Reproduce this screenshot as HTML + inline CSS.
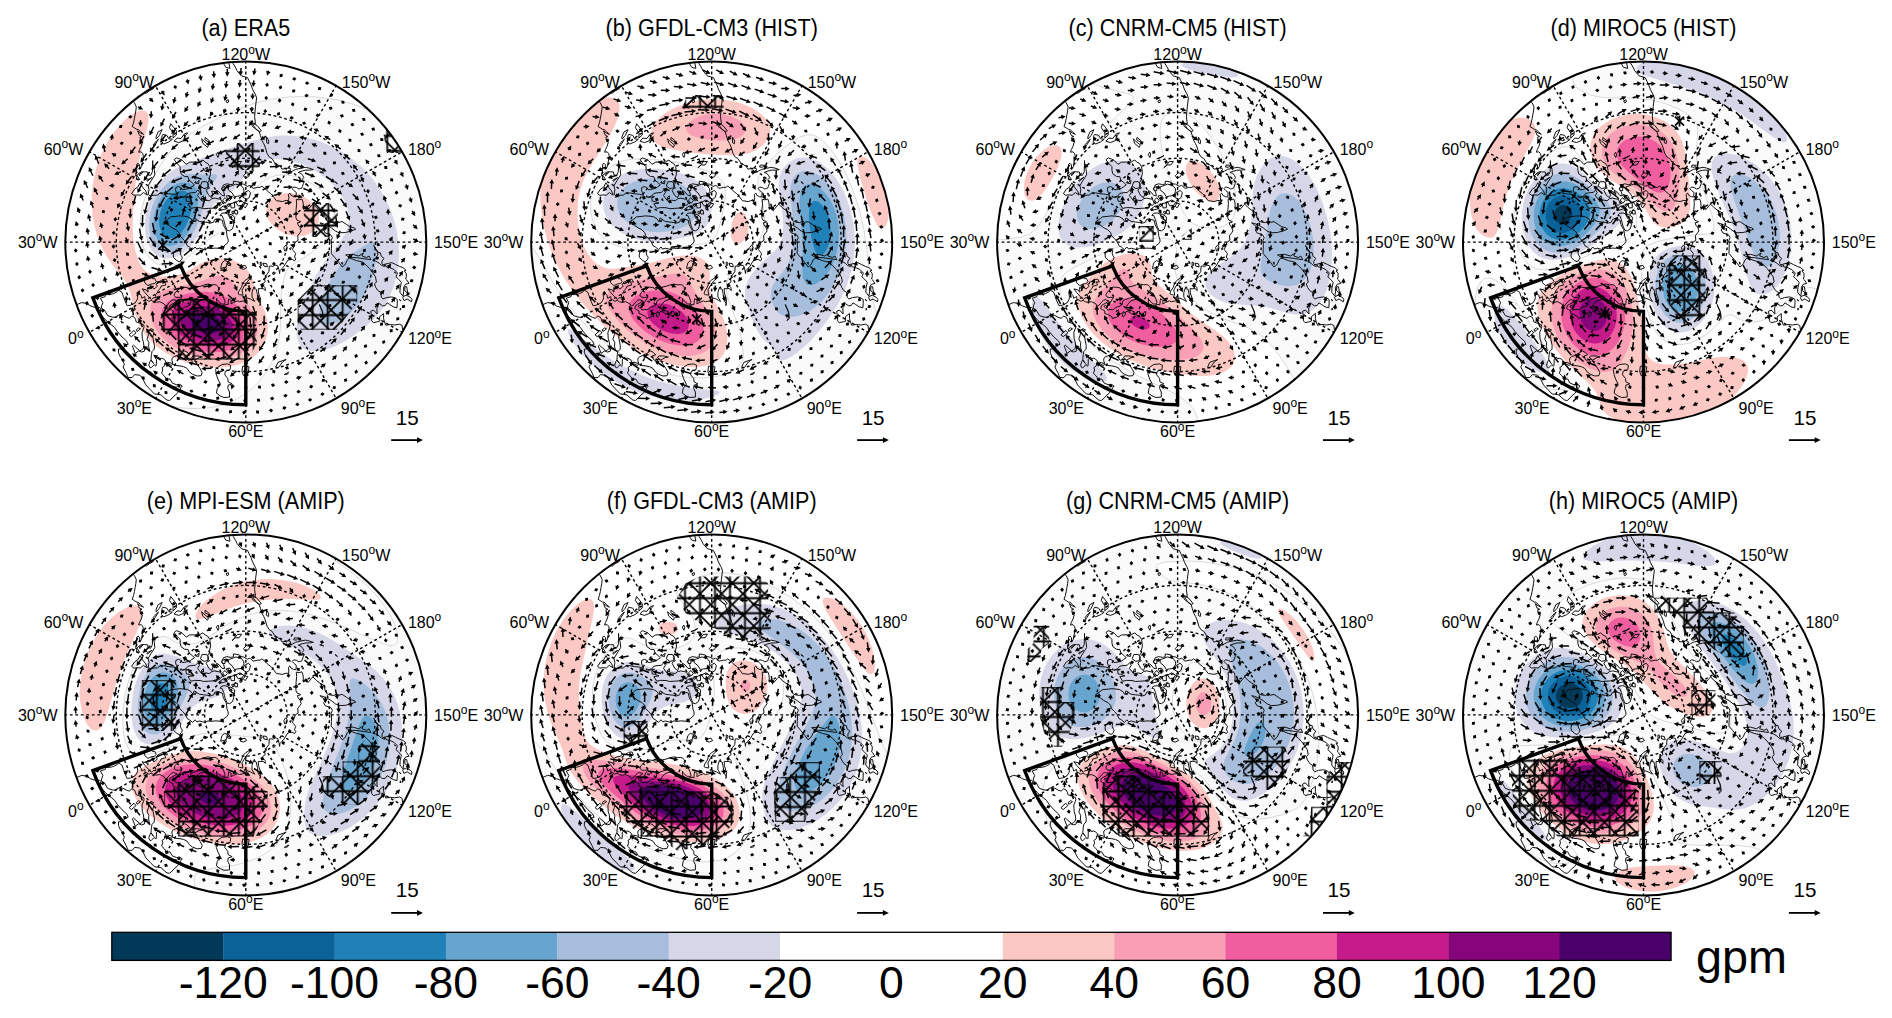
<!DOCTYPE html><html><head><meta charset="utf-8"><title>fig</title><style>html,body{margin:0;padding:0;background:#fff}svg{display:block}text{font-family:"Liberation Sans",sans-serif;fill:#000}.ll text{font-size:16px}.dg{font-size:12px}.tt{font-size:21.6px}.ll text.rv{font-size:20.6px}.cb{font-size:44.5px}.gp{font-size:46.8px}.cst{fill:none;stroke:#111;stroke-width:1;stroke-linejoin:round}.grd{fill:none;stroke:#000;stroke-width:1.4;stroke-dasharray:2.8 2.7}.bx{fill:none;stroke:#000;stroke-width:3.4;stroke-linejoin:miter}.sh{fill:none;stroke:#000;stroke-width:1.5}.hd{fill:#000;stroke:none}.z0{fill:none;stroke:#cfcfcf;stroke-width:.8}.oc{fill:none;stroke:#000;stroke-width:2}</style></head><body><svg width="1892" height="1018" viewBox="0 0 1892 1018"><defs><clipPath id="cc"><circle r="180.5"/></clipPath><pattern id="hg" width="15.0" height="15.0" patternUnits="userSpaceOnUse"><path d="M-1 7.5 H16 M7.5 -1V16" stroke="#000" stroke-width="1.8" fill="none"/></pattern><pattern id="hd" width="21.5" height="21.5" patternUnits="userSpaceOnUse"><path d="M-21.5 -43L43 21.5M-21.5 -21.5L43 43M-21.5 0L43 64.5M-21.5 21.5L43 -43M-21.5 43L43 -21.5M-21.5 64.5L43 0" stroke="#000" stroke-width="1.8" fill="none"/></pattern><g id="base"><path class="cst" d="M-77 -187.8L-75.4 -180.2L-73.5 -174.9L-75.7 -169.9L-78.1 -165.2L-80.9 -162.2L-86 -160.4L-90.3 -159.6L-93.4 -157.9L-92.5 -153.3L-96.4 -151.3L-99.3 -149L-103.4 -149.3L-105.4 -146.1L-107.8 -145.7L-111.3 -146.7L-114.3 -150L-120.1 -152.6L-124.9 -154.2L-125.3 -149.9L-119.5 -144.9L-114.2 -142.1L-111.5 -139.6L-109.5 -135.2L-110 -131.1L-110.7 -127.3L-111.4 -123.3L-112.3 -119.2L-113.6 -115.6L-111.5 -114.3L-108.8 -112.6L-107.7 -112.7L-105.2 -110.4L-102.2 -107.7L-105.5 -109.2L-108.2 -111.3L-106.4 -106.8L-103.8 -105.6L-105.8 -105.1L-105.3 -101.7L-103.4 -99.9L-104.6 -95.8L-106.3 -92.4L-107.1 -89.9L-104.6 -90.3L-103.1 -88.6L-102.4 -85.9L-103.1 -82L-103.9 -78.3L-104.2 -75.7L-105.9 -72.8L-106.1 -77.1L-107.6 -78.8L-109.1 -77.8L-109.1 -72.2L-110.2 -66.2L-108.8 -66.7L-106.5 -69.1L-104.2 -70.3L-101.1 -70.3L-98.2 -70.1L-97.6 -67.1L-95.2 -66.7L-93.4 -70.3L-93.1 -76.7L-93.1 -81.5L-93.1 -78.1L-91.5 -72.8L-91 -67.3L-94.7 -61.5L-97.7 -56.4L-96.8 -52.5L-97.6 -47.6L-95.5 -46.2L-91.9 -46.8L-88.4 -47L-85.4 -49.3L-81.9 -49.2L-77.3 -48.3L-72.3 -47.9L-68.1 -46.8L-69.4 -49.5L-70.2 -51.9L-69.9 -54.6L-67.4 -55.5L-65.3 -54.8L-63.5 -52.4L-61.5 -52.5L-59 -53.1L-56.5 -53.7L-54.2 -55.2L-51.4 -57.1L-53.1 -59L-56.6 -61.8L-57.8 -65.4L-61.1 -65.6L-64.8 -68.3L-65.6 -71.6L-65.7 -75.5L-68.9 -78.7L-71.6 -82.4L-69.4 -84.2L-66.1 -83.1L-63.2 -81.5L-59.6 -77.7L-56 -80L-50 -80L-46.3 -80.2L-42.8 -82.1L-40.7 -79.9L-38 -78.6L-36.1 -75.6L-35.4 -71.1L-35.3 -67.9L-36.3 -64.7L-36.1 -62.5L-38 -59.7L-37.2 -55.1L-36.2 -54L-38.3 -53.6L-39.6 -51.6L-36.9 -46.5L-34.1 -44.4L-32.8 -47.8L-34.3 -50.9L-31.8 -50.8L-29.1 -49.4L-29.2 -51.7L-26.5 -49.9L-23.8 -46.6L-21.1 -46.3L-22.2 -50.5L-24.3 -53.2L-23.2 -54.6L-22.5 -57.1L-19 -58.3L-14.9 -57.5L-12.3 -58.1L-12.4 -60.9L-9.6 -60.6L-6.3 -59.9L-5.1 -58.3L-2 -57.9L1.5 -55.7L4 -56.7L4.9 -56.3L7.1 -53.8L9.1 -54.1L11.6 -54.7L14.2 -54.7L16 -56L18.2 -54.4L20.2 -52.5L22.4 -50.4L24.8 -48.6L26.9 -46.5L28.6 -44.1L30.7 -41.3L33.3 -41.1L36.5 -40.5L40.3 -41.7L42.9 -41.4L43 -44.9L42.6 -47.6L44.1 -49L45.2 -46.8L47.8 -45.4L50.2 -45.2L50.5 -49.6L48.1 -51.5L46.4 -53.4L47.9 -55.1L50.8 -54.5L53.1 -53.1L56.1 -54.1L56.6 -55.7L57.7 -58.7L56.1 -62.3L58 -64.4L56.9 -66.6L55.2 -68.7L52.5 -69.7L54 -70.4L59.3 -71.9L63.7 -72L67.6 -72.5L63.2 -74L59.5 -74.8L54.6 -73.7L49.9 -72.7L47 -71.1L43.3 -69.3L40.1 -69.5L42.7 -69.7L45.2 -72.9L42.9 -74.3L40 -73.6L36.3 -72.9L34.5 -75.7L31.4 -77.7L28.7 -79.6L26.3 -83.5L23.6 -85L21.3 -88.6L19.4 -95.1L17.9 -98.5L16.1 -101.8L14.6 -106.7L13.5 -110.2L9.5 -113.4L6.5 -115.8L6.2 -117.4L5.3 -121.5L6.2 -119.2L9.7 -118.4L8.8 -125.4L9.7 -135.6L10.8 -144.1L9.8 -147.1L6.7 -153L5.2 -157.2L1.7 -164.5L-4.4 -166.2L-8.7 -171.3L-10 -174.1L-12.5 -178.3L-15.3 -182.8L-19.1 -187.6M-25.9 -184.2L-22.6 -179.1L-19.9 -174.7L-15.8 -173.7L-17 -179.7L-21.8 -185.5M-81.8 -20.4L-78.6 -22.5L-75.3 -25.2L-69 -25.8L-66.6 -26.2L-62.7 -26L-58.3 -25.4L-54.6 -23.2L-52.8 -20.3L-49.4 -22.5L-46.5 -20.7L-42.2 -20.1L-37.7 -19.6L-35 -19L-32.1 -20L-31.1 -22.6L-28.8 -23.3L-25.8 -22.5L-23.4 -21.8L-22.6 -17.7L-21.3 -14.9L-19.7 -12.3L-19.1 -8.9L-18.8 -5.8L-17.8 -3.1L-17.5 -0.6L-19 1.7L-20.8 2.9L-22.7 4.8L-22.1 7.2L-26.7 6.2L-30.9 6L-35 6.5L-37.9 6L-40.5 7.5L-43.4 6.9L-46.3 6.1L-49 6.9L-50.7 4.9L-53.2 7.5L-56.3 4.9L-58.7 3.6L-60.2 0L-63 -3.3L-66.1 -6.4L-66.9 -9.4L-69.7 -12.3L-73.7 -14.3L-77.5 -17.2L-80.8 -18.6L-81.8 -20.4M-71.8 9.5L-72.5 12.8L-72.3 15.4L-68.9 18.5L-66.5 19.6L-64.1 17.4L-63.5 15.2L-64.8 13.2L-65.5 11L-64.8 8.5L-66.9 7L-68.1 9.6L-69.5 7.3L-70.6 9.9L-71.8 9.5M-63.9 -44.7L-60 -46L-57.9 -48.6L-54.7 -49.3L-50.5 -49.6L-47.8 -52.2L-46.3 -49.6L-48.2 -46.6L-46.1 -43.8L-43.8 -40.9L-39.9 -42L-36.5 -41.3L-33.9 -43.4L-30.8 -44L-25.1 -42.7L-23.3 -38.9L-25.5 -36.4L-27.9 -39.2L-28.2 -34.8L-31.3 -34.7L-32.8 -34L-37.4 -33.7L-42 -33.4L-45.6 -34.4L-51.1 -34.5L-55 -33.7L-57.8 -38.3L-52.7 -39L-56.9 -40.6L-59.5 -40.9L-59.9 -44.3L-57.2 -45.5L-63.9 -44.7M-25.7 -26.6L-24.1 -28.8L-20.4 -29.2L-17.4 -27.9L-16.1 -23.8L-12.3 -21.3L-12.1 -17.2L-13.3 -13.3L-16.1 -11.3L-18.5 -11.6L-20.5 -16L-21.3 -19.2L-22.1 -22.5L-23.8 -26.5L-25.7 -26.6M-17 -27.2L-14.8 -27.8L-11.1 -25L-11.3 -21.2L-14.3 -23.3L-17 -27.2M-26.5 -31.5L-22.7 -32.4L-18.6 -33.6L-19.3 -36.3L-22.5 -36.1L-27.1 -32.8L-26.5 -31.5M-15 -56L-10.2 -57.9L-5 -56.9L-2.3 -53.7L-1.8 -50.9L-4.1 -46.5L-8.1 -46L-11.3 -45.3L-13.6 -49.1L-17.5 -52.3L-17.4 -55.3L-15 -56M2.7 -51.7L4.7 -49.3L3.5 -44.6L0.7 -42.5L-3.2 -45.2L-1.3 -49.5L2.7 -51.7M-10 -39.9L-5.9 -42.1L-2.1 -39.7L-3.9 -36.8L-7.7 -36.2L-10 -39.9M-19.6 -46.1L-16.1 -46.8L-14.2 -43.6L-16.7 -41.3L-19.6 -46.1M-23.3 -42.1L-20.7 -44.4L-18.4 -41.4L-20.6 -38.8L-23.3 -42.1M-39.3 -60.5L-43.8 -60.3L-45.4 -56.1L-41.8 -53.5L-38.1 -54.4L-37.7 -58.1L-39.3 -60.5M-105.7 -59.3L-108 -55.1L-111.2 -53L-114.2 -48.5L-111.9 -46.8L-108.6 -47.2L-105.4 -46.9L-102.4 -49.5L-98.5 -47L-100 -51L-103.2 -54.9L-105.7 -59.3M7 -118.5L11.2 -116.7L15.6 -111.2L13.6 -110.5L9.9 -113.4L7.7 -116.6L7 -118.5M20.8 -105L23 -101.1L22.7 -98.4L20.8 -99.4L20.8 -105M52.8 -76.8L48.6 -77.1L47.9 -75.1L50.5 -74.8L52.8 -76.8M57.8 -46L56.4 -49.1L55.6 -48.7L56.8 -46L57.8 -46M-58.1 -109.3L-61.1 -105.8L-62.2 -101.5L-67.1 -99.5L-71.7 -100.9L-68.8 -104L-64.8 -103.6L-61.3 -108.3L-58.1 -109.3M-75.1 -118.4L-76.3 -114.4L-72.7 -109.1L-72.8 -104L-69.5 -107L-69.3 -110.9L-72.4 -115L-75.1 -118.4M-73.4 -102.8L-76.9 -100.2L-82.2 -98L-84.3 -100.4L-83.8 -106.2L-82.9 -107.7L-78.9 -106.7L-77 -103.3L-73.4 -102.8M-83.6 -112.5L-86.4 -106.7L-89.6 -103.1L-89.8 -105.1L-87.7 -110.2L-83.6 -112.5M-87.3 -102.9L-90.7 -97.3L-91.9 -95.8L-92.5 -97.4L-89.4 -101.1L-87.3 -102.9M4.2 -68.6L0.6 -69.3L-2.3 -66.4L-0.6 -63.9L2.9 -65.5L4.2 -68.6M-4.2 -80.7L-8.5 -80.4L-12 -75.6L-13.8 -74.4L-10.8 -77.2L-6.7 -77.1L-4.2 -80.7M-44.2 -103.2L-42.9 -98.7L-38.3 -94.7L-37.3 -97.1L-41.8 -100.9L-44.2 -103.2M-13.7 -86.5L-17.8 -83.9L-20.8 -83.3L-16.5 -85.1L-13.7 -86.5M-183.2 56L-175.3 62.1L-171.1 63L-167.6 62L-164.3 60.5L-159.5 61.2L-155 63.9L-149.7 65.7L-146 65.3L-145 66.7L-145.7 71L-144 73.7L-140.2 77.7L-138.3 79.8L-134.7 82.5L-131.3 85.3L-128.2 89.8L-123.7 94.9L-119 99.1L-117.6 102.3L-121.1 103.5L-122.8 106.8L-127.3 106.9L-127.3 110.7L-125.4 114.9L-124 116.4L-121.4 122.2L-122.7 124.9L-119.7 130.7L-117.7 135.4L-113.7 135.5L-111.2 132.5L-105.9 133.1L-103 136.7L-100 142.8L-95.7 147.4L-91.3 151.9L-87.9 152.2L-84.7 152.8L-81.7 155.7L-78.8 158L-76.2 158.4L-72.8 155.3L-71.7 153.8L-68.7 151.4L-66.5 148.6L-64.8 145.5L-63.5 143.9L-66.3 142.2L-69.5 142.6L-73.4 141L-75.9 136.9L-79.1 137.1L-81.8 133.5L-84.2 131.2L-83 127.9L-83.7 125.5L-81.3 123.8L-81.1 121.1L-77.6 121.8L-74.2 123.5L-73.4 122.1L-69.8 123.4L-65.8 123.8L-62.1 124.6L-58.8 126.2L-56.4 129.8L-53.4 132.1L-48.7 133.9L-44.7 133.6L-43.6 130.5L-45.9 126.2L-49.1 121.6L-50.6 119.2L-51 118L-46.7 115.6L-43.4 114.9L-46.1 114.2L-49.5 113.8L-53.1 113.9L-54.1 115.9L-51.3 117.5L-53.9 117.7L-57.6 118.1L-58.4 117L-59.2 113.7L-56 112.9L-58.6 110.1L-61 108.8L-65 111.3L-68.9 113.4L-71.9 114.6L-73.7 116.1L-73.9 118.3L-73 121.6L-75.5 120.8L-78.1 120.3L-80.5 120.3L-80.2 118.9L-81.9 117L-84.3 116.1L-86.3 116.7L-86.9 115L-89.4 117.3L-89.3 119.8L-89.6 123.4L-90.2 124.2L-91.5 122.4L-94.8 125.8L-96.1 125.3L-97 122.9L-95.8 119.5L-94.9 118L-92.2 121.5L-94.7 117.8L-94.7 115.7L-94.3 112.4L-93.8 109.4L-91.5 107.1L-91.4 103.3L-92.3 98.9L-93 94.7L-91.9 90.3L-93.8 89.3L-92 87.9L-94.7 86.5L-97.4 88.7L-97.3 92.6L-98.8 97.1L-96.9 100.4L-97.2 104.2L-96.2 108.7L-98.5 105.6L-101.1 106.9L-101.5 109.2L-104.3 109.9L-106.5 109.1L-104.3 108L-102.4 106.1L-101.9 103.7L-102.4 100L-103.5 96.5L-103.6 93.9L-103.8 90.2L-102.4 86.9L-101.7 84.7L-102.3 82.5L-105.8 81.2L-109.7 79.7L-110.3 77.2L-111.4 75.1L-114 74L-116.5 76.2L-119.4 75.2L-122.9 73.3L-128.1 73.1L-129.5 75.3L-133.6 75L-138.2 73.5L-141.5 67.8L-144.5 66.2L-144 63.2L-142.9 60.6L-145.4 56.1L-140.6 54.5L-140.3 52.5L-136 52.5L-132.1 51.5L-128.3 49.5L-127.2 48.1L-123.9 50.1L-122.4 54.5L-120.7 58.9L-118.7 63.6L-115 63L-110.7 60.9L-108.7 57.8L-108.1 55.6L-108.6 51.8L-107.1 50.6L-104.7 53.3L-103.9 56.2L-101 54.4L-100.6 57.6L-99.1 57.7L-96.8 59.3L-94.6 58.2L-92.1 59.8L-89.2 60.2L-86 59.6L-83.6 60.8L-81.8 61.7L-80.4 64L-78.5 63.1L-76.2 60.2L-74 58.1L-72.1 57.6L-68.8 58.8L-71.8 60.9L-74.4 62.4L-76.2 63.5L-76.9 66.4L-75 67.6L-72.6 68.9L-72.9 71.2L-69.9 72.4L-65.9 74.5L-64.8 76.7L-63.6 75.7L-61.1 75.4L-58.7 72.4L-56.7 71.3L-55 71.9L-55.1 74.4L-54.4 74.9L-52.2 72.9L-52.4 70.9L-51.2 69.2L-48.9 69.8L-45.2 72.3L-42 72.8L-42.9 69.9L-46.2 68.5L-48 68.3L-50.8 67.4L-51.2 64.4L-49.6 62L-46.7 58.7L-41.6 57.2L-39.4 57.1L-38.9 54.6L-41.4 53.4L-44.5 55L-48.9 56.2L-52.7 57.5L-54.9 59.3L-55.5 62.7L-57.3 63.9L-61.5 65.2L-64.5 67.7L-67.4 67.4L-69.8 67.9L-71.1 66.1L-69.8 64L-67.4 60.5L-65.2 57.1L-64 54.9L-67.4 55.5L-70.4 55L-71.8 53.1L-70.7 50.6L-67.5 47.6L-64.3 45L-61 45.2L-57.6 45.8L-56.1 47.7L-52.7 45.8L-49 44.9L-44.8 44L-41.2 42.7L-37.8 42L-36.7 42.2L-34 42.7L-31.5 42.5L-29.2 43L-27.9 44.6L-26.3 47.5L-28 48.5L-25.8 50.6L-23.5 52.7L-21.8 56.7L-20.7 60.1L-21.4 62L-24.4 61.8L-27.5 58.9L-29.1 57.2L-29.3 56.1L-29.1 59.7L-29.8 63.2L-28.4 67L-27 66.9L-26.7 64.6L-24.1 66.2L-22.4 63.2L-19.6 62.3L-17.8 62.8L-17.3 58.3L-17 56.6L-14.6 58.4L-14.8 61.8L-12.3 60.4L-8.3 58.8L-6.3 59.6L-3.1 59L0 58.5L1 55.7L4.5 56.9L7.2 58.4L8.9 59.3L6.2 54.8L6.2 50.5L7.4 46.4L10.4 47L11.6 52.4L12.3 58.1L14.8 61.8L14.1 63.5L14.9 57.5L12.7 50.8L12.5 46.5L15.1 46.6L17.3 46.4L19.6 48.5L19.3 45.6L16.2 42.3L19.4 39.7L18.7 36.7L20.6 33L23.1 29.6L23.5 24.1L25.2 23.9L27.1 24.4L29.2 22.8L32 23.7L33.2 27.9L33.8 31.5L34.1 28.6L36 26.6L38.4 24L40.6 20.2L42.2 17.9L46.4 17.3L48.8 18.7L50.1 16.8L48.7 14.9L49.9 11.5L47.4 8.4L46.7 7.4L48.3 3.4L49.5 0L52.3 -1.8L51.9 -6.4L54.3 -9.6L55.4 -11.3L54.3 -14.6L52.4 -17L51.6 -19.3L54.4 -19.8L54.8 -20.5L51.3 -21.8L50.1 -24.4L50.2 -29L50.3 -32.6L50.8 -38.3L50.5 -42.8L53.1 -42.3L56.1 -43.1L57.2 -40.1L57.6 -36L57 -34.2L59.7 -35.2L61.9 -33.6L62.2 -32.4L65.6 -36.4L67.1 -38L70.6 -34.4L74.4 -31.6L78.5 -29.3L79.3 -24.2L81.4 -21L84.4 -19.9L88.1 -19.5L91.1 -21L92.9 -19.7L96.4 -20.5L100.6 -17.7L103.8 -15.5L108.2 -14.3L110 -12.9L105.5 -11.1L99.6 -9.6L93.6 -9.3L89.6 -11L85.5 -14.3L81.5 -16.6L77.2 -18.5L74.1 -19.2L77 -17.1L79.6 -14L77.6 -12.3L79.5 -9.1L84.9 -7.4L86.6 -4.5L85.2 -1.2L85.8 2.2L85.6 6.7L85.4 11.2L89.2 15.7L93.3 20.7L96.3 24.9L99 22.9L100 21.2L101.5 17.9L103.4 16L106.3 16.8L110.7 18.5L116.8 20L120.9 23.5L123.6 26.3L126.9 30.5L129.7 34.8L130.6 39.9L128.7 41.8L129.9 45.2L132.2 48.6L135 50.5L135.6 55.3L137.2 56.8L140.9 55.5L145.9 54.8L149.2 55.8L151.5 57.5L151.5 61.2L151.2 65.7L147.4 64.7L143.7 62.2L141.3 60.8L139.4 63.5L136.7 63.7L134 61.6L131.7 63.4L131.1 66.8L131.4 71.9L127.8 68L124.9 69.2L125.9 74.2L125.9 78.7L127.5 80.6L132 79.6L134 78.9L133.7 74.7L137.8 71.4L137.8 76.4L138.4 78.9L139.9 83.1L144.4 82.4L148.9 82.9L153.8 82.1L156.3 83.5L156.8 87.3L159.7 84.9L163.6 88.5L166.1 94L169.2 99.2M-40.3 181.6L-37.9 178.3L-34.8 176L-32.8 176.8L-30.1 179.8L-27.9 186.5M-82.7 169.5L-77.3 165.1L-78.8 170.5M-85.6 165.1L-83.3 160.1L-83.8 168.1M-23.8 122.4L-27.7 124.9L-30.2 127.6L-29.4 132.7L-27.9 137L-25.3 142.2L-28.5 146.4L-29.4 151L-25.7 153.7L-21.8 155.4L-16.3 155L-16.3 149.9L-18 146.3L-17.6 143.1L-13.7 141.8L-17.7 139.7L-18 136.4L-21 132.7L-20.5 129.2L-15.7 127.6L-15.1 123.2L-18.2 121.8L-23.8 122.4M-3.2 124.1L3.3 124.7L2.3 131.1L-2.3 133.7L-3.8 129.4L-3.2 124.1M75.4 78.6L76.8 75.5L76.6 69L73.6 62.4L74.4 64.7L77.1 70.7L77.7 76.3L75.4 78.6M30 125L32.2 120.2L40.4 117.3L36.7 119.9L32.5 125.7L30 125M-41.9 72.5L-38.4 73.8L-37 71.9L-38.5 68.8L-41.9 72.5M-34.8 73L-32.4 73.4L-31.7 69.6L-33.2 69.6L-34.8 73M157.2 54.1L154.1 50.1L154.4 45.7L155.6 40.2L152.2 36.5L150.2 34.7L151.7 30.9L148.3 27.5L143.6 25.3L140.3 24.7L139.4 22.1L142.5 21.3L146 20.5L149.8 22.4L154 24.4L157.2 25.5L160.3 28.3L158.4 28.8L160.4 31.2L160.6 34.1L159.9 36.9L160.8 37.7L163.2 41.3L159.7 42.2L157.8 45.2L157.9 49.8L157.2 54.1M157.4 54.5L160.5 53.1L164.3 55L166.2 57.2L165.7 59.7L161.4 56.9L158.2 58.5L157 55.6L157.4 54.5M161.9 51L161.4 47.8L160.9 44.6L159 44.7L159 48.6L161.9 51M138.7 24.5L135.6 23.2L133.6 21.2L129.7 18.9L126.9 18.3L130.1 16L132.1 12.7L131.3 10.8L134.5 10.6L135.5 14.2L138.2 16.2L136.2 19.1L136.2 21.6L137.3 23L138.5 21.9L138.7 24.5M125.1 17.6L123.3 14L120.6 15.4L116.1 13.8L117.6 10.9L112.9 13.9L107 12.2L102.3 12.6L99.9 12.8L102.1 14.3L106.5 15.4L111.2 15.6L117.3 16.5L125.1 17.6M-103.7 46.8L-101 50.4L-97.6 54.1L-94.3 57.4L-92.8 55.8L-89.8 55.4L-90.4 52.6L-88.8 51.2L-87.4 48.1L-85.4 46.2L-84.8 44.1L-81.5 43.3L-80 42.9L-81 40.4L-81.6 39.8L-78.3 39.9L-79.6 37.1L-83.1 37.4L-85.6 39L-88.6 40.4L-87.6 41.2L-89.9 41.9L-88.5 44.1L-90.5 46.1L-92.1 46.9L-93.6 44.6L-94.7 45.8L-95.9 46.8L-98 45.3L-97.9 47.7L-97.6 49.7L-98.1 50L-99.1 47.9L-103.7 46.8M-97.8 43.5L-100.9 40.8L-101.7 37L-96.9 35.3L-94.9 34.5L-93.1 36.7L-91 36.4L-89.6 39.5L-91.1 41.3L-94.8 42L-97.8 43.5M-23.8 20.7L-24.6 23.8L-25.1 26.4L-21.1 25.2L-19.4 24.8L-18.7 20.7L-14.9 22.9L-16.7 19.9L-21.3 18.5L-23.8 20.7M-7.7 51.7L-6.4 52.5L-2.8 53.1L-3.8 48L-1.5 43.9L1.4 39.7L5 35.8L3.7 35.4L0 37.8L-2.8 40.5L-4.3 45.1L-6.9 49L-7.7 51.7M-5.6 26.2L-2.4 27.2L0.9 25.7L-0.8 23.2L-4.3 24.2L-5.6 26.2M18.1 24L17.6 21L20.9 21.7L21.6 24.8L18.1 24M14.5 23.2L14.5 19.9L16.3 20.9L15.8 23.4L14.5 23.2M38.8 8.9L38 5.3L40.2 2.8L41.4 5.1L40.8 8.7L38.8 8.9M44.6 7.9L45.5 5.6L43.8 6.2L44.6 7.9M46 -25L45.3 -27.2L43.7 -27.8L43.9 -25.8L46 -25M-112.4 103L-106.4 108.3L-110.6 111.3L-113.4 103.9L-112.4 103M-111.8 88.3L-109.8 90.8L-114.4 94.6L-116.7 92.8L-111.8 88.3M-107.1 85.8L-105.1 86.7L-108.8 89.4L-109.4 87.6L-107.1 85.8M-95.6 129.6L-89.9 134.8L-95.7 131.7L-95.6 129.6M-75.7 144.1L-69.2 145L-73.1 146.6L-75.7 144.1M154.3 68.1L154.5 65.9L155.1 67.1L154.3 68.1M-11.6 56.8L-10.3 55.6L-10.1 57.1L-11.2 57.7L-11.6 56.8M-61.7 69L-59 67.9L-60.4 69L-61.7 69M77.9 -68.9L73.9 -70.1L75.4 -70.3L77.9 -68.9M91.6 -58.3L89.2 -60.2L90.5 -59.9L91.6 -58.3M61.6 -56.8L59.3 -57.9L60.7 -58.6L61.6 -56.8M131.1 9.2L127.9 3.3L130 6.8L131.1 9.2M85.4 -20.5L83.4 -21.3L85.6 -21L85.4 -20.5M2 -38.3L-0.7 -38.9L-2.5 -36.1L-0.6 -34.2L2 -38.3M-11.3 -39.6L-15.4 -38.2L-14.5 -34.1L-11.2 -34.4L-11.3 -39.6M-16.6 -38.3L-18.7 -37.6L-17.7 -35.6L-16.1 -36.1L-16.6 -38.3M-20.8 -55.6L-24.1 -54.2L-23.4 -51.4L-20.8 -51.4L-20.8 -55.6M-42.4 -46.3L-44.4 -44.4L-42.2 -42.9L-42.4 -46.3M-46.6 -61.8L-49.5 -59L-47.2 -58.3L-46.6 -61.8M-50.1 -60.8L-51.2 -59.5L-49.6 -58.7L-50.1 -60.8M-64.4 -82.4L-67.2 -81L-65.3 -80.6L-64.4 -82.4M-94 -64.6L-98.9 -61.8L-98.4 -60.8L-94 -64.6M-102.8 -70.1L-106 -66.3L-106.5 -67.9L-102.8 -70.1M-108.8 -66.7L-109.4 -63.2L-106.1 -62.5L-108.8 -66.7M-8.5 -31.7L-11.4 -31.4L-10.8 -28.1L-8.1 -28.1L-8.5 -31.7M-12.5 -31L-14.1 -30.3L-13 -27.8L-11.7 -28.9L-12.5 -31M-28.5 -35.2L-32.4 -34.1L-29.8 -33.1L-28.5 -35.2M-51.7 -24.1L-52.4 -21.2L-50.3 -20.3L-49.3 -22.8L-51.7 -24.1M-1.5 56L0.5 56L0 53.7L-1.4 54.5L-1.5 56M-55.2 70.6L-53.4 70.9L-52.9 70.2L-54.3 69.5L-55.2 70.6M-73.7 64.1L-72 66L-70.3 64.4L-72 63.3L-73.7 64.1M-124.8 79.2L-122.3 80.6L-124.2 80.7L-124.8 79.2M-17.5 -142.4L-19.8 -141.1L-18.8 -139.2L-17.2 -140.1L-17.5 -142.4M-27.8 -89.9L-29.4 -87.8L-27.8 -84.6L-26.9 -87L-27.8 -89.9M-40.6 -104.7L-40.9 -102.2L-36.3 -99.7L-36.5 -101.3L-40.6 -104.7M-49.3 -43.7L-50.3 -42.2L-48.6 -41.5L-49.3 -43.7M38.5 132.4L42.8 130.1L41.7 132.1L38.5 132.4M27.3 32.6L29.4 30.4L28.8 32L27.3 32.6M-64.6 59.2L-62.4 60.2L-62.3 59.1L-64.6 59.2M-4.2 -34L-6 -34.3L-5.7 -32.4L-4 -32.9L-4.2 -34M-0.3 -39.5L-1.7 -40L-1.5 -38.4L-0.3 -39.5M-10.3 -44.7L-11.9 -44.6L-11.1 -43.1L-10.3 -44.7M-9.9 -32.5L-11.1 -32.1L-10.4 -31.2L-9.9 -32.5M-44 -44L-44.9 -42.6L-43.7 -42.2L-44 -44M-64.9 -46.3L-65.7 -45.1L-64.3 -45L-64.9 -46.3M-18.7 20.7L-18 23.1L-15.3 23.6L-15.1 21.5L-17.4 20L-18.7 20.7M-21.5 26.6L-20 27.5L-19.4 25.8L-20.5 25.3L-21.5 26.6M7.6 45.5L9.3 45.5L8.6 44.5L7.6 45.5M96.6 22.3L96.5 20L95.5 20.6L96.6 22.3M132.9 10.5L130.9 8L131.1 9.4L132.9 10.5M149.9 31.3L148.5 29.9L149.8 30.5L149.9 31.3M155.1 58.9L153.4 57.4L154.9 58.2L155.1 58.9"/><path class="grd" d="M41.2 0A41.2 41.2 0 1 1 -41.2 0A41.2 41.2 0 1 1 41.2 0M83.8 0A83.8 83.8 0 1 1 -83.8 0A83.8 83.8 0 1 1 83.8 0M129.5 0A129.5 129.5 0 1 1 -129.5 0A129.5 129.5 0 1 1 129.5 0M41.2 0L180.5 0M35.6 20.6L156.3 90.2M0 0L90.3 156.3M0 41.2L0 180.5M-20.6 35.6L-90.2 156.3M0 0L-156.3 90.2M-41.2 0L-180.5 0M-35.6 -20.6L-156.3 -90.3M0 0L-90.3 -156.3M0 -41.2L0 -180.5M20.6 -35.6L90.3 -156.3M0 0L156.3 -90.3"/></g><g id="top"><path class="bx" d="M-65.1 23.7L-152.9 55.7A162.7 162.7 0 0 0 0 162.7L0 69.3A69.3 69.3 0 0 1 -65.1 23.7z"/></g><g id="lab" class="ll"><text x="0" y="-181.7" text-anchor="middle">120<tspan class="dg" dy="-6.6">o</tspan><tspan dy="6.6">W</tspan></text><text x="0" y="195.2" text-anchor="middle">60<tspan class="dg" dy="-6.6">o</tspan><tspan dy="6.6">E</tspan></text><text x="-188.3" y="5.8" text-anchor="end">30<tspan class="dg" dy="-6.6">o</tspan><tspan dy="6.6">W</tspan></text><text x="188.3" y="5.8" text-anchor="start">150<tspan class="dg" dy="-6.6">o</tspan><tspan dy="6.6">E</tspan></text><text x="-91.8" y="-154.3" text-anchor="end">90<tspan class="dg" dy="-6.6">o</tspan><tspan dy="6.6">W</tspan></text><text x="96" y="-154.3" text-anchor="start">150<tspan class="dg" dy="-6.6">o</tspan><tspan dy="6.6">W</tspan></text><text x="-162.5" y="-87.2" text-anchor="end">60<tspan class="dg" dy="-6.6">o</tspan><tspan dy="6.6">W</tspan></text><text x="162.1" y="-87.2" text-anchor="start">180<tspan class="dg" dy="-6.6">o</tspan><tspan dy="6.6"></tspan></text><text x="-162.1" y="102.2" text-anchor="end">0<tspan class="dg" dy="-6.6">o</tspan><tspan dy="6.6"></tspan></text><text x="162.1" y="102.2" text-anchor="start">120<tspan class="dg" dy="-6.6">o</tspan><tspan dy="6.6">E</tspan></text><text x="-93.8" y="171.5" text-anchor="end">30<tspan class="dg" dy="-6.6">o</tspan><tspan dy="6.6">E</tspan></text><text x="95" y="171.5" text-anchor="start">90<tspan class="dg" dy="-6.6">o</tspan><tspan dy="6.6">E</tspan></text><text class="rv" x="161.4" y="182.6" text-anchor="middle">15</text><path d="M145.4 198H172" stroke="#000" stroke-width="1.8" fill="none"/><path d="M177.2 198L171.2 195.2V200.8z" fill="#000"/></g><pattern id="g1" href="#hg" x="-74.5" y="65"/><pattern id="d1" href="#hd" x="-59.5" y="71.7"/><pattern id="g2" href="#hg" x="44.4" y="50.5"/><pattern id="d2" href="#hd" x="74.6" y="57.2"/><pattern id="g3" href="#hg" x="-15.6" y="-98.5"/><pattern id="d3" href="#hd" x="-0.6" y="-91.8"/><pattern id="g4" href="#hg" x="133.9" y="-98.7"/><pattern id="d4" href="#hd" x="148.9" y="-92"/><pattern id="g5" href="#hg" x="60" y="-39.1"/><pattern id="d5" href="#hd" x="75" y="-32.4"/><pattern id="g6" href="#hg" x="-19.1" y="-142.8"/><pattern id="d6" href="#hd" x="-4.1" y="-136.1"/><pattern id="g7" href="#hg" x="-31.5" y="-8.5"/><pattern id="d7" href="#hd" x="-16.5" y="-1.8"/><pattern id="g8" href="#hg" x="6.5" y="-9.5"/><pattern id="d8" href="#hd" x="21.5" y="-2.8"/><pattern id="g9" href="#hg" x="33.3" y="35.5"/><pattern id="d9" href="#hd" x="48.3" y="42.2"/><pattern id="g10" href="#hg" x="-74.5" y="69.1"/><pattern id="d10" href="#hd" x="-59.5" y="75.8"/><pattern id="g11" href="#hg" x="-111.5" y="-42.5"/><pattern id="d11" href="#hd" x="-96.5" y="-35.8"/><pattern id="g12" href="#hg" x="89.4" y="53.8"/><pattern id="d12" href="#hd" x="104.4" y="60.5"/><pattern id="g13" href="#hg" x="-77.5" y="69.1"/><pattern id="d13" href="#hd" x="-62.5" y="75.8"/><pattern id="g14" href="#hg" x="-95.5" y="-1.5"/><pattern id="d14" href="#hd" x="-80.5" y="5.2"/><pattern id="g15" href="#hg" x="-4.2" y="-124.2"/><pattern id="d15" href="#hd" x="-0.9" y="-110.4"/><pattern id="g16" href="#hg" x="85.8" y="54.6"/><pattern id="d16" href="#hd" x="100.8" y="61.3"/><pattern id="g17" href="#hg" x="-66.4" y="69.1"/><pattern id="d17" href="#hd" x="-51.4" y="75.8"/><pattern id="g18" href="#hg" x="-127.1" y="-20.4"/><pattern id="d18" href="#hd" x="-112.1" y="-13.7"/><pattern id="g19" href="#hg" x="-141.3" y="-81"/><pattern id="d19" href="#hd" x="-126.3" y="-74.3"/><pattern id="g20" href="#hg" x="82.2" y="39.1"/><pattern id="d20" href="#hd" x="97.2" y="45.8"/><pattern id="g21" href="#hg" x="141.5" y="54.4"/><pattern id="d21" href="#hd" x="156.5" y="61.1"/><pattern id="g22" href="#hg" x="-86.3" y="68.4"/><pattern id="d22" href="#hd" x="-71.3" y="75.1"/><pattern id="g23" href="#hg" x="40.5" y="-32.5"/><pattern id="d23" href="#hd" x="55.5" y="-25.8"/><pattern id="g24" href="#hg" x="18.2" y="-110"/><pattern id="d24" href="#hd" x="33.2" y="-103.3"/><pattern id="g25" href="#hg" x="48.5" y="38.5"/><pattern id="d25" href="#hd" x="63.5" y="45.2"/></defs><g transform="translate(245.8 242.1)"><g clip-path="url(#cc)"><circle r="181.5" fill="#fafafa"/><path fill="#fff" fill-rule="evenodd" d="M-188 -188l376 0l0 107.7l-10.7-12.7l-12.2-12l-13.1-10.5l-14-9l-14-7.2l-15-5.8l-16-4.4l-8-1.5l-9-1.3l-16-1l-17 0.5l-16 2l-9 1.8l-8 2.1l-15 5.1l-17 7.5l-22 11.4l-8 4.8l-6 4l-7 5.5l-7 6.6l-6 6.9l-6 8.4l-6 9.9l-5 9.9l-4.3 10.3l-3.1 10l-2.2 10l-1 9l0.1 9l0.9 8l2.2 8l2.8 6l3.6 5.1l2 2l3 2.3l3 1.6l4 1.3l4 0.5l4-0.1l4-0.8l4-1.4l4-2l4-2.6l6.2-4.9l16.8-14.8l5-3.3l9.3-4.9l3.7-2.9l4-4.7l18.2-26.4l8.8-10.9l4.4-4.1l4.3-3l4.3-2.1l5-1.4l5-0.6l6 0.1l6.4 1l6.6 1.9l6 2.4l6 3.3l5 3.4l5 4.3l4 4.4l3.1 4.3l2.7 5l1.8 5l0.9 5l0 5l-0.8 5l-1.7 5l-2.1 4l-2.9 4.3l-4 4.7l-4 3.9l-5 4.1l-5 3.6l-17 10.4l-3.3 3l-2.1 3l-1.3 3l-1.1 4l-2.5 13l-0.8 9l-0.1 20l-0.6 11l-1.6 11l-3 11l-2.2 6l-2.8 6l-2.6 4.6l-4 6l-4 5l-4 4.3l-5 4.7l-5 3.9l-6 3.9l-6 3.2l-7 2.9l-6 1.8l-6 1.4l-8 1.1l-8 0.6l-9-0.1l-9-0.6l-9-1.3l-9-1.7l-9-2.2l-10-3l-8-2.9l-10-4.1l-10-4.8l-1 0.2l-4.8 4.1l0 1l-9.2 9l0 1l-9 9l0 1l-9 9l0 1l-7 7l-18 0z"/><path fill="#fcc8c4" fill-rule="evenodd" d="M-106.9 -131l3.9-0.6l3 0.8l1 0.9l1.1 1.9l0.5 2l0.1 3l-0.4 4l-1.1 6l-6.6 26l-2.9 14l-1.9 14l-2.4 27l-0.6 15l0.6 13l1.9 12l3.2 10l1.9 4l1.9 3l2.7 3l2 1.6l3 1.8l3.9 1.6l4.1 1l4 0.4l9-0.3l5-0.8l5-1.4l8-3.4l10.7-6.5l4.3-2.2l6-2.1l6-1.1l4-0.2l5 0.3l8 1.7l7 3l3 2l3.1 2.6l3.3 4l2.2 4l1.4 4l2.2 9l1.6 5l6.8 14l2.1 5l1.8 7l0.7 8l-0.6 6l-1.3 5l-2 5l-3 5l-3.4 4l-4.4 4l-5.5 3.5l-5 2.4l-5 1.8l-5 1.3l-11 1.4l-11 0l-12-1.6l-12-3.1l-11-4.3l-11-6l-8.7-6.4l-4.4-4l-4.6-5l-3.7-5l-3-5l-2.9-6l-2.1-6l-5-22l-2.9-8l-4.4-7l-10.3-12.9l-5-7.1l-4.6-8l-3.7-8l-3.2-9l-2.3-9l-1.5-9l-0.8-10l0.1-9l0.8-10l1.8-10l2.3-9l3.5-10l4-9l4.6-8.3l6-8.7l6-7.1l6-5.7l6-4.3zM40.2 -49l4.8 0l4 0.5l5 1.5l4 1.7l3.8 2.3l3.2 2.5l3 3.1l2.4 3.4l1.6 3.3l1 3.7l0.3 4l-0.5 3l-1 3l-1.8 3.1l-2.7 2.9l-3.3 2.4l-5 2.1l-5 0.8l-6-0.3l-6-1.4l-6-2.6l-6-3.8l-4.5-4.2l-2.9-4l-1.7-4l-0.6-5l0.7-4l1.8-4l3.2-3.9l4-3l5-2.1z"/><path fill="#d6d6e9" fill-rule="evenodd" d="M29.8 -106l9.2-0.5l10 0.4l10 1.4l10 2.4l10 3.5l9 4.1l9 5l9 6.3l7.8 6.4l7.2 7.1l6.7 7.9l6.4 9l5.2 9l4.7 10l3.6 10l2.7 10l1.8 10l0.9 10l0 10l-0.8 10l-1.9 10l-2.5 9l-3.7 9l-4.1 7.7l-5 7.3l-6 7l-8 7.5l-9.4 7.5l-9.6 6.5l-9 5l-8 3.5l-8 2.3l-7 0.9l-6-0.4l-5-1.7l-2-1.3l-2-2l-1.3-1.8l-1.4-3l-1.4-6l-0.1-8l1.1-9l2.1-8l3.5-9l5.1-11l6.8-13l8.1-13l16-21l5.7-9l1.8-4l1.3-4l0.7-4l0.2-4l-0.7-6l-1.7-6l-3.1-7l-3.7-6l-4.6-6l-5.4-5.6l-6-5.1l-6-4.2l-7-4l-8-3.6l-8-2.7l-7-1.7l-8-1l-7-0.1l-6 0.7l-6 1.7l-5 2.6l-5 4.1l-4 4.7l-8.9 12.2l-5.5 6l-5.6 4.4l-10 6.3l-4 3.8l-2 2.8l-2 3.7l-7.2 17l-5 9l-3.7 5l-3.5 4l-3.6 3.5l-4 3l-6 3.3l-5 1.4l-3 0.3l-3-0.1l-5-1.5l-3-1.7l-2-1.6l-3.9-4.6l-3.1-6l-1.7-6l-1.1-8l0.2-9l1.4-9l2.7-9l3.9-9l4.6-7.7l6-7.4l6-5.4l6-4l6-2.9l15.5-5.6l13.5-5.7l9-3.3l37-11.3l10-2.4z"/><path fill="#f99fb5" fill-rule="evenodd" d="M-30.6 34l4.6-0.7l4 0.5l4 1.8l3 2.6l8.2 12.8l10.1 13l4.1 6l2.1 4l1.5 4l0.8 3l0.4 4l-0.5 6l-1.9 6l-3.1 5l-4.9 5l-5.8 3.8l-7 3l-8 2l-8 0.8l-6 0l-6-0.4l-6-1l-7-1.7l-11-4l-6-3l-5-3.1l-4.6-3.4l-4.4-4l-3.6-4l-3-4l-2.2-4l-2.1-5l-1.3-5l-0.4-4l0.4-6l0.7-3l1.3-3l3.2-4.3l2-1.7l3-1.9l4-1.7l6-1.9l20.1-4.5l7.5-2z"/><path fill="#a6bddb" fill-rule="evenodd" d="M-57.1 -68l5.1-0.1l12 0.7l9-0.4l1.8 0.8l0.4 1l-0.1 1l-0.9 2l-5.2 6.9l-3 5.9l-2 5.6l-5.3 18.6l-2.4 7l-3.5 8l-4.3 7l-3.2 4l-3.3 3.3l-3.4 2.7l-3.6 2.1l-4 1.6l-3 0.6l-4-0.1l-3-0.8l-4.3-2.4l-3.7-3.8l-2.9-5.2l-1.6-5l-1.1-7l0.1-7l0.9-7l1.9-7l2.7-6.9l3.3-6.1l3.7-5.2l5-5.4l5-3.8l5-2.8l6-1.9zM124.7 0l1.3-0.4l1.2 0.4l1 1l1.2 3l1 7l-0.4 9l-1.4 8l-2.7 9l-3.2 8l-4.1 8l-4.5 7l-5.1 6.5l-5.4 5.5l-5.6 4.5l-6 3.5l-5 1.8l-5 0.5l-2-0.2l-2-0.8l-2.6-2.3l-1.4-3.1l-0.5-4.9l0.6-5l1.9-7l3-8l4-8.9l4-7.6l7-10.6l4-4.8l4-4l8-6.2z"/><path fill="#f05ea0" fill-rule="evenodd" d="M-46.5 50l6.5-0.3l6 0.4l5 1l5 1.7l5 2.6l6 4.2l5 4.4l5 5.4l3.1 4.6l1.9 4l1.3 5l0.2 4l-0.7 4l-1.6 4l-2.7 4l-3.5 3.3l-3 2.1l-4 2.1l-4 1.5l-5 1.2l-5 0.7l-5 0.3l-6-0.3l-5-0.6l-10-2.5l-5-1.9l-5-2.4l-4.4-2.5l-4.2-3l-3.4-3l-3.7-4l-2.2-3l-2.2-4l-1.4-4l-0.8-4l0.1-4l0.6-3l1.2-3l2-3l2.4-2.5l3-2.1l7-3.3l10-2.6z"/><path fill="#67a5cf" fill-rule="evenodd" d="M-66.2 -59l5.2-0.6l4.4 0.6l4.1 2l2.7 3l1.6 4l0.6 5l-0.3 6l-1 7l-2.1 8l-2.5 7l-3.5 6.8l-3.8 5.2l-4.2 4.2l-5 3.2l-5 1.5l-4 0l-4-1.5l-3-2.2l-2.5-3.2l-1.9-4l-1.4-5l-0.5-5l0.1-5l0.9-6l1.3-5l2-5.1l3-5.6l3-4.3l3.7-4l3.6-3l4.7-2.7z"/><path fill="#c51b8a" fill-rule="evenodd" d="M-54 58l5-0.7l6-0.1l5 0.3l5 0.9l5 1.5l4 1.6l4.4 2.5l4.2 3l3.4 3l3.3 4l1.9 3l1.5 4l0.6 4l-0.3 3l-1.3 4l-1.9 3l-4.4 4l-3.4 1.9l-3 1.3l-7 1.7l-8 0.4l-8-0.8l-8-2.1l-7.8-3.4l-6.2-4l-5.2-5l-2.2-3l-1.7-3l-1.1-3l-0.6-3l0.4-5l1.2-3l1.3-2l1.8-2l2.5-2l6-3z"/><path fill="#2080b8" fill-rule="evenodd" d="M-67.2 -51l3.2-0.3l3 0.5l3 1.7l2 2.6l1.3 3.5l0.5 4l-0.1 4l-0.7 5.3l-1.5 5.7l-2 5l-2.5 4.7l-3 4.1l-3 2.8l-3.8 2.4l-3.2 0.9l-3 0l-2.6-0.9l-2.4-1.7l-2-2.6l-1.3-2.7l-0.9-3l-0.5-4l0.1-4l0.6-4.6l1-3.7l1.8-4.7l2.2-3.9l2-2.8l3-3.3l2.4-2l3.5-2z"/><path fill="#87057b" fill-rule="evenodd" d="M-48.9 64l7.9-0.2l8 1.4l7 2.8l5.9 4l2.1 2l2.3 3l1.6 3l0.6 2l0.2 3l-0.3 2l-1.2 3l-1.4 2l-3.7 3l-4.3 2l-5.8 1.3l-6 0.2l-6-0.8l-6-1.7l-6-2.8l-4.5-3.2l-3.8-4l-2.3-4l-0.9-4l0.6-4l0.9-2l1.5-2l3.5-2.7l5-2.2z"/><path fill="#49006a" fill-rule="evenodd" d="M-47.8 72l4.8-0.8l5 0.3l5 1.5l3.8 2l3.3 3l1.6 3l0.4 3l-1.2 3l-1.9 1.9l-2 1.1l-3 1l-3 0.4l-4-0.2l-3-0.6l-3-1l-3.2-1.6l-2.7-2l-1.8-2l-1.3-2.6l-0.4-2.4l0.4-2l1.3-2l2.5-2z"/><path class="z0" d="M188 -80.3l-10.7-12.7l-12.2-12l-13.1-10.5l-14-9l-14-7.2l-16-6.2l-17-4.4l-16-2.5l-16-0.9l-17 0.6l-17 2.3l-15 3.5l-17 5.9l-17 7.6l-21 11l-14 9.1l-7 5.6l-7 6.8l-6 7.1l-6 8.6l-5.6 9.6l-5 10l-4 10l-3.1 10l-1.9 9l-1 10l0.1 9l1.1 8l2 7l2.8 6l3.6 5.1l5 4.3l3 1.6l4 1.3l4 0.5l4-0.1l8-2.2l8-4.6l23-19.7l5-3.3l9.3-4.9l3.7-2.9l4-4.7l18.2-26.4l8.8-10.9l4.4-4.1l4.3-3l4.3-2.1l5-1.4l5-0.6l6 0.1l6 0.9l6 1.6l6 2.4l6 3.1l5 3.3l5 4.1l4 4.1l3.4 4.5l2.9 5l2 5l1.1 5l0.2 5l-0.6 4.7l-1.2 4.3l-1.8 4l-3 5l-4 5l-4 4l-10 7.9l-18 11.1l-3.3 3l-2.1 3l-2.6 7.7l-2.4 13.3l-0.7 9l-0.1 19l-0.5 10l-1.5 11l-2.5 10l-4.3 11.1l-6 10.7l-8 10.1l-9 8.3l-11 7.3l-6 3l-8 3l-8 2l-7 1.1l-8 0.7l-9 0.1l-10-0.6l-9-1.2l-18-3.8l-17-5.4l-12-4.9l-10-4.8l-1 0.2l-4.8 4.1l0 1l-9.2 9l0 1l-9 9l0 1l-9 9l0 1l-7 7"/><use href="#base"/><path fill="url(#g1)" d="M-85 72.5L-67.7 56.8L-36.3 56.8L-22.2 64.6L-0.1 64.6L10.9 72.5L10.9 102.4L1.4 117.3L-67.7 117.3L-67.7 102.4L-85 87.4z"/><path fill="url(#d1)" d="M-85 72.5L-67.7 56.8L-36.3 56.8L-22.2 64.6L-0.1 64.6L10.9 72.5L10.9 102.4L1.4 117.3L-67.7 117.3L-67.7 102.4L-85 87.4z"/><path fill="url(#g2)" d="M66.7 43.2L111.4 43.2L111.4 59.4L96.6 80L91.1 87.6L55 87.6L51.9 80L51.9 58z"/><path fill="url(#d2)" d="M66.7 43.2L111.4 43.2L111.4 59.4L96.6 80L91.1 87.6L55 87.6L51.9 80L51.9 58z"/><path fill="url(#g3)" d="M-20 -91L-8 -99L8 -99L14 -91L14 -75L8 -72L-14 -72L-20 -80z"/><path fill="url(#d3)" d="M-20 -91L-8 -99L8 -99L14 -91L14 -75L8 -72L-14 -72L-20 -80z"/><path fill="url(#g4)" d="M136 -118L158 -118L158 -89L141 -89z"/><path fill="url(#d4)" d="M136 -118L158 -118L158 -89L141 -89z"/><path fill="url(#g5)" d="M58 -31.6L67.5 -39L84 -39L92 -31.6L92 -12L84 -5L62 -5L58 -16z"/><path fill="url(#d5)" d="M58 -31.6L67.5 -39L84 -39L92 -31.6L92 -12L84 -5L62 -5L58 -16z"/><path d="M-83 -2.5v11M-87.5 -1.5l9 9M-78.5 -1.5l-9 9" stroke="#000" stroke-width="1.8" fill="none"/><path class="sh" d="M167.2 11.3L169.3 11.8M-168.6 -16.1L-169.1 -17.9M-166.2 -29L-167.2 -31.9M-162.6 -41.6L-164.4 -45.7M-158.1 -54.1L-160.5 -59.1M-152.9 -66.3L-155.5 -71.9M-147.1 -78.3L-149.3 -84M-140.9 -90.2L-142 -95.1M-134.3 -102.1L-133.9 -105.1M-107.7 -135.3L-105.7 -134.2M-96.3 -143.9L-94.6 -142.2M-84.1 -151.2L-83 -149.5M-58.6 -162.7L-58.2 -160.8M-45.5 -167.2L-45.2 -164.6M-32.1 -170.8L-31.9 -167.2M-18.5 -173.1L-18.5 -168.8M-4.7 -174.1L-5.1 -169.7M9.2 -173.6L8.5 -170M22.9 -171.3L22.3 -169.6M149.1 -81.9L150.1 -80.3M155.2 -69.9L156.1 -68M160.3 -57.5L161.1 -55.3M164.2 -44.7L165 -42.2M166.4 -31.3L167.7 -28.9M167.3 -17.4L169.5 -15.3M167.5 -3.1L170.1 -1.7M155.6 20.3L157.4 18.1M153.6 34.1L155.4 31.5M150.4 47.3L152.1 44.7M145.9 60L147.6 57.8M140.5 72.1L141.9 70.5M-88.6 131.9L-90 130.7M-99.2 123.5L-100.9 122.3M-109.3 114.4L-111.1 113.1M-118.8 104.6L-120.4 103.2M-157.3 18.9L-157.7 16.8M-158 5.6L-158.5 2.8M-157.5 -7.7L-158.2 -11.2M-155.7 -21L-156.8 -25M-152.6 -34.3L-154.2 -38.5M-148.2 -47.5L-150.5 -51.8M-142.8 -60.5L-145.6 -64.4M-136.6 -73.4L-139.4 -76.3M-129.9 -86.3L-131.5 -87.4M-105.2 -121.9L-105.3 -118.6M-94.5 -130.9L-94.7 -126.9M-82.9 -138.4L-83.5 -134.7M-70.7 -144.8L-71.5 -141.6M-58.2 -150.2L-59 -147.4M-45.4 -154.7L-46.2 -152M-32.4 -158.5L-33 -155.1M-19.1 -161.1L-19.6 -157.1M-5.6 -162.2L-6 -158.1M8.1 -161.8L7.7 -158.4M156.6 6.1L158 4.7M143.6 12.6L144.9 10.6M142 26.1L143.4 24.1M139 39.5L140.6 37.4M134.7 52.5L136.5 50.3M129.3 65.1L131.3 62.8M122.8 77.3L124.9 74.8M115.3 88.8L117.4 86.1M106.8 99.5L108.9 96.7M97.2 109.2L99.3 106.5M86.7 117.7L88.8 115.4M75.2 125.1L77.5 123.3M63.2 131.2L65.5 130M50.6 136.2L52.8 135.6M-12.8 142.5L-13.4 144.2M-50.3 136.4L-53 135.6M-62.4 131.8L-66.1 129.7M-74 125.6L-78.4 122.7M-85.1 118L-89.8 114.7M-95.7 109.4L-100.1 105.8M-105.9 100L-109.4 96.1M-115.5 89.5L-117.6 85.8M-124 78.1L-124.9 74.8M-131 65.8L-131.3 63.1M-136.3 53.1L-136.6 50.6M-140.1 40.2L-140.7 37.5M-142.8 27L-143.6 23.9M-144.5 13.6L-145.2 10.3M-144.9 -0.1L-145.5 -3.3M-143.9 -14.1L-144.5 -16.6M-131.4 -56.6L-133.6 -56.5M-125 -70.3L-128.5 -68.7M-118.1 -83.3L-122 -79.9M-110.5 -95.3L-114 -90.4M-101.9 -106L-104.9 -100.4M-92.1 -115.4L-94.8 -109.7M-81.4 -123.4L-83.9 -118.3M-69.8 -130.1L-72.2 -126.1M-57.8 -135.7L-59.7 -132.8M-45.5 -140.5L-46.8 -138.1M-32.8 -144.5L-33.8 -141.9M-19.9 -147.4L-20.4 -144.3M-6.6 -148.8L-6.9 -145.4M6.8 -148.6L6.8 -145.7M123 -78.2L121.5 -80.2M130 -66L128.3 -68.8M135.7 -53.4L134.1 -56.6M139.9 -40.6L138.9 -43.7M142.6 -27.6L142.4 -30.1M143.9 -14.4L144.4 -16.4M144.2 -1L145.3 -2.9M124 45.4L125.3 42.8M118.4 58.7L120.6 54.8M111.6 71L114.5 66.6M103.8 82.3L107.1 77.8M95 92.6L98.5 88.5M85.2 101.8L88.7 98.3M74.5 109.6L77.8 107.1M63.1 116.2L65.9 114.8M51.2 121.3L53.2 121M2.8 129.3L0.9 132.6M-9.4 128.9L-13.3 132.4M-21.7 128L-27.4 130.3M-34.2 126.2L-41.1 126.5M-46.7 123L-54.3 121.2M-59.1 118.1L-66.6 114.7M-71 111.7L-78 107.1M-82.4 103.9L-88.5 98.5M-93.2 95.1L-97.8 88.9M-103.4 84.9L-105.9 78.8M-112.4 73.2L-113.1 68.1M-119.3 60.5L-119.5 56.8M-124.4 47.4L-124.7 44.8M-128 34L-128.5 32M-126.4 -38.7L-127.2 -36.6M-121 -52.6L-123.4 -48.4M-114.5 -65.4L-118.2 -60.1M-107.3 -77.4L-111.5 -71.6M-99.2 -88.5L-103.4 -82.5M-90.1 -98.4L-94.1 -92.6M-80.1 -107.1L-83.7 -102.1M-69.2 -114.4L-72.4 -110.6M-57.7 -120.5L-60.1 -118M-45.7 -125.7L-47.3 -123.9M-33.3 -130.1L-34.3 -128.4M-20.4 -133.3L-21.1 -131.2M-7.3 -135.1L-7.7 -132.6M6.2 -135.1L5.9 -132.8M72.9 -111L70.7 -112M84.5 -102.5L81.3 -104.5M94.9 -93L91.2 -95.9M104 -82.7L100.5 -86M111.7 -71.7L109 -75.1M117.8 -60.3L116.5 -62.8M108.3 50.4L108.8 48.3M101.3 62.6L102.7 60M93.3 73.6L95.1 71.3M84.4 83.5L86.2 81.8M29.7 112.1L28.7 115.4M18.1 114.1L14.7 118.9M6 115.2L0.3 120.3M-6.5 115.5L-13.9 119.5M-19.3 114.7L-27.7 116.9M-32.1 112.7L-40.9 112.6M-44.8 109.1L-53.4 106.8M-57.3 104L-65.1 99.7M-69.5 97.5L-75.7 91.3M-81.3 89.5L-85.1 82M-92.4 79.5L-93.2 72M-101.7 67.5L-100.6 61.8M-108.6 54.2L-107.4 51.2M-120.1 -4.7L-118.9 -1.5M-118.7 -19.4L-117.8 -14.1M-115.3 -33.4L-115.5 -26.9M-110.1 -46.5L-111.9 -39.6M-103.7 -58.7L-106.9 -52M-96.2 -70.1L-100.3 -63.9M-87.8 -80.6L-92.2 -75M-78.4 -89.9L-82.8 -85.2M-68.1 -97.9L-72.1 -94.5M-57 -104.8L-60.3 -102.4M-45.3 -110.5L-47.8 -108.9M-33 -115.4L-34.9 -113.8M-20.2 -119.1L-21.9 -117.1M-6.8 -121.2L-8.6 -118.7M7 -121.4L5 -118.8M21 -119.5L18.5 -117.5M34.9 -115.7L31.7 -114.6M48.1 -110.3L44.4 -110.2M60.3 -103.7L56.7 -104.5M71.2 -96L68.6 -97.2M101.1 -59.5L104.7 -56.8M106.9 -48.2L111 -44M111.9 -36L115.3 -30.9M115.8 -22.7L117.7 -18M118.5 -8.3L118.8 -5.6M107 12L104.5 14M104.1 25.9L102.4 27M54.9 87.9L54.3 89.8M43.3 93.1L42 96.9M31.3 96.8L28.8 102.5M19.2 99.4L15 106M6.8 101L1 107.2M-5.7 101.4L-13 106.4M-18.2 100.6L-26.7 103.5M-30.8 98.6L-39.7 98.7M-43.7 95.5L-51.8 92.1M-57.2 90.8L-62.4 84.1M-70.9 83.3L-71.5 75.3M-83 72.9L-79.7 65.9M-92.3 60.5L-87.5 55.8M-98.8 46.6L-94.8 45M-103.7 31.4L-99.9 32.7M-107.1 15.7L-102.4 20.9M-107.8 0.7L-104.1 8.5M-106.3 -13.4L-104.6 -4.6M-103.1 -27L-103.4 -17.9M-98.2 -39.8L-100.6 -31.1M-91.8 -51.8L-96 -43.8M-84.1 -62.8L-89.8 -55.9M-75.2 -72.7L-81.9 -67.1M-65.6 -81.3L-72.3 -77.3M-55.5 -89L-61.1 -86.2M-44.2 -95.6L-49.1 -93.3M-32 -101.1L-36.6 -98.7M-19.1 -105.1L-23.6 -102.4M-5.9 -107.5L-10.3 -104.4M7.4 -107.7L3.4 -104.9M20.4 -105.9L17.3 -103.9M52.5 -90.6L54.6 -90M62 -83.4L67.2 -81.7M71.5 -75.1L77.8 -72.1M80.2 -65.6L86.6 -61.4M88 -54.9L93.7 -49.7M94.7 -43.3L99.1 -37.4M100.3 -30.8L102.7 -24.7M104.8 -17.2L104.6 -11.9M107.3 -2.6L105.2 0.9M95.5 2.9L92.1 7.4M93.7 16.6L90.2 20.7M89.6 29.6L86.4 33.6M83.7 41.9L80.8 45.9M76.2 53.3L73.4 57.1M67.1 63.6L64.4 67.2M56.6 72.3L54.1 75.9M44.7 78.8L42.4 83.3M31.9 83.2L29.8 89.4M19 86L16.5 93.5M6.1 87.5L2.7 95.3M-6.7 87.4L-11.3 94.7M-19.3 85.9L-24.9 91.8M-32.4 84.1L-36.7 86M-48.9 82.6L-48.3 79.7M-63.2 75.6L-57.7 70.2M-74.1 65.4L-67 61M-82.6 53.5L-75.4 50.8M-89.1 40.1L-82.5 39.6M-94.3 25.4L-86.9 27.7M-96.8 10.1L-89.8 15.5M-96.3 -5L-91.5 2.7M-93.3 -19.3L-91.5 -10.5M-88.2 -32.6L-89.6 -23.8M-81.3 -44.6L-85.7 -36.8M-73 -55.1L-79.8 -49.3M-63.8 -64.2L-72 -60.8M-54 -72.6L-62.1 -70.8M-43.8 -80.9L-50.4 -78.6M-32.1 -87.5L-38.1 -84.8M-19.4 -91.8L-25.1 -89.4M-6.8 -94.1L-11 -92.2M25.9 -88.7L30.3 -88M37.3 -83.6L43.9 -82.6M48.6 -77.1L55.8 -75.3M59.2 -69.1L66.3 -66.4M68.7 -59.7L75.2 -56.1M76.9 -49.2L82.4 -44.6M84 -37.7L87.6 -32.1M90.1 -25.1L90.9 -19.3M94.4 -11.3L92.3 -6M83 9.2L79.3 13.3M79.4 22.5L76.2 26.6M73.8 35L70.8 39.1M66.4 46.7L63.3 50.5M57 57L54 60.4M45.7 65.1L43.2 68.7M32.5 70.5L31.1 75.6M18.4 73.6L18.2 80.8M4.2 75.1L4.8 83.3M-10.2 74.7L-8.6 83M-25.3 72.8L-21.5 79.8M-40.6 70.8L-33.4 73.7M-53.1 66.3L-44.6 65.6M-63.5 58.2L-55.1 56.4M-72 47.5L-64.2 45.9M-78.5 35.3L-71.5 34.2M-84.1 21.9L-75.5 21.4M-86.7 7.1L-77.9 8.5M-85.8 -8.3L-78.9 -4.6M-80.6 -21.4L-79 -19.6M-63.2 -45L-69 -44.2M-53.8 -53.5L-61.6 -55.8M-44.2 -63L-50.8 -64.9M-33.9 -72.9L-38 -71.6M-21.7 -77.6L-24.7 -77.1M11.7 -78.4L16.7 -79.6M24.2 -75.3L30.6 -75.7M36.4 -70L43.1 -69.5M47.6 -62.6L54.2 -61.3M57.6 -53.6L63.8 -51.2M66.2 -43.3L71.3 -39.7M73.9 -31.9L76.4 -27.3M80.4 -18.9L79.5 -14.2M83.7 -4.7L80.4 -0.4M72.4 2.8L69 5.1M69.7 16L67 18.3M64.4 28.6L62.3 30.9M57.1 40.2L55.1 42.4M47.7 50.1L45.8 52.2M35.9 57.5L34.6 60.1M22 61.8L22 66.6M7 63.9L9.4 70.8M-8 64.4L-3.5 71.4M-22.8 63.2L-16.3 68.7M-36.7 60.2L-28.6 63M-48.5 54.8L-40 55M-58 46.6L-50.3 45.2M-65 36.1L-58.9 34M-71.1 24.6L-63.8 21M-74.5 11.5L-66.5 7.5M-74.5 -1.9L-67.1 -6.1M-70.1 -15.4L-66.5 -18.8M-63.3 -26.8L-61.9 -32M-53.9 -36.8L-55.4 -44.9M-44.5 -47.1L-46 -54.5M-10.7 -65.9L-8.6 -69.2M1.6 -66.6L5.5 -69.9M14.3 -65.2L19.2 -67.5M26.6 -61.3L32.1 -62.4M37.9 -54.9L43.8 -55M47.9 -46.4L53.6 -45.4M56.9 -36.3L60.7 -34.3M71.4 -11.1L69 -8.8M59.6 10.1L57.7 10.6M26.2 49.6L25.6 51.4M12 52.8L12.8 57M-3.1 53.7L0.1 59.3M-17.9 52.7L-12.6 57.6M-31.5 49.8L-25 52.1M-42.5 44.7L-36.5 43.8M-50.9 36.2L-46 33.6M-57.6 25.1L-52.3 21.5M-61.8 13.4L-55.2 7.6M-61.7 0.8L-56.1 -6.3M-58.1 -11.7L-54.1 -19.8M-51.4 -23.6L-49.2 -32.3M-43.4 -34.6L-41 -42.8M-34.8 -45.8L-30.4 -49.6M-22.6 -52L-18.4 -55.4M-9.1 -54.3L-5.3 -58.5M4.2 -54.5L8.2 -58.2M16.8 -52L21.3 -54.7M28.4 -46.6L33.3 -48.4M39 -38.6L43 -39.4M61.1 -3.1L58.2 -2.7M49.3 3.9L47.4 3.5M16.7 41L16.5 43.2M3.1 43.1L3.4 46.9M-11.2 42.6L-9.9 45.8M-36.4 34.7L-32.8 33M-45 24.6L-40.1 22M-49.8 12.8L-44.5 9.1M-50.2 1.5L-45.2 -5.3M-46.5 -10.8L-42.7 -18.7M-40.1 -22.9L-36.4 -30.1M-31.8 -34.8L-27.1 -38.1M-20.1 -41.3L-15.5 -44.4M-6.6 -43.6L-2.7 -47.4M6.9 -42.7L10.5 -46.4M19.5 -38.4L22.8 -41.5M31.1 -30.9L32.8 -32.8M48.3 -8.8L46.2 -9.8M3.5 32.1L4.4 35M-11.2 31.8L-9.6 34M-25.4 27.9L-21.5 28.1M-35.2 18.6L-29.7 17.4M-38.7 5.8L-34.9 4.4M-36.7 -6.9L-34.2 -9.4M-30.5 -19.6L-28.2 -21.6M-20.5 -28.9L-17.5 -30.9M-7 -32.5L-4.3 -35.5M7.5 -31.1L9.5 -34.4M21.2 -25L21.7 -27.8M32.2 -15.1L31.1 -17.1M37.4 -2.8L35.7 -4.1M6.5 21.1L8.1 22.5M-8.5 22.1L-4.8 24.2M-21.7 17L-16.3 17.4M-27.4 5.8L-23.8 5.2M-3.1 -22.1L-2.1 -23.8M11.6 -18.8L11.7 -20.8M-3.9 12.6L-1.3 13.4M-15.2 6L-12.5 5.9"/><path class="hd" d="M172.6 12.5L167.8 13.8L168.8 9.3zM170.6 25.2L168.6 27.3L166.2 25.6L168.2 23.5zM167.8 37.7L166.7 40.4L163.9 39.6L165 37zM164 50.4L163.4 53.2L160.5 53.1L161.1 50.2zM159.2 62.9L159 65.8L156.1 66L156.3 63.1zM153.5 75.1L153.4 78L150.5 78.4L150.6 75.5zM146.7 86.8L147 89.7L144.2 90.4L143.9 87.5zM138.9 97.9L139.6 100.7L137 101.9L136.2 99.1zM130.1 108.4L131.4 111L129 112.7L127.7 110zM120.7 118.3L122.2 120.8L120 122.6L118.5 120.2zM110.9 127.5L112.3 130L110 131.8L108.6 129.3zM100.8 136.1L101.5 138.9L98.8 140L98.1 137.1zM90.3 144.3L89.5 147.1L86.7 146.7L87.4 143.9zM78.8 151.7L77 153.9L74.5 152.5L76.3 150.2zM66.5 157.6L64.4 159.6L62.1 157.8L64.2 155.8zM53.8 162.1L51.8 164.2L49.4 162.5L51.4 160.4zM40.7 165.5L38.8 167.8L36.4 166.2L38.2 164zM27.4 168.3L25.3 170.3L23 168.5L25.1 166.5zM13.2 171.6L10.3 171.1L10.4 168.2L13.2 168.7zM-2.4 172.4L-3.6 169.8L-1.1 168.2L0.1 170.8zM-16.6 171.4L-16.8 168.5L-14 167.8L-13.8 170.7zM-30.5 169.1L-29.8 166.3L-26.9 166.6L-27.6 169.4zM-44.1 165.4L-42.3 163.2L-39.8 164.7L-41.7 166.9zM-57 160.4L-54.2 159.4L-52.9 162L-55.6 163zM-69.2 154.8L-66.3 154.9L-66 157.8L-68.9 157.7zM-81.1 148.7L-78.3 149.3L-78.5 152.2L-81.3 151.6zM-92.9 141.9L-90 142.4L-90.1 145.3L-92.9 144.9zM-104.3 134.5L-101.4 134.5L-100.9 137.3L-103.8 137.4zM-114.9 126.2L-112.1 125.7L-111.2 128.5L-114.1 129zM-124.7 116.8L-121.8 116.4L-121 119.2L-123.9 119.5zM-133.4 106.3L-130.5 106.4L-130.2 109.3L-133.1 109.2zM-141.1 95.1L-138.4 96L-138.8 98.9L-141.6 98zM-147.8 83.5L-145.4 85.1L-146.7 87.7L-149.1 86.1zM-153.6 71.4L-151.7 73.6L-153.5 75.8L-155.5 73.6zM-158.6 59L-157 61.4L-159.2 63.4L-160.8 60.9zM-162.9 46.2L-161.4 48.7L-163.6 50.5L-165.2 48zM-166.4 33L-164.7 35.4L-166.8 37.4L-168.5 35.1zM-168.9 19.7L-167 21.8L-168.9 24.1L-170.8 21.9zM-170.3 6.2L-168.2 8.2L-169.8 10.6L-172 8.6zM-170.6 -7.3L-168.4 -5.5L-169.8 -3L-172.1 -4.8zM-170 -21.2L-166.6 -17.6L-171.1 -16.4zM-168.3 -35.1L-164.7 -31.7L-169.1 -30.2zM-165.7 -48.8L-161.9 -45.7L-166.1 -43.9zM-162 -62.2L-158 -59.2L-162.2 -57.2zM-157 -75L-153 -72L-157.2 -70zM-150.6 -87.2L-146.8 -83.9L-151.1 -82.2zM-142.7 -98.5L-139.5 -94.6L-144 -93.7zM-133.4 -108.4L-131.8 -103.7L-136.3 -104.4zM-123.3 -117L-123.9 -114.1L-126.8 -114.2L-126.2 -117.1zM-113.3 -125L-115.7 -123.3L-117.7 -125.4L-115.3 -127.1zM-102.7 -132.5L-107.7 -132.7L-105.4 -136.7zM-92.2 -139.9L-96.9 -141.3L-93.7 -144.6zM-81.1 -146.6L-85.5 -149.1L-81.6 -151.6zM-69.7 -153L-72.3 -154.3L-71.4 -157L-68.8 -155.7zM-57.4 -157.5L-60.6 -161.2L-56.2 -162.3zM-44.7 -161.2L-47.6 -165.3L-43 -165.9zM-31.7 -163.8L-34.3 -168.1L-29.7 -168.3zM-18.6 -165.4L-20.8 -169.9L-16.2 -169.8zM-5.3 -166.3L-7.3 -170.9L-2.7 -170.5zM7.9 -166.6L6.4 -171.4L10.9 -170.5zM21.2 -166.4L20.4 -171.3L24.8 -169.8zM33.9 -164.9L33.9 -167.8L36.8 -168.3L36.8 -165.3zM46.3 -162.8L48.1 -165.1L50.6 -163.7L48.9 -161.4zM59.1 -158.8L61.2 -160.8L63.5 -159L61.4 -157zM72.1 -152.1L72.5 -155L75.4 -154.9L75 -152.1zM86.1 -145L83.8 -146.8L85.3 -149.3L87.6 -147.5zM98.7 -138.3L95.8 -138.6L95.6 -141.5L98.5 -141.2zM109.8 -130.6L107 -130.1L106 -132.8L108.9 -133.4zM120 -121.7L117.2 -121.1L116.1 -123.8L118.9 -124.4zM129.3 -111.8L126.4 -111.4L125.6 -114.2L128.5 -114.6zM137.6 -101L134.7 -101.1L134.4 -104L137.3 -103.9zM145.1 -89.7L142.3 -90.2L142.3 -93.1L145.2 -92.6zM152 -77.4L147.7 -79.9L151.5 -82.4zM157.6 -64.9L153.6 -67.9L157.8 -69.9zM162.1 -52.1L158.6 -55.5L162.9 -57zM166 -39L162.5 -42.4L166.8 -43.9zM169.4 -25.9L165.2 -28.6L169.3 -30.8zM171.9 -12.9L167.2 -14.3L170.4 -17.6zM173.1 -0.1L168.1 -0.2L170.3 -4.2zM159.5 15.5L158.6 20.3L155 17.5zM157.3 28.6L156.7 33.6L152.9 31zM154 41.9L153.5 46.9L149.7 44.3zM149.7 55.1L148.8 60L145.2 57.2zM144.1 67.9L143 72.8L139.5 69.7zM137.2 80.4L137.2 83.3L134.3 83.7L134.3 80.7zM129.5 91.6L129.7 94.5L126.9 95.1L126.7 92.2zM120.8 102.1L121.4 105L118.7 106L118 103.1zM111.2 111.9L112.1 114.7L109.4 116L108.6 113.2zM101.1 121.1L101.8 123.9L99.1 125L98.4 122.1zM90.6 129.5L90.6 132.4L87.7 132.8L87.7 129.9zM79.4 137.2L78.5 140L75.7 139.5L76.6 136.7zM67.5 143.8L66 146.3L63.3 145.2L64.8 142.7zM54.9 149.2L53.1 151.4L50.6 150L52.4 147.7zM41.9 153.4L39.8 155.5L37.5 153.8L39.5 151.7zM28.5 156.7L26.1 158.3L24.1 156.1L26.5 154.5zM14.5 159.4L11.6 159.6L11 156.7L13.9 156.6zM-0.4 160.7L-2.7 159L-1.3 156.4L1 158.2zM-15 160.1L-16.3 157.5L-14 155.8L-12.6 158.4zM-29.3 157.9L-29.6 155L-26.7 154.3L-26.5 157.2zM-43.4 153.8L-41.9 151.3L-39.2 152.4L-40.7 154.9zM-56.4 148.1L-53.6 147.3L-52.3 149.9L-55.1 150.7zM-68.5 142.2L-65.6 142.4L-65.4 145.3L-68.3 145.1zM-80.6 135.9L-77.7 136.2L-77.5 139.1L-80.4 138.8zM-92.6 128.5L-87.7 129.6L-90.7 133.1zM-103.7 120.3L-98.8 121L-101.4 124.7zM-113.8 111.1L-108.9 111.8L-111.6 115.5zM-122.8 100.8L-118 102.2L-121.2 105.5zM-130.4 90.1L-127.6 91L-128 93.8L-130.8 93zM-137.3 78.4L-134.8 80L-136 82.6L-138.5 81zM-143.2 66.3L-141.2 68.3L-142.9 70.7L-145 68.6zM-148.4 53.7L-146.5 55.9L-148.4 58.1L-150.3 55.9zM-152.8 40.8L-150.8 42.9L-152.6 45.2L-154.6 43zM-156.1 27.5L-153.9 29.4L-155.5 31.9L-157.7 29.9zM-158.3 13.4L-155.2 17.3L-159.8 18.1zM-159.2 -0.6L-156.1 3.3L-160.6 4.2zM-158.9 -14.5L-155.8 -10.6L-160.3 -9.7zM-157.6 -28.3L-154.3 -24.6L-158.7 -23.4zM-155.3 -41.7L-151.7 -38.4L-156 -36.8zM-152 -54.8L-148 -51.9L-152 -49.8zM-147.6 -67.2L-143.1 -64.9L-146.9 -62.3zM-141.7 -78.8L-137 -77.2L-140.4 -74zM-134.3 -89.2L-129.4 -88.7L-131.9 -84.9zM-126.1 -98.1L-124.7 -100.6L-122 -99.5L-123.5 -97zM-115.6 -106.9L-117 -109.5L-114.7 -111.2L-113.3 -108.7zM-105.5 -115.2L-107.6 -119.7L-103 -119.5zM-95 -123.5L-97 -128.1L-92.4 -127.7zM-84 -131.3L-85.6 -136L-81 -135.3zM-72.4 -138.3L-73.5 -143.1L-69 -142zM-60 -144.2L-60.9 -149.1L-56.5 -147.7zM-47 -148.7L-48.1 -153.5L-43.7 -152.3zM-33.6 -151.8L-35.1 -156.5L-30.6 -155.7zM-20 -153.7L-21.8 -158.4L-17.2 -157.8zM-6.3 -154.7L-8.2 -159.3L-3.6 -158.9zM7.3 -155L5.5 -159.7L10.1 -159.2zM20.9 -155L19.4 -157.5L21.6 -159.3L23.2 -156.9zM34 -152.7L32.9 -155.3L35.4 -156.9L36.5 -154.2zM46.3 -149.7L46.6 -152.6L49.5 -152.7L49.2 -149.8zM58.6 -146L60.3 -148.4L62.9 -147L61.1 -144.7zM74.8 -139.4L71.9 -139.3L71.3 -142.1L74.2 -142.3zM86.9 -133L84.1 -132.2L82.9 -134.9L85.7 -135.7zM98.2 -125.5L95.5 -124.4L94 -126.9L96.7 -128zM108.7 -116.9L106.1 -115.6L104.5 -118L107.1 -119.3zM118.4 -107.2L115.7 -106L114.2 -108.5L116.9 -109.6zM127.1 -96.5L124.3 -95.7L123.2 -98.4L126 -99.2zM134.9 -85.1L132 -84.8L131.2 -87.6L134.1 -87.9zM141.6 -73.1L138.7 -73.2L138.4 -76.1L141.3 -76zM147.1 -60.4L144.3 -61.2L144.7 -64.1L147.5 -63.3zM151 -47.3L148.8 -49.2L150.3 -51.7L152.6 -49.8zM156.4 -37.2L155.1 -34.6L152.4 -35.5L153.6 -38.1zM158.9 -24L157.9 -21.3L155 -21.9L156 -24.6zM160.1 -10.6L159.4 -7.8L156.5 -8.1L157.2 -10.9zM160.5 2.4L158.9 7.1L155.7 3.8zM146.9 7.8L146.3 12.7L142.5 10.1zM145.4 21.4L144.7 26.3L140.9 23.6zM142.6 34.7L141.8 39.6L138.1 36.8zM138.7 47.7L137.6 52.6L134.1 49.6zM133.5 60.3L132.4 65.1L128.9 62.1zM127.1 72.2L126 77L122.5 74zM119.5 83.4L118.6 88.3L115 85.5zM110.9 94L110.1 98.9L106.4 96.1zM101.4 103.8L100.5 108.7L96.9 105.9zM91.1 112.9L89.8 117.7L86.4 114.6zM80.2 121.2L78.1 125.7L75.3 122.1zM68.5 128.5L65.6 132.5L63.6 128.4zM56.1 134.7L52.5 138.1L51.3 133.6zM42.7 139.8L40.5 141.8L38.3 140L40.4 138zM29.3 143.7L26.7 144.9L25.1 142.4L27.7 141.2zM15.1 146.6L12.2 146.2L12.3 143.3L15.1 143.7zM0.3 147.8L-1.8 145.8L-0.2 143.4L1.9 145.4zM-14.4 147.5L-15.2 142.6L-10.9 144zM-28.6 144.7L-28.5 141.8L-25.6 141.4L-25.7 144.3zM-42.5 140.4L-40.8 138L-38.2 139.4L-39.9 141.7zM-56.3 134.6L-51.4 133.6L-52.7 138.1zM-69.1 128L-64.1 128.2L-66.4 132.2zM-81.3 120.8L-76.3 121.3L-78.8 125.1zM-92.6 112.7L-87.6 113.4L-90.3 117.2zM-102.8 103.7L-97.9 104.7L-100.8 108.2zM-111.7 93.6L-107 95.3L-110.4 98.4zM-119.2 82.8L-115.1 85.5L-119.1 87.8zM-125.8 71.5L-122.4 75.1L-126.9 76.4zM-131.8 59.7L-128.9 63.8L-133.5 64.4zM-137.1 47.3L-134.2 51.3L-138.8 51.9zM-141.4 34.2L-138.3 38L-142.8 38.9zM-144.4 20.6L-141.1 24.4L-145.6 25.5zM-146 7L-142.8 10.7L-147.2 11.8zM-146.2 -6.6L-143.1 -2.8L-147.6 -1.8zM-145.3 -19.9L-142 -16.1L-146.5 -15.1zM-143.3 -32.4L-140.7 -31.3L-141.4 -28.5L-144.1 -29.6zM-140.8 -44.8L-137.9 -45.3L-137 -42.5L-139.9 -42zM-137 -56.3L-132.7 -58.8L-132.5 -54.2zM-131.6 -67.3L-128.6 -71.2L-126.7 -67zM-124.6 -77.7L-122.7 -82.3L-119.7 -78.8zM-116.1 -87.7L-115.3 -92.6L-111.6 -89.9zM-106.5 -97.4L-106.5 -102.3L-102.4 -100.2zM-96.3 -106.6L-96.5 -111.6L-92.3 -109.6zM-85.4 -115.3L-85.5 -120.2L-81.4 -118.2zM-73.9 -123.2L-73.7 -128.1L-69.7 -125.8zM-61.5 -129.9L-61.1 -134.8L-57.2 -132.4zM-48.5 -135.1L-48.3 -140.1L-44.3 -137.8zM-34.9 -138.7L-35.6 -143.7L-31.2 -142.1zM-21.1 -140.9L-22.5 -145.7L-18 -144.8zM-7.1 -142L-9.1 -146.6L-4.5 -146.2zM6.7 -142.3L4.5 -146.7L9.1 -146.7zM20.5 -142L18.5 -144.1L20.3 -146.4L22.3 -144.2zM34 -139.4L31.9 -141.4L33.5 -143.8L35.7 -141.8zM47.5 -135.7L45.1 -137.3L46.3 -139.9L48.7 -138.4zM61.5 -133.9L60.5 -131.2L57.7 -131.8L58.7 -134.5zM71.9 -128.9L73.7 -126.6L71.7 -124.5L69.9 -126.8zM82.8 -121.5L85.2 -119.9L83.9 -117.3L81.5 -118.9zM93.1 -113L95.8 -111.9L95.1 -109.1L92.4 -110.2zM102.9 -103.6L105.7 -102.9L105.4 -100L102.6 -100.7zM111.9 -93.3L114.7 -92.7L114.5 -89.8L111.7 -90.4zM119.6 -82.9L124 -80.7L120.3 -78zM126.5 -71.7L130.8 -69.2L126.9 -66.8zM132.6 -59.7L136.6 -56.7L132.5 -54.7zM137.9 -46.9L141.4 -43.4L137 -42zM142.1 -33.5L144.8 -29.3L140.2 -29zM145.3 -19.7L146.4 -14.9L142 -16zM146.9 -5.9L146.8 -0.9L142.8 -3.2zM133.3 14.9L132.4 17.7L129.5 17.2L130.4 14.4zM130.1 27.5L130.8 30.4L128.1 31.4L127.4 28.6zM126.7 39.7L126.9 44.7L122.7 42.7zM122.2 51.8L122.1 56.8L118.1 54.6zM116.4 63.7L115.9 68.6L112 66.1zM109.1 75.1L108.4 80L104.7 77.3zM100.6 85.8L99.6 90.7L96.1 87.8zM91 95.9L89.6 100.6L86.3 97.4zM80.5 105.1L78.4 109.6L75.6 105.9zM69 113.3L66 117.3L64 113.2zM56.6 120.5L52.6 123.5L51.9 118.9zM43.3 126.4L40.7 127.7L39.1 125.2L41.7 124zM29.2 131.3L26.4 130.4L26.8 127.5L29.6 128.4zM14.3 133.8L12.7 131.3L14.9 129.4L16.5 131.9zM-0.9 135.5L-0.6 130.5L3.4 132.9zM-15.9 134.6L-14.1 130L-11.1 133.5zM-30.6 131.6L-27.4 127.8L-25.6 132.1zM-44.5 126.7L-40.3 124.2L-40 128.8zM-57.6 120.4L-52.8 119.2L-53.8 123.7zM-69.7 113.3L-64.7 113L-66.6 117.2zM-80.9 105.3L-75.9 105.7L-78.4 109.6zM-91 96.2L-86.2 97.4L-89.3 100.9zM-99.8 86.2L-95.3 88.4L-99 91.1zM-107.2 75.6L-103.4 78.8L-107.7 80.6zM-113.7 64.8L-110.7 68.7L-115.3 69.5zM-119.7 53.4L-117.2 57.7L-121.8 58zM-125.1 41.4L-122.3 45.5L-126.8 46.1zM-129.2 28.7L-126 32.5L-130.5 33.5zM-131.7 15.8L-129.3 17.5L-130.7 20.1L-133 18.4zM-132.6 2.2L-130.4 4.1L-132.1 6.6L-134.2 4.6zM-131.7 -11.4L-130.2 -8.9L-132.5 -7.1L-133.9 -9.6zM-130.8 -20.6L-132.3 -23.1L-130.1 -25L-128.5 -22.5zM-128.4 -33.5L-129 -38.4L-124.7 -36.7zM-125.1 -45.4L-124.9 -50.4L-120.9 -48.1zM-120.1 -57.3L-119.5 -62.3L-115.7 -59.6zM-113.5 -68.8L-112.8 -73.7L-109 -71zM-105.4 -79.7L-104.7 -84.6L-101 -82zM-96.1 -89.8L-95.5 -94.8L-91.7 -92.2zM-85.7 -99.3L-85 -104.2L-81.3 -101.5zM-74.5 -108L-73.5 -112.8L-69.9 -109.9zM-62.4 -115.5L-61.1 -120.3L-57.7 -117.1zM-49.5 -121.4L-48.3 -126.2L-44.9 -123.2zM-36 -125.5L-35.7 -130.5L-31.8 -128.1zM-22.2 -128L-23 -132.9L-18.6 -131.5zM-8.3 -129.2L-9.8 -133.9L-5.3 -133.2zM5.6 -129.5L3.7 -134.1L8.3 -133.6zM19.1 -128.8L17.6 -131.3L19.8 -133.1L21.3 -130.7zM31.7 -126.4L31.1 -129.2L33.9 -130.2L34.4 -127.3zM43.6 -123.8L45.4 -126.1L48 -124.7L46.2 -122.4zM56.2 -119.4L58.8 -120.7L60.5 -118.3L57.9 -117zM67.6 -113.4L72.5 -113.7L70.6 -109.5zM78.4 -106.3L83.3 -105.9L80.9 -102zM88.6 -98L93.5 -97L90.6 -93.4zM98.1 -88.4L102.9 -87L99.6 -83.7zM106.9 -77.8L111.5 -75.7L107.8 -72.9zM115 -65.9L119 -63L114.9 -60.9zM122 -53L124.2 -51L122.5 -48.6L120.4 -50.6zM128.6 -39.3L128 -36.4L125.1 -36.6L125.7 -39.4zM132.2 -24.1L129.6 -22.9L128 -25.3L130.6 -26.5zM133.8 -10.1L131 -9.5L130 -12.3L132.9 -12.8zM134.4 3.3L131.6 4.2L130.4 1.6L133.1 0.7zM117.4 10.2L117 7.3L119.8 6.5L120.2 9.3zM115.2 20.4L118.1 20.3L118.6 23.2L115.7 23.3zM113.3 32.8L115.5 34.7L114 37.1L111.8 35.2zM109.5 45L110.8 49.8L106.3 48.7zM104.2 57L104.2 62L100.1 59.9zM97.2 68.6L96.4 73.5L92.7 70.7zM88.7 79.5L87 84.2L83.9 80.8zM78.6 89.7L77.7 92.5L74.8 92L75.7 89.2zM68 98.7L66.1 100.9L63.7 99.3L65.6 97.1zM56 107.1L53.1 107.4L52.3 104.6L55.2 104.3zM42.1 113.5L39.8 111.7L41.3 109.2L43.6 111zM27.7 118.6L26.8 113.8L31.2 115.1zM12.7 121.7L13.4 116.8L17.1 119.4zM-2.2 122.5L-0.5 117.9L2.6 121.3zM-16.9 121.1L-14.1 117L-11.9 121zM-31 117.7L-27.3 114.4L-26.1 118.9zM-44.3 112.5L-39.9 110.3L-40 114.9zM-56.7 105.9L-51.9 104.8L-53.1 109.3zM-68.1 98L-63.1 98.2L-65.4 102.2zM-78.2 88.9L-73.4 90.4L-76.6 93.7zM-86.6 78.9L-82.6 81.8L-86.7 83.9zM-93.6 68.7L-90.8 72.8L-95.4 73.3zM-99.9 58.4L-98.5 63.2L-103.1 62.3zM-106.1 48L-105.6 52.9L-109.9 51.2zM-111.4 36.6L-110.8 39.5L-113.6 40.4L-114.1 37.6zM-114 25.2L-116 27.3L-118.3 25.6L-116.3 23.5zM-117 13.8L-119.8 13.1L-119.6 10.2L-116.8 10.9zM-117.6 1.7L-121.4 -1.6L-117.1 -3.3zM-117.2 -10.7L-120.2 -14.6L-115.7 -15.5zM-115.6 -23.5L-117.8 -27.9L-113.2 -27.8zM-112.8 -36.3L-113.9 -41.2L-109.4 -40zM-108.3 -49L-108.5 -53.9L-104.4 -51.9zM-102.2 -61L-101.7 -66L-97.8 -63.4zM-94.4 -72.3L-93.4 -77.2L-89.8 -74.3zM-85.2 -82.7L-83.8 -87.5L-80.5 -84.4zM-74.7 -92.2L-72.9 -96.8L-69.9 -93.4zM-63.1 -100.5L-60.9 -104.9L-58.2 -101.1zM-50.7 -107L-48.3 -111.4L-45.7 -107.5zM-37.5 -111.7L-35.6 -116.3L-32.7 -112.7zM-24 -114.5L-23 -119.4L-19.5 -116.4zM-10.5 -115.9L-9.9 -120.8L-6.1 -118.2zM2.9 -116.2L3.8 -121L7.4 -118.2zM15.9 -115.4L17.8 -119.9L20.7 -116.4zM28.5 -113.5L31.9 -117.1L33.4 -112.8zM41 -110.2L45.3 -112.5L45.4 -107.9zM53.3 -105.2L58.1 -106.5L57.1 -102zM65.5 -98.6L70.5 -98.8L68.6 -94.6zM77.4 -90.3L80.3 -90.3L80.7 -87.4L77.8 -87.4zM90.3 -80.7L89.9 -77.9L87 -77.8L87.3 -80.7zM99.1 -67.8L96.3 -66.9L95.1 -69.5L97.8 -70.4zM107.4 -54.8L102.5 -55.6L105.3 -59.2zM113.3 -41.5L108.6 -43.1L111.9 -46.3zM117.2 -28.1L112.8 -30.5L116.6 -33zM119 -14.8L115.2 -18L119.5 -19.8zM119.1 -2.2L116.4 -6.3L121 -6.8zM101.9 16.2L103.8 11.6L106.8 15.2zM99.5 28.7L102 24.5L104.4 28.4zM95.6 41.4L96.4 38.6L99.3 38.9L98.5 41.7zM90 53.9L90.1 51L93 50.7L92.9 53.6zM83 65.4L82.5 62.6L85.2 61.6L85.7 64.5zM74.4 75.8L73.5 73L76.2 71.8L77 74.5zM64.5 84.9L63.4 82.1L66 80.7L67 83.5zM53.3 93L52.4 88.2L56.8 89.6zM40.9 100.2L40.1 95.3L44.5 96.7zM27.5 105.6L27.1 100.7L31.3 102.5zM13.2 108.9L13.6 103.9L17.5 106.4zM-1.3 109.7L0 104.9L3.4 108.1zM-15.8 108.3L-13.5 103.9L-10.9 107.7zM-29.9 104.6L-26.5 101L-25 105.4zM-43.1 98.8L-38.8 96.4L-38.7 101zM-54.9 90.9L-50 90.4L-51.7 94.7zM-64.5 81.4L-59.9 83.5L-63.6 86.3zM-71.7 71.9L-69.1 76.1L-73.7 76.4zM-78.3 62.8L-78.1 67.7L-82.3 65.8zM-85.1 53.5L-86.6 58.2L-89.8 54.9zM-91.6 43.8L-94.9 47.5L-96.6 43.2zM-96.7 33.8L-101.6 34.6L-100.2 30.2zM-100.1 23.4L-104.7 21.7L-101.3 18.6zM-102.7 11.6L-106.6 8.6L-102.5 6.6zM-103.9 -1.3L-107 -5.2L-102.5 -6.1zM-103.5 -14.5L-105.7 -19L-101.1 -18.9zM-101.4 -27.8L-102.5 -32.6L-98.1 -31.4zM-97.5 -40.8L-97.6 -45.7L-93.5 -43.6zM-91.9 -53.2L-90.9 -58.1L-87.3 -55.2zM-84.5 -64.9L-82.6 -69.5L-79.6 -66zM-75.2 -75.6L-72.6 -79.8L-70.2 -75.9zM-64.1 -84.6L-61.2 -88.7L-59.2 -84.5zM-52.2 -91.8L-49.2 -95.8L-47.2 -91.6zM-39.7 -97.2L-36.8 -101.2L-34.7 -97.1zM-26.6 -100.7L-24 -104.9L-21.6 -101zM-13.1 -102.5L-10.8 -106.9L-8.2 -103.1zM0.6 -102.9L2.9 -107.3L5.5 -103.6zM14.4 -102L16.9 -106.3L19.4 -102.5zM28.7 -99.7L29.6 -102.5L32.4 -102L31.6 -99.3zM44 -94.1L41.5 -95.4L42.4 -98.2L45 -96.8zM57.8 -89.1L53 -88L54.2 -92.5zM70.4 -80.6L65.5 -79.8L67 -84.2zM80.8 -70.6L75.9 -70.5L77.9 -74.6zM89.4 -59.5L84.5 -60L87 -63.9zM96.3 -47.5L91.4 -48.7L94.5 -52.1zM101.2 -34.7L96.7 -36.8L100.4 -39.6zM103.9 -21.5L100.2 -24.8L104.5 -26.4zM104.4 -8.5L102.3 -13L106.9 -12.8zM103.5 3.9L103.7 -1.1L107.7 1.2zM90 10.1L90.8 5.2L94.5 8zM88 23.3L89.1 18.5L92.6 21.5zM84.4 36.3L85.2 31.4L88.9 34.3zM78.8 48.7L79.5 43.7L83.2 46.4zM71.4 59.9L72.1 55L75.8 57.7zM62.4 69.9L63.2 65L66.9 67.8zM52.1 78.6L52.8 73.7L56.5 76.4zM40.9 86.3L40.8 81.4L44.9 83.4zM28.7 92.6L27.9 87.7L32.3 89.2zM15.4 96.8L14.6 91.9L19 93.3zM1.3 98.4L0.9 93.4L5.2 95.3zM-13.1 97.6L-12.7 92.6L-8.8 95.1zM-27.2 94.2L-25.9 89.5L-22.5 92.6zM-39.8 87.3L-36.7 83.4L-34.9 87.7zM-47.5 76.4L-46.2 81.2L-50.7 80.2zM-55.3 67.8L-56.8 72.5L-60.1 69.2zM-64.1 59.2L-66.6 63.5L-69 59.5zM-72.2 49.6L-75.5 53.3L-77.1 49zM-79.1 39.4L-83.3 42L-83.7 37.4zM-83.6 28.7L-88.5 29.6L-87.1 25.2zM-87.1 17.5L-92 16.7L-89.2 13zM-89.7 5.5L-94 3L-90.1 0.6zM-90.8 -7.2L-93.9 -11L-89.4 -12zM-90.1 -20.4L-91.7 -25.1L-87.1 -24.4zM-87.4 -33.8L-87.2 -38.8L-83.2 -36.5zM-82.4 -47.1L-80.6 -51.7L-77.6 -48.2zM-75.1 -59.5L-71.9 -63.3L-70.2 -59.1zM-65.4 -70.1L-61.6 -73.2L-60.6 -68.7zM-53.6 -77.5L-50.2 -81.1L-48.7 -76.8zM-41.2 -83.4L-38.1 -87.3L-36.2 -83.1zM-28.2 -88L-25 -91.9L-23.3 -87.6zM-14.1 -90.7L-11 -94.7L-9.1 -90.5zM1.4 -91.6L1.9 -94.4L4.8 -94.3L4.3 -91.5zM18.5 -90.5L15.7 -89.8L14.7 -92.5L17.5 -93.2zM33.6 -87.6L29 -85.9L29.6 -90.5zM47.2 -82L42.5 -80.5L43.3 -85zM59.1 -74.5L54.3 -73.3L55.4 -77.8zM69.5 -65.2L64.5 -64.6L66.2 -68.9zM78.2 -54.4L73.2 -54.6L75.5 -58.6zM85 -42.4L80.2 -43.4L83.1 -47zM89.5 -29.3L85.2 -31.7L89 -34.2zM91.3 -15.9L88.5 -20L93 -20.6zM91.1 -2.8L90.5 -7.8L94.8 -6.1zM77.1 15.8L78.3 11L81.7 14.1zM74.1 29.2L75 24.4L78.6 27.2zM68.8 41.9L69.5 37L73.2 39.7zM61.2 53.2L62.1 48.3L65.7 51.2zM51.8 63L53 58.2L56.4 61.2zM41.3 71.5L41.9 66.6L45.7 69.2zM30.1 78.9L29.1 74L33.5 75.3zM18.1 84.2L15.9 79.7L20.5 79.9zM5.1 86.7L2.5 82.5L7 82.1zM-8 86.3L-11.1 82.4L-6.6 81.6zM-19.9 82.8L-24 80L-19.9 77.8zM-30.2 74.9L-35.1 75.4L-33.4 71.2zM-41.2 65.3L-45.4 68L-45.8 63.4zM-51.7 55.7L-55.6 58.8L-56.5 54.3zM-60.9 45.2L-64.7 48.3L-65.6 43.8zM-68.1 33.6L-72.1 36.6L-72.8 32.1zM-72.1 21.2L-76.3 23.8L-76.6 19.2zM-74.5 9.1L-79.2 10.6L-78.5 6.1zM-75.9 -3.1L-80.8 -3.1L-78.7 -7.1zM-76.8 -17.1L-81.4 -18.9L-77.9 -21.9zM-74.7 -30.1L-76.2 -32.6L-73.9 -34.4L-72.4 -31.9zM-72.3 -43.7L-68.3 -46.6L-67.7 -42zM-64.8 -56.8L-60 -57.8L-61.3 -53.4zM-54.1 -65.8L-49.2 -66.8L-50.5 -62.4zM-41.2 -70.7L-37.7 -74.1L-36.3 -69.7zM-28.1 -76.5L-24.1 -79.6L-23.3 -75zM-13.3 -81.4L-10.4 -81.8L-9.7 -78.9L-12.6 -78.6zM4 -82.3L3.3 -79.4L0.5 -79.7L1.1 -82.5zM20 -80.4L16.3 -77.2L15.2 -81.6zM34 -75.9L29.8 -73.3L29.5 -77.9zM46.5 -69.2L41.9 -67.3L42.3 -71.8zM57.6 -60.6L52.8 -59.2L53.7 -63.7zM66.9 -50L62 -49.5L63.6 -53.8zM74.1 -37.8L69.2 -38.4L71.8 -42.2zM78.1 -24.4L73.9 -27.1L77.9 -29.3zM78.8 -10.9L77.4 -15.6L81.9 -14.7zM78.3 2.3L79.1 -2.6L82.8 0.2zM66.2 7L68.6 2.6L71.1 6.4zM64.4 20.6L66.3 15.9L69.3 19.4zM60 33.5L61.2 28.6L64.7 31.7zM52.8 44.9L54 40.1L57.5 43.2zM43.5 54.8L44.7 50L48.2 53zM33 63.1L33 58.2L37.1 60.3zM22.1 70L19.7 65.6L24.3 65.5zM10.5 74L6.9 70.6L11.2 69zM-1.7 74.3L-6 71.8L-2.1 69.3zM-13.8 70.9L-18.6 69.8L-15.6 66.3zM-25.4 64.2L-30.3 64.9L-28.8 60.5zM-36.6 55.1L-41.1 57.3L-40.9 52.7zM-46.9 44.5L-50.8 47.6L-51.7 43.1zM-55.7 32.8L-59.1 36.5L-60.6 32.1zM-60.7 19.5L-63.7 23.5L-65.7 19.4zM-63.4 6L-66.3 10L-68.4 5.9zM-64.2 -7.8L-66.8 -3.6L-69.1 -7.6zM-64 -21.2L-65.6 -16.5L-68.8 -19.8zM-61.1 -35.3L-60 -30.4L-64.4 -31.6zM-56 -48.3L-52.9 -44.4L-57.5 -43.5zM-46.6 -57.8L-43.5 -53.9L-48 -53zM-33.7 -62.4L-32.7 -59.7L-35.2 -58.3L-36.3 -61zM-21 -67.9L-20.4 -65L-23 -64L-23.7 -66.8zM-6.8 -72L-7.2 -67.1L-11.1 -69.6zM8.1 -72.1L6.2 -67.5L3.2 -71zM22.3 -68.9L19.3 -65L17.4 -69.2zM35.5 -63.1L31.6 -60L30.7 -64.5zM47.2 -55L42.8 -52.6L42.8 -57.2zM57 -44.8L52.2 -43.3L53 -47.8zM63.8 -32.7L58.8 -32.7L60.9 -36.8zM66.3 -19.9L64 -21.7L65.5 -24.2L67.8 -22.4zM66.5 -6.4L68.1 -11.1L71.3 -7.8zM54.4 11.4L58.1 8.1L59.2 12.5zM51.1 24.8L52 22L54.8 22.4L54 25.2zM44.6 36.8L44.7 33.9L47.6 33.6L47.5 36.5zM35.5 46.6L35.2 43.7L38.1 43.1L38.3 46zM24.7 54.7L23.7 49.8L28.1 51.1zM13.4 60.4L10.3 56.5L14.9 55.6zM1.7 62.3L-2.4 59.6L1.6 57.3zM-10.1 59.9L-14.9 58.6L-11.8 55.2zM-21.8 53.3L-26.7 53.9L-25.2 49.6zM-33.1 43.3L-37.2 46.2L-37.8 41.7zM-43 31.9L-45.7 36.1L-48 32zM-49.5 19.6L-51.8 24L-54.4 20.1zM-52.7 5.3L-54.4 10L-57.5 6.6zM-54 -8.9L-54.9 -4L-58.5 -6.9zM-52.7 -22.9L-52.5 -17.9L-56.7 -19.9zM-48.3 -35.6L-47.2 -30.7L-51.7 -31.9zM-40 -46L-39.1 -41.2L-43.5 -42.5zM-27.8 -51.8L-29.6 -47.2L-32.6 -50.7zM-15.8 -57.5L-17.7 -52.9L-20.6 -56.5zM-3 -61L-4.3 -56.2L-7.7 -59.3zM10.7 -60.6L9 -55.9L5.9 -59.2zM24.2 -56.5L21.6 -52.3L19.2 -56.2zM36.5 -49.5L33.1 -45.9L31.6 -50.2zM46.3 -40L42.4 -36.9L41.6 -41.4zM52.8 -28.5L50.6 -26.5L48.4 -28.3L50.5 -30.3zM53.6 -15.6L55.4 -17.8L57.9 -16.3L56.1 -14.1zM54.8 -2.3L58.9 -5.1L59.5 -0.6zM44.1 2.6L48.9 1.5L47.8 5.9zM41.7 16.4L43.8 14.4L46.1 16.2L43.9 18.2zM36.1 29.7L36 26.8L38.9 26.3L39 29.2zM27.6 39.6L26.3 37L28.6 35.3L29.9 37.9zM16.1 46.6L14.3 42L18.9 42.5zM3.7 50.2L1 46.1L5.6 45.6zM-8.6 48.9L-12.4 45.7L-8.1 44zM-20.3 41.9L-23.1 42.9L-24.4 40.3L-21.7 39.3zM-29.7 31.6L-32.8 35.5L-34.7 31.4zM-37.1 20.4L-39.9 24.5L-42.1 20.4zM-41.7 7.2L-44 11.6L-46.6 7.8zM-43.2 -8.1L-43.9 -3.2L-47.6 -5.9zM-41.3 -21.8L-41.1 -16.8L-45.2 -18.8zM-34.9 -33.1L-34.9 -28.1L-38.9 -30.2zM-24.4 -40.1L-26.6 -35.7L-29.3 -39.4zM-12.7 -46.4L-15.1 -42L-17.7 -45.8zM-0.2 -49.8L-1.8 -45.1L-5 -48.3zM12.9 -48.8L11.5 -44.1L8.1 -47.3zM25.2 -43.8L23.6 -39.1L20.5 -42.5zM35 -35.4L33.9 -30.6L30.4 -33.5zM40.4 -24.6L42.9 -23L41.7 -20.4L39.2 -21.9zM43.1 -11.2L48.1 -11.5L46.1 -7.3zM32.3 8.3L35.1 7.7L36.2 10.4L33.4 11zM28.3 23.9L26.2 22L27.8 19.6L30 21.5zM18.3 32.9L15.8 31.4L16.9 28.7L19.4 30.2zM5.4 38.3L1.9 34.8L6.3 33.4zM-7.5 36.7L-12 34.6L-8.4 31.8zM-18.1 28.2L-22.5 30.3L-22.4 25.7zM-26.4 16.6L-30.2 19.8L-31.2 15.3zM-31.7 3.2L-35.1 6.9L-36.7 2.6zM-31.8 -11.8L-33.3 -7L-36.6 -10.3zM-25.6 -23.8L-27.5 -19.2L-30.5 -22.7zM-14.7 -32.8L-17.1 -28.4L-19.7 -32.2zM-1.9 -37.9L-3.3 -33.1L-6.6 -36.3zM11.2 -37.4L10.9 -32.4L7 -34.7zM22.3 -31.1L23.7 -26.3L19.2 -27.2zM29.5 -20.1L33.6 -17.3L29.5 -15.2zM33 -6.1L37.9 -5.3L35.2 -1.7zM23 0L25.9 0.5L25.8 3.4L23 2.9zM21.6 15.5L18.9 16.4L17.6 13.8L20.4 12.9zM10.7 24.8L5.9 23.6L8.9 20.2zM-1.8 25.8L-6.8 25.7L-4.5 21.7zM-12.9 17.7L-17.5 19.6L-17.1 15.1zM-20.5 4.7L-24.5 7.7L-25.2 3.1zM-21.1 -9.6L-22 -6.9L-24.9 -7.4L-23.9 -10.2zM-13.1 -21.1L-13.4 -18.2L-16.3 -18.1L-16 -21zM-0.5 -26.8L-0.6 -21.8L-4.6 -24zM11.8 -24.2L14 -19.8L9.4 -19.9zM20.5 -13.7L23.2 -12.7L22.5 -9.8L19.8 -10.9zM13.3 7.1L11.6 9.4L9 8L10.8 5.7zM2 14.3L-2.8 15.3L-1.6 10.9zM-9.1 5.8L-13.4 8.3L-13.6 3.7zM-9.5 -8.9L-10 -6.1L-12.9 -6.2L-12.4 -9zM1.5 -15.6L2.8 -13L0.4 -11.3L-0.9 -13.9zM11.7 -8.1L14 -6.3L12.6 -3.8L10.3 -5.5z"/><use href="#top"/></g><circle class="oc" r="180.5"/><use href="#lab"/><text class="tt" transform="translate(0 -206.3) scale(1 1.09)" text-anchor="middle">(a) ERA5</text></g><g transform="translate(711.7 242.1)"><g clip-path="url(#cc)"><circle r="181.5" fill="#fafafa"/><path fill="#fff" fill-rule="evenodd" d="M-188 -188l376 0l0 266.6l-3 1.2l-4 0.9l-3 0.1l-3-0.5l-3-1.3l-3-2.4l-2-2.4l-2-3.4l-3-8.3l-2-10l-4.6-44.5l-3.4-22l-2.2-10l-2.6-10l-2.8-9l-3.4-9.5l-5-11.8l-6-11.7l-6-9.8l-6-8.1l-6-6.5l-5-4l-3-1.7l-3-1l-2-0.4l-3 0.1l-4 0.9l-6 2.8l-7 4.4l-7 5.3l-7 6.1l-6.9 6.9l-6 7l-3.4 5l-2.1 5l-0.6 5l0.8 6l4.5 17l1.3 8l0.2 5l-0.3 5l-0.8 5l-1.1 4l-3.8 9l-5.7 9l-3.3 4l-3.8 3.9l-10 8.1l-3.2 3l-2.8 4l-2.5 6l-1.1 7l0.2 4l0.7 4l1.8 6l6.4 16l3 9l2.8 11l2 11l0.5 6l-0.6 5l-1.7 4l-2.3 3l-3.5 3l-5.7 3.2l-7 2.6l-7 1.7l-8 1l-8 0.4l-9-0.3l-9-1l-9-1.6l-8.4-2l-9.6-3l-8-3l-9-4l-8-4.1l-8.3-4.9l-8.7-5.8l-9.5-7.2l-9.2-8l-9.3-9l-8.2-9l-9.5-12l-9.1-13l-7.9-13l-12.3-21.8l-4-6.1l-3-3.4l-2-1.5l-3-0.8l-2 0.6zM-78 -83.1l-6 0.8l-6 1.5l-6 2.6l-5 3l-5 4.2l-5 5.5l-3.7 5.5l-3 6l-2 6l-1.3 7l-0.2 6l0.6 7l1.8 7l2.4 6l3.4 5.7l3.6 4.3l3.4 3l4 2.6l4 2l5 1.8l12 2.8l7 0.9l6 0.4l7-0.1l8-0.7l26-3.7l19-2.3l6-1.6l2-1.2l2-1.7l3-4.7l2.6-7.5l3.5-15l2.1-13l0.4-7l-0.5-5l-1.3-4l-2.8-4l-5.1-4l-8.1-4l-9.8-3.6l-12-3.2l-13-2.6l-15-1.9l-14-1z"/><path fill="#fcc8c4" fill-rule="evenodd" d="M-109.2 -144l4.2-0.7l3 0l3 0.4l3 1.4l2 2l1.4 2.9l0.5 3l-0.1 4l-1.9 8l-4.3 10l-6.1 11l-13.5 21.2l-5.2 8.8l-4.8 10l-3.4 10l-1.4 6l-1 7l-0.4 7l0.1 7l0.8 8l1.3 7l1.8 7l2.2 6.3l2.1 4.7l2.9 4.9l3 4l3 3.1l3 2.3l4 2.2l3 1.1l4 0.8l5 0.2l5-0.4l21-3.4l11-2.2l21.5-5.6l10.5-1.6l7-0.1l6 0.8l5.1 1.9l3.9 2.7l2.6 3.3l1.9 5l0.5 5l-0.1 11l1.2 7l2.3 6l7.3 14l3.1 7l2.5 8l1.3 8l0.1 5l-0.6 5l-1 4l-1.6 4l-1.9 3l-2.7 3l-3.9 2.9l-4 2l-8 2.3l-10 0.9l-11-0.6l-11-2l-11.9-3.5l-11.1-4.5l-11-5.7l-10.8-6.8l-12.1-9l-11.6-10l-11.2-11l-10.7-12l-8.6-11l-8-12l-6.1-11l-5.9-12.8l-4.5-12.2l-3.4-12l-2.7-13l-1.4-12l-0.4-12l0.6-11l1.7-11l2.9-11l4.1-11l5.5-11l6.5-10l7.1-8.6l8-7.8l9-6.9l9-5zM-11.6 -142l7.6-0.8l7-0.2l7 0.4l7 0.9l7 1.4l6 1.8l6 2.4l6 3l5 3.2l4.6 3.9l3.4 4l2 3.3l1.3 3.7l0.4 4l-0.8 4l-1.8 4l-3 4l-3.1 3l-4 3l-4 2.2l-4 1.6l-5 1.3l-6 0.9l-6 0.2l-12-0.2l-17-1.2l-14-1.5l-12-1.8l-9-2l-7-2.2l-4.5-2.3l-3.6-3l-1.4-2l-1.1-3l-0.2-3l0.5-3l1.6-4l1.9-3l2.4-3l3-3l3.7-3l4.5-3l9.2-4.7l11-3.9zM147.4 -85l1.6-0.7l1-0.1l3 1l4 2.8l4 4.1l4 5.4l3 5l3 6.3l2.3 6.2l1.8 6l1.3 7l0.8 7l0 6l-0.7 6l-1.5 5l-2 3.3l-2 1.2l-1 0l-2-0.9l-2-2l-2-3.1l-4-8.9l-5-14.3l-6-19.3l-2.7-11l-0.5-4l-0.1-4l0.4-2zM27.2 -30l1.8-0.3l2 0.5l2 1.5l1 1.3l2.2 5l0.5 3l0.2 4l-0.9 6l-1.1 3l-1.6 3l-3.3 3.5l-2 1.1l-2 0.4l-3-0.8l-2-2.2l-1.6-4l-0.4-6l0.9-7l2.1-6l2.5-4z"/><path fill="#d6d6e9" fill-rule="evenodd" d="M86.9 -84l5.1-0.5l5 0.5l5 1.4l6 3l6 4.4l5 4.9l5 6.3l3.9 6l3.8 7l3.4 8l2.8 8l2.3 9l1.7 9l0.9 9l0.3 9l-0.4 9l-1 8l-1.5 8l-2.1 8l-2.6 8l-3.3 8l-3.9 8l-4.3 7.8l-4.6 7.2l-5.4 7.7l-7 8.8l-7 7.8l-7 6.9l-7 6l-6 4.3l-6 3.2l-4 1l-2-0.6l-0.9-1.1l-2.3-6l-1.8-3l-2.7-3l-6.3-5.6l-3-3.1l-3-3.9l-3-5.1l-5-11.3l-4.7-13l-1.8-8l-0.2-7l0.7-4l1.4-4l2.1-4l2.6-4l4.1-5l4.8-5.1l14.9-13.9l3-4l2-4l1.1-3.2l1-4.6l0.6-9.2l-0.8-10l-3.5-25l-0.2-6l0.6-6l1.1-4l1.3-3l1.8-3l2.5-3l2.6-2.4l3-2l3-1.4zM-69.2 -73l8.2-0.4l9 0.3l9 1.2l8 1.7l7 2.3l7 3l6.4 3.9l4.9 4l3.7 4.2l3 4.8l1.9 5l1 6l-0.3 7l-1.3 6l-2.3 5.4l-3.4 4.6l-3.5 3l-3.4 2l-4.7 2l-6.3 2l-8.7 2l-8 1.3l-8 0.8l-8 0.3l-11-1l-6-1.3l-5-1.6l-5-2.1l-5-2.6l-4.2-2.8l-3.8-3.2l-4-4.4l-2.9-4.4l-1.8-4l-1.4-5l-0.5-5l0.3-5l1.3-5l1.6-4l2.4-4l3.3-4l3.7-3.4l5-3.3l5-2.4l5-1.7l6-1.4zM-143.1 87l2.1 0.6l4 2.5l21 16.5l14 9.8l14 8.2l16 7.6l15 5.6l16 4.4l18 3.4l28 3.1l1.3 0.3l1.6 1l-0.1 1l-1.1 1l-4 2l-6.4 2l-4.6 1l-11.7 1.5l-12 0.1l-12-1l-12-2.2l-12-3.3l-11.1-4.1l-11.9-5.7l-10.8-6.3l-11.1-8l-9.2-8l-9.4-10l-7.4-10l-2.9-5l-1.7-4l-0.5-3z"/><path fill="#f99fb5" fill-rule="evenodd" d="M-2 -128l7-0.3l7 0.6l7 1.7l6 2.6l4.9 3.4l1.8 2l1.3 2l0.7 2l0.1 2l-0.9 3l-2.9 3l-3 1.7l-3 1l-7 1.3l-9 0.4l-11-0.7l-10-1.8l-7-2.6l-2.2-1.3l-2-2l-1.1-2l0-3l1.4-3l2.9-3l3-2.1l5-2.3l5.2-1.6zM-40.4 32l5.4-0.8l4 0.2l3 0.9l3 2.5l2 3.1l6.5 12.1l13.5 19.9l2.7 5.1l1.7 4l1.7 6l0.6 5l-0.3 5l-1.1 4l-1.9 4l-3.4 4l-4 2.8l-4 1.9l-5 1.4l-6 0.7l-6-0.1l-6-0.6l-7-1.5l-7-2.1l-7-2.8l-7-3.3l-7-4.1l-7-4.7l-7-5.5l-5.6-5.1l-5.7-6l-4.8-6l-3.3-5l-2.4-5l-1.2-5l0.2-2l0.8-2l1.5-2l1.5-1.3l6.7-3.7l10.3-4.2l10-3.1z"/><path fill="#a6bddb" fill-rule="evenodd" d="M91.1 -71l3.9-0.3l4 0.7l4 1.4l5 2.8l4 3.1l4 4l4 5l3.4 5.3l3.1 6l2.6 6l1.9 6l1.8 7l1.1 7l0.7 7l0.1 7l-0.5 7l-0.9 7l-1.4 7l-1.9 6.6l-2.3 6.4l-2.7 6.2l-3.6 6.8l-3.4 5.4l-4 5.4l-4 4.5l-5 4.7l-4 3l-5 3.1l-5 2.2l-5 1.6l-5 0.8l-4 0l-4-0.7l-3-1.2l-3-2l-3-3.1l-2.3-3.7l-1.6-4l-1-5l0-4l0.7-4l1.7-4l2.4-4l8.1-10.4l3-4.6l3-6.1l2-5.9l1.7-9l0.5-11l-0.6-11l-2.9-26l-0.2-6l0.4-5l1.6-6l2.5-4.2l2-2l2-1.3zM-67.8 -63l6.8-0.8l6 0l6 0.5l6 1.1l5 1.5l5 2l5 2.7l4 3l3.2 3l3 4l2 4l1.1 4l0.4 4l-0.7 4.8l-1.7 4.2l-2 3l-3 3l-2.8 2l-3.6 2l-3.9 1.6l-9.1 2.4l-10.9 1.2l-9-0.5l-9-1.9l-8-3.3l-6.8-4.5l-3.2-3l-2.4-3l-1.8-3l-1.3-3l-0.8-3l-0.3-4l0.5-4l0.9-3l1.5-3l2.2-3l2.5-2.5l3.2-2.5l3.4-2l4.4-1.9z"/><path fill="#f05ea0" fill-rule="evenodd" d="M-62 49l6-0.6l6 0l5 0.6l5 1.3l5 2l4 2.2l5 3.7l5 4.5l4.8 5.3l3.2 4.5l2.4 4.5l1.8 5l0.6 5l-0.5 4l-1.6 4l-2.4 3l-2.3 1.9l-3 1.6l-6 1.6l-8 0.3l-8-1.2l-9-2.8l-9-4.3l-7.9-5.1l-7-6l-5.3-6l-3.5-6l-1.3-5l0-3l0.5-2l2.2-4l1.9-2l2.6-2l6.1-3z"/><path fill="#67a5cf" fill-rule="evenodd" d="M97.4 -58l2.6 0.1l3 0.8l5 2.8l5 4.6l5 6.7l4 7.9l2.8 8.1l1.8 9l0.7 9l-0.4 9l-1.5 9l-2.7 9l-3.7 8.1l-5 7.4l-5 5.1l-5 3.2l-3 1l-2 0.3l-3-0.5l-2.3-1.6l-1.8-3l-0.9-4l-0.3-6l0.4-17l-0.2-11l-2.7-31l-0.4-8l0.5-8l0.7-3l1-2.6l1.6-2.4l1.4-1.3l2-1.2z"/><path fill="#c51b8a" fill-rule="evenodd" d="M-56.2 62l3.2-0.6l3-0.1l6 0.8l7 2.7l6 4l2.4 2.2l2.6 3l2.6 5l0.6 3l-0.1 2l-0.5 2l-1.2 2l-2.3 2l-3.1 1.3l-4 0.6l-4-0.2l-5-1l-4.7-1.7l-4.3-2.2l-4-2.8l-3.4-3l-2.6-3.3l-1.9-3.7l-0.5-3l0.5-3l1.9-2.9l3-2.1z"/><path fill="#2080b8" fill-rule="evenodd" d="M102.4 -41l2.6 0l2 0.9l3 2.5l2.2 2.6l1.8 3l2.3 5l1.5 5l0.9 5l0.4 5l-0.2 5l-0.6 5l-1.3 4.8l-2 4.7l-2 2.9l-2 1.9l-2 0.8l-2-0.1l-2-1.5l-2.5-4.5l-2.5-9.5l-1.9-12.5l-0.9-11l0.6-8l0.8-3l1-2l1.4-1.4z"/><path class="z0" d="M-78 -83.1l-6 0.8l-6 1.5l-6 2.6l-5 3l-5 4.2l-5 5.5l-3.7 5.5l-3 6l-2 6l-1.3 7l-0.2 6l0.6 7l1.8 7l2.4 6l3.4 5.7l3.6 4.3l3.4 3l4 2.6l9 3.8l12 2.8l13 1.3l15-0.8l45-6l6-1.6l4-2.9l3-4.7l2.6-7.5l3.5-15l2.1-13l0.4-7l-0.5-5l-1.3-4l-2.8-4l-5.1-4l-8.1-4l-9.8-3.6l-12-3.2l-13-2.6l-15-1.9l-14-1zM188 78.6l-7 2.1l-3 0.1l-3-0.5l-3-1.3l-3-2.4l-4-5.8l-3-8.3l-2-10l-4.5-43.5l-3.2-21l-4.3-19l-5.7-18l-4.3-10.8l-5-10.6l-5-9.1l-6-9.2l-6-7.6l-6-5.9l-5-3.4l-5-1.7l-5 0l-6 2l-8 4.6l-8 5.9l-9 7.8l-8.6 9l-5.5 7l-3 6l-0.9 4l0.3 5l4.8 19l1.6 10l-0.2 9l-1.6 8l-3.6 9l-4.7 8l-7.6 8.9l-12 9.9l-3 3.2l-3 5l-2.1 7l-0.4 6l0.8 6l2.1 7l6.8 17l2.9 9l3.4 15l1.3 11l-0.9 6l-2.8 5l-3.1 3l-2.9 2l-7.1 3.5l-11 3l-12 1.3l-14-0.3l-14-1.9l-14.9-3.6l-14.1-5l-13-6l-13.9-8l-11.1-7.7l-10.3-8.3l-10.7-10l-9.4-10l-9.8-12l-9.3-13l-8-13l-13.5-23.8l-4-6.1l-3-3.4l-2-1.5l-3-0.8l-2 0.6"/><use href="#base"/><path fill="url(#g6)" d="M-30 -133.5L-24 -147L12 -147L12 -133.5z"/><path fill="url(#d6)" d="M-30 -133.5L-24 -147L12 -147L12 -133.5z"/><path d="M-15 71.5v11M-19.5 72.5l9 9M-10.5 72.5l-9 9" stroke="#000" stroke-width="1.8" fill="none"/><path class="sh" d="M21.9 168.7L25.2 168.4M7.7 170.3L12.5 169.8M-6.5 170.8L-0.4 170.2M-20.6 170.2L-13.4 169.4M-34.4 168.5L-26.4 167.6M-47.9 165.6L-39.4 164.8M-61 161.5L-52.3 161.1M-73.7 156.1L-64.9 156.4M-85.8 149.5L-77.1 150.9M-97.2 141.7L-88.9 144.5M-107.8 132.9L-100.3 137.2M-117.4 123.4L-111.2 129M-126.1 113.3L-121.5 119.8M-133.8 103L-131.1 109.5M-140.5 92.5L-139.8 98.1M-146.3 82.2L-147.3 85.6M-156.2 61.8L-158.4 61.3M-160.4 51L-163.7 48M-164 39.3L-167.4 34M-166.8 26.9L-169.7 20M-168.5 13.9L-170.7 6.1M-169.1 0.6L-170.7 -7.6M-168.7 -12.8L-169.5 -21.1M-167 -26.3L-167.4 -34.4M-164.2 -39.7L-164.2 -47.4M-160.3 -53.1L-160 -59.7M-155.4 -66.4L-154.9 -71.5M-149.6 -79.4L-148.8 -82.8M-143.2 -92L-142.1 -93.7M-128.1 -115.3L-125.4 -115.6M-119.1 -125.7L-115.3 -125.1M-109 -135L-104.6 -133.8M-98.1 -143.2L-93.5 -141.6M-86.6 -150.2L-81.9 -148.7M-74.4 -156.2L-69.9 -154.8M-61.8 -161.1L-57.5 -160M-48.9 -165.2L-44.6 -164.1M-35.7 -168.4L-31.4 -167.1M-22.4 -170.7L-17.9 -169M-8.9 -172L-4.2 -169.9M4.6 -172.2L9.4 -169.6M18.1 -171L23 -168.3M31.3 -168.6L36.4 -166.1M44.3 -164.8L49.5 -162.9M57.1 -159.7L62.2 -158.7M69.5 -153.6L74.5 -153.5M81.7 -146.7L86.3 -147.2M93.4 -139L97.5 -140M104.5 -130.6L108.1 -131.8M114.9 -121.4L118.1 -122.7M124.4 -111.5L127.4 -113M132.9 -100.8L136.1 -102.5M140.6 -89.7L143.9 -91.4M147.5 -78.2L150.5 -79.6M153.9 -66.3L155.8 -67.2M157.8 22L157.6 17.2M155.2 34.5L155.4 31.6M75.5 139.9L77 138.8M62.4 146.3L65.4 144.5M49 151.3L53.4 149.3M35.3 155.2L40.9 153.1M21.4 157.8L27.9 155.9M7.6 159.3L14.7 157.6M-6.2 159.6L1.2 158.2M-19.9 158.9L-12.4 157.6M-33.4 157.3L-26 155.7M-46.4 154.6L-39.5 152.6M-58.9 150.9L-52.9 148.4M-70.4 145.9L-66.4 143.4M-97.5 123.6L-102.2 121.6M-106.7 114.7L-113.3 112.1M-115.7 105.1L-122.9 101.8M-124.2 95L-131.3 90.7M-132 84.1L-138.6 79M-138.8 72.7L-144.9 66.7M-144.7 60.6L-150 53.9M-149.5 48L-154 40.8M-153.2 35L-156.9 27.4M-155.9 21.7L-158.6 13.8M-157.4 8L-159.1 0.4M-157.7 -6L-158.4 -12.8M-156.7 -20.8L-156.7 -25.1M-137.6 -78.2L-138.7 -76.7M-97.4 -128.7L-95 -127.3M-86.9 -135.9L-83.2 -134.8M-75.6 -142.1L-70.9 -141.5M-63.5 -147.4L-58.1 -147.1M-50.9 -151.9L-44.9 -151.7M-37.9 -155.5L-31.5 -155M-24.6 -158.1L-17.9 -157.2M-11 -159.7L-4.2 -158.1M2.6 -160L9.5 -157.8M16.3 -159.1L23.1 -156.5M29.8 -156.7L36.5 -154M43 -153L49.6 -150.6M55.9 -148L62.2 -146.1M68.6 -141.7L74.2 -140.5M81 -134.4L85.4 -133.9M93 -125.9L95.8 -126.1M125.2 -93.7L125.1 -97.8M133.7 -81.5L132.9 -87.7M141 -69.2L139.6 -76.6M147 -56.6L145.4 -64.6M151.9 -43.7L150.2 -51.9M155.6 -30.6L153.8 -38.8M158.1 -17.3L156.4 -25.3M159.3 -4L157.9 -11.4M159.2 9.2L158.3 2.7M144.4 15.7L145.6 8M142.2 28.8L144.2 22M138.9 41.5L141.3 35.8M134.6 53.8L137.1 49.4M129.2 65.7L131.6 62.4M122.8 77.2L124.9 74.8M115.5 88.1L117 86.5M16.7 145L14 145M4.3 146L-0.8 145.5M-8.6 146.1L-15.2 144.6M-21.9 145.1L-29.1 142.3M-35.2 142.7L-42.5 138.7M-48.3 138.7L-55.5 134.1M-60.8 133.3L-67.9 128.4M-72.6 126.5L-79.9 121.7M-83.6 118.5L-91.1 114M-94 109.6L-101.5 105.2M-103.6 99.8L-111 95.5M-112.4 89.4L-119.5 84.8M-120.3 78.4L-126.9 73.3M-127.2 66.7L-133.1 61.2M-133.1 54.4L-138 48.6M-138 41.3L-141.6 35.9M-142 27.2L-143.8 23.5M-145.6 -19.8L-144.7 -17.4M-143 -34.5L-142.3 -29.7M-138.5 -48.3L-139 -42.4M-132.5 -61L-134.7 -55.1M-125.7 -72.6L-129 -67.7M-118.5 -83.4L-121.8 -80M-111.2 -93.5L-112.9 -91.9M-86.5 -118.7L-83.6 -119.3M-76.1 -125.5L-70.9 -126.9M-64.7 -131.6L-58 -133.2M-52.4 -136.7L-44.9 -138.2M-39.5 -141L-31.6 -141.9M-26.3 -144.1L-18 -144.2M-12.7 -146L-4.4 -145.2M1 -146.7L9.2 -144.9M14.7 -145.9L22.8 -143.4M28.3 -143.8L36.1 -140.7M41.7 -140.2L49 -136.9M54.8 -135.3L61.4 -131.9M67.6 -129L72.9 -126M80.4 -121.2L83.3 -119.4M115.4 -88.8L113.1 -91.7M123.9 -76.4L120.5 -81.9M130.8 -63.8L127.3 -70.9M136.3 -51L133.3 -58.9M140.5 -37.9L138.2 -46.3M143.4 -24.6L141.9 -33.2M145 -11.1L144.4 -19.7M145.4 2.4L145.6 -5.9M129.5 21.7L132.2 13.6M126.5 34.6L130.1 27.4M122.3 47L126.5 41M117 58.8L121.3 54.2M110.8 69.8L114.5 67M103.9 80.1L106.1 78.9M56.6 119.3L54.1 120.8M44.7 123.9L40.7 126.1M32.3 127.5L26.9 129.9M19.4 130.2L13 132M6.2 131.9L-0.9 132.6M-7.2 132.3L-14.7 131.6M-20.8 131.5L-28.2 129.1M-34.3 129L-41.4 125.4M-47.3 124.9L-54.2 120.4M-59.5 119L-66.4 114.3M-71 111.7L-78 107.1M-81.7 103.1L-88.8 98.8M-91.5 93.6L-98.6 89.4M-100.6 83.4L-107.2 79M-108.8 72.3L-114.6 67.8M-116.3 60.1L-120.3 56.2M-132.8 15.7L-131.5 17.4M-134.2 1L-132.1 4.8M-133.8 -13.2L-131.7 -8.4M-131.8 -27.2L-130.1 -21.6M-127.8 -40.9L-127.3 -34.7M-121.7 -53.6L-123.4 -47.7M-114.2 -64.9L-118.2 -60.4M-106.5 -75L-111.2 -72.7M-99.2 -84.1L-102 -84.1M-84.6 -100.6L-83.1 -103M-75.3 -108.3L-71.1 -111.9M-64.5 -115.4L-58.5 -118.9M-52.8 -121.4L-45.6 -124.4M-40.3 -126.4L-32.3 -128.4M-27.2 -130.1L-18.8 -130.9M-13.7 -132.4L-5.2 -132.1M0 -133.4L8.4 -131.8M13.8 -133L21.8 -130.1M27.6 -131L35 -127.1M41.2 -127.5L47.6 -122.9M54.7 -122.5L59.6 -117.6M68.2 -115.8L70.6 -111.6M81.8 -107.1L81.5 -105.1M94.5 -96.2L92.2 -95.6M105.2 -84.1L100.1 -85.9M113.6 -71.5L107.7 -75.9M120.1 -58.6L114.9 -64.9M125.1 -45.5L121 -53.1M128.7 -32.1L126 -40.5M130.9 -18.6L129.7 -27.4M131.8 -5.1L132 -13.9M131.3 8.4L132.9 -0.2M115.8 13L119.7 6.6M113.3 25.6L118.2 20.5M109.6 37.8L114.9 34.1M104.9 49.5L109.9 47.3M99 60.6L103.2 59.7M92.1 71L95 71.1M30.3 112.9L29 114.9M18.1 115.5L15.2 118.1M5.9 117.3L1 119.2M-6.8 118L-13.2 118.4M-19.8 117.3L-27.1 115.8M-32.8 114.8L-40.4 111.7M-45.6 110.4L-53 106.3M-57.6 104.2L-64.9 99.6M-68.8 96.6L-76 91.7M-79.3 87.8L-85.9 82.7M-89 77.8L-94.6 72.6M-98.3 66.6L-101.4 62.2M-118.8 24L-116.5 25.3M-120.7 10L-118.5 11.9M-121.1 -3.8L-119.1 -1.7M-120.4 -18L-117.7 -14.7M-117.4 -32.3L-115 -27.6M-111.2 -45.6L-111.5 -40.6M-103 -57L-106.7 -53.1M-94.5 -66.9L-100.6 -65.2M-86.3 -75.9L-92.5 -76.6M-78.6 -83.9L-82.2 -86.7M-71.1 -91.6L-71.4 -95.2M-62 -99.2L-59.8 -103M-51.2 -106L-47.3 -109.3M-39.3 -111.6L-34.3 -114M-26.6 -116L-21 -117M-13.2 -119L-7.4 -118.5M0.6 -120.5L6.1 -118.3M14.6 -120.3L19.5 -116.7M28.8 -118.3L32.5 -113.5M42.8 -114.5L45 -109.1M56.7 -108.8L56.9 -103.5M70 -101.2L68 -96.5M82.3 -91.8L78.3 -88.2M93.1 -80.7L87.4 -78.9M102.1 -68.3L95.5 -68.8M109 -54.9L102.7 -57.9M113.7 -41L108.8 -46.3M116.5 -27L113.8 -33.9M117.6 -13.3L117.3 -20.9M117.3 0L119.4 -7.3M101.4 10.8L105.2 14.9M98.8 24.5L102.3 27.8M94.6 37.8L97.7 40.3M88.7 50.4L91.5 52.2M81.5 62.1L83.7 63.3M29.6 98.2L29.4 100.9M17.6 100.5L16 104.6M5.7 102.1L2.1 106.1M-6.3 102.9L-12.1 105.4M-18.7 102.5L-26 102.7M-31.5 100.2L-39.2 98.1M-44.1 95.8L-51.5 92.1M-56.1 89.5L-62.8 84.7M-67.5 81.6L-72.8 76.1M-78.6 72.1L-81.2 66.6M-89.2 60.6L-88.6 56.7M-97.8 47.3L-95.3 45.2M-103.3 33.6L-100.4 32.7M-106.2 20L-104.3 19.7M-108.6 -8.8L-104.8 -7.2M-106.8 -23.6L-102.5 -20.1M-101.3 -37.1L-99.8 -33.6M-92.7 -48.6L-94.4 -46.6M-83.5 -58.8L-89.2 -57.8M-74.4 -68.4L-81.9 -68.9M-65.1 -77L-72.4 -79M-55.7 -84.7L-60.9 -87.4M-46 -91.8L-47.8 -93.4M5.8 -107.3L4.5 -105.8M19.5 -106.6L17.5 -104M32.7 -104L30.4 -100.6M45.4 -99.6L42.9 -95.5M57.3 -93.7L54.7 -88.9M68.4 -86.2L65.6 -80.8M78.3 -77.3L75.5 -71.5M86.9 -67.1L84.2 -61M93.8 -55.8L91.6 -49.7M98.7 -43.6L97.7 -37.7M101.6 -30.5L102.2 -25.1M102.8 -16.9L105 -11.9M102.7 -3L106.1 1.5M91.7 0.8L93.2 8.9M90.1 14.6L91.1 21.9M86.4 28.5L87.1 34M80.4 42L81.2 45.3M29.7 84.8L30.2 87.7M17 87.3L17.2 92.1M4.5 88.5L3.5 94M-7.8 88.7L-10.3 93.3M-19.9 87.9L-23.7 90.4M-32.3 85.8L-36.5 85.7M-45.1 81.6L-48.5 79.4M-58 74.9L-59.3 71.6M-70.2 65.7L-69 62.1M-80.3 54.3L-77 51.2M-87.5 41.7L-83.6 39.5M-91.9 28.6L-89 27.1M-94.7 14.8L-92.5 14M-97 -0.2L-92.4 0.4M-96.5 -15.2L-90.8 -12.7M-91.9 -28.6L-89.1 -26.5M-74.5 -50.9L-77.5 -51.1M-64.4 -61.3L-71.2 -62M-54 -70.4L-62 -71.7M-43.2 -78.2L-50.8 -79.6M-32 -85.1L-37.9 -85.6M-20 -90.7L-24.3 -89.8M-6.8 -93.9L-11 -92.2M6.9 -94.7L2.4 -92.6M20.3 -93.4L16 -91.2M32.9 -90.3L29.4 -87.9M44.6 -85.6L42.1 -82.7M55.1 -79.6L53.7 -75.3M64.6 -71.9L64.3 -65.8M73 -62.5L73.6 -55M80.1 -51.5L81.3 -43.4M85.7 -39.4L87.2 -30.9M89.5 -26.4L91.3 -17.9M91.5 -12.9L93.3 -4.5M80.3 7.4L79.9 14.2M77.6 21.7L76.6 26.6M71.8 35.5L71.4 38M30.2 72.1L31.1 74.2M16.9 75.1L18.4 79.5M3.3 76.4L5 82.1M-10.3 76L-8.8 81.7M-23.7 74.1L-22.4 78.3M-37.1 70.8L-35.9 72.3M-50 65.7L-47.8 65.8M-61.4 57.9L-57.2 56.8M-70.4 47.7L-65.7 46.1M-76.9 35.9L-72.9 34.3M-81.1 22.8L-78.2 21.6M-84.6 8.3L-80 8M-85.7 -6.8L-79.2 -5.3M-82.4 -20.5L-78.2 -19.1M-55.4 -54.3L-59.9 -55.3M-43.7 -63.4L-51.2 -64.8M-32 -70.8L-39.8 -72.1M-19.8 -76.9L-26.5 -77.1M-7.5 -81.2L-12.1 -80M5.4 -82.6L2.1 -80.9M18.5 -81.1L16.2 -79.6M41.8 -72.2L41.6 -70.3M52 -65.2L52.6 -61.3M61 -56.4L62.6 -50.6M68.6 -45.7L70.7 -38.6M74.5 -33.7L76.6 -25.9M78.5 -20.5L80.1 -12.5M80.5 -6.8L81.2 1M70 1L69.3 5.3M68.5 15.4L67.1 18.2M20.7 63L22 65.7M6.7 65.1L9.2 69.8M-7.4 65.2L-4.1 70.6M-21.4 63.2L-17.3 68.2M-34.7 59.4L-30.1 62.9M-46.6 53.6L-41.7 55.2M-56.5 45.6L-51.9 45.6M-63.8 35.5L-60.2 34.4M-69.1 23.3L-65.9 22M-73.5 9.1L-67.7 8.7M-74.5 -5.5L-67.5 -4.6M-70.3 -18.7L-67.2 -18.3M-42 -51.6L-45.8 -52.5M-29.5 -59L-36.2 -60.8M-17 -64.7L-23.8 -66.3M-4.7 -68.7L-9.4 -69M41.2 -57.8L42.4 -55.2M51 -49.1L52.6 -45.2M58.9 -38.4L60.6 -33.7M64.7 -26.3L66.2 -21.1M68.5 -13L69 -7.9M58.6 8.3L57.2 10.4M54.9 21.5L53.4 23.2M11.7 53.5L12.7 56.4M-2.5 54.3L-0.4 58.7M-16.4 52.6L-13.5 57.1M-29.3 48.7L-26.3 51.9M-40.5 42.8L-38.3 43.8M-56.7 23.8L-53.5 22.3M-62.2 10.1L-55.7 9.2M-63.2 -4.1L-56 -4M-58.4 -17.2L-55.7 -17.3M-28 -47.4L-31.5 -48.9M-15 -52.6L-20.3 -55.3M-2.5 -55.9L-6.6 -58M30.1 -49.9L32.1 -48.3M40.7 -42.8L42.9 -38.8M49.3 -32.2L50.7 -27.9M55.3 -19.5L55.8 -15.9M58.5 -5.7L58 -3M48.3 -0.5L46.4 4M46.3 13.2L43.5 16.7M39.9 25.5L37.4 28.1M29.9 35.3L28.5 36.9M17.2 41.3L16.7 43.1M3.6 43.4L3.4 46.5M-10 42.4L-9.9 45.7M-43.9 23.7L-41.3 22.6M-50.8 11L-44 9.7M-52.1 -2.8L-44.7 -3.5M-47.1 -15.7L-44 -16.3M-13.9 -41.1L-16.6 -44.1M-1.1 -43.6L-3.7 -47M10.1 -42.6L9.9 -45.5M20.1 -39.5L21.9 -40.8M30.3 -35.5L33.2 -33M39.8 -26.9L41.4 -21.4M45.9 -14.4L45.7 -9M37.1 6.4L33.7 9.9M31.1 20L28 21.8M19.5 29L18.2 30.3M5.5 32.2L4.6 35M-8.6 31.3L-9.3 33.9M-34.6 18L-30.4 17.6M-40.6 5.2L-33.2 4.2M-39 -8.3L-32.8 -9.7M-30.1 -20L-28.6 -21.3M-17.6 -28L-17.6 -30.2M-3.9 -31.4L-4.5 -35.7M8.7 -29.9L9.5 -35.3M19.5 -25L22 -28.4M36.5 -8.3L35 -3.9M-5.9 21.2L-5.3 23.5M-20.6 16L-17.2 17.4M-29.1 5.6L-22.2 5.1M-27.6 -7L-21.6 -9M-17.1 -16.7L-14.5 -19.8M-2.9 -20.4L-1.6 -25.2M10.5 -16.7L12.1 -23M21.1 -8.4L21.5 -11.8M-16.5 5.7L-11.2 6M-15.1 -5.6L-10.3 -8M-1.1 -9.7L1.3 -14.2M11.6 -1.6L12.2 -6.8"/><path class="hd" d="M167.8 11.4L170.4 10.1L172 12.5L169.4 13.8zM166.3 24.7L169 23.6L170.5 26.1L167.8 27.2zM163.8 37.9L166.5 36.9L167.9 39.5L165.2 40.4zM160.1 51.1L162.8 49.9L164.4 52.3L161.7 53.5zM155.6 65.3L156.9 62.7L159.7 63.6L158.3 66.2zM151.1 78.8L150.3 76L152.9 74.8L153.7 77.6zM144.7 90.7L143.7 87.9L146.2 86.5L147.2 89.3zM137 101.9L136.2 99.1L138.9 97.9L139.6 100.7zM128.4 112.4L128 109.5L130.7 108.7L131.2 111.5zM119 122.2L118.9 119.3L121.7 118.7L121.9 121.6zM109 131.3L109 128.4L111.9 128L111.9 130.9zM98.5 139.8L98.2 136.9L101.1 136.2L101.3 139.1zM89.1 147.6L86.7 146.1L87.9 143.4L90.3 145zM78.8 152.5L76.3 153.9L74.5 151.7L77 150.2zM66.5 157.7L64.3 159.6L62.1 157.7L64.3 155.8zM53.8 162.2L51.7 164.2L49.4 162.4L51.5 160.4zM40.7 165.7L38.7 167.8L36.3 166.1L38.4 164zM28.5 168.1L24.4 170.8L24 166.2zM15.9 169.5L11.7 172.2L11.3 167.6zM3 169.8L-1.2 172.5L-1.6 168zM-10 169L-14.1 171.8L-14.6 167.2zM-23 167.2L-27.2 170L-27.7 165.4zM-36.1 164.5L-40.2 167.2L-40.7 162.6zM-48.9 160.9L-53.2 163.4L-53.4 158.8zM-61.5 156.5L-65.9 158.7L-65.8 154.1zM-73.7 151.5L-78.5 153L-77.7 148.5zM-85.7 145.6L-90.6 146.4L-89.1 142zM-97.4 139L-102.4 138.7L-100 134.8zM-108.7 131.3L-113.5 130L-110.4 126.7zM-119.6 122.6L-124 120.3L-120.2 117.7zM-129.9 112.7L-133.6 109.4L-129.4 107.7zM-139.5 101.5L-142.2 97.4L-137.7 96.8zM-148.1 88.9L-149.2 84.1L-144.8 85.3zM-155.3 74.9L-154.7 72.1L-151.8 72.3L-152.4 75.1zM-161.7 60.5L-156.9 59.3L-157.9 63.8zM-166.2 45.7L-161.4 47L-164.5 50.4zM-169.2 31.1L-164.9 33.6L-168.8 36.1zM-171 16.9L-167.2 20L-171.4 21.8zM-171.7 2.9L-168.3 6.5L-172.7 7.7zM-171.3 -10.9L-168.2 -7L-172.8 -6.2zM-169.9 -24.5L-167.1 -20.4L-171.7 -19.9zM-167.5 -37.8L-165 -33.5L-169.6 -33.3zM-164.1 -50.8L-161.9 -46.3L-166.5 -46.4zM-159.8 -63.1L-157.7 -58.6L-162.3 -58.9zM-154.5 -74.9L-152.7 -70.3L-157.2 -70.8zM-148.1 -86.1L-146.8 -81.3L-151.3 -82.3zM-140.4 -96.7L-140.7 -91.7L-144.6 -94zM-132 -106.4L-132.9 -103.6L-135.8 -104.2L-134.8 -106.9zM-122 -115.9L-126.2 -113.2L-126.6 -117.8zM-111.9 -124.6L-116.6 -123L-115.9 -127.6zM-101.3 -132.9L-106.2 -131.8L-104.9 -136.3zM-90.3 -140.6L-95.2 -139.8L-93.7 -144.1zM-78.7 -147.6L-83.6 -146.8L-82.1 -151.2zM-66.7 -153.8L-71.5 -152.9L-70.2 -157.3zM-54.2 -159.1L-59 -158L-57.8 -162.5zM-41.3 -163.2L-46.1 -162.1L-45 -166.6zM-28.1 -166.2L-33 -165.2L-31.7 -169.6zM-14.7 -167.9L-19.6 -167.2L-18 -171.6zM-1.1 -168.4L-6.1 -168.2L-4.2 -172.4zM12.4 -168L7.5 -168L9.6 -172.1zM26 -166.7L21 -166.8L23.2 -170.8zM39.4 -164.6L34.5 -164.5L36.5 -168.6zM52.7 -161.7L47.7 -161.1L49.3 -165.4zM65.5 -158L60.8 -156.6L61.7 -161.2zM77.9 -153.4L73.5 -151.2L73.6 -155.8zM89.7 -147.6L85.6 -144.8L85.1 -149.4zM100.8 -140.8L97.1 -137.5L96 -142zM111.3 -132.9L107.9 -129.3L106.4 -133.7zM121.2 -124.1L118 -120.2L116.2 -124.5zM130.5 -114.5L127.6 -110.5L125.5 -114.6zM139.1 -104.1L136.3 -100L134.1 -104.1zM146.9 -93L144 -88.9L141.9 -93zM153.5 -81.2L150.6 -77.1L148.6 -81.3zM158.9 -68.6L155.9 -64.7L153.9 -68.8zM163.2 -55.8L162.1 -53.1L159.3 -53.8L160.4 -56.5zM165.8 -43.9L166.9 -41.2L164.4 -39.7L163.3 -42.4zM165.7 -29.1L168.3 -30.4L170 -28.1L167.5 -26.7zM167.4 -15.5L169.9 -17L171.8 -14.8L169.3 -13.3zM168.1 -2L170.6 -3.5L172.5 -1.2L169.9 0.2zM157.4 13.8L159.9 18.1L155.3 18.3zM155.7 28.2L157.7 32.8L153.1 32.4zM152.7 42.5L154 45.1L151.7 46.8L150.4 44.2zM148.7 55.6L149.5 58.4L146.8 59.5L146.1 56.7zM143.6 68.3L143.8 71.2L141 71.8L140.8 68.9zM137.4 80.5L137 83.4L134.1 83.5L134.5 80.6zM130 92.1L129.3 94.9L126.4 94.7L127.1 91.8zM121.4 102.6L120.9 105.5L118 105.4L118.5 102.6zM111.8 112.3L111.7 115.2L108.8 115.6L108.9 112.7zM101.6 121.4L101.5 124.3L98.7 124.7L98.7 121.8zM90.7 129.6L90.5 132.5L87.6 132.7L87.8 129.8zM79.7 136.7L77.6 141.2L74.8 137.6zM68.3 142.7L65.7 147L63.4 143zM56.5 147.8L53.5 151.8L51.5 147.6zM44.1 151.9L40.7 155.6L39.1 151.3zM31.2 155L27.6 158.4L26.3 154zM18 156.9L14.2 160.1L13.2 155.6zM4.5 157.6L0.6 160.7L-0.2 156.1zM-9.1 156.9L-13 160L-13.8 155.5zM-22.7 154.9L-26.5 158.1L-27.5 153.6zM-36.2 151.6L-39.8 155.1L-41.1 150.7zM-49.8 147.1L-53 150.9L-54.7 146.7zM-63.5 141.6L-66.1 145.9L-68.5 142zM-78 135.6L-77.4 138.4L-80.2 139.4L-80.7 136.5zM-92.1 128.6L-89.2 128.9L-89.1 131.8L-92 131.5zM-105.4 120.2L-100.4 119.9L-102.2 124.1zM-116.4 110.8L-111.5 110.3L-113.2 114.6zM-126 100.3L-121 100.1L-123 104.3zM-134.2 89L-129.3 89.2L-131.6 93.2zM-141.3 76.9L-136.4 77.8L-139.3 81.4zM-147.3 64.3L-142.6 65.7L-145.8 69zM-152.1 51.2L-147.6 53.3L-151.2 56.1zM-155.8 37.9L-151.6 40.4L-155.5 42.8zM-158.4 24.3L-154.4 27.3L-158.5 29.3zM-159.7 10.6L-156.1 14L-160.4 15.5zM-159.8 -2.9L-156.6 0.8L-161.1 1.8zM-158.7 -16.2L-156 -12L-160.6 -11.5zM-156.6 -28.5L-154.4 -24.1L-159 -24.2zM-153.8 -40.2L-152.1 -37.8L-154.2 -35.8L-155.9 -38.2zM-151.7 -49.6L-151.5 -52.5L-148.6 -52.7L-148.8 -49.8zM-146.4 -62L-146.8 -64.9L-143.9 -65.7L-143.6 -62.8zM-140.8 -74L-139.9 -78.9L-136.3 -76.1zM-133.3 -85.9L-133.7 -88.8L-130.9 -89.6L-130.5 -86.7zM-124.7 -96.7L-125.9 -99.4L-123.4 -100.9L-122.3 -98.2zM-114.6 -107L-117 -108.7L-115.6 -111.2L-113.3 -109.5zM-103.8 -117L-106.7 -117.3L-106.8 -120.2L-103.9 -119.9zM-92 -125.7L-97 -125.8L-94.7 -129.8zM-79.9 -133.8L-84.8 -132.9L-83.5 -137.3zM-67.5 -141L-72.2 -139.3L-71.5 -143.9zM-54.7 -146.9L-59.2 -144.9L-58.9 -149.5zM-41.5 -151.5L-46 -149.4L-45.8 -154zM-28.1 -154.8L-32.7 -152.8L-32.3 -157.4zM-14.5 -156.7L-19.2 -155L-18.6 -159.6zM-0.9 -157.3L-5.7 -156.1L-4.6 -160.5zM12.7 -156.8L7.9 -155.9L9.3 -160.3zM26.3 -155.3L21.4 -154.7L23 -159zM39.7 -152.8L34.7 -152.3L36.4 -156.5zM52.8 -149.4L47.8 -148.8L49.4 -153.1zM65.5 -145.1L60.6 -144.2L61.9 -148.6zM77.5 -139.8L72.8 -138.5L73.7 -143zM88.8 -133.5L84.2 -131.7L84.7 -136.3zM99.2 -126.4L95 -123.8L94.6 -128.4zM108.5 -118.5L107.5 -115.8L104.7 -116.3L105.7 -119.1zM117.1 -109.9L118.1 -107.2L115.5 -105.8L114.5 -108.5zM125.1 -101.2L127.4 -96.8L122.8 -96.7zM132.4 -91.1L135.3 -87.1L130.7 -86.4zM139 -80L142 -76L137.5 -75.2zM144.7 -67.9L147.8 -64.1L143.3 -63.2zM149.4 -55.3L152.6 -51.4L148.1 -50.5zM153.1 -42.1L156.3 -38.3L151.8 -37.3zM155.7 -28.6L158.9 -24.8L154.4 -23.8zM157.3 -14.8L160.4 -10.9L155.9 -10zM157.9 -0.6L160.7 3.4L156.2 4.1zM146.1 4.6L147.7 9.3L143.2 8.6zM145.1 18.7L146.1 23.5L141.7 22.3zM142.7 32.7L143.1 37.6L138.8 35.8zM138.8 46.4L138.6 51.4L134.6 49.1zM133.6 59.7L132.9 64.6L129.2 61.9zM127.1 72.3L126 77.1L122.5 74.1zM119.4 84.1L118 88.8L114.7 85.6zM110.3 95.1L110.2 98L107.3 98.3L107.5 95.4zM100.7 104.8L100.8 107.7L97.9 108.2L97.8 105.3zM90.2 113.5L90.4 116.4L87.6 117.1L87.4 114.2zM79 121.3L79.3 124.2L76.4 124.9L76.2 122zM67.2 128.1L67.3 131L64.5 131.6L64.3 128.7zM54.7 133.7L54.9 136.6L52.1 137.2L51.9 134.3zM39.9 137.7L42.3 139.4L41 142L38.6 140.3zM25 142.9L27.3 141.1L29.4 143.1L27.1 144.9zM10.6 144.9L15 142.7L15 147.3zM-4.2 145.2L0.4 143.3L-0.1 147.9zM-18.5 143.8L-13.7 142.6L-14.8 147.1zM-32.3 141.1L-27.4 140.5L-29 144.8zM-45.5 137.1L-40.6 137.2L-42.7 141.2zM-58.3 132.2L-53.4 132.7L-55.9 136.6zM-70.8 126.5L-65.8 127.1L-68.4 130.9zM-82.7 119.8L-77.8 120.3L-80.3 124.2zM-94 112.2L-89.1 112.5L-91.4 116.5zM-104.5 103.5L-99.5 103.7L-101.8 107.7zM-114 93.7L-109 94L-111.3 98zM-122.3 82.9L-117.4 83.4L-119.9 87.3zM-129.5 71.2L-124.7 72.1L-127.5 75.7zM-135.5 58.9L-130.8 60.2L-133.9 63.5zM-140.2 46L-135.6 47.9L-139.1 50.9zM-143.5 33.1L-139.2 35.4L-143 38zM-145.3 20.5L-141.3 23.4L-145.4 25.4zM-145.7 8.1L-143.4 9.9L-144.8 12.4L-147.1 10.7zM-144.1 -1.7L-147 -2.1L-147 -5L-144.1 -4.6zM-143.6 -14.1L-147.2 -17.5L-142.9 -19.1zM-141.8 -26.4L-144.7 -30.4L-140.1 -31.1zM-139.3 -39L-141.2 -43.6L-136.6 -43.2zM-135.9 -52L-136.5 -56.9L-132.2 -55.3zM-131 -64.9L-130.4 -69.9L-126.6 -67.3zM-124.2 -77.6L-122.8 -82.3L-119.5 -79.1zM-115.3 -89.5L-113.8 -94.2L-110.6 -90.9zM-105 -99.7L-105.9 -102.4L-103.4 -103.7L-102.4 -101zM-92 -110.7L-94.4 -109.1L-96.4 -111.3L-94 -112.9zM-80.3 -120L-84.1 -116.9L-85 -121.4zM-67.6 -127.8L-71.2 -124.4L-72.4 -128.9zM-54.7 -134.1L-58.4 -130.8L-59.5 -135.2zM-41.6 -138.9L-45.4 -135.8L-46.3 -140.3zM-28.2 -142.3L-32.3 -139.5L-32.8 -144zM-14.6 -144.2L-19 -141.9L-19.1 -146.5zM-1 -144.9L-5.6 -143L-5.2 -147.6zM12.6 -144.2L7.8 -142.9L8.7 -147.4zM26 -142.4L21.1 -141.5L22.5 -145.9zM39.2 -139.5L34.3 -138.9L36 -143.2zM52.1 -135.5L47.1 -135.2L49.1 -139.4zM64.4 -130.4L59.4 -130.3L61.5 -134.4zM75.9 -124.4L70.9 -124.5L73.2 -128.5zM86.2 -117.6L81.3 -117.9L83.7 -121.9zM96 -109.9L93.1 -109.5L92.3 -112.2L95.1 -112.7zM102.7 -103.5L105.6 -103L105.5 -100.1L102.7 -100.6zM111 -94.3L115.6 -92.3L111.9 -89.5zM118.6 -84.8L122.9 -82.3L119 -79.8zM125.8 -73.9L129.8 -71L125.7 -69zM132.1 -62.1L135.8 -58.8L131.5 -57.2zM137.3 -49.6L140.7 -45.9L136.2 -44.7zM141.3 -36.5L144.3 -32.6L139.8 -31.8zM144.2 -23.1L146.8 -18.8L142.2 -18.5zM145.8 -9.3L147.9 -4.9L143.3 -5zM133.4 10.4L134.1 15.3L129.7 13.8zM131.7 24.4L131.7 29.3L127.6 27.2zM128.4 38.2L127.8 43.1L124 40.5zM123.6 51.7L122.3 56.5L118.9 53.4zM117.2 64.9L115.1 69.4L112.3 65.8zM109.1 77.3L106.3 81.4L104.1 77.3zM99.9 88.7L98.3 91.1L95.7 89.8L97.3 87.4zM89.8 100.2L86.9 100.3L86.4 97.4L89.3 97.3zM75.7 108.7L76.3 105.8L79.2 106L78.7 108.9zM64.2 115.9L65.1 113.1L67.9 113.6L67 116.4zM51.2 122.5L53.8 118.3L56.2 122.3zM37.7 127.7L40.4 123.6L42.7 127.6zM23.8 131.3L26.9 127.4L28.7 131.6zM9.7 133L13.3 129.6L14.6 134zM-4.3 132.9L-0.2 130.2L0.3 134.8zM-18.1 131.3L-13.5 129.4L-13.9 134zM-31.5 128.1L-26.6 127.2L-28 131.6zM-44.4 123.8L-39.5 123.8L-41.6 127.9zM-57 118.5L-52.1 119L-54.6 122.9zM-69.2 112.4L-64.3 113L-66.9 116.8zM-80.9 105.3L-75.9 105.7L-78.4 109.6zM-91.7 97L-86.7 97.4L-89.1 101.3zM-101.5 87.6L-96.5 87.9L-98.9 91.9zM-110.1 77.1L-105.1 77.6L-107.7 81.4zM-117.2 65.7L-112.4 66.6L-115.2 70.2zM-122.8 53.9L-118 55.3L-121.2 58.6zM-126.1 42.7L-123.2 43.3L-123.4 46.2L-126.2 45.6zM-126.5 32L-129.2 33.2L-130.7 30.7L-128.1 29.5zM-129.5 20.2L-134 18L-130.3 15.3zM-130.5 7.8L-134.6 5L-130.6 2.8zM-130.4 -5.3L-134.2 -8.4L-130 -10.2zM-129.1 -18.4L-132.6 -21.9L-128.2 -23.3zM-127 -31.3L-129.6 -35.5L-125.1 -35.9zM-124.3 -44.4L-125.3 -49.3L-120.9 -48zM-120.4 -57.8L-119.3 -62.7L-115.8 -59.6zM-114.3 -71.2L-111.3 -75.2L-109.3 -71.1zM-105.4 -84L-101 -86.4L-101 -81.8zM-94 -96.1L-91.4 -94.9L-92.2 -92.2L-94.8 -93.3zM-81.2 -105.8L-81.7 -100.9L-85.5 -103.4zM-68.4 -114.1L-70.4 -109.5L-73.3 -113zM-55.6 -120.6L-58.2 -116.4L-60.5 -120.4zM-42.4 -125.7L-45.6 -121.9L-47.4 -126.1zM-29 -129.2L-32.7 -125.9L-33.9 -130.4zM-15.5 -131.3L-19.6 -128.5L-20.1 -133.1zM-1.8 -131.9L-6.3 -129.8L-6.1 -134.4zM11.7 -131.1L6.9 -129.7L7.8 -134.2zM25 -129L20.1 -128.3L21.7 -132.6zM38 -125.6L33 -125.6L35.2 -129.6zM50.4 -120.9L45.5 -121.6L48.2 -125.4zM62 -115.2L57.3 -116.7L60.5 -119.9zM72.3 -108.6L68.1 -111.3L72.1 -113.6zM81 -101.7L79.4 -106.4L83.9 -105.8zM88.9 -94.7L92.6 -98.1L93.8 -93.7zM96.9 -87L101.8 -87.7L100.3 -83.4zM105 -77.9L109.9 -77.1L107.2 -73.5zM112.7 -67.6L117.3 -65.6L113.7 -62.7zM119.4 -56.1L123.5 -53.3L119.5 -51.1zM125 -43.7L128.5 -40.2L124.1 -38.8zM129.2 -30.7L132.1 -26.7L127.6 -26.1zM132.1 -17.3L134.3 -12.8L129.7 -12.9zM133.5 -3.5L134.9 1.2L130.4 0.4zM121.4 3.7L121.1 8.6L117.2 6.2zM120.5 18L119.1 22.8L115.8 19.6zM117.7 32.1L115.4 36.6L112.7 32.8zM113 45.9L109.9 49.8L108 45.6zM106.5 59L102.7 62.2L101.8 57.7zM98.4 71.2L94 73.4L94.1 68.8zM88.7 82.1L86.1 83.4L84.4 80.9L87 79.7zM78.5 92L75.7 92.4L74.9 89.7L77.7 89.3zM66.6 101.1L64.1 99.6L65.1 96.9L67.6 98.4zM53.7 108L52.3 105.5L54.5 103.7L56 106.2zM40.9 113.4L39.9 110.7L42.5 109.3L43.5 112zM27.2 117.8L27.6 112.9L31.5 115.3zM12.7 120.3L14.4 115.7L17.5 119.1zM-2.1 120.5L1.1 116.7L2.8 121zM-16.6 118.6L-12.4 116.1L-12.1 120.7zM-30.4 115.1L-25.7 113.8L-26.6 118.3zM-43.5 110.4L-38.6 109.9L-40.3 114.2zM-56 104.7L-51 104.7L-53.2 108.8zM-67.8 97.8L-62.9 98.2L-65.3 102.1zM-78.8 89.8L-73.8 90.4L-76.4 94.2zM-88.6 80.6L-83.7 81.5L-86.5 85.1zM-97 70.3L-92.3 71.6L-95.4 75zM-103.4 59.4L-99 61.7L-102.7 64.3zM-107.4 48.9L-105.5 51L-107.3 53.3L-109.3 51.1zM-110.3 38.4L-112.4 40.4L-114.7 38.7L-112.6 36.6zM-113.5 26.8L-118.4 26.9L-116.3 22.8zM-115.9 14.1L-120.7 13L-117.8 9.5zM-116.7 0.7L-121.4 -0.8L-118.1 -4zM-115.5 -12.2L-120.1 -14L-116.6 -17zM-113.5 -24.5L-117.5 -27.5L-113.4 -29.5zM-111.7 -37.2L-113.7 -41.7L-109.2 -41.5zM-109 -50.7L-107.7 -55.4L-104.3 -52.3zM-103.9 -64.2L-100.3 -67.6L-99 -63.2zM-95.9 -77L-91.2 -78.8L-91.8 -74.2zM-85 -88.8L-80.1 -87.9L-82.8 -84.3zM-71.7 -98.5L-69 -94.4L-73.6 -94zM-58.1 -106L-58.3 -101L-62.3 -103.3zM-44.8 -111.6L-46.6 -107L-49.6 -110.4zM-31.3 -115.5L-34.2 -111.5L-36.2 -115.6zM-17.6 -117.7L-21.6 -114.6L-22.4 -119.1zM-4.1 -118.2L-8.6 -116.3L-8.2 -120.9zM9.3 -117.1L4.4 -116.6L6 -120.8zM22.2 -114.6L17.3 -115.4L20.1 -119.1zM34.6 -110.9L30.1 -112.9L33.7 -115.8zM46.3 -106L42.5 -109.2L46.8 -110.9zM57 -100.1L54.5 -104.4L59.1 -104.5zM66.8 -93.3L66.3 -98.3L70.6 -96.5zM75.7 -85.9L77.5 -90.6L80.5 -87.1zM84.1 -77.8L87.6 -81.4L89 -77zM92.1 -69L96.7 -71L96.3 -66.4zM99.6 -59.4L104.6 -59.5L102.6 -55.4zM106.5 -48.8L111.2 -47.1L107.8 -44zM112.5 -37.1L116.3 -33.8L112 -32.1zM117.2 -24.3L119.7 -19.9L115.1 -19.8zM120.3 -10.6L121.3 -5.7L116.9 -7zM107.5 17.4L102.8 15.7L106.2 12.6zM104.8 30.2L100 28.8L103.2 25.5zM100.4 42.4L95.5 41.5L98.3 37.9zM94.3 54.1L89.4 53.6L91.9 49.8zM86.7 65L81.7 64.8L84 60.8zM77.2 74.8L74.4 75.4L73.4 72.7L76.2 72.1zM67.1 84L64.2 84.4L63.4 81.6L66.2 81.2zM55.5 92.2L52.6 91.6L52.7 88.7L55.6 89.3zM42.6 98.8L40.2 97L41.6 94.5L44 96.2zM29.2 104.3L27.2 99.7L31.8 100zM14.8 107.8L14.2 102.9L18.5 104.5zM-0.2 108.6L1 103.8L4.5 106.9zM-15.2 106.8L-12.1 102.9L-10.3 107.1zM-29.4 102.7L-25.1 100.3L-25 104.9zM-42.5 97.2L-37.6 96.1L-38.8 100.6zM-54.5 90.6L-49.6 90.5L-51.6 94.6zM-65.5 82.7L-60.6 83.4L-63.3 87.1zM-75.1 73.6L-70.4 75.2L-73.8 78.4zM-82.7 63.6L-78.7 66.5L-82.9 68.5zM-88.1 53.4L-86.5 58L-91.1 57.4zM-92.7 43L-94.5 47.6L-97.5 44.1zM-97.2 31.7L-100.7 35.2L-102.1 30.8zM-101 19.1L-105 22.1L-105.7 17.6zM-103 6.2L-105.2 8L-107.4 6.1L-105.2 4.2zM-101.6 -6L-106.6 -5.5L-104.9 -9.7zM-99.9 -17.9L-104.7 -18.9L-101.8 -22.5zM-98.4 -30.5L-102.3 -33.6L-98.1 -35.5zM-96.6 -44L-95.6 -48.8L-92 -45.9zM-92.5 -57.2L-88.6 -60.2L-87.8 -55.7zM-85.3 -69.2L-80.8 -71.2L-81.1 -66.6zM-75.7 -79.8L-70.9 -80.9L-72 -76.5zM-63.9 -88.9L-59 -89L-61 -84.9zM-50.4 -95.6L-45.6 -94.5L-48.6 -91zM-37.6 -100.5L-34.7 -100.6L-34.1 -97.8L-37 -97.6zM-25 -102.5L-23.2 -104.8L-20.7 -103.3L-22.5 -101zM-11.2 -103.6L-10.7 -106.4L-7.8 -106.4L-8.3 -103.5zM2.2 -103.3L3.5 -108.1L6.8 -105zM15.4 -101.3L16.3 -106.2L19.9 -103.4zM28.5 -97.8L29 -102.7L32.8 -100.1zM41.1 -92.6L41.4 -97.6L45.3 -95.2zM53 -85.9L53.1 -90.9L57.2 -88.7zM64 -77.8L64 -82.8L68.1 -80.7zM73.9 -68.4L73.8 -73.4L78 -71.4zM82.8 -57.9L82.5 -62.9L86.7 -61zM90.5 -46.5L89.8 -51.4L94.1 -49.9zM97.1 -34.4L95.6 -39.1L100.1 -38.3zM102.6 -21.7L99.8 -25.8L104.4 -26.4zM106.5 -8.8L102.5 -11.9L106.7 -13.8zM108.1 4.3L103.6 2.1L107.3 -0.6zM93.8 12.2L90.8 8.3L95.3 7.5zM91.6 25.3L88.7 21.2L93.2 20.6zM87.5 37.4L84.7 33.3L89.3 32.7zM82.1 48.5L78.8 44.9L83.2 43.7zM74.9 58.5L72.1 57.6L72.7 54.7L75.4 55.7zM66.2 68.4L63.3 68L63.3 65.1L66.2 65.5zM55.7 77.2L52.8 76.6L53 73.7L55.9 74.3zM43.6 84.6L41 83.3L42 80.5L44.5 81.9zM30.9 91L27.8 87.1L32.3 86.3zM17.3 95.5L14.9 91.2L19.5 91.1zM2.9 97.4L1.4 92.6L5.9 93.4zM-12 96.3L-11.9 91.3L-7.8 93.5zM-26.6 92.2L-24.1 87.9L-21.7 91.8zM-39.9 85.6L-35.4 83.4L-35.6 88zM-51.3 77.5L-46.3 78L-48.9 81.8zM-60.5 68.4L-56.8 71.7L-61.1 73.3zM-67.9 58.9L-67.2 63.8L-71.5 62.3zM-74.5 48.8L-76.1 53.5L-79.3 50.2zM-80.7 37.8L-83.3 42L-85.6 38zM-86 25.6L-88.9 29.6L-91 25.5zM-89.3 12.9L-92.7 16.5L-94.2 12.2zM-89 0.8L-93.7 2.5L-93.1 -2zM-87.6 -11.3L-92.6 -11L-90.7 -15.2zM-86.4 -24.4L-91.3 -25.2L-88.5 -28.9zM-85.4 -37.3L-86 -40.2L-83.2 -41.1L-82.7 -38.3zM-80.9 -51.3L-76.4 -53.3L-76.7 -48.7zM-74.6 -62.4L-69.9 -64.2L-70.5 -59.6zM-65.4 -72.3L-60.7 -73.8L-61.4 -69.3zM-54.2 -80.3L-49.4 -81.7L-50.3 -77.2zM-41.3 -85.8L-36.7 -87.8L-37.1 -83.2zM-27.6 -89.1L-23.8 -92.3L-22.8 -87.8zM-14.1 -90.9L-10.9 -94.7L-9.2 -90.5zM-0.7 -91.2L2.4 -95.1L4.3 -91zM12.9 -89.6L15.8 -93.7L17.9 -89.6zM26.6 -86L28.9 -90.3L31.5 -86.5zM40 -80L41 -84.9L44.5 -82zM52.6 -72L51.8 -76.9L56.2 -75.5zM64.1 -62.4L62 -66.9L66.6 -66.7zM73.8 -51.6L71.2 -55.9L75.8 -56.2zM81.8 -40L78.9 -44L83.4 -44.7zM87.9 -27.6L84.8 -31.5L89.3 -32.4zM92 -14.6L88.8 -18.4L93.3 -19.4zM94 -1.2L90.8 -5L95.3 -6zM79.7 17.6L77.7 13.1L82.3 13.4zM76 30L74.5 25.2L79.1 26.1zM70.8 41.3L69.3 36.6L73.8 37.4zM64.1 52.1L61.9 50.2L63.4 47.8L65.6 49.6zM55.4 61.9L52.7 60.9L53.4 58.1L56.1 59.1zM44.5 70.3L41.8 69.2L42.4 66.4L45.2 67.4zM32.4 77.3L28.6 74.1L32.8 72.4zM19.6 82.7L15.9 79.3L20.3 77.8zM6 85.4L2.5 81.8L6.9 80.5zM-7.9 85L-11.2 81.3L-6.8 80.2zM-21.4 81.5L-24.9 78L-20.5 76.6zM-33.7 74.9L-38.3 73L-34.8 70zM-44.4 66L-48.9 68.1L-48.7 63.5zM-53.9 56L-57.6 59.3L-58.8 54.8zM-62.4 45L-65.9 48.6L-67.3 44.2zM-69.7 33L-72.9 36.8L-74.6 32.5zM-75.1 20.3L-78.2 24.1L-80 19.9zM-76.6 7.9L-80.8 10.4L-81.1 5.8zM-75.9 -4.5L-80.7 -3.3L-79.6 -7.8zM-75 -17.9L-79.9 -17.2L-78.4 -21.6zM-72.3 -33.2L-73.5 -30.5L-76.3 -31.3L-75.1 -34zM-69.7 -45.5L-66.8 -46L-65.9 -43.2L-68.8 -42.7zM-63.2 -56L-58.4 -57.3L-59.4 -52.8zM-54.5 -65.4L-49.8 -66.9L-50.6 -62.3zM-43.1 -72.7L-38.4 -74.2L-39.2 -69.7zM-29.9 -77.2L-25.4 -79.4L-25.6 -74.8zM-15.4 -79.1L-11.8 -82.5L-10.6 -78zM-1 -79.3L1.9 -83.4L4 -79.3zM13.3 -77.8L15.8 -82.1L18.2 -78.2zM27.6 -73.9L27.6 -76.8L30.5 -77.3L30.5 -74.4zM41 -67L39.4 -71.7L44 -71zM53.2 -58L50.2 -62L54.8 -62.7zM63.5 -47.3L60.1 -50.9L64.6 -52.1zM71.6 -35.4L68.2 -38.9L72.6 -40.2zM77.4 -22.6L74.1 -26.3L78.5 -27.4zM80.8 -9.2L77.6 -13.1L82.1 -14zM81.5 4.4L78.8 0.2L83.4 -0.2zM68.7 8.7L67.1 4L71.7 4.7zM65.6 21.2L65.5 16.2L69.6 18.3zM61 32.9L60.6 30L63.4 29.2L63.8 32zM54.4 44.7L53.1 42.1L55.5 40.4L56.8 43.1zM46 54.6L43.7 52.8L45.2 50.3L47.5 52.1zM35.3 62.4L32.7 61L33.7 58.3L36.3 59.7zM23.4 68.8L19.5 65.8L23.6 63.9zM10.8 72.8L6.7 70L10.8 67.8zM-2.3 73.5L-6.6 71L-2.6 68.6zM-15.2 70.9L-19.8 68.9L-16.2 66zM-27.4 65L-32.3 64.1L-29.4 60.5zM-38.5 56.3L-43.4 57.1L-41.9 52.7zM-48.5 45.6L-52.8 47.9L-52.9 43.3zM-56.9 33.5L-60.5 36.9L-61.8 32.5zM-62.7 20.8L-66 24.5L-67.6 20.2zM-64.3 8.5L-68.6 11L-68.9 6.4zM-64.2 -4.2L-68.8 -2.5L-68.2 -7zM-63.8 -17.8L-68.5 -16.2L-67.8 -20.7zM-63.1 -33L-60.5 -31.8L-61.3 -29L-63.9 -30.3zM-56.9 -43.6L-54.1 -44.3L-53 -41.6L-55.8 -40.9zM-49.1 -53.4L-44.3 -54.5L-45.4 -50.1zM-39.5 -61.7L-34.6 -62.8L-35.9 -58.3zM-27.1 -67.1L-22.3 -68.3L-23.4 -63.9zM-12.8 -69.2L-8.2 -71.2L-8.5 -66.6zM2.8 -68.7L4.3 -71.2L7 -70L5.4 -67.5zM17.1 -65.2L16.7 -68.1L19.5 -68.9L19.9 -66zM31.9 -60.2L29.3 -61.4L30.1 -64.2L32.7 -63zM43.9 -52.1L39.9 -55.1L44.1 -57.1zM54 -42.1L50.1 -45.2L54.3 -47.1zM61.8 -30.6L58.1 -33.9L62.4 -35.5zM67.1 -17.8L63.7 -21.4L68.1 -22.6zM69.4 -4.5L66.6 -8.6L71.2 -9.1zM55.4 13.2L55.9 8.3L59.7 10.8zM51.1 25.7L52.3 20.9L55.7 24zM44.9 37L44.5 34.1L47.4 33.4L47.7 36.3zM36.1 47L34.9 44.3L37.4 42.8L38.6 45.5zM25.5 54.3L23.5 52.2L25.3 49.9L27.3 52zM13.7 59.7L10.2 56.2L14.5 54.8zM1.1 61.7L-2.9 58.8L1.3 56.7zM-11.7 59.9L-16 57.5L-12.1 55zM-24 54.3L-28.7 52.7L-25.3 49.6zM-35.2 45.1L-40.1 45.5L-38.3 41.3zM-44.8 33.5L-46.4 35.9L-49 34.7L-47.4 32.3zM-50.4 20.9L-53.4 24.8L-55.3 20.6zM-52.3 8.7L-56.4 11.6L-57 7zM-52.6 -4L-57 -1.7L-56.9 -6.3zM-52.3 -17.4L-56.7 -14.9L-56.8 -19.5zM-51.6 -31L-48.7 -31.1L-48.2 -28.2L-51.1 -28.1zM-43.8 -40.9L-41.2 -42.1L-39.6 -39.7L-42.2 -38.5zM-34.6 -50.3L-29.7 -50.6L-31.5 -46.4zM-23.4 -56.9L-18.4 -56.9L-20.5 -52.8zM-9.6 -59.5L-4.6 -59.5L-6.8 -55.5zM5.7 -58.8L8.6 -59L9.2 -56.2L6.3 -56zM22.6 -55L21.1 -52.5L18.4 -53.6L19.9 -56.1zM34.8 -46.3L29.9 -47.1L32.7 -50.8zM44.6 -35.8L40.5 -38.5L44.5 -40.8zM51.8 -24.6L48.3 -28.1L52.6 -29.5zM56.2 -12.5L53.4 -16.5L57.9 -17.1zM57.4 0.3L55.9 -4.4L60.4 -3.5zM45.1 7.1L44.7 2.2L48.9 3.9zM41.5 19.4L42.3 14.5L46 17.3zM35.1 30.5L36.5 25.8L39.8 28.9zM26.3 39.6L27.4 34.7L30.9 37.6zM15.6 46.3L14.8 41.4L19.2 42.9zM3.2 49.9L1.2 45.4L5.8 45.7zM-9.8 49.1L-12.2 44.7L-7.6 44.6zM-22.2 43.3L-24.3 41.3L-22.6 38.9L-20.5 40.9zM-30.9 33.6L-33.5 35L-35.2 32.7L-32.6 31.3zM-38.2 21.2L-41.3 25.1L-43.1 20.9zM-40.7 9.1L-44.6 12.1L-45.4 7.6zM-41.3 -3.8L-45.5 -1.1L-45.9 -5.7zM-40.6 -16.9L-44.5 -13.8L-45.4 -18.4zM-37 -30.1L-35.7 -27.5L-38.1 -25.9L-39.3 -28.5zM-29.6 -39.1L-26.7 -38.7L-26.6 -35.8L-29.5 -36.2zM-18.9 -46.6L-14.3 -44.9L-17.7 -41.8zM-5.7 -49.8L-1.2 -47.6L-4.9 -44.9zM9.6 -48.9L12.3 -44.7L7.7 -44.3zM24.7 -42.8L22.4 -38.3L19.8 -42.1zM35.7 -30.8L30.9 -31.9L33.9 -35.4zM42.3 -18.1L38.9 -21.7L43.3 -23zM45.5 -5.6L43.4 -10.1L48 -9.9zM31.4 12.3L32.8 7.6L36.1 10.7zM25 23.5L27.7 19.3L30 23.3zM15.7 32.6L17.3 27.9L20.5 31.3zM3.5 38.2L2.7 33.3L7.1 34.8zM-10.1 37.2L-11.3 32.4L-6.8 33.5zM-20.8 30L-23.5 28.9L-22.7 26.1L-20 27.2zM-27 17.2L-31.1 20L-31.6 15.4zM-29.8 3.7L-33.8 6.6L-34.5 2.1zM-29.5 -10.4L-33.3 -7.2L-34.3 -11.7zM-26 -23.5L-27.9 -18.9L-30.9 -22.4zM-17.6 -33.6L-15.3 -29.2L-19.9 -29.3zM-5.1 -39L-2.1 -35L-6.7 -34.3zM10 -38.6L11.6 -33.9L7.1 -34.6zM24 -31.1L23.2 -26.2L19.5 -28.9zM32 -15.7L29.2 -16.6L29.7 -19.5L32.4 -18.6zM33.9 -0.7L33.2 -5.6L37.5 -4.1zM22.4 0.9L25.2 0L26.5 2.6L23.7 3.5zM17.5 14.2L20 12.8L21.8 15.1L19.3 16.5zM7.8 25L6.8 22.3L9.4 20.9L10.4 23.6zM-4.4 26.7L-7.8 23.1L-3.4 21.9zM-14 18.6L-19 19.2L-17.3 14.9zM-18.8 4.8L-23 7.5L-23.3 2.9zM-18.4 -10.1L-21.8 -6.5L-23.3 -10.9zM-12.3 -22.5L-13.4 -17.6L-16.9 -20.5zM-0.7 -28.5L0.4 -23.6L-4.1 -24.9zM12.9 -26.3L14.1 -21.5L9.6 -22.6zM21.8 -15.1L23.7 -10.5L19.1 -11zM11 5.4L13.1 7.4L11.4 9.7L9.3 7.7zM0.9 14.6L-1.9 15.1L-2.8 12.3L0 11.8zM-7.8 6.1L-12.3 8.2L-12.1 3.6zM-7.3 -9.5L-10.2 -5.5L-12.2 -9.6zM2.9 -17.2L2.9 -12.3L-1.2 -14.4zM12.6 -10.2L14.4 -5.6L9.8 -6.1z"/><use href="#top"/></g><circle class="oc" r="180.5"/><use href="#lab"/><text class="tt" transform="translate(0 -206.3) scale(1 1.09)" text-anchor="middle">(b) GFDL-CM3 (HIST)</text></g><g transform="translate(1177.6 242.1)"><g clip-path="url(#cc)"><circle r="181.5" fill="#fafafa"/><path fill="#fff" fill-rule="evenodd" d="M-188 -188l104.4 0l-2.4 3.6l-2.3 4.4l-1.2 3l-1 4l-0.2 4l0.6 3l1.4 3l1.6 2l3.8 3l6.8 3l7.5 2.1l13.7 2.9l7 2l3.6 2l0.6 1l0.1 1l-0.8 2l-1.7 2l-15.5 15l-14 14.8l-11 12.8l-10 12.8l-8 11.3l-7 10.7l-8.1 13.6l-14.9 26.8l-4 5.9l-3 3.5l-3 2.7l-3 2l-4 1.8l-4 1.2l-11 1.8l-21 1.7zM-6.2 -130l3.2-0.5l3 0.1l4 0.7l4 1.2l7 3.8l6 4.8l7 7.7l7 9.6l6.5 10.6l6.1 12l4.7 11l3.5 11l2.2 10l0.6 9l-0.8 8l-2.1 6l-1.7 2.8l-2 2.3l-2 1.7l-3 1.7l-6 1.9l-6 0.6l-8-0.6l-7-1.7l-5-2.3l-3.1-2.4l-2.9-3.6l-3.5-6.4l-7.9-19l-7.3-21l-4.8-17l-2.6-14l-0.5-6l0.1-5l0.5-4.2l1-3.8l2-3.9l2-2.2l3-2zM-18.9 -4l5.9 0.1l4.8 0.9l3.2 1.7l2 2.3l1.3 3l0.6 4l-0.1 5l-1.1 14l0.3 4l1 4l2.1 5l3.6 6l4.6 6l5.7 6l9 7.3l5 3.2l6 3.3l11 4.8l22 8l5.3 2.4l4.7 2.6l5 3.4l5.7 5l4.8 5l4.8 6l8.5 12l7.4 12l5.4 10l4.8 11l2.9 9l1.7 9l0.6 8l-0.7 8l-109.9 0l0.7-4l0.2-4l-0.4-4l-0.8-3l-1.8-4l-1.9-3l-2.5-3l-3.1-3l-5.2-4l-8.2-5l-40-19.6l-11-6l-10-6.3l-10-7.2l-9.4-7.9l-8.1-8l-7.6-9l-5.7-8l-4.6-8l-3.5-8l-2.6-8l-1.2-8l0.3-6l1.5-5l2.8-4l3.6-3l5.1-3l27.8-14l14.6-6.3l11-3.8l11-2.8l12-2.2z"/><path fill="#fcc8c4" fill-rule="evenodd" d="M-127 -96l4-0.9l3 0.3l2 1.2l1.6 2.4l0.5 3l-0.2 4l-0.9 4l-1.8 5l-3 7l-4.2 7.9l-5 8l-4 5.3l-4 4.1l-3 2.1l-3 1.2l-3-0.1l-2-1.1l-1.9-2.4l-1.1-2.8l-0.6-3.2l-0.1-4l0.5-5l1.2-5l1.3-4l4.4-9l2.7-4l3.2-4l6.4-6.1l3-2zM12.6 -81l2.4-0.4l3 0.4l3 1l3 1.6l4 2.9l3 2.7l5.5 6.8l2.4 4l1.8 4l1.2 4l0.5 3l0 3l-0.6 3l-1.2 2l-1.6 1.4l-2 0.8l-3 0.1l-3-0.7l-4-1.9l-3.9-2.7l-3.1-2.8l-3-3.4l-2.8-3.8l-2.4-4l-1.8-4l-1.3-4l-0.6-4l0.1-3l0.9-3l1.6-2zM-52.5 12l5.5-0.7l6 0.2l5 1.2l4.3 2.3l2 2l1.9 3l1 3l1.2 8l1 4l1.6 3l3.2 4l30.8 27.1l10 7.7l20.3 14.2l4.9 4l4.1 4l2.4 3l2.4 4l1.6 4l0.5 3l0 4l-0.8 3l-1.5 3l-2.5 3l-4.4 3.2l-6 2.5l-7 1.5l-8 0.7l-10-0.2l-11-1.2l-13-2.1l-12-2.6l-11-3.2l-9-3.1l-9-3.8l-8-4l-8-4.8l-7-4.9l-7-5.8l-6-6l-4.4-5.2l-4.2-6l-3.3-6l-2-5l-1.6-6l-0.4-5l0.6-5l1.2-4l2.5-5l4.5-6l8-9l6.3-6l5.3-4l6.5-3.8l6-2.4z"/><path fill="#d6d6e9" fill-rule="evenodd" d="M14.2 -181l6.8-0.2l8 0.6l8 1.4l7 2l8 3.2l5.1 3l3.1 3l0.4 1l-0.2 1l-1.7 1l-4.7 0.3l-6-0.6l-11-1.7l-15.5-3l-8.4-2l-5.8-2l-2.9-2l-0.3-1l0.5-1l1.3-1l3.1-1.1zM100.8 -86l4.2 0l4 0.9l4 1.6l4 2.3l4 3l4 3.8l4 4.7l3.4 4.7l3.6 5.8l3.3 6.2l5.9 14l4.5 15l3.2 16l1.4 15l-0.1 15l-1.7 13l-1.4 6l-1.8 6l-2.3 5.5l-2.4 4.5l-2.6 3.9l-3 3.5l-3 2.7l-4 2.6l-4 1.6l-4 0.8l-5 0.2l-6-0.7l-20-5.6l-9-1.9l-8-0.8l-18-1.1l-6-0.8l-5-1.3l-7.7-3.1l-5.7-4l-1.9-2l-2.1-3l-1-2l-0.8-3l0-4l0.8-3l1.5-3l2.4-3l3-3l3.5-2.7l14-9.3l5-3.8l5-5.1l4-5.8l3.3-7.3l2.3-9l1.3-10l1-19l0.7-7l1.3-7l2.1-6.8l4-7.9l2.4-3.3l2.6-2.8l3-2.5l3-1.8l3-1.2zM-67.3 -81l4.3-0.5l5 0.1l5 0.9l4 1.4l4 2.1l3 2.2l3 3.1l2.5 3.7l2 4l1.2 4l0.8 5l0.1 5l-0.4 5l-1.1 5l-1.9 6l-2.3 5l-4.9 8l-3.3 4l-3.1 3l-3.8 3l-4.5 3l-11.3 5.7l-13 5l-6 1.6l-5 0.9l-5 0.3l-4-0.2l-4-0.8l-4-1.5l-4.2-3l-2.8-3.8l-1.6-4.2l-0.7-6l0.5-7l1.6-7l2.4-7l3.7-8l4.1-7.2l5-7.3l5-5.9l6-5.8l6-4.6l6-3.4l6-2.4zM-142.3 55l1.3 0l2 0.9l4 3.6l18.5 24.5l9.1 11l10.4 11.4l22.2 22.6l2.3 3l1.6 3l0.2 2l-0.3 1l-1 1l-2 0.7l-2 0.2l-6-0.8l-7-2.1l-8.4-4l-7.6-4.6l-7-5.3l-7-6.3l-6.2-6.8l-5.8-7.6l-5-7.9l-4.2-8.5l-3-8l-1.9-8l-0.6-7l0.7-5l1-1.9z"/><path fill="#f99fb5" fill-rule="evenodd" d="M-54.4 27l2.4 0l2 1.3l1 1.8l1.6 6.9l1.9 3l2.1 2l5.7 4l15.7 9.3l10 7.1l14.8 12.6l14.3 14l5.5 7l1.7 3l1.1 3l0.4 3l-0.2 2l-1.3 3l-1.8 2l-3.5 2.3l-4.3 1.7l-5.7 1.2l-6 0.5l-7 0.1l-8-0.5l-8-1.1l-8-1.6l-7-1.9l-7-2.4l-6-2.5l-6-3l-6-3.5l-5-3.6l-5-4.1l-4.5-4.6l-5.3-7l-2.1-4l-1.6-4l-1-4l-0.2-3l0.3-4l0.7-3l1.8-4l2.7-4l12.3-13l6.1-8l2.8-2.5z"/><path fill="#a6bddb" fill-rule="evenodd" d="M-75.5 -59l5.5-0.8l5 0.5l4 1.6l3.2 2.7l2.5 4l1.2 5l-0.2 5l-1.6 6l-2.5 5l-3.6 5l-4 4l-5.7 4l-5.3 2.5l-6 1.5l-5 0.1l-4.9-1.1l-3.1-1.8l-2-2l-1.4-2.2l-1-3l-0.4-3l0.1-4l0.7-3.4l1.2-3.6l3.8-7.2l2.9-3.8l2.9-3l3.2-2.7l3.4-2.3l3.6-1.8zM106.8 -49l2.2 0.1l3 0.8l2.3 1.1l2.7 1.9l4.9 5.1l3.9 6l3.8 8l3 9l2.3 10l1 9l0.1 9l-0.9 8l-1.7 7l-2.6 6l-3.5 5l-4.3 3.8l-5 2.3l-5 0.9l-5-0.1l-6-1.1l-5.8-1.8l-5.2-2.4l-3.9-2.6l-2.1-2.2l-1.6-2.8l-0.7-4l0.5-6l4.3-21l3.5-24.2l2.2-9.8l2.8-6.7l3-4.2l2-1.9l2-1.2z"/><path fill="#f05ea0" fill-rule="evenodd" d="M-56.6 57l4.6-0.6l4 0.2l4 0.6l5 1.3l5 1.8l5 2.4l5 2.9l4.8 3.4l4.8 4l4.1 4l4.4 5l2.8 4l2 4l0.9 3l0 3l-1.2 3l-1.6 1.8l-1.8 1.2l-2.2 1l-3.5 1l-7.5 0.8l-8-0.5l-8-1.6l-8.5-2.7l-7.5-3.5l-6.8-4.5l-5.6-5l-3.9-5l-1.6-3l-1.1-3l-0.7-5l0.4-3l0.7-2l2.6-3.9l4-3.1z"/><path fill="#c51b8a" fill-rule="evenodd" d="M-44.9 74l2.9-0.5l3 0.4l3.3 1.1l3.4 2l2.3 2.1l1.9 2.9l0.3 2l-0.8 2l-2.4 1.2l-4 0.2l-4.9-1.4l-3.5-2l-3-3l-1.2-3l0.6-2.4z"/><path class="z0" d="M-83.6 -188l-4.7 8l-2.2 7l-0.2 4l0.6 3l1.4 3l1.6 2l3.8 3l6.8 3l28.2 7l3.6 2l0.6 1l-0.2 2l-2.2 3l-15.5 15l-13 13.7l-11 12.7l-10 12.7l-8 11.1l-8 12.2l-8.1 13.6l-14.9 26.8l-4 5.9l-3 3.5l-6 4.7l-8 3l-11 1.8l-21 1.7M-6.2 -130l6.2-0.4l8 1.9l7 3.8l6 4.8l7 7.7l7 9.6l6.5 10.6l6.1 12l4.7 11l3.5 11l2.2 10l0.6 9l-0.8 8l-2.1 6l-3.7 5.1l-5 3.4l-6 1.9l-6 0.6l-8-0.6l-7-1.7l-5-2.3l-3.1-2.4l-2.9-3.6l-3.5-6.4l-7.9-19l-7.3-21l-4.8-17l-2.6-14l-0.4-11l1.5-8l2-3.9l2-2.2l3-2zM19 188l0.9-8l-0.4-4l-1.2-4l-1.9-4l-2.1-3l-6.1-6l-5.5-4l-8.5-5l-38.2-18.6l-19-11l-10-7l-9-7.2l-8.6-8.2l-7.2-8l-6.6-9l-5.4-9l-4.1-9l-2.8-9l-1-8l0.5-6l2.2-5.5l4-4.4l6.6-4.1l29.9-15l11.5-4.9l11-3.9l15-3.8l14-2.1l10-0.2l4 0.7l3 1.2l3 3l1.7 5l0.2 6l-1.2 15l0.3 4l1 4l2.1 5l2.9 5l8 10l10 8.9l11 6.9l12 5.4l23.9 8.8l11.1 5.9l5.5 4.1l5.2 5l5.3 6l6 8l7.4 11l6.5 11l4.6 9l4.3 10l2.7 9l1.5 8l0.6 8l-0.7 8"/><use href="#base"/><path fill="url(#g7)" d="M-38 -16L-24 -16L-24 0L-38 0z"/><path fill="url(#d7)" d="M-38 -16L-24 -16L-24 0L-38 0z"/><path fill="url(#g8)" d="M4 -6L14 -14L14 -2L6 -2z"/><path fill="url(#d8)" d="M4 -6L14 -14L14 -2L6 -2z"/><path class="sh" d="M165.7 41.3L165.8 39.4M162.1 54.6L162.2 52.3M157.2 67.3L157.6 65M-44.6 164.4L-42.6 164.9M-57.9 159.9L-55.1 161.1M-70.7 154.5L-67.4 156.4M-83.1 148.2L-79.3 150.8M-94.9 141.2L-90.8 144.1M-106.3 133.2L-101.7 136.6M-116.8 124.4L-112 128.2M-126.4 114.6L-121.8 119M-134.9 104L-130.9 109M-142.4 92.8L-139.2 98.2M-148.9 81.3L-146.8 86.7M-154.5 69.4L-153.4 74.5M-159.1 57.4L-158.9 61.6M-162.7 45.3L-163.2 48.1M-168.5 -3.1L-169.8 -4.6M-168 -15.2L-169.4 -18.9M-166.7 -27.5L-167.4 -33.2M-164.5 -40.1L-164.1 -46.9M-161.3 -52.9L-159.6 -60.1M-157 -65.5L-154.2 -72.6M-151.6 -78L-147.8 -84.6M-145.1 -90.2L-140.6 -95.8M-137.5 -102.1L-132.7 -106.3M-128.8 -113.5L-124.3 -116M-119.1 -124.4L-115.2 -125.2M-108.5 -134.4L-105.2 -133.9M-97.3 -143.1L-94.3 -141.9M-85.6 -150.5L-82.7 -148.9M-73.6 -156.4L-70.6 -155M-61.4 -161.1L-57.8 -160.1M-49.2 -164.9L-44.4 -164.1M-36.8 -167.9L-30.4 -167.1M-24 -170.3L-16.4 -168.9M-10.8 -171.5L-2.6 -169.7M2.6 -171.6L11.1 -169.4M16.1 -170.5L24.7 -168.1M29.5 -168.4L38 -165.8M42.7 -165.3L51 -162.3M55.9 -161.5L63.7 -157.8M68.9 -156.7L75.8 -152.2M81.6 -150.8L87.3 -145.8M93.7 -143.6L98.2 -138.7M105.1 -134.9L108.5 -131.1M115.5 -125L118.1 -122.7M124.9 -114.1L126.9 -113.2M133.3 -102.6L135.3 -102.5M140.7 -90.8L143.4 -91.3M147.3 -78.7L150.5 -79.7M153 -66.4L156.5 -67.5M157.9 -53.8L161.3 -54.8M162 -40.9L164.9 -41.8M165.2 -27.7L167.4 -28.4M157.1 21.6L157.6 17.6M155.1 35.2L155.5 30.9M151.7 48.5L152.3 44.2M146.9 61L147.8 57.3M140.9 72.8L142.2 70.3M55.5 150.7L53.1 149.7M42.4 155.1L39.9 153.7M28.7 158.1L26.7 156.7M-155.8 3.6L-158.2 2.7M-155.5 -8.9L-158.2 -11.1M-154.5 -21.4L-157 -25.1M-152.7 -33.9L-154.3 -38.9M-150.1 -46.6L-150.2 -52.3M-146.5 -59.3L-144.8 -65.1M-141.7 -72.2L-138.5 -77.2M-135.5 -84.8L-131.2 -88.5M-127.9 -97L-123.3 -99.2M-119 -108.4L-114.6 -109.2M-109 -118.9L-105 -118.6M-98.2 -128.2L-94.6 -127.2M-86.7 -136.1L-83.4 -134.8M-74.8 -142.5L-71.5 -141.5M-62.5 -147.6L-59.1 -147.2M-49.8 -151.7L-46 -151.7M-37 -154.9L-32.4 -155.2M-24 -157.4L-18.5 -157.4M-10.9 -159L-4.4 -158.3M2.5 -159.5L9.5 -158M16.1 -158.8L23.3 -156.5M29.7 -156.9L36.6 -153.9M43.3 -154L49.6 -150.2M56.8 -150L62.1 -145.3M70 -144.8L74.1 -139.5M82.5 -138.1L85.6 -132.8M94.2 -130L96.5 -125.4M105 -120.5L106.6 -117.4M137.5 -73L139.6 -74.3M143.3 -60.2L145.8 -62.2M148.2 -47.2L150.7 -49.5M152.2 -33.9L154.3 -36.3M155.1 -20.2L156.8 -22.8M157 -6.3L158.3 -9.3M157.7 7.7L158.6 4.2M144.8 14.7L145.3 9.1M143.1 28.2L143.8 22.6M139.9 41.3L141 36.2M135.3 53.7L136.9 49.6M129.3 65.3L131.4 62.8M122.5 76L124.4 75M56.4 135.3L53.8 135.4M44.3 140.5L40 139.8M31.3 144.1L26.3 142.8M17.9 146.3L12.8 144.7M4.2 147L-0.8 145.3M-9.5 146.4L-14.5 144.6M-23 144.6L-28 142.7M-36.1 141.4L-41.5 139.5M-48.9 137.2L-54.6 135M-61.3 132L-67.2 129.2M-73.3 126L-79.1 122.2M-84.9 118.8L-90.2 114.2M-95.7 110.5L-100.5 105.2M-105.5 100.9L-109.9 95.4M-114.2 90.1L-118.4 84.9M-121.8 78.5L-125.9 73.7M-128.3 66.1L-132.1 61.9M-133.8 53.2L-137.2 49.7M-138.1 39.7L-141 37M-141.1 25.7L-143.5 24M-142.6 11.5L-144.7 10.5M-142.7 -3L-145 -3.3M-141.5 -17.2L-144.3 -17M-139.3 -31.2L-142.2 -30.5M-136.1 -44.9L-138.6 -43.8M-106 -103.8L-104.6 -102.2M-96.5 -112.8L-94.6 -111.3M-86.1 -120.7L-83.8 -119.5M-74.8 -127.5L-72.1 -126.7M-62.9 -133.1L-59.9 -132.8M-50.3 -137.6L-47.1 -137.8M-37.2 -141.2L-33.9 -141.6M-23.8 -144L-20.5 -144.2M-10.2 -145.8L-6.9 -145.4M3.5 -146.4L6.8 -145.4M17.3 -145.8L20.4 -144.1M31 -143.9L33.9 -141.5M44.4 -140.7L47.1 -137.5M57.6 -136.3L59.9 -132.3M70.1 -130.6L72.1 -125.9M82.1 -123.4L83.6 -118.6M93.2 -114.8L94.2 -110.7M103.3 -104.6L104 -102.2M132.6 -53.9L134 -56.3M137.5 -40.5L138.9 -43.9M141.2 -26.8L142.5 -31M143.8 -13L144.7 -17.8M145 0.9L145.7 -4.4M131 20.2L131.5 15.3M128 33.3L129.2 28.9M123.5 45.6L125.4 42.5M117.7 57.1L120.1 55.4M111 67.9L113.6 67.4M103.5 78.3L106.1 78.6M95.1 88.1L97.4 89.1M85.8 97.2L87.7 98.5M75.8 105.3L77 106.8M44.5 125L41.1 125.8M32.5 129.5L26.9 129.4M19.6 132.2L12.9 131.4M6.2 133.3L-1 132.1M-7.2 132.9L-14.7 131.4M-20.6 131L-28.4 129.3M-33.7 127.9L-41.7 125.8M-46.6 123.6L-54.5 120.9M-59 118.3L-66.7 114.6M-71 111.9L-78.1 107M-82.3 104.2L-88.6 98.3M-92.7 95.3L-98.1 88.6M-102 85.1L-106.7 78.2M-110.1 73.9L-114.2 67M-117 61.8L-120.4 55.3M-122.7 48.7L-125.3 43.2M-127.1 34.8L-128.8 31M-128.3 -26.3L-130.8 -22.2M-124.9 -40.3L-128.2 -34.8M-120.3 -53.5L-123.9 -47.4M-114.7 -65.8L-118.2 -59.8M-108.1 -77.3L-111.1 -71.9M-100.6 -87.6L-102.5 -83.6M-92.5 -96.7L-92.9 -94.8M-50.5 -123.3L-48.1 -123.5M-37.7 -127.4L-34.9 -127.8M-24.5 -130.5L-21.5 -130.7M-10.9 -132.6L-8 -132.2M2.9 -133.3L5.6 -132.4M16.8 -132.6L19.2 -131.1M30.4 -130.5L32.7 -128.4M43.8 -127.1L45.9 -124.1M56.7 -122.3L58.5 -118.4M69 -116.1L70.5 -111.6M80.6 -108.4L81.6 -103.7M91.2 -99.2L91.8 -95.1M100.6 -88.3L101 -86.1M126.2 -35L126.8 -37.6M129.6 -21.1L130.1 -24.9M131.7 -7.2L132 -11.8M132.1 6.6L132.4 1.7M106.3 48.4L108.2 47.9M99.6 59.7L102.5 59.8M92 70.5L95.2 71.1M83.4 80.5L86.5 81.5M73.8 89.3L76.6 90.8M63.4 96.8L65.8 98.9M52.8 103.3L53.9 105.4M31.7 113.8L28.8 115.4M19.9 117.3L14.2 118.1M7.2 118.9L0 118.9M-6.1 118.8L-13.9 118.2M-19.3 117L-27.5 115.9M-32.4 113.9L-40.6 112M-45.2 109.5L-53.2 106.7M-57.6 103.9L-64.9 99.8M-69.4 97.1L-75.6 91.6M-80.6 88.9L-85.3 82.3M-90.6 79.1L-93.9 72.1M-99.3 67.9L-101.4 61.3M-106.6 55.5L-107.6 50M-112.4 42.1L-112.5 38.3M-118 -18.4L-117.9 -15.1M-114.3 -32.7L-115.7 -27.5M-109.3 -45.8L-112.1 -40.1M-103.2 -57.9L-106.9 -52.6M-96 -68.9L-100 -64.7M-88.2 -78.8L-91.3 -76.2M-24.9 -116.5L-22.7 -116.8M-11.8 -119L-8.9 -118.6M2 -120.1L4.8 -118.9M15.9 -119.4L18.2 -117.6M29.6 -117L31.5 -114.8M42.9 -113.1L44.5 -110.3M55.5 -107.9L56.9 -104.1M67.4 -101.2L68.5 -96.7M78.4 -92.9L79.1 -88.1M88.2 -83.1L88.7 -78.8M96.7 -71.8L97.1 -68.9M88.8 51.9L90.9 52.2M80.8 63.1L84.1 63.5M71.7 73L75.5 73.8M61.6 81.4L65.7 83M50.7 88.3L54.7 90.8M39.4 93.9L42.4 97M28.4 98.2L29.3 101M17.6 101.5L16.4 103.8M6.4 103.6L2.2 105.6M-5.9 104L-12.2 105.1M-18.7 102.6L-26 102.6M-31.6 99.7L-39 98.3M-44.3 95.3L-51.2 92.4M-56.9 89.6L-62.2 84.9M-69.1 82.1L-72 76.2M-80.2 72.6L-80.8 66.5M-89.2 61.3L-88.6 56.1M-96.1 48.9L-95.1 44.8M-101.8 35.6L-100.2 32.6M-106.1 21.1L-103.9 19.7M-107.9 5.9L-105.9 6.1M-107.3 -9.1L-105.6 -7.8M-104.2 -23.6L-103.5 -21.2M-98.9 -37L-99.8 -33.8M-92.2 -49.1L-94.9 -46.1M-84.7 -59.8L-88.3 -57.8M-76.5 -69.5L-79.8 -68.8M-12.5 -104.7L-9.9 -104.9M0.5 -106.6L4.3 -105.2M14.3 -106.3L17.9 -103.6M28.2 -103.7L30.8 -100.6M41.5 -99.3L43.3 -95.9M54 -93.4L55.3 -89.5M65.3 -86L66.3 -81.4M75.5 -77.1L76.3 -72.1M84.3 -66.6L84.9 -61.8M91.7 -54.9L92.2 -50.8M97.5 -42.1L97.9 -39.2M93.7 3.4L92.8 6.4M70.8 56.4L73.3 56.6M61 66.3L65.1 66.8M50.2 74.3L55.2 75.7M38.6 80.5L43.9 83.2M26.6 85L31.3 88.7M14.6 87.9L17.7 92.2M2.9 89.3L3.8 93.2M-8.7 89.3L-9.9 92.4M-20.8 88.1L-23.1 89.9M-33.5 85.4L-35.4 85.6M-59.8 74.7L-59.3 72M-71 65.6L-68.9 61.9M-79.3 54.7L-77.3 51.3M-85.4 43.1L-84 39.6M-91.5 30.3L-88.5 26.5M-95.7 15.6L-91.3 13.5M-96.5 0.6L-92.9 0.3M-94.7 -13.9L-92.7 -13.4M-75.1 -50.9L-76.9 -51M-66.5 -60.8L-69.2 -61.7M-57.4 -69.7L-59.2 -71M-0.5 -93.2L3.3 -92.9M12.6 -94L17.7 -90.8M26.5 -91.7L30.8 -87M39.9 -86.8L42.9 -81.8M52.3 -79.9L54.2 -74.9M63.3 -71.4L64.6 -66.2M72.6 -61.4L73.6 -56M80.3 -50.1L81.1 -44.8M86.3 -37.7L86.9 -32.6M90.6 -24.5L90.7 -19.9M93.1 -10.7L92.7 -6.8M82 9.6L80 12.6M51.1 59.4L54.4 60M39.3 66.9L44.5 68.7M26.9 72.3L32.8 75.5M14.1 75.7L19.7 80.1M1.1 77.1L5.9 82.2M-12 76.5L-8.2 81.7M-25.1 74.3L-22 78.5M-38.3 70.8L-35.2 73M-50.9 65.4L-46.9 65.9M-61.4 57.6L-57.2 56.8M-74.1 37.5L-73.4 34.8M-81.5 24.9L-77.1 20.6M-84.9 10.1L-79.3 7.5M-84.4 -4.3L-80.4 -5.8M-81.2 -17.9L-79.2 -19M-66.8 -41.9L-67.5 -43.6M-57.7 -52.4L-59.2 -55M-47.8 -61.6L-49 -64.1M0.3 -79.1L1.7 -80.5M12.2 -81.1L16.5 -79.2M25.6 -79.5L30.3 -74.2M38.7 -74.3L42.4 -67.9M50.7 -66.4L53.2 -59.9M61 -56.6L62.6 -50.3M69.4 -45.2L70.3 -39.2M75.7 -32.6L76 -27M80 -19.1L79.5 -14M82.2 -4.9L80.8 -0.7M71.6 2L69.2 5.1M69.8 16.3L67.1 18.3M30.9 58.4L35 60.6M17.9 63.1L23.4 66.8M4.6 65.5L10.3 70.3M-8.9 65.5L-3.3 70.8M-22.4 63.4L-16.7 68.4M-35.4 59.3L-29.5 63.2M-46.9 53L-41.3 55.5M-54.8 44.3L-53.1 45.2M-69.1 24.8L-65.3 21.5M-73.7 11.1L-67.3 7.9M-73 -2.7L-68.6 -5.3M-69.4 -15.5L-66.9 -18.5M-63.3 -27.6L-62.1 -31.2M-54.9 -38.9L-54.9 -42.9M-45.2 -49L-45.6 -52.6M-34.4 -57.6L-34.5 -59.7M5.2 -66.5L4.9 -68.8M29.1 -66.1L31.4 -61.3M41.2 -59.9L43 -53.3M51.8 -50.6L52.7 -44M60.3 -39.1L60.4 -33.2M66.5 -26.2L65.8 -21.3M70.4 -12.3L68.8 -8.4M60 8.9L56.9 10.8M56 22.2L53 23.6M23.3 49.6L25.4 52.1M9.5 53.3L13.6 57.5M-4.4 54.3L0.6 59.3M-18 52.6L-12.6 57.6M-30.5 48.2L-25.3 52.6M-40.1 40.7L-37.4 44.5M-45.8 31.3L-46.8 33.7M-62.1 11L-55.6 8.9M-61.4 -1.8L-57.2 -4.5M-57.2 -14.2L-55.3 -17.5M-50.8 -25.9L-49.8 -30M-42 -36.7L-41.7 -40.5M-31.5 -46.1L-31.3 -48.2M9.4 -55L7.5 -57.4M23 -53L21 -54M34.6 -49.9L32.9 -48.4M44.5 -42.5L42.5 -39M52.5 -31.6L50.4 -28.2M57.7 -18.7L55.8 -16M60.3 -4.9L58 -2.8M49.4 1.9L47 3.1M47.1 15L43.8 16.3M40.3 26.6L37.7 27.9M15.9 41L16.3 43.3M1.5 43.2L3.7 47.2M-12.4 42.1L-9.3 46.6M-24.2 37.3L-22 41.9M-32.3 29.1L-33.2 33.9M-41.4 19.2L-41.1 22.4M-50.1 9.8L-44.7 10.1M-49.8 -1.7L-46.6 -3.3M-44.9 -13.7L-44.1 -15.7M-37.9 -25.1L-37.6 -27.5M12.4 -44.4L10.4 -45.5M25.9 -40.1L22.1 -41.2M36.5 -33.4L32.9 -33.1M44 -23.5L41.3 -22.6M48.2 -11.3L46.2 -10.3M37.1 8.2L34.5 9.2M31 20.3L28.2 21.7M19.5 28.7L18 30.4M5 32.3L4.6 34.7M-9.3 30.8L-9.3 34.3M-20.8 24L-21.9 28.8M-31.4 13.9L-30.8 18M-38.1 3.5L-35.5 4.4M24.4 -28.1L22.5 -28.1M26.8 0.6L25.1 1.4M22.4 13.3L19.9 14.5M10.8 20.9L8.9 22.6M-3.6 21.1L-5.1 23.8M-16.4 13.8L-17.4 17.6M13.6 6.2L11.7 7.2M1 11.3L-0.6 13.1"/><path class="hd" d="M170.9 10L171.5 12.8L168.8 13.8L168.2 11zM168.9 23.2L170.3 25.8L167.9 27.5L166.5 25zM166.1 36L168 40.6L163.4 40.3zM162.4 48.9L164.5 53.4L159.9 53.1zM158 61.7L159.7 66.3L155.1 65.7zM152.7 74.7L153.8 77.3L151.3 78.9L150.2 76.2zM146.7 86.8L147 89.7L144.2 90.4L143.9 87.5zM139.9 98.9L138.8 101.6L136 100.9L137.1 98.2zM131.7 110.8L129.3 112.4L127.4 110.3L129.8 108.6zM122.2 121.6L119.4 122.1L118.5 119.3L121.4 118.8zM111.8 131.4L109 130.9L109 128L111.9 128.4zM100.3 140.2L97.9 138.4L99.3 135.9L101.6 137.6zM86.7 146.7L87.4 143.9L90.3 144.3L89.6 147.1zM74.5 151.5L77.1 150.2L78.8 152.6L76.2 153.9zM62.4 156.5L65.3 156.1L66.2 158.8L63.3 159.3zM49.9 160.8L52.9 160.9L53.2 163.8L50.3 163.7zM37.2 164.2L40 164.7L39.9 167.6L37 167.1zM24.3 166.4L27 167.7L26.1 170.4L23.5 169.2zM11.9 167.7L13.7 170L11.6 172.1L9.9 169.8zM-0.2 168.8L-0.4 171.6L-3.3 171.8L-3.1 168.9zM-13.2 169.1L-14.8 171.5L-17.4 170.2L-15.8 167.8zM-26.5 168L-28.8 169.8L-30.9 167.8L-28.6 166zM-39.3 165.7L-44.2 166.9L-43 162.4zM-52 162.5L-57 162.8L-55.1 158.6zM-64.5 158.2L-69.4 157.9L-67.1 154zM-76.5 152.7L-81.4 152.1L-78.8 148.3zM-88 146.1L-92.9 145.4L-90.2 141.7zM-98.9 138.6L-103.9 137.9L-101.1 134.1zM-109.4 130.3L-114.2 129.4L-111.4 125.8zM-119.3 121.3L-124.1 119.9L-120.9 116.6zM-128.7 111.6L-133.3 109.7L-129.7 106.8zM-137.5 101.2L-141.7 98.5L-137.8 96.2zM-145.6 89.9L-149.3 86.6L-145 85zM-152.7 77.8L-155.8 74L-151.3 73zM-158.8 65L-161.3 60.6L-156.7 60.5zM-163.9 51.4L-165.3 46.7L-160.8 47.5zM-167.7 37.2L-168.3 34.3L-165.6 33.3L-164.9 36.1zM-170.8 23L-169.8 20.2L-167 20.8L-168 23.5zM-172.2 7.7L-169.5 6.6L-168 9L-170.7 10.2zM-171.9 -7.2L-167.4 -5.3L-170.9 -2.4zM-170.6 -22.1L-166.9 -18.8L-171.2 -17.2zM-167.8 -36.6L-165 -32.5L-169.6 -31.9zM-163.9 -50.3L-161.8 -45.8L-166.4 -46.1zM-158.9 -63.4L-157.6 -58.6L-162.1 -59.6zM-152.9 -75.8L-152.4 -70.9L-156.7 -72.6zM-146.1 -87.5L-146.3 -82.5L-150.3 -84.9zM-138.5 -98.4L-139.4 -93.6L-143 -96.5zM-130.2 -108.5L-132 -103.9L-135 -107.3zM-121.3 -117.7L-124 -113.5L-126.3 -117.6zM-111.9 -125.9L-115.7 -122.8L-116.7 -127.3zM-101.8 -133.5L-106.5 -131.8L-105.9 -136.4zM-91.1 -140.6L-96.1 -140.2L-94.3 -144.4zM-79.7 -147.3L-84.7 -147.4L-82.5 -151.4zM-67.5 -153.6L-72.5 -153.4L-70.5 -157.5zM-54.6 -159.1L-59.4 -158.1L-58.2 -162.6zM-41 -163.6L-45.7 -162L-45 -166.5zM-27.1 -166.6L-31.7 -164.9L-31.1 -169.5zM-13.1 -168.3L-17.8 -166.8L-17 -171.4zM0.8 -168.9L-4 -167.6L-3 -172.1zM14.4 -168.6L9.6 -167.4L10.7 -171.9zM27.9 -167.2L23.1 -166.2L24.3 -170.6zM41.2 -164.8L36.4 -163.9L37.7 -168.3zM54.2 -161.2L49.3 -160.5L50.9 -164.8zM66.7 -156.3L61.8 -156.1L63.8 -160.3zM78.6 -150.3L73.7 -150.8L76.2 -154.6zM89.8 -143.5L85 -144.7L88 -148.2zM100.5 -136.2L95.8 -137.9L99.2 -141zM110.8 -128.5L106.1 -130.3L109.6 -133.3zM120.6 -120.4L115.8 -121.7L118.9 -125.1zM129.9 -111.8L125 -111.6L126.9 -115.8zM138.7 -102.4L134.2 -100.3L134.4 -104.9zM146.7 -92L142.9 -88.9L142 -93.4zM153.8 -80.6L150.2 -77.2L148.9 -81.6zM159.8 -68.5L156.2 -65L154.9 -69.4zM164.6 -55.8L161 -52.3L159.7 -56.8zM168.2 -42.7L164.6 -39.3L163.3 -43.7zM170.6 -29.5L167.2 -25.9L165.7 -30.3zM171.6 -16.1L170.4 -13.4L167.6 -14.2L168.8 -16.9zM172 -3.1L171.5 -0.2L168.6 -0.2L169.1 -3.1zM158.1 14.2L159.8 18.9L155.2 18.2zM155.9 27.5L157.7 32.1L153.1 31.6zM152.7 40.8L154.4 45.5L149.8 44.8zM148.7 54.1L149.8 58.9L145.4 57.7zM143.7 67.3L143.8 72.2L139.7 70.2zM137.4 80.5L137 83.4L134.1 83.5L134.5 80.6zM130.3 92.8L128.7 95.2L126.1 93.9L127.8 91.5zM121.8 104.6L119.3 105.9L117.6 103.5L120.1 102.2zM112.2 115.2L109.3 115.5L108.5 112.7L111.4 112.4zM101.5 124.7L98.6 124.2L98.7 121.3L101.6 121.8zM89.5 133.3L87.3 131.5L88.8 129L91 130.9zM75.6 139.4L76.6 136.7L79.5 137.3L78.5 140zM63.2 144.2L65.6 142.6L67.6 144.8L65.1 146.4zM50 148.5L54.9 148L53.2 152.2zM36.9 152.1L41.8 152.1L39.7 156.2zM23.9 154.8L28.8 155.3L26.2 159.1zM11.1 156.6L14 156.6L14.4 159.5L11.5 159.5zM-2.3 156.9L0.6 157.4L0.5 160.3L-2.3 159.8zM-15.4 155.9L-12.7 157.2L-13.6 160L-16.2 158.7zM-27.8 153.9L-26.1 156.3L-28.2 158.3L-29.9 155.9zM-39.5 151.9L-40.3 154.7L-43.2 154.3L-42.4 151.5zM-52.2 149.5L-54.8 150.9L-56.5 148.5L-53.9 147.1zM-65 144.9L-67.9 145.4L-68.9 142.7L-66 142.1zM-77.2 138.6L-80 139.1L-81 136.4L-78.1 135.8zM-88.6 131.1L-91.4 131.9L-92.6 129.2L-89.8 128.5zM-99.4 122.8L-102.2 123.6L-103.4 121L-100.7 120.2zM-109.7 113.9L-112.6 114.4L-113.4 111.6L-110.5 111.1zM-119.4 104.4L-122.2 104L-122.3 101.1L-119.4 101.5zM-128.4 94L-131 92.7L-130 89.9L-127.4 91.3zM-136.6 82.7L-138.5 80.5L-136.7 78.3L-134.7 80.5zM-143.7 70.6L-144.9 67.9L-142.4 66.4L-141.2 69zM-149.7 57.7L-150 54.8L-147.2 54.1L-146.9 57zM-154.4 44.3L-153.8 41.4L-150.9 41.6L-151.5 44.5zM-157.9 30.3L-156.4 27.9L-153.7 29L-155.2 31.5zM-160 16.1L-157.7 14.3L-155.6 16.3L-157.9 18.1zM-161.3 1.5L-156.4 0.9L-158.1 5.2zM-160.9 -13.3L-156 -12.3L-158.9 -8.7zM-158.9 -27.9L-154.5 -25.6L-158.3 -23zM-155.3 -42.1L-151.8 -38.7L-156.1 -37.2zM-150.2 -55.7L-147.8 -51.3L-152.4 -51.2zM-143.9 -68.3L-142.9 -63.5L-147.3 -64.8zM-136.6 -80L-137.1 -75.1L-140.9 -77.6zM-128.7 -90.7L-130.5 -86.1L-133.5 -89.6zM-120.2 -100.6L-123.2 -96.7L-125.1 -100.8zM-111.2 -109.8L-115.2 -106.8L-115.9 -111.3zM-101.6 -118.3L-106.2 -116.4L-105.8 -120.9zM-91.3 -126.2L-96.1 -125.2L-94.9 -129.6zM-80.2 -133.7L-85.1 -133L-83.5 -137.3zM-68.3 -140.6L-73.1 -139.6L-71.8 -144zM-55.7 -146.7L-60.4 -145L-59.8 -149.6zM-42.6 -151.8L-47 -149.4L-47.1 -154zM-29 -155.4L-33.3 -152.8L-33.6 -157.4zM-15.1 -157.4L-19.5 -155.1L-19.5 -159.7zM-1 -158L-5.7 -156.1L-5.2 -160.7zM12.9 -157.3L8.1 -156L9 -160.5zM26.5 -155.5L21.6 -154.7L23 -159zM39.8 -152.6L34.8 -152.2L36.6 -156.4zM52.5 -148.4L47.5 -148.7L49.9 -152.6zM64.6 -143L59.8 -144.2L62.9 -147.7zM76.2 -136.8L71.7 -138.8L75.3 -141.7zM87.3 -129.8L83.1 -132.5L87.1 -134.8zM98 -122.3L94 -125.2L98.1 -127.3zM108.2 -114.4L104.1 -117.2L108.2 -119.3zM117.7 -106.2L114.9 -106.6L114.9 -109.5L117.7 -109.1zM127.3 -96.9L124.7 -95.6L123 -97.9L125.6 -99.3zM135.1 -87.1L133.7 -84.5L131 -85.6L132.4 -88.1zM142.5 -76.2L140 -71.8L137.5 -75.7zM148.5 -64.3L146.4 -59.8L143.6 -63.4zM153.2 -51.8L151.5 -47.1L148.4 -50.5zM156.6 -38.8L155.4 -34L151.9 -37.1zM158.7 -25.7L158.2 -20.7L154.4 -23.3zM159.6 -12.4L160 -7.4L155.8 -9.3zM159.4 0.9L160.6 5.7L156.1 4.6zM145.6 5.7L147.5 10.3L143 9.9zM144.2 19.2L146 23.9L141.4 23.4zM141.7 32.8L143 37.6L138.5 36.7zM138.2 46.5L138.7 51.4L134.4 49.7zM133.5 60.1L132.5 65L128.9 62.1zM127.5 73.5L124.5 77.5L122.5 73.4zM119.6 86.1L117.4 88L115.2 86.1L117.4 84.2zM110.9 97.5L108.2 98.5L106.8 96L109.5 94.9zM101.1 107.7L98.2 108L97.5 105.2L100.4 104.9zM90.3 117L87.4 116.5L87.5 113.6L90.4 114.1zM78 125.3L75.8 123.3L77.5 120.9L79.6 122.9zM64.1 131.2L64.7 128.3L67.6 128.6L67 131.4zM50.4 135.6L54.7 133.1L54.9 137.7zM36.6 139.2L41.4 137.7L40.6 142.2zM23.1 141.9L27.9 140.8L26.7 145.3zM9.5 143.6L14.4 142.8L13 147.2zM-4.1 144.2L0.9 143.4L-0.7 147.8zM-17.7 143.5L-12.7 142.8L-14.3 147.2zM-31.2 141.6L-26.3 140.9L-27.9 145.2zM-44.7 138.3L-39.7 137.7L-41.3 142zM-57.7 133.8L-52.8 133.2L-54.5 137.5zM-70.2 127.8L-65.3 127.6L-67.3 131.7zM-81.9 120.4L-77 120.9L-79.5 124.7zM-92.7 111.9L-87.9 113.1L-91 116.5zM-102.7 102.6L-98.1 104.4L-101.5 107.4zM-112 92.7L-107.5 94.7L-111.1 97.6zM-120.5 82.2L-116 84.2L-119.6 87.1zM-128.1 71.1L-123.5 73L-127 75.9zM-134.4 59.4L-129.8 61.1L-133.2 64.2zM-139.6 47.2L-134.8 48.8L-138.2 52zM-143.5 34.7L-138.7 36L-141.8 39.4zM-146.2 21.9L-141.3 22.7L-144 26.4zM-147.8 9.1L-142.9 8.8L-144.8 13zM-148.4 -3.8L-143.7 -5.4L-144.4 -0.9zM-147.7 -16.7L-143.5 -19.4L-143.1 -14.8zM-145.5 -29.7L-141.8 -33L-140.7 -28.5zM-141.7 -42.4L-138.6 -46.3L-136.7 -42.1zM-135.9 -55L-135.4 -57.9L-132.5 -57.9L-133 -55zM-129.1 -66.7L-130.1 -69.5L-127.5 -70.8L-126.6 -68.1zM-121 -78.3L-123.2 -80.2L-121.7 -82.7L-119.4 -80.8zM-112.2 -89.6L-114.9 -90.6L-114.3 -93.4L-111.6 -92.4zM-102.4 -99.7L-107 -101.4L-103.6 -104.5zM-91.9 -109.3L-96.8 -110.1L-94 -113.8zM-80.7 -118L-85.7 -117.9L-83.6 -122zM-68.9 -125.8L-73.7 -124.8L-72.5 -129.2zM-56.5 -132.5L-61.1 -130.6L-60.7 -135.2zM-43.7 -138L-48 -135.5L-48.2 -140.1zM-30.5 -142L-34.7 -139.2L-35.1 -143.8zM-17.1 -144.3L-21.4 -141.8L-21.6 -146.4zM-3.5 -145.1L-8.2 -143.3L-7.6 -147.8zM10 -144.4L5.2 -143.5L6.5 -147.9zM23.5 -142.5L18.5 -142.6L20.6 -146.6zM36.6 -139.4L31.7 -140.3L34.6 -143.9zM49.3 -135L44.7 -136.8L48.2 -139.8zM61.6 -129.3L57.4 -132L61.4 -134.3zM73.4 -122.8L69.6 -126L73.8 -127.7zM84.6 -115.4L81.1 -118.9L85.5 -120.3zM95.1 -107.4L91.8 -111.1L96.2 -112.2zM104.9 -99L101.5 -102.6L105.9 -103.8zM114.4 -89.8L111.6 -90.5L111.9 -93.4L114.8 -92.7zM123.4 -81.1L121.7 -78.7L119.1 -80L120.8 -82.4zM129.7 -70.5L129.7 -67.6L126.8 -67.2L126.9 -70.1zM135.7 -59.2L135.5 -54.3L131.5 -56.6zM140.3 -47L140.7 -42.1L136.4 -43.9zM143.5 -34.3L144.4 -29.4L140 -30.7zM145.4 -21.1L146.8 -16.4L142.3 -17.3zM146.1 -7.8L147.8 -3.1L143.3 -3.7zM131.9 11.9L133.7 16.5L129.1 16zM130.1 25.7L131.2 30.5L126.7 29.3zM127.2 39.6L126.9 44.5L123 42.1zM122.9 53.4L120.6 57.8L118 54.1zM117 66.8L113.1 69.8L112.2 65.3zM109.4 79.1L104.7 80.8L105.4 76.2zM100.5 90.3L95.6 90.8L97.3 86.5zM90.5 100.4L85.5 99.8L88.1 96zM79.2 109.4L74.6 107.5L78.1 104.5zM66.5 116.9L64.2 115.2L65.6 112.6L67.9 114.3zM52.5 122.6L52.5 119.7L55.3 119.3L55.3 122.2zM37.8 126.6L41.6 123.4L42.6 127.9zM23.5 129.3L27.9 127.1L27.9 131.7zM9.5 131L14.2 129.2L13.6 133.8zM-4.3 131.5L0.4 130L-0.4 134.5zM-18.1 130.7L-13.3 129.3L-14.2 133.8zM-31.7 128.5L-26.9 127.3L-27.9 131.8zM-45 124.9L-40.1 123.8L-41.3 128.3zM-57.7 119.8L-52.8 119L-54.3 123.4zM-69.7 113.1L-64.8 112.9L-66.8 117.1zM-80.9 105L-75.9 105.7L-78.6 109.4zM-91 95.9L-86.3 97.3L-89.4 100.6zM-100.3 86L-95.7 88L-99.3 90.9zM-108.6 75.3L-104.2 77.7L-108.1 80.3zM-115.9 64L-111.7 66.7L-115.7 69zM-122 52.2L-117.9 55.1L-122 57.2zM-126.7 40.1L-122.8 43.1L-127 45.1zM-130.1 27.9L-126.3 31L-130.5 32.9zM-132.3 16L-129.5 17L-130.1 19.9L-132.8 18.9zM-134.5 4.4L-132.4 2.5L-130.1 4.3L-132.3 6.3zM-133.4 -7.5L-133.6 -10.4L-130.8 -11L-130.5 -8.1zM-132.5 -19.3L-132.2 -24.2L-128.3 -21.9zM-129.9 -31.8L-129.6 -36.8L-125.7 -34.5zM-125.7 -44.5L-125.4 -49.4L-121.5 -47.1zM-119.9 -56.9L-119.7 -61.9L-115.7 -59.5zM-112.7 -68.9L-112.6 -73.9L-108.6 -71.7zM-104 -80.5L-104.2 -85.5L-100 -83.5zM-93.7 -91.5L-94.9 -96.4L-90.4 -95.3zM-82.1 -101.2L-84.7 -102.5L-83.7 -105.3L-81.1 -103.9zM-69.8 -110.3L-72.6 -109.5L-73.9 -112.1L-71.1 -112.9zM-57.9 -117.9L-60.2 -116.1L-62.2 -118.1L-60 -119.9zM-44.7 -123.8L-48.9 -121.1L-49.3 -125.7zM-31.5 -128.2L-35.6 -125.3L-36.2 -129.9zM-18.1 -130.8L-22.4 -128.3L-22.6 -132.9zM-4.6 -131.7L-9.3 -130.1L-8.7 -134.6zM8.8 -131.2L3.9 -130.6L5.4 -134.9zM22.1 -129.3L17.1 -129.7L19.6 -133.6zM35.1 -126L30.4 -127.4L33.6 -130.7zM47.8 -121.3L43.4 -123.6L47.2 -126.3zM60 -115.4L56 -118.4L60.2 -120.3zM71.5 -108.3L68 -111.8L72.4 -113.2zM82.3 -100.4L79.1 -104.2L83.6 -105.2zM92.3 -91.8L89.3 -95.8L93.9 -96.5zM101.5 -82.8L98.5 -86.7L103.1 -87.5zM110.2 -72.7L107.6 -74L108.4 -76.7L111.1 -75.5zM118.3 -64.3L117.4 -61.5L114.6 -61.9L115.4 -64.7zM123.1 -52.8L124.1 -50.1L121.5 -48.7L120.5 -51.4zM127.5 -40.9L128.8 -36.1L124.3 -37.1zM130.5 -28.3L132.3 -23.6L127.7 -24.2zM132.2 -15.2L134.2 -10.6L129.6 -10.9zM132.6 -1.7L134.7 2.8L130.1 2.5zM118.8 6.1L120.5 8.5L118.4 10.5L116.7 8.2zM117.7 19.7L118.7 22.4L116.1 23.8L115.1 21.1zM115.3 33.5L114.9 36.4L112 36.4L112.4 33.5zM111.5 47L107.9 50.4L106.7 45.9zM105.9 59.9L101.5 62.1L101.6 57.5zM98.5 71.7L93.8 73.2L94.6 68.7zM89.7 82.6L84.8 83.3L86.3 79zM79.6 92.4L74.7 92.4L76.8 88.3zM68.3 101.2L63.5 100L66.5 96.5zM55.5 108.4L51.4 105.6L55.5 103.5zM41.1 113.5L39.9 110.8L42.3 109.2L43.5 111.9zM25.8 116.9L28.6 112.9L30.7 116.9zM10.9 118.5L14.9 115.6L15.5 120.2zM-3.4 118.9L1 116.6L1 121.2zM-17.3 117.9L-12.8 115.9L-13.1 120.5zM-30.9 115.4L-26.2 113.7L-26.8 118.3zM-44 111.3L-39.2 110L-40.2 114.5zM-56.4 105.5L-51.5 104.8L-53 109.2zM-67.9 98.1L-62.9 98.3L-65.2 102.3zM-78.2 89.3L-73.4 90.5L-76.4 94zM-87.3 79.5L-82.9 81.7L-86.6 84.4zM-95.4 69.1L-91.4 72L-95.6 74zM-102.4 58.1L-98.9 61.6L-103.3 62.9zM-108.2 46.7L-105.1 50.6L-109.6 51.4zM-112.6 34.9L-110.2 39.3L-114.8 39.4zM-115.5 23.3L-114.3 26L-116.8 27.5L-118 24.9zM-116.2 11.4L-117.7 13.8L-120.4 12.7L-118.9 10.2zM-117.8 0.4L-120.6 -0.6L-119.9 -3.5L-117.2 -2.4zM-117.9 -11.7L-120.3 -16.1L-115.7 -16.1zM-116.6 -24.2L-117.7 -29L-113.2 -27.8zM-113.6 -37L-113.7 -42L-109.6 -39.9zM-108.9 -49.8L-108.2 -54.7L-104.5 -52.1zM-102.3 -62.2L-101 -67L-97.6 -63.8zM-93.9 -74.1L-92 -78.7L-89.1 -75.1zM-83.6 -85.1L-82.8 -87.9L-79.9 -87.5L-80.7 -84.7zM-73.1 -93.8L-72.5 -96.6L-69.6 -96.4L-70.2 -93.6zM-57.9 -103.1L-59.7 -100.7L-62.2 -102.1L-60.5 -104.5zM-45.9 -109.3L-47.5 -106.9L-50.1 -108.2L-48.5 -110.6zM-33.1 -114.1L-34.8 -111.7L-37.4 -113L-35.7 -115.4zM-19.3 -117.2L-23.4 -114.4L-23.9 -118.9zM-5.5 -118.2L-10.2 -116.5L-9.6 -121zM7.9 -117.5L2.9 -117.1L4.8 -121.4zM21 -115.6L16.1 -116.4L18.8 -120zM33.8 -112.2L29.2 -114L32.6 -117zM46.2 -107.3L42 -110L46 -112.3zM58.1 -101L54.4 -104.3L58.7 -105.9zM69.3 -93.3L66.1 -97.1L70.5 -98.2zM79.6 -84.8L76.7 -88.8L81.2 -89.4zM89.1 -75.4L86.3 -79.5L90.9 -80zM97.5 -65.5L94.7 -69.6L99.2 -70.1zM104.7 -55L102.4 -56.8L103.8 -59.3L106.1 -57.5zM111.3 -43L108.5 -43.8L108.9 -46.7L111.7 -45.9zM115.4 -34L116.2 -31.2L113.6 -30L112.8 -32.8zM117.6 -21L119.3 -18.6L117.2 -16.6L115.5 -19zM118.8 -7.5L120.7 -5.2L118.7 -3.1L116.9 -5.3zM104.1 16.3L102.6 13.8L104.8 11.9L106.3 14.4zM103.2 29.1L100.3 28.5L100.4 25.6L103.3 26.2zM99.6 40.7L97 42L95.3 39.6L97.9 38.3zM94.3 52.6L89.6 54.3L90.2 49.8zM87.4 64L82.8 65.7L83.4 61.1zM78.9 74.5L74.1 75.9L75 71.4zM68.9 84.1L64 84.8L65.5 80.5zM57.6 92.6L52.6 92.2L55 88.3zM44.8 99.4L40.1 97.8L43.4 94.6zM30.4 104.2L26.8 100.8L31.2 99.3zM14.8 106.8L14.9 101.8L18.9 104zM-0.9 107.1L2.1 103.1L4.1 107.3zM-15.6 105.7L-11.7 102.7L-10.8 107.2zM-29.4 102.6L-25 100.3L-25 104.9zM-42.4 97.7L-37.7 96.2L-38.5 100.8zM-54.3 91L-49.3 90.6L-51.2 94.9zM-64.7 82.6L-59.9 83.8L-63 87.2zM-73.5 73.1L-69.5 76.1L-73.6 78.1zM-81.1 63.1L-78.4 67.3L-83 67.8zM-88.1 52.7L-86.4 57.3L-91 56.8zM-94.3 41.5L-93.1 46.3L-97.6 45.2zM-98.6 29.7L-98.7 34.6L-102.7 32.4zM-101 18L-103.6 22.2L-106 18.3zM-102.5 6.3L-107.1 8.3L-106.7 3.7zM-103 -5.6L-107.8 -6.6L-105 -10.2zM-102.4 -17.9L-106 -21.4L-101.6 -22.8zM-100.7 -30.6L-101.8 -35.4L-97.3 -34.2zM-97.1 -43.5L-96 -48.3L-92.5 -45.3zM-91.3 -56.2L-88.6 -60.3L-86.3 -56.3zM-83.2 -68.1L-79.4 -71.3L-78.4 -66.8zM-72.6 -78.6L-70.2 -80.3L-68.2 -78.3L-70.6 -76.5zM-61.6 -88L-58.7 -88.4L-58 -85.6L-60.8 -85.2zM-47.7 -95.9L-46.4 -93.3L-48.7 -91.6L-50 -94.2zM-34.1 -100.5L-34.7 -97.6L-37.6 -97.8L-37 -100.6zM-20.9 -103.8L-22 -101.2L-24.8 -101.9L-23.7 -104.6zM-6.5 -105.2L-10.7 -102.6L-11.1 -107.1zM7.5 -104.1L2.6 -103.4L4.1 -107.7zM20.6 -101.6L15.7 -102.4L18.5 -106.1zM33 -98L28.4 -99.9L31.9 -102.8zM45 -93L40.8 -95.7L44.9 -97.9zM56.4 -86.2L52.8 -89.7L57.1 -91.1zM67.1 -78L63.9 -81.9L68.4 -82.8zM76.8 -68.7L73.8 -72.7L78.4 -73.4zM85.4 -58.4L82.5 -62.5L87.1 -63.1zM92.6 -47.5L89.8 -51.5L94.3 -52.1zM98.3 -35.8L95.5 -39.9L100.1 -40.5zM102.3 -23.9L100.2 -25.9L101.9 -28.3L104 -26.3zM104.6 -10.7L102.7 -12.9L104.6 -15.1L106.5 -12.8zM105 2.8L103.5 0.3L105.8 -1.5L107.3 1zM91.8 9.6L90.9 4.7L95.3 6.1zM90 22L89.1 19.2L91.7 17.9L92.6 20.7zM87.1 35.2L85.1 33.1L86.8 30.8L88.9 32.9zM83.3 46L80.6 47.1L79.2 44.5L81.9 43.5zM76.7 56.9L72.1 58.8L72.5 54.2zM68.5 67.3L63.8 68.9L64.4 64.4zM58.5 76.7L53.6 77.7L54.9 73.2zM47 84.7L42 84.8L44.1 80.7zM34 90.8L29.1 89.9L32 86.3zM19.8 94.9L15.3 92.7L19 90zM4.5 96.6L1.3 92.8L5.8 91.8zM-11.1 95.6L-11.7 90.7L-7.4 92.3zM-25.7 92L-23.7 87.5L-20.9 91.1zM-38.8 86L-34.7 83.2L-34.1 87.8zM-49.7 77.9L-46.8 78.3L-46.8 81.2L-49.6 80.8zM-58.7 68.6L-57.2 73.4L-61.8 72.6zM-67.2 59L-67.4 63.9L-71.3 61.6zM-75.5 48.4L-75.8 53.3L-79.7 51zM-82.8 36.4L-82.2 41.3L-86.5 39.7zM-86.4 23.9L-87.4 28.7L-91 25.9zM-88.3 12L-91.2 16L-93.2 11.9zM-89.5 0L-93.7 2.7L-94.1 -1.9zM-89.4 -12.7L-94.2 -11.4L-93.2 -15.9zM-87.5 -25L-90.4 -25.1L-90.7 -28L-87.8 -27.9zM-86.2 -38.1L-85.3 -40.8L-82.5 -40.4L-83.3 -37.6zM-80.3 -51.2L-75.8 -53.3L-76.1 -48.7zM-72.4 -62.9L-67.4 -63.6L-69 -59.2zM-62 -72.9L-57.1 -72.3L-59.7 -68.5zM-49.9 -81.1L-47.1 -80.2L-47.5 -77.4L-50.3 -78.2zM-36.4 -87.7L-34.7 -85.3L-36.8 -83.3L-38.5 -85.7zM-22.6 -91.8L-22.2 -88.9L-25 -88L-25.4 -90.9zM-8.7 -93.8L-9.3 -90.9L-12.2 -91.1L-11.6 -93.9zM6.7 -92.7L2.2 -90.7L2.4 -95.3zM20.6 -89L15.6 -89.4L18.1 -93.3zM33.1 -84.5L28.4 -86.2L31.8 -89.3zM44.7 -78.9L40.4 -81.5L44.4 -83.8zM55.5 -71.7L51.7 -75L56 -76.6zM65.4 -62.9L62.1 -66.6L66.6 -67.7zM74.2 -52.7L71.2 -56.6L75.7 -57.4zM81.6 -41.4L78.7 -45.4L83.2 -46.1zM87.2 -29.3L84.5 -33.4L89 -33.9zM90.8 -16.5L88.4 -20.8L93 -21zM92.3 -3.4L90.5 -8L95.1 -7.5zM78.1 15.4L78.6 10.5L82.5 13zM75.3 27.5L75.4 24.6L78.2 24.2L78.2 27.1zM70.8 40.6L69.4 38L71.8 36.3L73.1 38.9zM65.9 50.4L63.4 51.8L61.6 49.5L64.2 48.1zM57.8 60.6L53 62.1L53.9 57.6zM47.7 69.8L42.8 70.5L44.3 66.2zM35.8 77.1L30.8 77L33 73zM22.4 82.1L17.5 81.3L20.3 77.6zM8.2 84.7L3.5 83L6.9 79.9zM-6.2 84.5L-10.7 82.2L-6.9 79.6zM-20 81.3L-24.5 79.1L-20.8 76.4zM-32.5 75L-37.4 74.3L-34.7 70.5zM-43.5 66.2L-48.1 68.1L-47.6 63.5zM-53.9 56.2L-57.8 59.3L-58.6 54.8zM-64.7 45L-65.3 47.9L-68.2 47.7L-67.6 44.8zM-72.5 31.5L-71.4 36.3L-75.9 35.2zM-74.6 18.3L-76.2 23L-79.4 19.7zM-76.3 6L-79.2 10L-81.2 5.8zM-77.2 -7L-80.6 -3.3L-82.2 -7.6zM-76.2 -20.6L-78.9 -16.5L-81.2 -20.5zM-73.5 -34.3L-72.5 -31.6L-75.1 -30.2L-76.1 -33zM-68.8 -46.8L-65 -43.6L-69.2 -41.8zM-60.9 -58L-56.7 -55.3L-60.7 -53zM-50.4 -67.2L-46.5 -64.2L-50.7 -62.2zM-37.9 -73.9L-35.7 -72.1L-37.2 -69.6L-39.4 -71.5zM-24.5 -79.3L-23 -76.7L-25.3 -74.9L-26.7 -77.4zM-10.9 -82.3L-9.7 -79.7L-12.1 -78.1L-13.3 -80.7zM4.2 -82.8L2.6 -78.1L-0.6 -81.4zM19.6 -77.8L14.6 -77.5L16.5 -81.7zM32.6 -71.7L27.9 -73.4L31.4 -76.5zM44.1 -64.9L39.9 -67.6L43.9 -69.9zM54.5 -56.8L50.7 -60L55 -61.7zM63.5 -47L60.2 -50.7L64.6 -51.9zM70.9 -35.9L67.9 -39.9L72.4 -40.6zM76.3 -23.6L73.7 -27.8L78.3 -28.1zM79.3 -10.6L77.3 -15.2L81.9 -14.8zM79.7 2.5L79 -2.4L83.3 -0.9zM67 7.7L68 2.8L71.6 5.7zM64.3 20.3L66.5 15.8L69.2 19.5zM60.3 32.2L61.2 29.4L64.1 29.9L63.2 32.6zM54.6 44.7L53.1 42.3L55.3 40.4L56.8 42.9zM47.5 53.5L44.7 54.1L43.7 51.4L46.5 50.8zM38 62.3L33 62.2L35.3 58.1zM26.2 68.7L21.2 68.2L23.8 64.4zM12.9 72.4L8.1 71.4L11 67.8zM-0.8 73.1L-5.6 71.8L-2.5 68.4zM-14.2 70.7L-19 69.5L-16 66zM-26.6 65.1L-31.6 64.6L-29.1 60.7zM-38.2 56.9L-43.2 57.2L-41.3 53zM-50.1 46.9L-55.1 46.7L-52.8 42.7zM-62 33L-59.1 33.1L-58.7 35.9L-61.6 35.9zM-62.7 19.3L-64.5 23.9L-67.5 20.4zM-64.2 6.4L-67.2 10.4L-69.2 6.3zM-65.7 -7.1L-68.3 -2.8L-70.7 -6.7zM-64.7 -21L-65.8 -16.2L-69.3 -19.2zM-61.1 -34.4L-60.3 -29.5L-64.6 -30.9zM-55 -46.3L-52.6 -41.9L-57.2 -41.8zM-46 -56L-43.2 -51.9L-47.8 -51.3zM-34.6 -63.1L-32.1 -58.8L-36.7 -58.6zM-21.7 -68.1L-20.2 -65.7L-22.3 -63.7L-23.9 -66.2zM-8.9 -71.1L-6.9 -69.1L-8.6 -66.8L-10.7 -68.8zM4.6 -72.1L7.3 -68L2.7 -67.5zM20.5 -66.7L18 -65.2L16.1 -67.4L18.6 -68.9zM32.9 -58.3L28.9 -61.2L33.1 -63.2zM44 -50L40.5 -53.6L45 -54.9zM53.2 -40.6L50.3 -44.6L54.8 -45.3zM60.4 -29.8L58 -34.2L62.6 -34.2zM65.3 -17.9L63.7 -22.6L68.2 -21.9zM67.5 -5.2L67 -10.1L71.3 -8.5zM54 12.5L56.6 8.3L59 12.2zM50 25L53 21.1L54.9 25.2zM44.3 36.4L45.1 33.6L47.9 34L47.2 36.8zM37 47.1L34.9 45L36.6 42.7L38.6 44.7zM27.5 54.7L23 52.8L26.5 49.8zM15.9 59.9L11.2 58.4L14.5 55.2zM3 61.7L-1.7 60.2L1.5 57zM-10.1 59.9L-14.9 58.6L-11.8 55.3zM-22.7 54.9L-27.6 53.7L-24.6 50.2zM-35.5 47.3L-39.9 45L-36.1 42.4zM-48.1 36.8L-48.5 31.9L-44.3 33.6zM-51.3 22.4L-53.6 24.2L-55.7 22.3L-53.5 20.4zM-52.3 7.8L-55.8 11.4L-57.2 7zM-54.3 -6.3L-56.8 -2L-59.3 -5.9zM-53.5 -20.4L-53.8 -15.5L-57.7 -17.8zM-49 -33.2L-47.8 -28.4L-52.3 -29.5zM-41.4 -43.9L-39.5 -39.3L-44.1 -39.7zM-31.1 -51.6L-29.1 -47L-33.7 -47.3zM-18.9 -56.9L-17.3 -54.5L-19.5 -52.6L-21.1 -55zM-6.9 -59.7L-4.3 -58.4L-5.2 -55.6L-7.8 -57zM5.4 -60.1L9.9 -58L6.3 -55.2zM18 -55.5L22.9 -55.6L20.9 -51.5zM30.3 -46.2L32.1 -50.8L35.1 -47.4zM40.8 -36.1L41 -41L45 -38.7zM48.7 -25.2L49 -30.2L52.9 -27.8zM53.8 -13.3L54.5 -18.2L58.2 -15.5zM55.6 -0.5L57.2 -5.1L60.3 -1.8zM43.9 4.7L46.8 0.6L48.9 4.7zM40.7 17.6L43.9 13.8L45.6 18.1zM34.7 29.4L37.6 25.4L39.7 29.5zM26.9 39.2L26.5 36.4L29.3 35.6L29.7 38.5zM16.9 46.7L13.9 42.8L18.4 41.9zM5.3 50.2L1.2 47.4L5.2 45.2zM-7.4 49.4L-11.8 47.1L-8 44.5zM-20.6 44.9L-24.5 41.9L-20.4 40zM-33.8 37.2L-35.3 32.5L-30.7 33.3zM-40.7 25.8L-43.5 21.7L-38.9 21.1zM-41.3 10.3L-45.8 12.3L-45.6 7.7zM-43.6 -4.8L-46.5 -0.8L-48.6 -4.9zM-42.8 -18.9L-42.3 -14L-46.6 -15.7zM-37.1 -30.9L-35.4 -26.2L-40 -26.8zM-28 -39.6L-26.2 -37.3L-28.2 -35.2L-30 -37.5zM-16.6 -46L-14.5 -44L-16.3 -41.6L-18.3 -43.7zM-5.3 -47.7L-2.5 -48.3L-1.5 -45.6L-4.3 -45zM7.4 -47.1L12.4 -47L10.2 -43zM18.9 -42.2L23.8 -43.1L22.4 -38.7zM29.5 -32.9L33.8 -35.5L34.1 -30.9zM38.1 -21.4L41.5 -25.1L43 -20.8zM43.2 -8.7L46 -12.8L48.2 -8.7zM31.4 10.5L34.6 6.7L36.3 11zM25.2 23.2L28.1 19.2L30.1 23.3zM15.7 32.9L17 28.1L20.4 31.2zM4 38.1L2.5 33.4L7 34.2zM-9.4 37.7L-11.6 33.3L-7 33.3zM-22.7 32.1L-23.9 27.3L-19.4 28.3zM-30.2 21.4L-33.2 17.4L-28.6 16.7zM-32.3 5.5L-37.2 6.2L-35.8 1.9zM-33 -11.1L-32.7 -8.2L-35.5 -7.6L-35.8 -10.5zM-28.6 -23.9L-26.2 -22.2L-27.6 -19.6L-29.9 -21.3zM-19.1 -32.5L-16.2 -32.1L-16.1 -29.2L-19 -29.5zM-6.5 -34.3L-5.3 -36.9L-2.5 -36.2L-3.6 -33.5zM7.2 -34L9.1 -36.1L11.5 -34.5L9.6 -32.4zM19.1 -28L23.4 -30.4L23.6 -25.8zM28.7 -17.1L30.4 -19.5L33 -18.1L31.3 -15.8zM33.2 -3.6L34.5 -6.2L37.2 -5.3L36 -2.7zM22 2.8L25.1 -1.1L27 3.1zM16.9 16L19.8 12L21.9 16.1zM6.4 25L8.1 20.3L11.2 23.6zM-6.7 26.8L-6.7 21.9L-2.6 24zM-18.2 20.8L-19.3 16L-14.9 17.1zM-23.1 7.3L-25.7 5.9L-24.7 3.2L-22.2 4.6zM-25 -7.6L-23.7 -10.3L-21 -9.4L-22.2 -6.8zM-16.9 -19.3L-15 -21.5L-12.5 -19.9L-14.4 -17.7zM-3.6 -23.2L-2.9 -26L0 -25.7L-0.7 -22.9zM9.8 -20.4L10.8 -23.2L13.6 -22.6L12.7 -19.9zM19.5 -10.8L20.6 -13.5L23.5 -12.8L22.3 -10.1zM8.8 8.9L11.4 4.7L13.8 8.7zM-2.9 15.6L-1.6 10.8L1.8 13.9zM-13 7.9L-13.9 5.1L-11.2 3.9L-10.4 6.7zM-13 -6.3L-12.3 -9.1L-9.4 -8.8L-10.1 -6zM-0.9 -12.2L-0.1 -15L2.8 -14.7L2 -11.9zM10.2 -4.8L11.2 -7.5L14 -7L13.1 -4.3z"/><use href="#top"/></g><circle class="oc" r="180.5"/><use href="#lab"/><text class="tt" transform="translate(0 -206.3) scale(1 1.09)" text-anchor="middle">(c) CNRM-CM5 (HIST)</text></g><g transform="translate(1643.5 242.1)"><g clip-path="url(#cc)"><circle r="181.5" fill="#fafafa"/><path fill="#fff" fill-rule="evenodd" d="M-188 -188l134.4 0l-6.4 5.5l-5 5.5l-3.3 5l-2 5l-0.5 3l0.1 2l1.3 4l2.4 3.3l4 3.1l4 2.2l5 2l5 1.5l5 1l8 0.6l20 0.1l10 0.5l11 1.2l10 2.1l10 3l10 4.2l7.5 4.2l6.4 5l2.6 3l1.2 2l0.8 2l0.6 3l0 4l-1.1 13.1l-0.1 7.9l0.6 10l1.3 9l3.2 12.5l7.5 20.5l2.8 9l1.9 9l0 6l-1.2 3l-1.2 1l-1.8 0.7l-15 1.1l-10 1.2l-15 2.6l-12 2.8l-4.8 1.6l-4.2 2l-2.7 2l-1.7 2l-1 2l-1 3l-0.9 6l-0.1 9l0.8 12l1.7 12l2.5 12l3 11l3.4 9.3l3 5.9l3 4.3l3 3.1l4 2.8l5 2.1l5 0.9l5 0.2l6-0.8l5-1.4l4-1.6l5-2.6l4-2.5l8.2-6.7l10.8-10.9l4-2.8l2-0.5l2 0.2l10.1 5l5.9 1.7l6 0.4l7-1.1l4-1.3l5-2.2l8.9-5.5l8.5-7l13.6-13.3l5-3.4l2-0.7l3-0.2l10 2.4l4 0.4l3.7-0.2l3.3-0.8l0 140.8l-376 0zM-156 35.8l-3 0.9l-3 2.3l-2 2.7l-1.7 3.3l-1.6 5l-0.7 4l-0.5 5l0 6l0.7 7l0.9 5l3.4 11l5.1 11l5.8 9l8.4 10l9.2 8.6l11 8.1l10 5.6l11 4.5l6 1.7l5 1l5 0.4l4-0.2l3.3-0.7l2.7-1.3l1.6-1.7l0.9-3l-0.8-4l-2-4l-4.6-7l-13.8-18l-7.8-11l-26-40l-7.5-9.5l-7-6.9l-3-2.2l-3-1.6l-3-0.9zM-81 -95.2l-3 0.9l-4 1.7l-8 4.8l-8 6.6l-7 7.5l-5.6 7.7l-5 9l-4 10l-2.5 10l-1.4 11l0 11l1.3 10l2.7 10l2 5l2 4l4.5 6.3l3 2.9l2.6 1.8l3.4 1.6l3 0.8l5 0.4l5-0.4l6-1.3l7-2.1l14-5.3l30-12.9l21-7.5l4-2.3l2.9-3l1.5-3l1.4-5l0.6-7l-0.8-7l-2.3-6l-1.8-3l-2.5-3.1l-2.9-2.9l-3.7-3l-18.4-11.9l-8-6.4l-7.5-7.7l-11.5-15l-4-4.3l-2-1.5l-3-1.3l-3-0.4z"/><path fill="#fcc8c4" fill-rule="evenodd" d="M-11.5 -128l8.5 0l8 1.1l8 2.2l7 3.2l6 3.8l5.1 4.7l4.5 6l2.9 6l3 10l2.2 13l2.8 29l0.4 12l-1 7l-1 3l-1.6 3l-3.6 4l-2.7 1.8l-3 1.5l-6 1.8l-6 0.4l-5-0.8l-3-1.3l-2-1.4l-2-1.8l-2-2.6l-7.4-12.6l-2.8-4l-3.5-4l-4.2-4l-5.1-4l-17.5-11l-6.7-5l-4-4l-3.3-4l-2.5-4l-1.9-4l-1.3-4l-0.8-4l-0.2-4l0.4-4l1.1-4l1.3-3l1.7-3l2.7-3.5l3.5-3.5l3.5-2.7l8-4.5l9-3.1l5-1.1zM-127.7 -124l4.7-0.6l4 0.3l4 1.3l3 1.8l2 2.2l1.5 3l0.4 4l-0.6 4l-1.3 4l-2.2 5l-14.4 26l-6.8 15l-5 15l-6.4 28l-2.2 6l-2 2.9l-2 1.3l-2 0.4l-3-0.3l-3-1.1l-2-1.2l-3-2.5l-2-2.3l-3.1-5.2l-2.7-8l-1.4-9l-0.4-10l0.8-11l2-11l2.8-10l4-10.1l5-9.7l5.4-8.2l6.6-7.8l6-5.4l7-4.5zM-44.2 18l5.2-0.5l5 0.1l4 0.8l4 1.4l3.8 2.2l3.2 2.6l3 3.5l2.4 3.9l2.6 5.6l2 5.9l4.5 18.5l3.4 19l2.4 22l1.1 6l1 3l1.6 2.9l1.8 2.1l2.2 1.8l4 1.9l5 1.3l6 0.5l6-0.1l14-1.6l26-5.1l7-0.8l6-0.1l6 0.4l6 1.1l4 1.7l2.7 2l2 3l0.8 3l-0.1 4l-1.3 5l-2.2 5l-3.7 6l-4 5l-4.8 5l-6.4 5.5l-7 5l-7.5 4.5l-8.2 4l-8.3 3.3l-9 2.7l-9 2l-9 1.3l-10 0.7l-9-0.2l-9-0.8l-9-1.6l-8.6-2.4l-7.6-3l-5.8-3.3l-4.4-3.7l-1.6-2l-1.5-3l-2.4-9l-1.2-3l-3.7-6l-5.4-6l-15.8-14.8l-8-8.3l-8-9.5l-6.7-9.4l-5.1-9l-4-9l-2.4-8l-1.1-8l0.6-7l1.2-4l1.3-3l1.9-3l2.4-3l6.7-6l9.4-6l14.1-7l13.7-5.3z"/><path fill="#d6d6e9" fill-rule="evenodd" d="M13.6 -183l9.4-0.6l11 0.3l10.2 1.3l10.8 2.3l11 3.3l10 3.9l10 4.8l9.9 5.7l10 7l8.5 7l8.2 8l7.7 9l6.1 9l4.7 9l2.2 7l0.3 3l-0.6 2.2l-1 1l-2 0.2l-3-1l-3-1.6l-6-3.9l-20.4-14.9l-10.4-7l-13.4-8l-13.8-7.1l-13-5.7l-13-4.8l-42-12.8l-5.8-2.6l-2.2-1.7l-0.9-1.3l-0.3-2l1.1-2l4.1-2.9l7-2.5zM76.2 -88l3.8-0.8l5 0.1l5 0.8l5 1.5l5 2l6 3.1l5 3.3l5 3.8l8.5 8.2l4.2 5l3.6 5l6.2 11l4.8 12l2 7l1.3 6l1.4 13l0.1 6l-0.4 7l-1 7l-1.3 6l-1.7 6l-2.4 6l-2.5 5l-2.8 4.5l-3 3.8l-4 3.9l-4 2.6l-3 1.3l-3 0.5l-2-0.1l-2-0.5l-2-0.9l-2-1.6l-2-2.4l-2.8-5.1l-3.2-9.1l-7-27.3l-5.1-16.6l-5.9-15.7l-11.4-26.3l-3.4-9l-2.1-9l-0.2-4l0.4-4l1-3l1.7-2.7l2-1.7zM-86.2 -78l6.2-0.6l5 0.8l5 2.1l5 3.3l17.4 14.4l16.8 12l4.8 4l2.7 3l1.9 3l1.2 3l0.4 4l-0.4 3l-1.2 3l-1.8 3l-3.5 4l-11.8 10l-14 10l-10.7 6l-10.8 4.6l-10 2.6l-5 0.6l-4-0.1l-6-1l-3-1.2l-3-1.6l-5-4.1l-4.4-5.8l-3.5-7l-2.5-8l-1.3-9l0.1-9l1.3-9l2.3-8l3.6-8l4.4-6.9l5-5.9l6-5.2l6-3.6zM35.6 4l7.4 0.1l6 1.4l3 1.2l3 1.8l5.1 4.5l4.2 6l3.6 8l2.1 8l0.9 9l-0.5 9l-1.7 8l-3 8l-4.2 7l-5.5 6.2l-6 4.4l-6 2.7l-4 0.9l-3 0.2l-6-0.6l-3-0.9l-3-1.5l-5-3.9l-4.4-5.5l-4.2-8l-3-9l-2-10l-0.9-10l0.4-8l1.2-7l2.2-6l3.2-5l4-4l5.5-3.4l6-2.2zM-144.4 63l2.4 0.5l3 1.6l3 2.3l4 3.9l9 10.6l13 17.4l8.9 12.7l5.3 9l1.1 3l0.5 3l-0.6 2l-1.1 1l-3.1 0.7l-5-0.9l-5-1.9l-6-3.4l-6-4.3l-5-4.4l-5.5-5.8l-4.8-6l-3.9-6l-3.8-7l-2.8-7l-1.6-6l-0.8-6l0.5-5l0.7-1.7l1-1.3l1-0.7z"/><path fill="#f99fb5" fill-rule="evenodd" d="M-13.7 -117l6.7-0.6l7 0.4l7 1.6l6 2.4l5.2 3.2l4.8 4.1l4 4.9l3 5.3l2.9 7.7l2.1 9l1 10l0 10l-1.1 11l-1.9 8l-2.5 5l-1.5 1.6l-2 1.4l-3 0.9l-3-0.1l-3-1.1l-3-1.8l-21-18.4l-7-5.1l-12.9-8.4l-5.2-4l-4.9-5l-3.2-5l-2.1-6l-0.3-6l0.5-3l0.9-3l2.7-5l4.4-5l5.5-4l6.6-3.1zM-53.4 28l4.4-0.7l4-0.2l6.7 0.9l6.3 2.4l3 1.9l3 2.4l5 5.6l4 6.8l3.4 8.9l2.3 10l1.1 10l-0.3 10l-1.7 10l-3.2 10l-4.6 9.8l-2.5 4.2l-2.5 3.3l-2 2.1l-3 2.2l-3 1.4l-3 0.7l-4 0.2l-4-0.4l-4-1l-5-1.8l-9-5l-5-3.6l-4-3.4l-7.2-7.7l-6.3-9l-4.3-9l-1.6-5l-1.1-5l-0.8-9l0.8-8l1-4l1.4-4l2.1-4l2-3l5.5-6l7.5-5.5l9-4.5l5-1.8z"/><path fill="#a6bddb" fill-rule="evenodd" d="M-87.5 -68l5.5-0.8l6 0.5l6 2.1l6 3.3l13.2 9.9l12 10l2.7 3l2 3l0.9 2l0.6 3l-0.3 3l-0.9 3l-3.7 6l-7.8 9l-8.7 8l-8 5.7l-8 4.1l-8 2.7l-8 1.1l-6-0.5l-6-2l-4.9-3.1l-4-4l-3.9-6l-2.4-6l-1.7-7l-0.6-7l0.5-7l1.4-7l2.5-7l3.2-6l3.9-5.3l5-4.8l6-3.8zM93.8 -68l2.2-0.1l3 0.5l5 1.9l6 3.7l6 5.1l5.1 5.9l4.8 7l4.1 7.9l2.7 7.1l2.3 8.6l1.2 8.4l0.3 8l-0.8 8l-1.7 7.2l-3 6.8l-3 4l-2 1.6l-2 1l-3 0.1l-3-1.4l-3-3.1l-3-4.9l-5-11.8l-16.8-46.5l-2.8-11l-0.5-4l0.2-3l0.8-3l1.5-2l1.6-1.2zM32.1 13l5.9-0.5l5 0.8l5 2.1l4.7 3.6l3.3 4l3.2 6l2 6l1.1 7l0.1 7l-1.1 7l-1.8 6l-3 6l-3.8 5l-4.7 4l-5 2.5l-5 1.1l-5-0.3l-4-1.4l-4-2.4l-4-4.1l-3.5-5.4l-2.5-5.8l-1.8-6.2l-1-7l-0.2-7l0.6-6l1.4-5.3l2-4.7l3-4.3l4-3.7l4-2.3z"/><path fill="#f05ea0" fill-rule="evenodd" d="M-10.1 -105l4.1-0.5l5 0.2l5 1.1l4 1.6l4 2.3l4 3.3l3 3.4l3 4.6l2.3 5l1.7 6l0.9 6l0.1 6l-0.6 5l-1.5 5l-1.9 3.4l-3 2.5l-3 0.8l-4-0.6l-4-1.7l-5-3l-8.5-6.4l-11.8-10l-5-5l-3.7-5l-1.5-4l-0.4-4l0.8-4l1.5-3l2.6-3.1l3.8-2.9l4.2-1.9zM-53.3 36l6.3-0.3l6 1.2l6 2.9l5 4.1l4.1 5.1l3.3 6l2.4 7l1.5 8l0.2 8l-1 7l-2 7l-3.5 7.3l-4 5.5l-5 4.6l-5 2.8l-3 0.9l-3 0.6l-6-0.2l-4-1l-3-1.2l-6-3.5l-5.5-4.8l-4.9-6l-3.9-7l-2.6-7l-1.5-8l-0.1-7l1.2-7l2.1-6l3.2-5.3l4.2-4.7l5.8-4.3l6-2.9z"/><path fill="#67a5cf" fill-rule="evenodd" d="M-82.5 -61l5.5 0.3l6 1.7l6 3l7 5l6.8 6l4.3 5l2.5 5l0.5 2l0 3l-0.5 3l-1.1 3l-3.5 6l-5.6 7l-6.4 6l-6 4.1l-6.2 2.9l-6.8 1.8l-6 0.3l-5-0.8l-5-2.1l-4-2.9l-3.7-4.3l-2.9-5l-1.8-5l-1.1-6l-0.2-6l0.7-6l1.7-6l2.8-6l3.5-5l4-4l5-3.3l5-2zM32.1 23l3.9-0.6l4 0.4l3 1.1l3.3 2.1l2.8 3l2.5 4l1.5 4l1.1 5l0.2 5l-0.6 5l-1.4 5l-1.9 4l-2.5 3.5l-3 2.7l-3 1.8l-4 1l-3 0l-3-0.8l-3-1.6l-3-2.8l-2.1-2.8l-2.1-4l-1.3-4l-1-5l-0.3-5l0.4-4l0.8-4l1.6-4l1.8-3l2.2-2.4l3-2.2z"/><path fill="#c51b8a" fill-rule="evenodd" d="M-54.9 45l4.9-0.5l4.2 0.5l4.8 1.8l4 2.7l3.4 3.5l3.2 5l2.1 5l1.2 5l0.4 6l-0.4 5l-1.5 6l-2.2 5l-3.2 4.4l-3.9 3.6l-4.1 2.2l-4 1.1l-4 0.2l-5-1l-5-2.5l-3.8-3l-3.5-4l-2.7-4.4l-2-4.7l-1.5-5.9l-0.3-6l0.5-5l1.4-5l2-4l2.9-3.9l3.4-3.1l4.6-2.7z"/><path fill="#2080b8" fill-rule="evenodd" d="M-86.8 -53l4.8-0.9l5 0.3l5 1.4l5 2.5l5.1 3.7l4.8 5l2.5 4l1.5 5l0 4l-1.4 5l-2.7 5l-3.9 5l-4.3 4l-4.6 3.2l-5 2.2l-5 1.3l-5 0.1l-4-0.8l-4-1.8l-3-2.2l-3-3.3l-2.2-3.7l-1.6-4l-1-5l-0.2-5l0.6-5l1.4-4.7l2-4.2l2.9-4.1l3-3l3.1-2.1z"/><path fill="#87057b" fill-rule="evenodd" d="M-54.5 56l2.5-0.6l3 0.1l2.2 0.5l2.8 1.3l2.1 1.7l2.5 3l1.6 3l1 3l0.5 4l-0.1 3l-0.6 3l-1.1 3l-1.8 3l-2.1 2.2l-2 1.3l-3 1.1l-2 0.3l-3-0.3l-3-1.2l-2-1.2l-2-1.9l-2-2.6l-1.4-2.7l-1-3l-0.6-3l0-3l0.4-3l0.9-3l1.7-3l1.7-2l2.3-1.8z"/><path fill="#0a6299" fill-rule="evenodd" d="M-84.7 -46l3.7-0.6l4 0.4l3.9 1.2l3.1 1.7l3 2.3l2.7 3l1.7 3l1.1 4l0.1 3l-0.9 4l-1.7 3.7l-2.3 3.3l-3 3l-3.7 2.5l-3.3 1.5l-3.7 0.9l-3 0.1l-3-0.5l-3-1.2l-3-2.1l-2-2.2l-1.9-3l-1.1-3l-0.7-3l-0.1-3l0.3-4l1.2-4l1.5-3l1.8-2.6l2.5-2.4l2.5-1.7z"/><path fill="#023858" fill-rule="evenodd" d="M-81 -37l2 0.1l2 0.5l3 2l2 2.9l0.7 3.5l-0.3 2l-0.8 2l-2.2 3l-3 2l-3.4 0.7l-3-0.5l-3-2l-1.8-3.2l-0.5-3l0.6-4l1.7-2.8l3-2.4z"/><path class="z0" d="M-53.6 -188l-6.4 5.5l-5 5.5l-3.3 5l-2 5l-0.5 4l0.9 4l2.6 4l3.7 3l8.6 4.3l10 2.6l9 0.8l21 0.1l12 0.7l12 1.7l12 3.1l12.3 4.7l10.7 6l3.8 3l3 3l1.9 3l1.1 3l0.4 5l-1.4 21l0.4 8l1 9l3.3 14l10.8 31l1.9 9l0 6l-1.2 3l-3 1.7l-15 1.1l-11 1.3l-15 2.7l-12 2.9l-8.1 3.3l-2.9 2.3l-2 2.8l-1.2 2.9l-0.8 4l-0.5 10l0.9 14l2.5 16l3.2 14l3.9 11.9l4 8.3l5 6.4l6 4.3l7 2.3l8 0.3l8-1.5l8-3.1l7.9-4.9l7.3-6l10.8-10.9l4-2.8l2-0.5l2 0.2l10.1 5l5.9 1.7l6 0.4l7-1.1l9-3.5l8.9-5.5l8.5-7l13.6-13.3l5-3.4l2-0.7l3-0.2l10 2.4l4 0.4l7-1M-81 -95.2l-7 2.6l-8 4.8l-8 6.6l-7 7.5l-5.6 7.7l-5 9l-4 10l-2.5 10l-1.4 11l0 11l1.3 10l2.7 10l4 9l4.5 6.3l5.6 4.7l6.4 2.4l5 0.4l5-0.4l13-3.4l14-5.3l30-12.9l21-7.5l4-2.3l2.9-3l1.5-3l1.4-5l0.6-7l-0.8-7l-2.3-6l-4.3-6.1l-6.6-5.9l-18.4-11.9l-8-6.4l-7.5-7.7l-11.5-15l-4-4.3l-2-1.5l-3-1.3l-3-0.4zM-156 35.8l-3 0.9l-3 2.3l-2 2.7l-1.7 3.3l-2.3 9l-0.5 11l1.6 12l3.4 11l5.1 11l5.8 9l8.4 10l9.2 8.6l11 8.1l10 5.6l11 4.5l11 2.7l9 0.2l3.3-0.7l2.7-1.3l1.6-1.7l0.9-3l-0.8-4l-2-4l-4.6-7l-21.6-29l-26-40l-7.5-9.5l-7-6.9l-6-3.8l-3-0.9z"/><use href="#base"/><path fill="url(#g9)" d="M23.5 28.4L28.9 13.3L57 13.3L61.3 28.4L62.4 58.1L61.3 73.2L55.4 78.6L40.8 82.9L32.1 73.2L23.5 58.1z"/><path fill="url(#d9)" d="M23.5 28.4L28.9 13.3L57 13.3L61.3 28.4L62.4 58.1L61.3 73.2L55.4 78.6L40.8 82.9L32.1 73.2L23.5 58.1z"/><path d="M36 -126.5v11M31.5 -125.5l9 9M40.5 -125.5l-9 9" stroke="#000" stroke-width="1.8" fill="none"/><path d="M-38.5 65.5v11M-43 66.5l9 9M-34 66.5l-9 9" stroke="#000" stroke-width="1.8" fill="none"/><path class="sh" d="M145.3 86L145.4 87.9M138.1 97.1L138 99.3M129.8 107.6L129.6 110M120.4 117.7L120.4 119.9M54.2 160.9L52 162.1M41.5 164.3L38.5 165.9M28.6 167.1L25 168.5M15.3 169.1L11.6 169.9M1.7 170.2L-1.8 170.3M-12.3 170.5L-15 169.7M-26.6 169.8L-28.3 168.2M-41.2 168L-41.9 165.4M-55.9 164.6L-54.9 161.1M-70.4 159.3L-67.1 155.8M-84.3 152.2L-78.4 149.9M-97 143.6L-89.4 143.6M-108.3 134.3L-100.2 136.6M-118.4 124.4L-110.8 128.6M-127.5 114L-120.8 119.7M-135.7 103.1L-130.1 109.9M-142.9 91.7L-138.7 99.4M-149.1 79.9L-146.4 88.1M-154.3 67.9L-153.3 75.9M-158.4 56L-159.1 62.9M-161.7 44.5L-163.6 49M-164.6 33.3L-166.2 34.8M-171 -16.2L-169.5 -18.3M-169.4 -29.5L-167.3 -32M-166.1 -42.5L-164.2 -45.2M-161.3 -55.4L-160.2 -57.7M19.3 -169L21.4 -168.9M32.1 -166.8L35.2 -166.6M44.9 -163.8L48.7 -163.2M57.6 -159.9L61.7 -158.8M70.1 -155L74.2 -153.3M82.4 -149.2L86.1 -146.9M94.3 -142.2L97.3 -139.7M105.6 -134.2L107.9 -131.8M116.2 -125L117.8 -123.1M156.5 21.4L157.7 17.6M153.7 34.3L155.5 31.4M149.9 46.7L151.9 44.8M145.3 58.6L147.2 57.8M-26.6 158.3L-27.6 156.7M-40 156.6L-41.5 152.8M-53.3 153.5L-54.6 147.8M-66.3 148.8L-67.1 142.1M-79.1 142.7L-79.1 135.7M-91.2 135.2L-90.4 128.6M-102.5 126.2L-101.2 121M-112.4 115.7L-111.7 113.1M-133.5 79.3L-136.6 80.5M-139.2 67.4L-143.7 68.7M-144.3 55.3L-149.2 56M-148.8 43L-153.2 43M-152.7 30.3L-155.6 29.7M-123.6 -101.6L-124 -99.3M-114.6 -111.8L-115 -109.7M-23 -157L-19.5 -157.4M-10.1 -158.1L-5.2 -158.6M3 -158.1L8.9 -158.5M16.2 -157.2L22.9 -157.2M29.4 -155.2L36.6 -154.6M42.5 -152.2L49.9 -150.8M55.5 -148.3L62.7 -145.9M68.2 -143.3L74.9 -139.8M80.5 -137.2L86.5 -132.8M92.4 -129.9L97.4 -124.9M103.5 -121.3L107.6 -116.2M113.7 -111.6L116.9 -106.9M123 -100.7L125.4 -97M131.3 -88.9L132.9 -86.6M156.7 -20.3L156.9 -22.2M158.1 -6L158.3 -9.4M158 7.9L158.6 4M144.2 15.9L145.7 7.9M141.6 28.9L144.5 21.7M137.7 41.4L141.9 35.5M133 53.4L137.9 49.1M127.6 64.8L132.3 62.2M121.4 76L125.3 74.6M114.5 86.9L117.1 86.2M106.3 97.5L108.1 96.9M96.8 107.6L98.7 106.7M86.2 116.7L88.6 115.5M74.7 124.5L77.6 123.2M62.7 130.8L65.7 129.9M50.2 135.5L53.2 135.5M37.5 139.1L40.2 139.8M24.6 142L26.7 142.8M-36.9 142.3L-41.1 139.4M-49.1 139.1L-54.9 134.1M-61.6 134.3L-67.6 128M-73.7 127.9L-79.4 121M-85.1 120.3L-90.5 113.1M-95.6 111.6L-100.9 104.3M-105.1 101.8L-110.4 94.5M-113.6 91.1L-119 84M-121.1 79.5L-126.6 72.7M-127.5 67.2L-133 60.9M-133 54.1L-138 48.7M-137.7 40.3L-141.4 36.5M-146.1 -20.3L-144.5 -16.7M-143.5 -34.7L-142.1 -29.5M-139 -48.4L-138.9 -42.3M-133.2 -61.4L-134.5 -54.9M-126.5 -73.6L-129 -67.1M-119.1 -85.1L-122.1 -79M-110.9 -95.6L-113.9 -90.3M-101.8 -105.2L-104.7 -101M-91.8 -113.6L-94.3 -111M-81.2 -120.9L-82.8 -119.8M-23.7 -142.7L-20.4 -144.2M-10.8 -144.3L-6.2 -145.6M2.5 -144.6L7.8 -145.6M15.9 -143.6L21.5 -144.3M29.2 -141.5L35 -141.7M42.4 -138.4L48 -137.7M55.5 -134.4L60.5 -132.5M68.4 -129.2L72.4 -126.2M81.1 -122.6L83.6 -119M93.2 -114.4L94.1 -111.1M124 -79.3L121.6 -80.4M131.2 -65.7L127.7 -69.5M136.8 -52.1L133.3 -58.1M141 -38.6L138.1 -45.8M143.8 -25L141.7 -32.8M145.4 -11.3L144.3 -19.5M145.5 2.4L145.6 -5.9M128.9 20.1L132.2 14.9M125.4 32.3L130.1 28.7M121.1 44.2L126.4 42.2M116.1 55.9L121.2 55.1M110.3 67.5L114.3 67.3M103.6 79L106 78.7M85.9 100.4L87.6 99.2M74.8 109.2L77.4 107.4M62.8 116.3L66.2 114.7M50.1 121.5L54.3 120.9M37.3 125.5L41.7 125.9M24.3 128.4L28.5 129.5M11.3 130.3L14.7 131.7M-1.5 130.7L0.6 132.1M-35.3 126.4L-40 126.4M-47.3 123.8L-53.9 120.9M-59.9 119.4L-66.3 114.1M-72.2 113.2L-77.6 106.4M-83.6 105.3L-88 97.8M-93.9 96L-97.6 88.3M-103 85.4L-106.3 78.1M-110.9 73.6L-113.7 67.5M-117.7 60.4L-119.7 56.6M-132.7 15.2L-131.3 17.7M-134.5 0.1L-131.7 5.6M-134 -14.5L-131.3 -7.2M-131.5 -28.6L-130 -20.3M-127.3 -42.1L-127.4 -33.4M-121.6 -54.9L-123.6 -46.4M-114.8 -66.8L-118.4 -59M-107 -77.9L-111.8 -71.1M-98.5 -88L-103.7 -82.6M-89.3 -96.9L-94.1 -93.4M-79.6 -104.6L-83.1 -103.2M-49.2 -120.4L-47.5 -123.7M-38 -124.7L-33.8 -128.6M-25.8 -128.3L-19.8 -131.4M-12.8 -130.7L-6 -132.7M0.7 -131.6L7.6 -132.5M14.6 -130.9L20.8 -131M28.8 -128.7L33.4 -128.2M43.2 -125L45.1 -124.4M84.7 -105.8L81.3 -104.4M96.3 -95.8L90.5 -95.4M106.1 -84.4L99.3 -86M114.1 -72.1L107.5 -75.7M120.6 -59.2L114.7 -64.6M125.5 -46.1L121 -52.6M129.1 -32.8L126 -39.9M131.3 -19.4L129.6 -26.6M132 -6L131.9 -13M131.2 7.3L132.8 0.9M115.9 7.5L118.1 8.2M113.5 19.8L117.4 22.1M110.2 32.3L114.4 35.6M105.9 44.9L109.5 48.2M100.4 57.7L102.6 59.6M74.9 93.3L76.5 91.1M63 101.5L66.1 98.7M50.3 107.4L54.8 105.6M37.5 111.3L42.6 111.3M24.8 114.2L29.4 115.6M12.3 115.9L15.7 118.1M-0.1 116.1L1.9 118.9M-11.7 114.7L-11.7 118.6M-22.6 112.7L-25.6 117M-33.7 110.8L-39.6 113.2M-45.6 108.6L-52.7 107.1M-58.4 104.7L-64.5 99.5M-70.9 98.4L-75 91M-82.4 89.9L-84.6 81.8M-92.5 79.6L-93.2 71.9M-101.2 67.6L-100.8 61.7M-108.6 53.7L-107.6 51.5M-119.5 22.8L-115.5 26M-121.8 7.7L-116.9 13.7M-121.9 -6.8L-117.6 0.8M-119.9 -20.9L-117.1 -12.4M-115.9 -34.6L-115.3 -25.6M-110.1 -47.4L-112.1 -38.7M-102.9 -59.1L-107.4 -51.5M-94.7 -69.6L-101.2 -63.8M-85.9 -78.9L-93.1 -75.5M-77 -86.8L-83.2 -86.2M-68.2 -92.9L-71.8 -95.3M-59.5 -98.2L-60.2 -103.6M-49.8 -103.9L-47.4 -110.5M-38.8 -109.2L-33.9 -115.2M-26.8 -113.7L-20.2 -118.1M-14 -116.9L-6.5 -119.3M-0.7 -118.7L7.1 -118.9M13.2 -118.8L20.3 -117M27.8 -117.2L32.8 -113.9M43.3 -113.3L44.5 -110.3M58.8 -107.1L56.9 -104.5M72.3 -99.2L67.5 -96.8M83.8 -90.2L77.5 -88.4M93.6 -79.9L87 -79.1M101.7 -68.4L95.8 -68.7M107.8 -56L104 -57.2M102.1 9.4L105.3 15.8M99.6 22.9L102.5 28.8M95.6 36.7L97.7 40.6M73.7 77.8L75.6 72.9M62.4 87.1L66.2 81.3M49.9 93.6L55.6 89.3M37 97.4L43.9 96.4M24.7 99.6L30.8 101.7M13 101.1L16.9 104.9M1.5 101.3L3 106.1M-10.1 100.1L-10.9 106.3M-21.6 97.9L-25 104.3M-32.8 95.4L-38.5 99.9M-44.4 93.5L-50.8 93.1M-57.5 90.3L-62 84.5M-70.2 83.3L-71.8 75.2M-81.2 73.7L-80.4 65.4M-90.5 62.2L-88 55M-98.6 48.6L-94.3 44.2M-105 33L-98.9 32.5M-108.7 17.2L-101.5 20.5M-109.9 2.2L-103.2 7.9M-108.8 -12.4L-103.5 -5.1M-105.2 -26.7L-102.5 -18.1M-99 -39.9L-100.2 -31.1M-90.8 -51L-96.4 -44.2M-82.4 -60.2L-90.4 -57.1M-74 -68.5L-82.3 -68.9M-65.7 -75.6L-72.2 -79.5M-57.4 -81.8L-60.7 -88.7M-48.1 -88.1L-48.2 -96M-37.5 -93.9L-35.2 -101.1M-25.7 -98.8L-22 -104.2M-13.2 -102.4L-8.6 -105.6M-0.4 -104.8L5 -105.4M13.3 -106.2L18.6 -103.3M28 -105.2L31.4 -99.5M43.1 -101.1L43.3 -94.5M57.1 -94.3L54.6 -88.5M69 -85.8L65.4 -81M78.7 -76.6L75.5 -72M86.6 -66.3L84.5 -61.9M92.7 -54.8L92.1 -50.9M97.3 -42.4L97.9 -38.9M100.6 -29.8L102.3 -25.6M102.5 -17L105.2 -11.7M103 -4L106.2 2.2M90.8 2L93.4 7.9M89.1 16.8L90.9 20.1M80.4 48.5L81.2 45.3M72.6 61.8L74.2 54.7M62.6 72.2L65.6 64.5M50.6 79.9L55.9 73.6M37.4 84.3L44.9 81.9M25 86.1L32.4 88.7M13.4 87.4L18.6 92.9M2.1 88L4.2 94.6M-9.6 87.1L-10 94.5M-21.8 84.6L-23.8 92.2M-33.7 81.1L-36.9 87.3M-59.6 76L-59.2 70.8M-71.2 67.5L-68.2 60.2M-80.8 56.3L-76 49.6M-88.7 43L-82.2 38.4M-94.7 28L-86.6 26.7M-97.9 12.7L-89.4 14.3M-98.6 -2.3L-90.5 1.4M-96.7 -17.2L-90 -11.5M-90.7 -31.7L-88.6 -24.6M-79.8 -41.7L-85.9 -38.4M-71.9 -50.2L-80.2 -51.4M-64.1 -59.1L-71.8 -63M-55.6 -67L-61.5 -73.2M-46.1 -73.9L-49.8 -81.5M-35.4 -80.1L-37.1 -87.5M-23.7 -85.6L-23.8 -90.8M-10.9 -89.2L-10.5 -92.2M14.3 -93.7L16.5 -91.6M28.8 -93.2L30.1 -86.4M42.7 -88.4L42.1 -80.7M54.8 -81L53.6 -74M64.8 -72L64.2 -65.7M72.9 -62L73.6 -55.5M79.6 -50.8L81.4 -44M84.8 -38.5L87.5 -31.6M88.6 -25.5L91.5 -18.6M90.6 -12L93.5 -5.3M76.7 29.5L76.8 25.6M71.3 44L71.3 36.3M63 55.9L64.1 47.4M52.1 65.4L55.4 57.7M39 71.1L45.1 67.4M26.1 72.8L33.3 75.4M14.4 74.4L19.9 80.8M2.6 75.5L5.5 83.1M-9.7 74.8L-8.8 82.8M-22.7 72L-22.5 80.2M-36.1 67.6L-35.1 74.7M-50.2 64L-47.1 65.9M-62.1 59.3L-56.1 56.1M-71.3 49.5L-64.4 45M-78.7 37L-71 33.4M-84 23L-75.5 20.9M-86.7 8.6L-77.9 7.8M-86.9 -5.5L-78.1 -5.7M-83.9 -18.4L-76.8 -19.6M-72.9 -28.7L-74.4 -32.6M-63.3 -40.6L-69.7 -45.9M-54.6 -51.3L-61.4 -56.9M-44.8 -60.1L-51 -66.3M-33.8 -67.2L-39.2 -73.7M-22 -72.8L-25.8 -78.5M-10.3 -76.5L-11.6 -80.7M2 -78L2.2 -80.5M29.5 -80.9L28.9 -73.7M42.3 -75.1L41.1 -67.4M53 -66.6L52.5 -60M61.7 -56.2L62.4 -50.8M68.9 -44.7L70.4 -39.6M74.5 -32L76.2 -27.4M78.1 -18.1L79.7 -14.7M68.6 23L66.6 16.8M63.4 36.8L61.7 28.6M55 48.3L54.9 40.2M43.8 56.3L45.9 51.7M30.9 59.7L34.7 60.4M18.5 61.3L23.5 67.8M6.3 63.4L9.8 71.4M-6.5 63.6L-4.2 71.7M-19.9 61.4L-17.6 69.4M-33.6 57.1L-30 64.3M-47.2 52.1L-40.8 56M-58.1 45.8L-50.2 45.5M-66.1 36L-57.9 33.8M-71.7 23.8L-63.4 21.3M-74.8 10.7L-66.3 7.9M-74.9 -2.3L-66.8 -6M-71.2 -14.1L-65.3 -20.1M-62.2 -25.4L-62.2 -33.2M-51.5 -37.8L-56.4 -44.6M-41 -48.5L-47.6 -54.2M-29.6 -56.6L-36.6 -62M-17.5 -62.2L-24 -67.5M-5.4 -64.9L-10 -70.4M7.3 -66.4L4.6 -69.6M20.4 -69.6L18.3 -67.1M32.7 -67.3L30.4 -60.3M43.6 -60L42.2 -53.2M52.8 -49.7L52.4 -44.8M60.4 -37.5L60.4 -34.8M60.4 14.7L55.8 9.4M55.9 28.4L51.8 21.7M47.6 39.3L45.8 34.2M23.4 48.2L25.9 53.1M10.8 50.9L13.6 59.1M-2.5 52.3L0.1 60.5M-16.4 50.9L-13.1 58.5M-30.1 46.9L-25.2 53.5M-42.7 41L-35.8 45.2M-52.7 33.4L-44.5 34.4M-59.4 23.4L-51 21.9M-62.8 11.7L-54.8 8.4M-62.9 -0.6L-55.6 -5.6M-59.2 -12.6L-53.7 -19.3M-50.8 -24.1L-49.5 -31.8M-38.7 -35.6L-42.9 -42.2M-26.5 -45.2L-33.4 -50.4M-14.2 -51.2L-21.4 -56.3M-1.5 -53.9L-8 -59.3M11.9 -54.8L5.8 -58.5M24.4 -56.1L19.7 -53.9M34.5 -52.4L31.8 -46.8M43.8 -43.6L42.4 -38.3M51.8 -31.6L50.6 -28.4M60.8 -1.2L58 -2.6M51.6 4.9L45 2.7M48.6 18.8L42.2 15.4M40.9 29.1L37.4 27.9M28.9 34.7L28.3 36.9M15.8 38.1L16.7 46.2M2.1 40.8L4 49.2M-12.3 40.6L-8.9 47.9M-26.1 36.9L-20.9 42.8M-37.9 30.4L-31.1 34.2M-46.6 21.8L-38.9 22.7M-51.2 11.6L-43.5 9.4M-51.6 0L-44.6 -4.6M-47.8 -12.1L-42.2 -18M-39.2 -23.1L-36.9 -29.7M-25.6 -32.8L-29 -39.1M-12.2 -39.7L-18.2 -45.6M0.9 -42.6L-5.3 -48.5M14.4 -42.6L8.1 -46.9M26.3 -41.5L21.8 -41M35.7 -36L32.7 -32.8M43.9 -25.1L40.7 -22.2M49.8 -10.7L45 -9.9M39.7 9.2L32.2 9.4M32.4 19.5L26.8 22.4M19.2 25.6L17 32.8M4.1 29.4L4.6 37.6M-11.7 29.6L-8.5 35.9M-25.7 24.9L-20.5 29.1M-35.5 16.3L-29.4 18M-40 5.7L-33.8 4.1M-38.5 -6.4L-32.8 -10.4M-31 -17.9L-27.2 -22.9M-17 -26L-17.8 -32.3M-1.6 -30.3L-5.6 -37.2M12.9 -30.2L8.1 -35.7M25.6 -26.9L21.2 -28.2M35.1 -18.5L29.8 -17.4M40.4 -4.9L33.4 -4.3M29.6 0.6L22.6 2.1M23.8 11.3L18.1 15.9M10.1 17.8L8.1 24.9M-6.5 19.7L-4.9 24.9M-20.4 15.2L-17 17.6M-27.5 5.3L-23.7 5.2M-26.4 -6.4L-22.4 -8.9M-16.4 -15.8L-14.4 -20.3M-0.5 -19.8L-2.1 -25.8M14.8 -18.2L10.9 -22.3M26 -11.3L20.3 -11.9M14.6 4.9L10.5 8.1M-0.8 10.4L-0.9 13.2M2.1 -10.3L1 -13.4M15.8 -5.3L11.8 -6"/><path class="hd" d="M171.9 11.1L170.6 13.7L167.8 12.7L169.2 10.1zM170.6 25.6L168.2 27.3L166.2 25.2L168.6 23.5zM167.7 39.9L164.8 40.2L164 37.4L166.9 37.1zM163.7 53.4L160.8 52.9L160.9 50L163.7 50.5zM158.6 66.4L155.9 65.3L156.7 62.5L159.3 63.6zM152.5 78.9L150.2 77.2L151.5 74.6L153.9 76.3zM145.6 91.3L143 87L147.6 86.7zM137.8 102.7L135.7 98.2L140.3 98.4zM129.4 113.4L127.4 108.9L132 109.2zM120.4 123.3L118.1 118.9L122.7 118.9zM110.5 131.8L108.5 129.8L110.3 127.5L112.3 129.5zM99.6 140.2L97.9 137.9L99.9 135.8L101.7 138.1zM86.9 147L87.2 144.1L90.1 144L89.8 146.9zM74.5 152.7L76.1 150.2L78.8 151.5L77.2 153.9zM62.3 158.5L63.6 155.9L66.4 156.9L65 159.5zM49 163.7L51.8 159.6L54 163.6zM35.5 167.5L38.3 163.4L40.5 167.5zM21.9 169.8L25.1 166L26.8 170.3zM8.2 170.7L12 167.5L13 172zM-5.2 170.3L-0.8 168L-0.8 172.6zM-18.3 168.7L-13.4 167.8L-14.7 172.2zM-30.8 165.9L-26 167.2L-29.2 170.6zM-42.7 162.1L-39.4 165.8L-43.8 166.9zM-54 157.8L-53 162.6L-57.4 161.4zM-64.8 153.3L-66.1 158.1L-69.4 155zM-75.3 148.7L-78.5 152.4L-80.2 148.2zM-86 143.6L-90.4 145.9L-90.4 141.3zM-97 137.6L-101.8 138.5L-100.5 134.1zM-107.8 130.3L-112.8 130.2L-110.5 126.1zM-118.2 121.9L-123 120.8L-120 117.3zM-127.9 112.6L-132.5 110.6L-128.9 107.7zM-137 102.4L-141.2 99.6L-137.1 97.4zM-145.3 91.3L-148.9 87.8L-144.5 86.4zM-152.9 79.3L-155.7 75.2L-151.1 74.7zM-159.5 66.3L-161.3 61.7L-156.7 62.2zM-164.9 52.2L-165.3 47.2L-161.1 49zM-168.6 37.2L-167.1 32.5L-163.8 35.7zM-171.1 22L-169 20L-166.7 21.7L-168.7 23.8zM-171 6.4L-168.3 7.6L-169.2 10.4L-171.8 9.1zM-169.5 -7.2L-168.4 -4.5L-171 -3.1L-172 -5.8zM-167.5 -21.1L-168.3 -16.2L-172 -18.9zM-165.1 -34.6L-166.1 -29.8L-169.7 -32.8zM-162.3 -48L-162.9 -43L-166.7 -45.7zM-158.9 -60.9L-158.5 -55.9L-162.8 -57.7zM-154.4 -72.8L-153.1 -70.2L-155.5 -68.5L-156.8 -71.1zM-148.2 -84.9L-147 -82.2L-149.5 -80.7L-150.7 -83.3zM-139.7 -95.1L-141.1 -92.5L-143.8 -93.5L-142.5 -96.1zM-132.1 -104L-135 -103.7L-135.6 -106.6L-132.7 -106.8zM-123.8 -113.8L-126.6 -114.5L-126.3 -117.4L-123.5 -116.6zM-114.8 -123.1L-117.3 -124.6L-116.1 -127.3L-113.7 -125.7zM-105.3 -131.7L-107.1 -134L-105.1 -136.1L-103.3 -133.9zM-94.9 -139.8L-96 -142.5L-93.5 -144L-92.4 -141.3zM-83.6 -146.9L-84.3 -149.7L-81.7 -150.9L-80.9 -148.1zM-71.4 -153L-72.3 -155.7L-69.7 -157L-68.8 -154.3zM-58.5 -158L-59.9 -160.5L-57.5 -162.3L-56.1 -159.7zM-44.9 -162L-47 -164L-45.3 -166.4L-43.2 -164.4zM-30.7 -165.4L-33.5 -166.3L-33.1 -169.1L-30.3 -168.3zM-16.6 -168.2L-19.5 -167.7L-20.4 -170.4L-17.6 -170.9zM-2.9 -169.7L-5.4 -168.4L-7.1 -170.7L-4.6 -172.1zM10.7 -169.9L8.4 -168.2L6.3 -170.3L8.7 -172zM24.8 -168.7L20.3 -166.7L20.5 -171.2zM38.6 -166.4L34.1 -164.4L34.4 -169zM52.1 -162.7L47.4 -161.1L48 -165.6zM65 -157.9L60.2 -156.8L61.4 -161.2zM77.4 -152L72.4 -151.6L74.2 -155.8zM89 -145.2L84.1 -145.5L86.4 -149.4zM100 -137.6L95.1 -138.6L98 -142.1zM110.3 -129.3L105.5 -130.9L108.9 -134.1zM119.9 -120.5L115.4 -122.4L118.9 -125.3zM128.8 -111.3L126 -111.8L126 -114.7L128.9 -114.2zM137.6 -101L134.7 -101.1L134.4 -104L137.3 -103.8zM145.5 -90.1L142.6 -89.8L141.9 -92.7L144.8 -92.9zM152.4 -78.6L149.6 -78L148.6 -80.8L151.5 -81.3zM158.3 -66.4L155.5 -65.8L154.4 -68.5L157.3 -69.1zM163.2 -53.8L160.3 -53.1L159.3 -55.8L162.1 -56.5zM167.1 -40.9L164.3 -40.1L163.1 -42.8L165.9 -43.5zM170 -27.9L167.3 -26.8L165.8 -29.2L168.5 -30.4zM171.8 -15L169.5 -13.3L167.4 -15.3L169.8 -17zM172.4 -2.2L170.8 0.2L168.2 -1.1L169.8 -3.5zM158.6 14.4L159.6 19.3L155.2 17.9zM157.2 28.4L156.9 33.4L153 31.1zM154.5 42.6L152.7 47.2L149.7 43.8zM150.3 56.5L147.1 60.3L145.4 56.1zM144.5 69.9L142.4 71.9L140.1 70.1L142.2 68.1zM137.9 82.6L135.2 83.8L133.6 81.4L136.3 80.2zM130 94.6L127.2 95L126.4 92.2L129.2 91.8zM121.4 105.4L118.5 105.5L118 102.7L120.9 102.5zM112.3 114.9L109.5 115.6L108.4 113L111.2 112.3zM102.3 123.3L99.9 124.9L97.9 122.8L100.3 121.1zM91.3 130.7L89.6 133L87 131.6L88.8 129.3zM79.6 137.6L78.2 140.1L75.5 139.1L76.9 136.5zM67.6 144.4L65.4 146.4L63.2 144.6L65.3 142.6zM54.1 151.3L51.2 150.7L51.4 147.8L54.2 148.4zM39.8 155.8L37.8 153.6L39.6 151.4L41.6 153.5zM25.5 158.5L24.5 155.7L27.1 154.3L28.1 157.1zM11.1 159.5L11.5 156.7L14.4 156.6L14 159.5zM-3.1 158.6L-0.9 156.7L1.3 158.6L-0.8 160.5zM-16.3 156.6L-13.4 156.4L-12.7 159.3L-15.6 159.5zM-29.4 153.9L-25.1 156.3L-29 158.8zM-42.7 149.6L-39 152.9L-43.2 154.6zM-55.4 144.5L-52.2 148.3L-56.6 149.4zM-67.6 138.8L-64.7 142.8L-69.3 143.4zM-79 132.3L-76.8 136.7L-81.4 136.7zM-89.9 125.2L-88.2 129.9L-92.8 129.3zM-100.4 117.6L-99.2 122.5L-103.7 121.4zM-110.7 109.8L-109.7 114.7L-114.1 113.4zM-121.3 100.6L-119 102.3L-120.3 104.9L-122.7 103.2zM-131.3 92.5L-129.7 90.1L-127.1 91.4L-128.7 93.8zM-139.8 81.7L-136.5 78L-134.9 82.3zM-147 69.6L-143.3 66.2L-142.1 70.6zM-152.6 56.5L-148.5 53.6L-147.9 58.2zM-156.6 42.9L-152.1 40.7L-152.2 45.3zM-158.9 29L-154.2 27.7L-155.1 32.2zM-159.7 15.1L-156.9 14.5L-155.8 17.2L-158.7 17.8zM-159.4 0.5L-156.8 1.9L-157.8 4.6L-160.4 3.2zM-156.5 -12.5L-157 -9.6L-159.9 -9.7L-159.4 -12.5zM-154.5 -25.2L-156.2 -22.8L-158.8 -24.1L-157.1 -26.5zM-151.8 -38.1L-153.9 -36.1L-156.2 -38L-154 -39.9zM-148.2 -50.2L-151 -49.4L-152.1 -52.1L-149.3 -52.8zM-145.3 -61.6L-147.1 -63.9L-145.1 -66L-143.3 -63.8zM-139.8 -74L-141 -76.6L-138.5 -78.2L-137.3 -75.6zM-132.6 -85.6L-134 -88.2L-131.6 -89.9L-130.3 -87.3zM-124.6 -96L-126.1 -100.7L-121.5 -99.9zM-115.7 -106.4L-117 -111.2L-112.5 -110.2zM-106 -116.5L-107.1 -119.2L-104.7 -120.7L-103.5 -118zM-95.7 -125.2L-96.4 -128L-93.8 -129.2L-93 -126.4zM-84.6 -133L-85 -135.9L-82.2 -136.7L-81.8 -133.8zM-72.4 -139.5L-73.3 -142.3L-70.7 -143.6L-69.8 -140.8zM-57 -146.6L-59.6 -145.3L-61.2 -147.7L-58.6 -149zM-44 -151.9L-46 -149.8L-48.4 -151.5L-46.4 -153.6zM-30.8 -155.4L-32.8 -153.2L-35.2 -154.8L-33.3 -157zM-16.1 -157.8L-20.2 -155L-20.8 -159.5zM-1.8 -158.9L-6 -156.2L-6.4 -160.8zM12.3 -158.7L8.1 -156.1L7.8 -160.7zM26.3 -157.2L21.9 -154.9L21.9 -159.5zM40 -154.3L35.4 -152.4L35.8 -157zM53.2 -150.2L48.5 -148.7L49.3 -153.3zM65.9 -144.8L61 -144L62.5 -148.4zM78 -138.2L73 -138.2L75.1 -142.3zM89.3 -130.7L84.4 -131.5L87.1 -135.2zM99.9 -122.5L95.1 -123.9L98.3 -127.2zM109.7 -113.5L105.2 -115.5L108.8 -118.4zM118.9 -104.1L114.5 -106.4L118.3 -109zM127.2 -94.2L122.9 -96.6L126.8 -99.1zM134.8 -83.8L130.4 -86.1L134.2 -88.7zM141.4 -72.9L138.5 -73.3L138.5 -76.2L141.4 -75.8zM147.8 -61.2L144.9 -60.6L144 -63.3L146.8 -63.9zM152.3 -50.9L151.9 -48L149 -48L149.4 -50.9zM154.8 -38.5L156.2 -36L154 -34.2L152.5 -36.7zM157.1 -25.6L159.1 -21.1L154.5 -21.4zM158.5 -12.7L160.6 -8.2L156 -8.5zM159 0.6L160.7 5.3L156.2 4.7zM146.2 4.5L147.7 9.3L143.2 8.4zM145.7 18.6L146.2 23.5L142 21.8zM143.9 32.7L143.2 37.7L139.4 35zM140.4 46.9L138.6 51.5L135.6 48zM135.3 60.5L132.6 64.7L130.3 60.7zM128.5 73.4L125.1 77.1L123.6 72.8zM120.4 85.3L116.8 88.7L115.5 84.2zM111.4 95.9L107.9 99.4L106.5 95zM101.8 105.4L98.7 109.2L96.9 105zM91.6 113.9L88.8 118L86.7 113.9zM80.7 121.7L77.7 125.7L75.8 121.5zM69 129L65.4 132.4L64.2 128zM56.6 135.4L52.2 137.8L52.2 133.2zM43.5 140.6L38.6 141.8L39.8 137.3zM29.8 144.1L24.9 144.6L26.6 140.3zM15.7 145.9L12.9 146.7L11.7 144L14.5 143.2zM2 146.6L-0.8 147.3L-1.9 144.6L0.9 143.9zM-12.6 147L-15.3 145.8L-14.5 143L-11.9 144.2zM-29 142L-26.2 141.4L-25.2 144.1L-28 144.7zM-43.9 137.5L-38.9 138.1L-41.6 141.9zM-57.5 131.8L-52.7 133L-55.7 136.5zM-69.9 125.5L-65.2 127.1L-68.5 130.3zM-81.5 118.4L-77 120.4L-80.5 123.3zM-92.5 110.4L-88.1 112.5L-91.7 115.3zM-102.8 101.5L-98.4 103.7L-102.2 106.4zM-112.4 91.7L-108 94L-111.7 96.7zM-121.1 81.2L-116.6 83.4L-120.3 86.1zM-128.8 70.1L-124.2 72L-127.8 74.9zM-135.3 58.3L-130.6 60.1L-134.1 63.2zM-140.4 46.3L-135.7 47.9L-139 51zM-143.8 34.1L-139.1 35.6L-142.4 38.8zM-145.2 22.3L-142.3 22.5L-142 25.4L-144.9 25.2zM-146.3 12.2L-146.9 9.3L-144.1 8.4L-143.6 11.2zM-144.5 -1.4L-147.2 -2.4L-146.6 -5.3L-143.9 -4.3zM-143.1 -13.6L-147 -16.7L-142.8 -18.6zM-141.3 -26.2L-144.6 -29.9L-140.2 -31zM-138.8 -38.9L-141.2 -43.3L-136.6 -43.3zM-135.2 -51.5L-136.6 -56.3L-132.1 -55.4zM-130.2 -64L-130.7 -68.9L-126.4 -67.3zM-123.6 -75.9L-123.7 -80.9L-119.6 -78.9zM-115.6 -87.4L-115.4 -92.3L-111.5 -90zM-106.6 -98.2L-106 -103.2L-102.2 -100.5zM-96.6 -108.5L-95.3 -113.3L-91.9 -110.1zM-85.6 -117.8L-83.3 -122.2L-80.7 -118.4zM-74 -126.1L-72.4 -128.5L-69.7 -127.2L-71.4 -124.8zM-61.4 -134.1L-58.5 -134.3L-57.9 -131.5L-60.8 -131.3zM-45.9 -139.7L-45.4 -136.8L-48.1 -135.9L-48.6 -138.8zM-32.1 -142.9L-32.8 -140L-35.7 -140.3L-35 -143.2zM-17.2 -145.6L-20.3 -141.7L-22.2 -145.9zM-2.9 -146.6L-6.5 -143.1L-7.8 -147.6zM11.1 -146.3L7.2 -143.2L6.3 -147.7zM24.9 -144.7L20.8 -141.9L20.2 -146.5zM38.4 -141.8L34 -139.3L33.9 -143.9zM51.4 -137.3L46.7 -135.5L47.3 -140.1zM63.7 -131.3L58.8 -130.7L60.4 -135zM75.1 -124.2L70.2 -125L73 -128.6zM85.6 -116.2L81.2 -118.5L84.9 -121.1zM95 -107.8L91.6 -111.4L96.1 -112.7zM103.6 -99.6L102.3 -102.2L104.6 -103.9L106 -101.4zM111.2 -90.7L112.4 -93.3L115.2 -92.5L114 -89.8zM118.5 -81.9L123.5 -82.1L121.5 -77.9zM125.4 -72.1L130 -70.3L126.6 -67.3zM131.6 -61L135.8 -58.4L131.8 -56zM136.8 -48.9L140.6 -45.7L136.3 -44zM140.9 -36.1L144.2 -32.5L139.8 -31.3zM143.8 -22.9L146.7 -18.8L142.1 -18.2zM145.6 -9.3L147.9 -4.9L143.3 -4.9zM134 12L133.6 17L129.7 14.5zM132.8 26.6L130.7 31.1L127.9 27.5zM129.6 41L126.3 44.7L124.7 40.4zM124.5 54.7L120.5 57.6L119.8 53zM117.7 67.2L113.4 69.7L113.2 65.1zM109.4 78.4L105.2 81.1L104.8 76.6zM99.9 88.4L98.5 91L95.8 90L97.1 87.5zM90.4 97.2L88.1 101.6L85.5 97.9zM80.2 105.5L77.9 109.9L75.2 106.1zM69.3 113.2L66.3 117.2L64.4 113zM57.7 120.3L53.7 123.3L52.9 118.8zM45.1 126.2L40.5 128.1L40.9 123.5zM31.8 130.4L26.9 131.5L28.1 127zM17.9 132.9L12.9 133.4L14.6 129.1zM3.4 134.1L-1.5 133.5L1.1 129.7zM-11.8 133.8L-14.4 132.5L-13.5 129.7L-10.9 131.1zM-27.8 131.3L-27.4 128.4L-24.5 128.3L-24.9 131.2zM-43.4 126.4L-38.9 124.1L-39 128.7zM-57 119.6L-52 119.2L-53.9 123.4zM-68.9 112L-64 113L-67 116.5zM-79.7 103.8L-75.2 105.8L-78.7 108.6zM-89.8 94.9L-85.6 97.5L-89.5 99.8zM-99.1 85.3L-95.1 88.2L-99.3 90.2zM-107.7 75L-103.8 78.1L-108 80zM-115.2 64.4L-111.2 67.4L-115.4 69.3zM-121.3 53.6L-117.2 56.4L-121.3 58.5zM-125.9 42.5L-123.1 43.4L-123.6 46.3L-126.4 45.4zM-127.6 33.3L-130.3 32.2L-129.7 29.4L-127 30.5zM-129.6 20.7L-133.8 18L-129.8 15.7zM-130.2 8.7L-134.2 5.8L-130.1 3.7zM-130.2 -4L-133.8 -7.3L-129.5 -8.9zM-129.3 -17L-132.4 -20.9L-127.9 -21.7zM-127.5 -30L-129.7 -34.5L-125.1 -34.4zM-124.4 -43.1L-125.6 -47.9L-121.1 -46.8zM-119.9 -55.9L-120.1 -60.9L-115.9 -58.9zM-113.8 -68.3L-113.1 -73.2L-109.3 -70.6zM-106.1 -80.1L-104.7 -84.9L-101.4 -81.7zM-96.9 -91.3L-94.7 -95.8L-92 -92.1zM-86.2 -101.9L-83 -105.7L-81.3 -101.4zM-74 -111.6L-71.5 -113.1L-69.7 -110.8L-72.3 -109.3zM-60.6 -120.1L-58.2 -118.5L-59.5 -115.9L-61.9 -117.5zM-46 -126.7L-45.9 -121.8L-50 -123.8zM-31.3 -130.9L-33 -126.2L-36.1 -129.6zM-16.8 -133L-19.7 -128.9L-21.8 -133zM-2.7 -133.6L-6.3 -130.2L-7.6 -134.6zM11 -132.9L6.9 -130.1L6.3 -134.6zM24.2 -131L19.8 -128.7L19.8 -133.3zM36.7 -127.9L32.1 -126L32.6 -130.6zM48.4 -123.5L43.5 -122.5L44.8 -126.9zM59.4 -117L56.7 -117.9L57.2 -120.8L60 -119.8zM68.8 -110.5L68.8 -113.4L71.7 -113.9L71.7 -111zM78.1 -103L81.3 -106.9L83.1 -102.6zM87.2 -95.2L91.4 -97.8L91.7 -93.2zM96 -86.7L100.8 -88L99.8 -83.5zM104.5 -77.4L109.4 -77.3L107.2 -73.2zM112.3 -66.9L117 -65.6L113.9 -62.2zM119 -55.4L123.4 -53.1L119.7 -50.5zM124.6 -43L128.5 -39.9L124.3 -38.1zM128.9 -30L132.1 -26.2L127.6 -25.2zM131.8 -16.4L134.2 -12L129.6 -11.9zM133.6 -2.4L134.7 2.5L130.3 1.3zM121.4 9.2L116.5 10.1L117.8 5.7zM120.3 23.8L115.3 23.5L117.7 19.6zM117.1 37.7L112.2 36.8L115 33.1zM112 50.5L107.2 49.2L110.3 45.8zM105.2 61.9L100.3 60.7L103.3 57.2zM97.4 71.8L94.7 72.9L93.2 70.4L95.9 69.3zM88.2 80.1L87.8 82.9L84.9 83L85.3 80.1zM78.5 88.4L77.7 93.3L74 90.5zM68.7 96.5L66.9 101.1L63.9 97.7zM58 104.3L54.7 108.1L53 103.8zM46 111.3L41.6 113.6L41.6 109zM32.7 116.6L27.8 117.5L29.1 113.1zM18.6 119.9L13.6 119.5L16.1 115.6zM3.8 121.7L-0.6 119.4L3.2 116.8zM-11.7 122L-14 117.5L-9.4 117.6zM-27.6 119.7L-26.9 114.8L-23.2 117.5zM-42.7 114.4L-39.5 110.6L-37.8 114.9zM-56 106.4L-51.2 105.1L-52.2 109.6zM-67.1 97.3L-62.2 98.4L-65.2 101.9zM-76.7 88.1L-72.5 90.8L-76.6 93zM-85.5 78.5L-82.1 82.2L-86.6 83.4zM-93.5 68.5L-90.8 72.7L-95.4 73.1zM-100.5 58.4L-98.5 62.9L-103.1 62.6zM-106.1 48.4L-105.9 53.4L-110.1 51.5zM-110.3 38.6L-112.6 40.4L-114.7 38.4L-112.4 36.6zM-112.8 28.1L-117.7 27.1L-114.8 23.6zM-114.8 16.4L-119.3 14.4L-115.8 11.5zM-115.9 3.7L-120.1 1L-116.1 -1.2zM-116 -9.2L-119.6 -12.7L-115.2 -14.1zM-115 -22.2L-117.6 -26.5L-113 -26.8zM-112.8 -35.3L-114.1 -40.1L-109.6 -39.1zM-109.2 -48.5L-108.9 -53.5L-104.9 -51.1zM-103.7 -61.5L-102 -66.2L-98.9 -62.8zM-96.2 -74L-93.2 -78L-91.2 -73.8zM-86.6 -85.9L-82.4 -88.6L-82 -84zM-74.5 -97.3L-69.6 -96.7L-72.3 -92.9zM-60.7 -107L-57.8 -102.9L-62.4 -102.3zM-46.2 -113.7L-45.6 -108.8L-49.9 -110.3zM-31.8 -117.9L-32.8 -113L-36.3 -115.9zM-17.4 -120L-19.8 -115.6L-22.4 -119.4zM-3.3 -120.3L-6.8 -116.8L-8.1 -121.2zM10.5 -118.9L6.2 -116.5L6.1 -121.1zM23.6 -116.1L18.8 -115L19.9 -119.4zM35.6 -112L30.6 -112.5L33.2 -116.4zM45.8 -107.1L42 -110.4L46.3 -112.1zM54.9 -101.8L55.6 -106.7L59.4 -104zM64.4 -95.3L67.4 -99.3L69.4 -95.2zM74.2 -87.5L77.8 -90.9L79.1 -86.5zM83.6 -78.7L87.7 -81.5L88.3 -76.9zM92.5 -68.9L97 -71L96.7 -66.4zM100.7 -58.2L105.6 -59.1L104.3 -54.7zM108.4 -46.2L111.3 -46.4L111.8 -43.5L108.9 -43.4zM113.8 -34.1L116.3 -32.6L115.2 -29.9L112.7 -31.4zM118 -20.9L119.2 -18.2L116.8 -16.7L115.6 -19.3zM120.9 -5.8L119.3 -3.4L116.7 -4.7L118.3 -7.1zM106.8 18.8L102.8 15.9L106.9 13.9zM104 31.8L100 28.9L104.1 26.9zM99.3 43.6L95.2 40.8L99.3 38.6zM93.2 53.7L90.3 53.7L89.8 50.8L92.8 50.8zM85.2 61.6L85.7 64.5L83 65.4L82.5 62.6zM76.9 69.8L77.4 74.7L73.1 73zM68 78.5L67.6 83.4L63.7 80.9zM58.4 87.3L56.2 91.8L53.5 88.1zM47.2 95.9L43.2 98.8L42.5 94.2zM34 102.9L29.1 103.6L30.7 99.2zM19.4 107.2L14.6 105.8L17.8 102.5zM4 109.4L0.5 105.9L4.9 104.5zM-11.4 109.6L-13.1 105L-8.5 105.6zM-26.6 107.3L-26.5 102.4L-22.5 104.5zM-41.1 102L-39.1 97.4L-36.3 101zM-54.2 92.8L-49.7 90.8L-50 95.4zM-64.1 81.8L-59.6 83.9L-63.2 86.7zM-72.4 71.9L-69.3 75.8L-73.8 76.7zM-80.2 62L-78.2 66.6L-82.8 66.2zM-86.8 51.8L-86.1 56.7L-90.5 55.2zM-91.9 41.8L-93.3 46.5L-96.6 43.3zM-95.5 32.2L-99.7 34.9L-100.1 30.3zM-98.4 21.8L-103.4 22.2L-101.5 17.9zM-100.5 10L-105.4 9L-102.5 5.4zM-101.5 -2.4L-106 -4.6L-102.2 -7.3zM-101.4 -14.9L-105 -18.3L-100.6 -19.7zM-100.7 -27.7L-102.4 -32.4L-97.8 -31.7zM-98.6 -41.6L-97.5 -46.4L-94 -43.5zM-93.6 -55.8L-90.4 -59.6L-88.7 -55.3zM-85.7 -69.1L-81.2 -71.2L-81.4 -66.6zM-75.1 -81.3L-70.1 -81L-72.6 -77.1zM-62.2 -91.8L-58.2 -88.8L-62.4 -86.8zM-48.3 -99.4L-45.9 -95L-50.5 -94.9zM-34.2 -104.3L-33.3 -99.5L-37.7 -100.8zM-20 -107L-20.6 -102L-24.4 -104.7zM-5.8 -107.5L-8.1 -103.1L-10.8 -106.9zM8.4 -105.8L4.3 -103L3.7 -107.6zM21.6 -101.7L16.6 -101.8L18.8 -105.8zM33.1 -96.5L28.9 -99.2L32.9 -101.5zM43.4 -91.1L41 -95.4L45.5 -95.6zM53.3 -85.4L52.9 -90.3L57.1 -88.5zM63.4 -78.2L64.2 -83.1L67.9 -80.4zM73.6 -69.2L74.2 -74.1L78 -71.5zM83.1 -58.8L82.9 -63.8L87 -61.8zM91.6 -47.6L90 -52.3L94.5 -51.6zM98.5 -35.5L95.5 -39.5L100 -40.2zM103.6 -22.5L99.8 -25.7L104.1 -27.4zM106.7 -8.7L102.7 -11.6L106.8 -13.7zM107.8 5.2L103.7 2.4L107.8 0.3zM94.8 11L90.9 7.9L95.1 6zM92.5 23.1L88.4 20.3L92.5 18.1zM89.1 33.6L86.5 34.8L84.8 32.4L87.5 31.1zM82.1 42L83.2 46.9L78.7 45.7zM74.9 51.4L76.2 56.2L71.7 55.2zM66.9 61.3L67.4 66.2L63.1 64.6zM58.1 71L57 75.9L53.5 72.9zM48.2 80.9L44.6 84.4L43.3 80zM35.6 89.8L30.7 90.5L32.2 86.2zM20.9 95.4L16.2 93.8L19.6 90.6zM5.2 97.8L1.7 94.3L6.1 93zM-10.2 97.9L-12.2 93.4L-7.6 93.6zM-24.7 95.5L-25.8 90.7L-21.4 91.9zM-38.5 90.3L-38.5 85.4L-34.4 87.5zM-50.3 80.3L-48.9 77.7L-46.1 78.8L-47.6 81.3zM-58.9 67.4L-57 71.9L-61.6 71.6zM-66.9 57.1L-66.5 62L-70.7 60.3zM-74.1 46.9L-74.7 51.8L-78.5 49.1zM-79.5 36.5L-81.7 40.9L-84.4 37.1zM-83.3 26.1L-87.2 29.1L-88 24.6zM-86 14.9L-90.7 16.4L-89.9 11.9zM-87.4 2.8L-92.4 3.1L-90.4 -1.1zM-87.4 -9.3L-92.2 -10.4L-89.3 -13.9zM-87.6 -21.3L-91.1 -24.9L-86.6 -26.2zM-88.8 -36.7L-86.1 -40.9L-83.9 -36.8zM-83.6 -51.9L-78.9 -53.6L-79.5 -49zM-74.8 -64.6L-69.8 -64.6L-71.9 -60.5zM-63.9 -75.6L-59.2 -74.1L-62.5 -70.9zM-51.3 -84.6L-47.3 -81.6L-51.4 -79.6zM-37.9 -90.8L-34.6 -87.1L-39.1 -86zM-23.9 -94.2L-21.5 -89.9L-26.1 -89.7zM-10 -95.6L-8.4 -90.9L-12.9 -91.6zM4.6 -94.5L4.5 -91.6L1.6 -91.4L1.7 -94.3zM19 -89.3L14.2 -90.6L17.3 -94zM30.7 -83L27.6 -86.9L32.2 -87.8zM41.9 -77.3L39.9 -81.8L44.5 -81.5zM52.9 -70.6L51.5 -75.4L56 -74.6zM63.9 -62.3L62 -66.9L66.6 -66.5zM74 -52.2L71.2 -56.3L75.8 -56.8zM82.3 -40.8L79 -44.4L83.4 -45.6zM88.7 -28.4L85 -31.7L89.3 -33.4zM92.9 -15.5L89 -18.6L93.3 -20.4zM94.9 -2.2L91 -5.3L95.2 -7.1zM81.7 11.1L81.2 14L78.3 13.9L78.8 11zM76.8 22.2L79.1 26.6L74.5 26.5zM71.3 32.9L73.6 37.3L69 37.3zM64.5 44L66.3 48.7L61.7 48.1zM56.7 54.6L57.1 59.6L52.9 57.8zM48 65.6L45.4 69.8L43.1 65.9zM36.5 76.6L31.6 77.3L33.2 72.9zM22.1 83.4L17.5 81.6L21 78.6zM6.7 86.3L3 83L7.3 81.3zM-8.5 86.2L-11.2 82.1L-6.7 81.6zM-22.4 83.6L-24.8 79.2L-20.2 79.1zM-34.7 78.1L-37.5 74.1L-33 73.4zM-44.2 67.6L-49.2 67.3L-46.8 63.4zM-53.1 54.5L-56 58.6L-58.1 54.6zM-61.6 43.2L-64 47.5L-66.5 43.7zM-67.9 31.9L-70.9 35.9L-72.9 31.7zM-72.2 20.1L-75.9 23.4L-77 18.9zM-74.5 7.6L-78.7 10.2L-79 5.6zM-74.7 -5.8L-79 -3.4L-79.1 -8zM-73.4 -20.1L-77.4 -17.1L-78.2 -21.7zM-75.7 -35.8L-71.9 -32.5L-76.2 -30.9zM-72.3 -48.1L-67.4 -47.1L-70.4 -43.5zM-64 -59.1L-59.1 -58L-62.1 -54.5zM-53.4 -68.7L-48.7 -67.2L-52 -64zM-41.3 -76.4L-36.7 -74.4L-40.3 -71.5zM-27.8 -81.3L-23.4 -79L-27.2 -76.4zM-12.7 -83.9L-9.1 -80.4L-13.5 -79zM2.5 -83.9L4.4 -79.4L-0.2 -79.7zM16.5 -77.3L14.1 -78.9L15.3 -81.5L17.7 -80zM28.7 -70.3L26.7 -74.9L31.3 -74.6zM40.6 -64.1L39 -68.8L43.5 -68.1zM52.2 -56.6L50.3 -61.2L54.8 -60.8zM62.8 -47.4L60 -51.5L64.5 -52.1zM71.3 -36.4L67.9 -40L72.3 -41.2zM77.5 -24.2L73.7 -27.5L78 -29.2zM81.1 -11.7L77.2 -14.7L81.4 -16.6zM82.2 0.6L79.4 -0.2L79.8 -3.1L82.6 -2.2zM68.4 2.8L71.1 4.1L70.2 6.9L67.6 5.6zM65.5 13.5L69 17L64.7 18.4zM61 25.3L64.1 29.1L59.6 30.1zM54.9 36.8L57.2 41.2L52.6 41.2zM47.4 48.6L47.6 53.6L43.4 51.6zM38.1 61L33.3 62.5L34.1 58zM25.6 70.5L21.1 68.4L24.7 65.6zM11.2 74.5L7.3 71.4L11.5 69.5zM-3.3 75L-6.7 71.4L-2.2 70.2zM-16.7 72.7L-20.1 69.1L-15.7 67.8zM-28.4 67.3L-32.5 64.4L-28.4 62.3zM-37.9 57.8L-42.9 57.4L-40.5 53.5zM-46.8 45.4L-51.1 47.8L-51.3 43.3zM-54.6 33L-58.3 36.3L-59.4 31.9zM-60.1 20.2L-63.6 23.7L-65 19.3zM-63.1 6.8L-66.6 10.4L-68 6zM-63.7 -7.4L-66.8 -3.5L-68.7 -7.7zM-62.8 -22.5L-64.3 -17.8L-67.6 -21zM-62.2 -36.6L-59.9 -32.3L-64.5 -32.2zM-58.4 -47.3L-54 -45.1L-57.7 -42.4zM-50.2 -56.4L-45.4 -55.3L-48.4 -51.8zM-39.3 -64.1L-34.4 -63.2L-37.2 -59.6zM-26.6 -69.6L-21.7 -68.6L-24.6 -65.1zM-12.1 -73L-7.5 -71.1L-11.1 -68.1zM2.5 -72.3L7 -70.3L3.5 -67.4zM16.1 -64.5L17.2 -69.3L20.7 -66.4zM29.4 -57.1L28.5 -62L32.9 -60.6zM41.5 -49.9L40.2 -54.6L44.7 -53.7zM52.1 -41.4L50.2 -46L54.8 -45.6zM60.3 -31.4L58.1 -35.9L62.7 -35.8zM65.8 -19.8L64 -22.1L66 -24.2L67.8 -22zM66.9 -8L68.3 -10.5L71 -9.5L69.6 -7zM53.6 6.8L58.2 8.7L54.7 11.7zM50.1 18.8L54.3 21.4L50.4 23.7zM44.6 31L48.3 34.3L43.9 35.9zM38.6 43.7L37.8 46.5L34.9 46.1L35.7 43.3zM27.5 56.1L23.4 53.3L27.5 51.2zM14.7 62.3L11.1 58.9L15.4 57.4zM1.1 63.7L-2.4 60.2L2 58.9zM-11.7 61.6L-15.6 58.5L-11.4 56.7zM-23.2 56.2L-27.6 54L-23.9 51.3zM-32.9 47L-37.8 46.7L-35.4 42.7zM-41.2 34.8L-45.8 36.5L-45.3 32zM-47.7 21.3L-51.6 24.3L-52.4 19.8zM-51.6 7.1L-54.8 10.9L-56.6 6.6zM-52.8 -7.5L-55.2 -3.1L-57.7 -6.9zM-51.6 -21.9L-52.6 -17.1L-56.1 -20zM-48.9 -35.1L-47.4 -30.4L-51.9 -31.2zM-44.8 -45L-40.5 -42.6L-44.3 -40.1zM-36.1 -52.5L-31.2 -51.6L-34 -48zM-24.1 -58.2L-19.2 -57.6L-21.9 -53.8zM-10.6 -61.5L-5.8 -60.4L-8.7 -56.9zM2.9 -60.3L7.9 -59.9L5.5 -56zM16.6 -52.4L19.6 -56.4L21.5 -52.2zM30.3 -43.7L30.2 -48.7L34.3 -46.7zM41.5 -35L40.4 -39.9L44.9 -38.7zM49.3 -25.2L48.8 -30.2L53.1 -28.5zM53.9 -14.7L54.7 -17.6L57.6 -17.2L56.8 -14.4zM55 -4.2L60 -4.2L57.9 -0.1zM41.8 1.6L46.7 0.9L45.3 5.2zM39.2 13.8L44.1 13.8L42 17.9zM34.1 26.9L39 26.1L37.6 30.4zM27.3 40.1L26.4 35.3L30.8 36.6zM17 49.6L14.3 45.4L18.8 45zM4.7 52.6L1.5 48.7L6 47.8zM-7.5 50.9L-11.4 47.9L-7.2 46zM-18.6 45.3L-23.3 43.6L-19.8 40.5zM-28.1 35.9L-33.1 35.7L-30.9 31.7zM-35.5 23.1L-40.2 24.9L-39.6 20.3zM-40.3 8.5L-43.9 11.9L-45.1 7.5zM-41.8 -6.5L-44.2 -2.2L-46.7 -6zM-39.9 -20.5L-41.2 -15.7L-44.6 -18.9zM-35.8 -32.9L-35.1 -27.9L-39.4 -29.5zM-30.6 -42.1L-26.5 -39.3L-30.5 -37.1zM-20.6 -48L-15.9 -46.5L-19.1 -43.3zM-7.8 -50.8L-3 -49.4L-6.1 -46.1zM5.3 -48.9L10.3 -48.3L7.7 -44.5zM18.4 -40.7L22.6 -43.4L23.1 -38.9zM30.4 -30.3L31.7 -35.1L35.1 -32zM38.1 -19.9L39.9 -24.5L43 -21.1zM41.6 -9.3L45.6 -12.3L46.3 -7.8zM28.8 9.5L33.1 7.1L33.3 11.7zM23.7 24L26.6 19.9L28.7 24zM16 36.1L15.1 31.2L19.5 32.6zM4.8 41L2.3 36.8L6.9 36.5zM-7 38.9L-11 36L-6.9 34zM-17.8 31.2L-22.7 30.3L-19.8 26.7zM-26.1 18.9L-31 19.9L-29.8 15.5zM-30.5 3.2L-34.2 6.6L-35.3 2.1zM-30 -12.3L-32.3 -7.9L-34.9 -11.7zM-25.1 -25.6L-25.9 -20.7L-29.6 -23.5zM-18.2 -35.7L-15.4 -31.6L-20 -31zM-7.3 -40.1L-3.1 -37.4L-7.1 -35.1zM5.8 -38.3L10.5 -36.5L7 -33.4zM17.9 -29.2L22.8 -30.2L21.5 -25.7zM26.5 -16.8L30.4 -19.9L31.3 -15.4zM30 -4.1L34.2 -6.7L34.6 -2.1zM19.3 2.8L23.1 -0.3L24.1 4.1zM15.5 18L17.5 13.4L20.4 17zM7.1 28.1L6.1 23.3L10.5 24.5zM-3.9 28.2L-7.4 24.7L-3 23.3zM-14.2 19.5L-19.1 18.9L-16.5 15.1zM-20.3 5.2L-24.7 7.5L-24.8 2.9zM-19.6 -10.6L-22.1 -6.4L-24.5 -10.3zM-13 -23.4L-12.7 -18.4L-16.9 -20.3zM-3 -29.1L0.3 -25.4L-4.1 -24.2zM8.6 -24.8L13.3 -23.2L9.9 -20zM16.9 -12.2L21.6 -14.1L21.1 -9.5zM7.8 10.2L9.9 5.7L12.7 9.3zM-1.1 16.6L-3.2 12.1L1.4 12.3zM-10 6.6L-12.7 7.7L-14.2 5.2L-11.5 4.1zM-9.8 -9.2L-9.7 -6.3L-12.6 -5.9L-12.6 -8.8zM-0.2 -16.6L3.5 -13.2L-0.9 -11.7zM8.5 -6.5L13.2 -8.1L12.4 -3.5z"/><use href="#top"/></g><circle class="oc" r="180.5"/><use href="#lab"/><text class="tt" transform="translate(0 -206.3) scale(1 1.09)" text-anchor="middle">(d) MIROC5 (HIST)</text></g><g transform="translate(245.8 714.9)"><g clip-path="url(#cc)"><circle r="181.5" fill="#fafafa"/><path fill="#fff" fill-rule="evenodd" d="M-188 -188l293.1 0l-17.1 15.5l-4 4.1l-2 3.4l-0.2 2l0.7 2l1.4 2l3.3 3l15.8 11.4l10 7.9l7 6.2l7 7.1l7.2 8.4l6.5 9l4.7 8l4 9l2.3 8l0.4 4l-0.3 3l-0.8 2l-2 2l-2 0.6l-3 0l-5-1.2l-6-2.2l-29.7-13.2l-16.3-6.8l-10-3.7l-9-2.8l-12-2.9l-12-1.8l-11-0.5l-11 0.6l-8 1.2l-7.7 1.7l-6.4 2l-7.6 3l-11.4 6l-20.9 13.9l-6 2.9l-6 1.9l-6 0.9l-6-0.4l-6-2l-7-4l-3-1.3l-3-0.4l-3 0.5l-4 1.9l-5 3.9l-4 4.2l-4.7 6l-3.3 5l-3.4 6l-5.2 12l-2.3 7l-1.8 7l-2.5 15l-0.7 8l-0.2 8l0.3 8l0.7 6l1.3 6l1.5 4l1.7 3l2.6 2.9l4 2.6l5 1.3l6 0l7-1.2l6-1.7l7.7-2.9l27.3-12.7l6-2l5-0.8l7-0.2l10 0.6l25 2.6l15 2.1l4 1l4 1.9l3 2.8l2 2.8l4 7.3l4 9l3.4 9.6l2.4 9l1.5 9l0.7 8l0 8l-0.8 8l-1.4 7l-2.3 7l-2.9 6l-3.6 5.6l-5 5.7l-6 5.1l-8 5l-9 4l-9 3l-9 2.1l-29.7 4.5l-3.6 1l-3.6 2l-1 1l-1.1 2l-0.5 2l-0.2 3l0.5 6l2.3 16l-139.1 0z"/><path fill="#fcc8c4" fill-rule="evenodd" d="M9.7 -135l10.3-0.8l10 0.2l10 1.1l10 2.2l9.7 3.3l8.1 4l5.3 4l1.6 2l0.4 2l-0.9 1l-1.2 0.5l-4 0.6l-24-0.9l-10 0l-12 0.6l-11 1.4l-12 2.4l-11 3l-9 3.2l-18 7.2l-5 1.7l-4 0.6l-1.6-0.3l-1.3-1l-0.5-2l0.4-2l1.3-3l2.7-4l3.7-4l3.3-3l8.3-6l9.1-5l9.8-4l10.8-3.1zM-113.9 -109l2.9-0.4l3 0.4l2.1 1l1.7 2l0.6 2l0.2 3l-1.4 7l-3.4 9l-11.2 25l-6 15l-5.2 16l-7.4 26.5l-3 8.5l-2 4.1l-3 3.9l-3 1.7l-3-0.2l-2-1l-2-1.6l-2-2.5l-2.1-3.4l-3.1-8l-2.2-10l-0.8-10l0.5-11l1.6-11l2.6-10l3.7-10l4.3-9l5.4-9l6.1-8.1l7-7.3l7-5.8l7-4.2l4-1.7zM-63.1 37l9.1-0.9l10 0.5l11 1.8l12 3.2l11 3.9l11 5.1l10 5.9l8 6.1l6.4 6.4l4.2 6l2.7 6l1.7 7l0.2 7l-1.2 7l-3 7l-4 5.7l-4.6 4.3l-5.4 3.6l-6 2.8l-6 1.9l-7 1.5l-9 0.9l-8 0l-9-0.7l-9-1.4l-9-2.1l-9-2.7l-9-3.5l-8-3.7l-9-5.1l-7-4.7l-7-5.6l-5.4-5.2l-4.3-5l-3.5-5l-2.6-5l-1.8-5l-0.7-5l0.3-4l1.3-4l1.8-3l2.9-3l4.1-3l5.3-3l9.6-4.4l11-4.4l8-2.6z"/><path fill="#d6d6e9" fill-rule="evenodd" d="M34.7 -89l8.3-0.5l9 0.9l9 2.1l10 3.6l9 4.3l9.8 5.6l27.9 19l7.3 5.4l6 5.2l5.3 5.4l4.7 5.8l4 6.2l3.6 7l2.8 7l2.4 8l1.7 9l0.9 10l-0.1 9l-0.9 10l-1.9 10l-2.9 10l-3.5 9l-4.4 9l-5.5 9l-5.9 8l-6.3 7l-7 6.6l-8 6.1l-8 4.8l-8 3.8l-8 2.5l-7 1.2l-6 0l-5-1l-4-2.3l-1.7-1.7l-1.3-1.9l-1.6-4.1l-0.8-5l-0.2-7l1.2-11l1.3-6l1.5-5l3.3-8l9.3-19.8l5-11.5l5-12.9l4-12.7l2.1-9.1l1-9l-0.2-8l-1.2-7l-2.6-8l-4.2-8l-5.2-7l-7-7l-6.7-5.3l-8-5.2l-9-4.8l-18.9-8.7l-3.2-2l-2-2l-0.7-2l0.1-1l1.3-2l1.4-1.1l3-1.4zM-87.2 -61l5.2-0.6l6 1.1l10 3.2l17 6.5l14.6 3.8l5.4 2l5 3l3.9 4l2 4l0.3 4l-0.9 3l-1.2 2l-2.1 2.3l-3 2.3l-6 2.9l-15 5.1l-4 2.2l-3 2.3l-3 3.1l-3 3.9l-7.5 11.9l-3.5 5l-3.5 4l-3.5 3l-5 3.2l-5 2.1l-5 1.2l-5 0l-4-1l-4.1-2.5l-3.5-4l-2.5-5l-1.8-6l-1.2-8l-0.4-8l0.6-9l1.4-9l2-8l2.6-7l3.5-7l4-6l4.4-4.8l4-3.1z"/><path fill="#f99fb5" fill-rule="evenodd" d="M-63 44l8-0.7l9 0.3l10 1.4l10 2.4l9 3l9 3.8l8.8 4.8l7.3 5l5.9 5.2l5.1 5.8l3 5l2.3 6l0.9 6l-0.6 6l-1.7 5l-3.1 5l-3.8 4l-4 3l-5.1 2.7l-5 1.9l-6 1.5l-7 1l-7 0.4l-7-0.3l-7-0.7l-8-1.5l-7-1.7l-8-2.7l-7-2.8l-7-3.5l-7-4.2l-5.8-4.1l-5.2-4.5l-4.3-4.5l-3.1-4l-3-5l-1.9-5l-0.8-4l0.1-4l0.9-4l2-4l2.3-3l3.2-3l4.6-3.2l6-3.3l6-2.5l6-1.8z"/><path fill="#a6bddb" fill-rule="evenodd" d="M-86.2 -51l4.2-0.5l5 0.8l6 2.3l5 3.1l4.8 4.3l2.9 4l1.7 4l0.4 4l-0.9 4l-2.6 6l-10 19l-5.6 9l-4.4 5l-4.3 3.3l-5 2.1l-4 0.3l-4-1.1l-3-1.9l-3-3.5l-2-3.8l-1.7-5.4l-1.1-6l-0.3-6l0.3-7l1.1-7l1.6-6l2.2-6l2.6-5l3.3-4.6l3-3.1l4-2.8zM105.2 -36l1.8-0.6l4 1l5 2.8l5 3.8l4 3.6l4.1 4.4l3.8 5l3.1 5l2.4 5l1.9 5l1.5 5l1.3 6l0.7 6l0.3 6l-0.8 12l-2.5 12l-1.9 6l-2.4 6l-5.8 11l-3.7 5.5l-4 5l-4.2 4.5l-4.8 4.4l-4 3.1l-5 3.1l-5 2.4l-5 1.7l-4 0.7l-4-0.1l-3-0.7l-2-1l-2-1.6l-1.4-2l-0.9-2l-0.6-3l-0.2-3l0.3-4l1.2-6l2-7l15.2-40l3.3-10l2.4-9l1.6-8l1-8l0.4-10l-0.5-15l0.3-3z"/><path fill="#f05ea0" fill-rule="evenodd" d="M-62 50l7-0.7l8 0l8 0.9l8 1.6l8 2.3l8 3.1l7.5 3.8l6.5 4l5.1 4l5.1 5l3.7 5l2.5 5l1.3 5l0.1 5l-1.3 5l-2.1 4l-2.5 3l-3.4 3l-3.5 2.2l-5 2.2l-5 1.5l-5 1l-6 0.6l-6 0.1l-6-0.4l-7-1l-7-1.6l-6-1.8l-6-2.2l-6-2.7l-5.4-2.9l-5.6-3.6l-4.4-3.4l-4.3-4l-3.4-4l-2.7-4l-1.9-4l-1.2-4l-0.3-4l0.3-3l1.4-4l1.8-3l2.7-3l3-2.5l4-2.5l5-2.3l5-1.6z"/><path fill="#67a5cf" fill-rule="evenodd" d="M-86.3 -42l3.3-0.5l4 0.5l4 1.9l2.6 2.1l2.4 3l1.3 3l0.9 4l-0.1 4l-1.3 6l-2.1 6l-3.3 7l-3.4 5.6l-3 3.7l-3.1 2.7l-3.9 2l-3 0.3l-3-0.7l-2-1.3l-2-2.1l-1.8-3.2l-1.4-4l-0.7-4l-0.3-4l0.1-5l0.7-5l1-4l1.4-4.2l2-4.1l2.5-3.7l2.5-2.7l3-2.2zM118.9 1l1.1-0.5l2 0l3 1.9l3 4l2.8 6.6l1.3 6l0.6 7l-0.3 7l-1.3 8l-2.1 7l-3 7l-3 5.3l-4.1 5.7l-4.9 4.9l-5 3.5l-4 1.6l-2 0.3l-2-0.2l-2-1l-1-1.1l-1-1.9l-0.5-2.1l0-6l1.3-7l4.1-14l11.1-32l3-6.7l1-1.5z"/><path fill="#c51b8a" fill-rule="evenodd" d="M-51.5 55l6.5 0.1l6 0.7l7 1.3l6.4 1.9l5.6 2.1l6.2 2.9l5.1 3l5.4 4l3.3 3l3.4 4l2.5 4l1.6 4l0.6 4l-0.3 4l-1.5 4l-2 3l-3.2 3l-3 2l-3.1 1.5l-4 1.5l-4.5 1l-4.5 0.6l-5 0.2l-6-0.2l-11-1.8l-11-3.5l-9.1-4.3l-4.8-3l-4-3l-6.1-6l-2.2-3l-2.1-4l-1.3-4l-0.3-3l0.3-3l0.9-3l1.8-3l1.9-2.2l3.4-2.8l3.4-2l4.2-1.7l4-1.1l5-0.9z"/><path fill="#2080b8" fill-rule="evenodd" d="M-84.8 -32l1.8 0l2 0.7l1.6 1.3l1.4 1.9l1.2 4.1l-0.2 5l-2 6.4l-3.3 5.6l-1.7 1.9l-2 1.5l-2 0.7l-2-0.1l-2-1l-0.9-1l-1.6-3l-0.9-5l0.4-5.6l1.6-5.4l2.4-4.1l3-2.7z"/><path fill="#87057b" fill-rule="evenodd" d="M-51.2 62l5.2-0.3l4.9 0.3l10.1 1.9l9 3.3l4 2.1l4.3 2.7l3.8 3l2.8 3l2.2 3l1.5 3l0.8 3l0.1 3l-0.7 3l-1.6 3l-1.8 2l-2.4 1.8l-5 2.4l-7 1.6l-7.9 0.2l-7.9-1l-7.5-2l-7.7-3.2l-7-4.2l-5.2-4.6l-3.8-5l-1.8-5l-0.2-3l0.3-2l1.8-4l1.7-2l2.6-2l5.6-2.6z"/><path fill="#49006a" fill-rule="evenodd" d="M-44 77l3-0.8l3 0l4 0.8l2.6 1l3.1 2l1.8 2l0.9 2l0.1 1l-0.5 1.5l-1.3 1.5l-1.7 0.9l-4 0.6l-4.4-0.5l-4.6-1.8l-3-2.2l-1.8-3l-0.1-2l0.4-1l0.9-1z"/><path class="z0" d="M105.1 -188l-20.1 18.4l-3 4.6l0 3l1.9 3l3.3 3l19.8 14.5l12 10.1l9 9.1l8.5 10.3l4.8 7l4.1 7l5.1 12l1.2 5l0.3 5l-1 4l-2 2l-2 0.6l-3 0l-7-1.9l-47-20.3l-13-4.9l-11.5-3.5l-10.5-2.4l-11-1.6l-11-0.5l-10.2 0.5l-7.8 1.1l-8 1.7l-7.1 2.2l-7.6 3l-11.4 6l-20.9 13.9l-6 2.9l-6 1.9l-6 0.9l-6-0.4l-6-2l-10-5.3l-3-0.4l-4 0.9l-3 1.5l-4 3l-7.5 8.1l-6.7 10l-5.9 12l-3.8 11l-2.9 12l-1.7 13l-0.6 13l0.6 11l1.7 9l2.8 6.4l2 2.6l2.3 2l3.7 1.8l5 1.1l6-0.2l7-1.3l13-4.5l27-12.6l6-2l5-0.8l7-0.2l9 0.5l39 4.4l5 1.1l4 1.6l3 2.3l2 2.4l3 4.9l4 8.2l3.4 8.3l2.9 9l2.1 9l1.3 9l0.4 9l-0.4 8l-1.2 8l-1.9 7l-2.9 7l-3.7 6.2l-5 6.1l-6 5.3l-7 4.7l-9 4.3l-9 3.2l-11 2.7l-29.7 4.5l-3.6 1l-3.6 2l-2.1 3l-0.7 5l2.8 22"/><use href="#base"/><path fill="url(#g10)" d="M-81.9 76.6L-67 68L-53.6 60.1L-36.3 60.1L-22.2 68L-0.1 68L21.9 76.6L21.9 91.6L14 107.3L7.7 121.5L-67.7 121.5L-67.7 99.4L-81.9 91.6z"/><path fill="url(#d10)" d="M-81.9 76.6L-67 68L-53.6 60.1L-36.3 60.1L-22.2 68L-0.1 68L21.9 76.6L21.9 91.6L14 107.3L7.7 121.5L-67.7 121.5L-67.7 99.4L-81.9 91.6z"/><path fill="url(#g11)" d="M-104 -35L-70 -35L-70 16L-104 16z"/><path fill="url(#d11)" d="M-104 -35L-70 -35L-70 16L-104 16z"/><path fill="url(#g12)" d="M76.9 61.3L96.9 61.3L96.9 46.7L112.5 46.7L112.5 31.6L119 25.6L134.1 31.6L134.1 61.3L123.3 76.4L112.5 90.4L95.2 89.3L81.2 80.7L76.9 76.4z"/><path fill="url(#d12)" d="M76.9 61.3L96.9 61.3L96.9 46.7L112.5 46.7L112.5 31.6L119 25.6L134.1 31.6L134.1 61.3L123.3 76.4L112.5 90.4L95.2 89.3L81.2 80.7L76.9 76.4z"/><path class="sh" d="M168.7 14.9L169.8 12.1M167.9 28.7L168.4 25.4M165.6 42.2L165.9 38.5M161.7 55.3L162.3 51.5M156.3 67.6L157.7 64.4M149.7 79.3L152 76.8M142.5 90.4L145.5 88.6M134.8 101.2L138 99.9M126.5 111.8L129.4 110.6M117.8 122L120 120.7M108.4 131.6L110 130.1M-168.1 24.5L-168.7 22.5M-169.6 11.7L-170.1 8.5M-170.1 -1.4L-170.2 -5.5M-169.6 -14.5L-169.2 -19.4M-168.1 -27.7L-167.1 -33M-165.5 -40.9L-163.8 -46.4M-161.8 -53.8L-159.6 -59.3M-156.9 -66.5L-154.4 -71.7M-151.1 -78.9L-148.3 -83.7M-144.2 -90.9L-141.3 -95M-136.4 -102.4L-133.5 -105.6M-127.6 -113.2L-125 -115.6M-117.8 -123.3L-115.8 -124.9M-6.1 -172.7L-5.3 -170.8M7.4 -173L8.4 -170.3M20.8 -172.2L22.1 -168.7M34 -170.1L35.5 -166.2M46.9 -166.8L48.7 -162.8M59.3 -162.2L61.6 -158.4M71.2 -156.5L74 -153.1M82.7 -149.7L86.1 -146.8M93.7 -142.1L97.7 -139.5M104.3 -133.9L108.6 -131.3M114.4 -125L118.8 -122.3M124.1 -115.5L128.1 -112.5M133.1 -105.1L136.3 -102.2M141.5 -93.7L143.6 -91.4M162.7 -40.6L164.4 -41.5M165.4 -26.9L167.5 -28.3M167.4 -13.1L169.4 -14.9M168.5 0.9L170.1 -1.4M157 23L157.8 16.1M154.8 36.6L155.7 29.5M151.1 49.8L152.6 42.7M145.9 62.4L148.5 55.8M139.3 74.3L143.3 68.6M132 85.5L137 80.8M124.1 96.4L129.6 92.4M115.6 106.9L121 103.2M106.5 116.7L111.4 113.2M96.7 125.6L100.8 122.5M86.2 133.4L89.4 131M75.2 139.9L77.1 138.6M-156.7 -21.8L-156.7 -24.1M-154.6 -35L-154 -37.7M-151.2 -48.1L-150.2 -50.9M-146.7 -61L-145.3 -63.7M-141 -73.6L-139.3 -75.8M-134.1 -85.7L-132.5 -87.4M6.6 -160.9L7.4 -159M19.6 -160L21.2 -157.3M32.3 -157.8L35 -154.4M44.7 -154.3L48.6 -150.5M56.8 -149.5L61.9 -145.6M68.7 -143.6L74.6 -139.7M80.2 -136.8L86.7 -132.9M91.4 -129.1L97.9 -125M102.2 -120.7L108.3 -116.2M112.5 -111.4L117.6 -106.6M122.3 -101.1L125.9 -96.5M131.5 -89.6L133.1 -86.1M153.4 -33.2L154.3 -36.3M155.8 -19L157.1 -23.6M157.3 -4.9L158.6 -10.5M157.7 9.1L158.8 2.8M145.1 15.8L145.3 7.9M143.2 29.5L143.8 21.4M139.7 42.8L141.3 34.7M134.7 55.5L137.5 47.9M128.3 67.5L132.7 60.8M121 78.8L126.6 73.1M113 89.5L119.2 84.7M104.3 99.7L110.6 95.6M94.9 109.1L100.8 105.6M84.7 117.3L90 114.8M74.1 124.2L78 123M63.2 129.9L65 129.9M-10.8 144.9L-12.9 144.9M-24 143.5L-26.9 143.1M-36.8 140.8L-40.6 139.8M-49.4 136.9L-54 135.2M-61.7 131.8L-66.7 129.5M-73.6 125.6L-78.8 122.5M-84.9 118.3L-90 114.5M-95.7 109.9L-100.3 105.5M-105.8 100.3L-109.6 95.8M-115.2 89.4L-117.6 85.8M-9.7 -146.5L-7.2 -145.6M2.6 -146.7L7.6 -145.2M15.4 -145.7L22.1 -143.6M28.4 -143.5L36 -140.9M41.4 -140.1L49.2 -136.9M54.3 -135.5L61.9 -131.7M66.8 -129.7L73.9 -125.4M78.9 -122.7L85 -118.1M90.8 -114.5L95.1 -110.1M102.5 -105L104.2 -101.6M139.9 -41L139 -43.3M142.7 -26.5L142.3 -31.2M144.7 -12.2L144.6 -18.5M145.6 1.9L145.6 -5.4M131.6 21.1L131.4 14.4M128.5 34.4L129.3 28M123.6 46.9L125.8 41.4M117.4 58.7L121.1 54.4M110.2 69.8L115 66.7M102.3 80.4L107.5 78.3M93.6 90.3L98.7 89M84.2 99.1L88.6 98.8M74.2 106.7L77.4 107.3M63.9 112.9L65.6 114.4M53.6 118.1L53.8 120.4M43 122.7L41.1 126M31.8 126.8L27 130.1M19.6 129.8L12.8 132.2M6.6 131.5L-1.3 132.8M-6.7 131.7L-15.2 131.9M-20.1 130.4L-28.8 129.5M-33.4 127.8L-42 125.8M-46.3 123.7L-54.7 120.8M-58.8 118.4L-66.9 114.5M-70.8 111.9L-78.2 106.9M-82.3 104.3L-88.6 98.2M-93.1 95.6L-98 88.5M-103.5 85.5L-106 78.1M-113.4 73.5L-112.9 67.9M-121.5 58.7L-120.1 57.5M-129.2 27.7L-128.6 31.6M-131 13.6L-131.2 18.9M-131.8 -0.3L-132.5 5.6M-131.3 -14.1L-132.3 -7.8M-129.3 -27.7L-130.8 -21.2M-125.9 -40.9L-127.9 -34.5M-121.1 -53.6L-123.6 -47.5M-115.1 -65.7L-118 -60.1M-108 -76.9L-110.9 -72.2M-99.9 -87.2L-102.6 -83.7M-91 -96.3L-92.8 -94.4M-38.4 -126.2L-34.1 -128M-26.2 -129.4L-19.7 -131.1M-13.3 -131.4L-5.7 -132.5M0.2 -132.3L8.1 -132.3M14.1 -132L21.4 -130.6M28.7 -130.4L33.9 -127.7M44 -126.9L45.7 -124.3M112 -75.4L109.9 -74.8M119.3 -63.3L116.9 -63.1M125 -49.9L122.8 -50.6M129 -35.5L127 -37.8M131.7 -21L129.8 -25.2M133.1 -6.7L131.6 -12.4M133.1 7.4L132.1 0.9M117.6 19.2L117.1 21.1M114.1 31.9L113.7 34.7M108.8 44.3L108.9 47.7M102.2 56.3L102.8 59.9M94.4 67.7L95.3 71.2M85.7 78.2L86.6 81.5M76 87.5L76.7 90.9M65.5 95.1L65.9 99.5M54.7 101.3L54 107.1M43.8 106.5L41 113.1M32.7 111.2L27.1 117.1M20.6 114.9L13.1 119.2M7.8 117.1L-0.8 119.7M-5.5 117.7L-14.5 118.6M-18.9 116.6L-27.9 116M-32.1 114L-40.9 112M-45 109.9L-53.4 106.4M-57.5 104.5L-65 99.5M-69.6 97.7L-75.7 91.2M-81.4 89.7L-85.1 81.8M-92.9 80L-93 71.5M-103.5 68L-99.8 61M-111.8 53.3L-105.9 50.4M-116.5 36.6L-111.6 38.9M-118.2 20.8L-115.5 27M-119.1 6.4L-118 14.3M-118.9 -7.5L-118.9 1M-117.2 -21L-118.3 -12.5M-113.9 -34.3L-116.1 -25.9M-109.1 -46.9L-112.5 -39M-102.8 -58.6L-107.4 -51.8M-95.4 -69.2L-100.5 -64.3M-87.5 -78.2L-91.6 -76.2M-71.3 -92.5L-71.4 -94.3M-61.8 -99.2L-59.9 -103M-50.8 -105.4L-47.4 -109.5M-38.4 -111L-34.8 -114M8.6 -120.5L4.3 -118.5M23.3 -119L16.8 -117M36.9 -115.6L29.9 -114.2M49.4 -110.7L43.1 -110.1M60.9 -104.3L56.1 -104.5M71.7 -96.8L68.4 -97.3M82.1 -88.2L79.2 -88.8M92 -78.5L88.6 -79.3M100.7 -67.9L96.8 -68.7M107.8 -56.5L104.1 -57.2M113 -44.3L110.6 -44.8M105.3 8.7L104.1 16.2M103 22L101.3 29.4M98.8 34.9L97 42.1M92.9 47.2L91 54M85.5 58.7L83.6 65.1M76.7 69.3L74.9 75M66.4 78.4L64.9 83.9M54.8 85.6L53.9 92M43 91.2L41.8 98.7M31.4 95.7L28.6 103.5M19.8 99.4L14.6 106.2M7.7 102L0.6 106.8M-5 103.1L-13.2 105.6M-18.2 102.5L-26.6 102.7M-31.5 100.2L-39.2 98.1M-44.8 96.3L-51 92M-58 90.7L-61.8 84.4M-71.1 83.2L-71.4 75.4M-83.2 73.2L-79.6 65.6M-93.1 61L-86.7 55.2M-100.7 47.5L-92.9 44.2M-105.6 31.9L-98.2 32.9M-107.4 15.5L-102.1 21.1M-107.2 0.4L-104.4 8.6M-105.4 -13.5L-105 -4.6M-102.1 -26.8L-103.9 -18M-96.9 -39.2L-101.1 -31.4M-90.1 -50.1L-96.7 -44.6M-82.6 -59.1L-90.1 -57.6M-75.5 -66.9L-81.1 -69.3M-68 -75.2L-70.8 -78.9M-58.4 -84.2L-59.6 -86.4M-32.3 -100.6L-36.2 -99M-18.5 -105.2L-24.2 -102.2M-4.8 -107.3L-11.1 -104.2M8.6 -107.3L2.5 -104.7M21.7 -105.4L16.4 -103.6M34.5 -101.7L30 -100.7M47 -96.3L42.9 -96.1M58.9 -89.4L54.9 -89.8M69.6 -81.2L66.1 -82M91.8 -54.1L92.1 -51.7M96.8 -43.3L98.2 -38M101 -31.1L102.5 -24.4M104.1 -18.2L104.8 -10.9M105.6 -4.8L105.3 2.7M93.3 1.5L92.6 8.1M91.9 15L90.5 21.5M88.3 28.1L86.5 34.5M82.8 40.6L80.8 46.7M75.4 52.3L73.3 57.7M66.3 62.8L64.4 67.5M55.2 71.4L54.2 76.2M42.3 77.5L42.9 84.2M29.6 82.2L30.6 90.3M17.3 85.5L17.1 93.9M5.2 87.6L3.1 95M-7.4 89L-10.4 93.2M-62.3 75.3L-58.4 70.6M-73.9 65.8L-67 60.8M-82.8 54.4L-75 50.3M-89.6 42.2L-81.7 38.7M-94.4 28.9L-86.7 26.3M-97.4 13.9L-89.9 13.8M-97.3 -2.3L-91.6 1.1M-92.8 -17.7L-91.9 -12.2M-85.4 -29.5L-90.2 -25.6M-78.7 -39.1L-86.6 -39.2M-72.3 -49L-79.9 -51.9M-64.8 -59.3L-71.1 -62.8M-55.9 -70.1L-60.3 -71.5M-45.6 -80L-48.5 -79.3M-33.9 -87.2L-36.5 -85.6M-21.5 -92L-23.6 -90.1M-8.6 -94.6L-10.1 -92.8M4.9 -95.1L3.5 -93.4M18.4 -93.5L17.1 -92M61.1 -69.7L64.9 -66.7M70 -60.7L74.6 -55.9M78 -50.2L82 -44.2M84.7 -38.4L87.5 -31.7M89.6 -25.6L91.1 -18.7M92.6 -12.2L92.8 -5.4M80.6 9.1L80 12.5M77.5 22.4L76.7 25.9M72.2 35.2L71.3 38.4M64.8 47L63.9 49.7M55.1 57.3L54.6 59.4M42.8 64.9L43.5 68.4M28.8 70L32.2 76.4M15.4 73.7L19.5 81.1M1.8 75.8L5.8 83M-11.9 76.4L-8.2 81.8M-25.4 76.1L-22.7 77.7M-39 72.9L-35.2 72.9M-52.5 66.9L-45.2 65.4M-63.5 58.4L-55 56.3M-72.3 48.1L-63.8 45.6M-78.6 37L-71.1 33.4M-82.3 25.5L-76.3 20M-84.5 12.6L-78.9 6.1M-83.9 -0.7L-79.5 -7.8M-79.3 -13.6L-78.5 -21.4M-71.7 -27.2L-75.4 -34.3M-63.7 -40.3L-69.4 -46M-55.2 -52.4L-60.6 -56.1M-46.2 -63.2L-48.9 -64.3M13.4 -81.4L15.7 -79.6M25.3 -77.4L29.8 -75.3M37 -71.6L42.8 -69M48.3 -64.1L54 -60.8M58.7 -54.9L63.2 -51M67.9 -44L70.5 -40M75.1 -31.5L76 -28M79.5 -18.2L79.6 -15M81.3 -4.5L81 -1.3M32.6 57.7L34.4 60.2M18.2 62L23.5 67.4M4.3 64.9L10.7 70.7M-9.8 65.8L-2.7 70.9M-23.7 64.6L-16 68.1M-36.9 61L-28.5 62.7M-48.7 54.8L-39.8 55M-58.6 46L-49.7 45.4M-65.8 35.9L-58.2 33.9M-69.3 25.8L-64.8 20.8M-71.6 13.9L-67.8 6.6M-71.8 0.7L-68.3 -7.3M-68.6 -12.5L-66.4 -20.8M-61.4 -25.6L-62.5 -33.1M-51.9 -38.9L-55.8 -43.6M-42.4 -50.4L-46 -52.7M1.8 -70.2L4.7 -69.4M14.6 -68.1L18.8 -66.9M27.4 -63.5L31.4 -62M39.8 -56.4L42.3 -55.1M23.2 50.3L25.1 51.8M8.2 53.6L14.4 57.7M-6 55.1L1.6 59.3M-19.7 54L-11.5 57.3M-32.6 50.1L-24 52.1M-43.8 43.4L-35.2 44.2M-52.2 34.4L-45.1 34M-56.1 24.3L-53.7 22.5M-59.1 13.2L-56.9 8.6M-60.4 0.5L-57 -5.6M-57.8 -12.9L-54.6 -18.7M-50 -26L-49.9 -29.8M-39.2 -37.9L-41.7 -40.3M-28.7 -47L-31.1 -48.7M-0.9 44.7L4.6 47.2M-15.2 43.9L-7.8 46.5M-27.8 39.9L-20.2 41.6M-37.5 32.9L-32 33.2M-49.1 -0.9L-46.7 -3.3M-46.6 -14L-43.7 -16.4M-26.4 -35.1L-27.8 -37M-14.6 -41.8L-15.9 -43.3M-12 33.6L-10 34.1M-36.8 -7.8L-34.6 -9.1M-29.7 -19.6L-28.5 -21.2"/><path class="hd" d="M171 9L171.6 13.9L167.3 12.2zM168.9 22L170.5 26.7L166 26zM166.1 35.1L168.1 39.7L163.5 39.3zM162.8 48.2L164.4 52.9L159.9 52.2zM159 61.3L159.4 66.2L155.1 64.4zM154.3 74.3L153 79.1L149.6 76zM148.4 86.9L145.8 91.1L143.4 87.1zM141.1 98.6L137.9 102.4L136.2 98.1zM132.6 109.3L129.4 113.1L127.6 108.8zM123 118.9L120.4 123.1L118 119.2zM112.5 127.7L110.8 132.4L107.7 129zM101.1 136.3L101.3 139.2L98.4 139.8L98.3 136.9zM89.6 143.6L90.1 146.5L87.3 147.4L86.9 144.5zM77.8 150.2L78.3 153.1L75.5 153.9L75 151.1zM65.8 156L65.8 158.9L62.9 159.3L62.9 156.4zM53.5 161.1L52.6 163.9L49.7 163.5L50.6 160.7zM40.7 165.4L38.9 167.7L36.4 166.3L38.1 164zM27.4 168.9L24.8 170.3L23.1 167.9L25.7 166.6zM13.6 171.1L10.8 171.5L9.9 168.7L12.8 168.3zM0.1 171.5L-2.8 171.9L-3.6 169L-0.7 168.7zM-13.1 170L-15.7 171.5L-17.4 169.2L-14.9 167.7zM-27.1 166.3L-27.4 169.2L-30.3 169.4L-30 166.5zM-41.5 162.9L-40.1 165.5L-42.4 167.2L-43.8 164.6zM-55.4 159L-53.1 160.8L-54.5 163.4L-56.8 161.6zM-69 154.6L-66.1 155.1L-66.2 158L-69 157.5zM-81.7 149.4L-78.9 148.8L-77.8 151.5L-80.7 152.1zM-93.4 142.6L-90.5 142L-89.6 144.7L-92.4 145.3zM-103.9 134.1L-101.1 134.8L-101.3 137.7L-104.1 137zM-114 125.3L-111.3 126.6L-112.2 129.3L-114.8 128.1zM-124.7 116.8L-121.8 116.4L-121 119.1L-123.9 119.5zM-134 108.1L-132.1 105.9L-129.6 107.5L-131.6 109.7zM-142.1 97.7L-140.6 95.2L-137.9 96.3L-139.4 98.8zM-149.3 86.3L-147.8 83.8L-145.1 84.9L-146.6 87.4zM-155.8 73.8L-153.8 71.7L-151.4 73.4L-153.4 75.5zM-160.9 60.3L-158.1 59.4L-156.9 62.1L-159.7 62.9zM-164.6 46.6L-161.8 47.2L-162 50.1L-164.8 49.5zM-167.5 33.2L-164.9 34.5L-165.7 37.2L-168.4 36zM-169.6 19.3L-166.2 22.9L-170.6 24.1zM-170.6 5.1L-167.6 9.1L-172.2 9.8zM-170.3 -8.9L-167.9 -4.6L-172.5 -4.4zM-168.9 -22.8L-167 -18.2L-171.6 -18.6zM-166.4 -36.4L-165 -31.6L-169.5 -32.5zM-162.9 -49.6L-161.9 -44.7L-166.3 -46.1zM-158.4 -62.5L-157.8 -57.5L-162.1 -59.2zM-153 -74.8L-152.8 -69.9L-156.9 -71.8zM-146.6 -86.6L-146.8 -81.6L-150.8 -84zM-139.3 -97.8L-140 -92.8L-143.8 -95.5zM-131.3 -108.2L-132.5 -103.4L-135.9 -106.4zM-122.6 -118L-124.2 -113.3L-127.3 -116.6zM-113.2 -127.1L-115.1 -122.5L-118.1 -126zM-103.5 -135.3L-104 -132.5L-106.9 -132.5L-106.4 -135.4zM-92.6 -143.3L-92.9 -140.4L-95.9 -140.4L-95.5 -143.3zM-81 -150.4L-81.4 -147.5L-84.3 -147.5L-83.9 -150.3zM-68.6 -156.1L-69.6 -153.4L-72.4 -153.9L-71.5 -156.7zM-55.8 -160L-58.1 -158.2L-60.2 -160.2L-57.9 -162zM-43.3 -162.9L-46.3 -162.7L-46.8 -165.6L-43.9 -165.7zM-30.6 -165.5L-33.5 -166.2L-33.2 -169.1L-30.4 -168.4zM-17.5 -167.3L-20.2 -168.4L-19.5 -171.2L-16.8 -170.2zM-3.9 -167.7L-7.8 -170.8L-3.6 -172.7zM9.7 -167.1L5.9 -170.4L10.2 -172.1zM23.3 -165.6L19.6 -168.9L23.9 -170.5zM36.8 -163.1L33 -166.3L37.3 -168zM50.1 -159.7L46.2 -162.7L50.4 -164.6zM63.3 -155.5L59.1 -158.1L63 -160.5zM76.2 -150.5L71.6 -152.4L75.2 -155.4zM88.7 -144.6L83.9 -145.7L86.8 -149.2zM100.5 -137.7L95.6 -138.1L98.1 -142zM111.6 -129.6L106.6 -129.8L109 -133.8zM121.7 -120.4L116.7 -120.9L119.2 -124.7zM130.8 -110.5L125.9 -111.3L128.6 -114.9zM138.9 -99.9L134.1 -101.2L137.2 -104.6zM146 -89L141.3 -90.6L144.6 -93.8zM152.1 -78.2L149.2 -78.3L148.9 -81.2L151.8 -81.1zM158.4 -66.7L155.7 -65.7L154.3 -68.2L157 -69.2zM163.4 -55.2L161.6 -52.9L159.1 -54.4L160.9 -56.7zM167.5 -43L164.6 -39L162.5 -43.1zM170.4 -30.3L168 -25.9L165.4 -29.7zM171.9 -17.2L170.2 -12.6L167.1 -15.9zM172.1 -4.1L171.4 0.8L167.7 -1.9zM158.2 12.8L160 17.4L155.4 16.9zM156.1 26.1L157.9 30.8L153.3 30.2zM153.3 39.4L154.6 44.2L150.1 43.3zM149.7 52.7L150.2 57.6L146 55.9zM145.3 65.8L144.6 70.7L140.9 68.1zM139.5 78.5L137.9 83.2L134.7 79.8zM132.3 90.3L130.1 94.8L127.4 91.1zM123.8 101.2L121.5 105.6L118.8 101.8zM114.1 111.2L111.9 115.6L109.2 111.9zM103.6 120.4L101.4 124.9L98.7 121.2zM92.1 129L90 133.4L87.2 129.7zM80 136.8L77.5 141.1L75 137.2zM67.4 143.6L66.2 146.2L63.4 145.4L64.6 142.8zM54.9 149.1L53.1 151.4L50.6 150.1L52.3 147.7zM41.9 153.6L39.6 155.5L37.5 153.5L39.7 151.7zM28.2 157.5L25.4 158L24.4 155.3L27.3 154.8zM13.8 160L11.1 159L11.8 156.1L14.5 157.2zM-0.2 160.7L-2.7 159.1L-1.5 156.5L1 158zM-14 160.1L-16.3 158.4L-15 155.8L-12.6 157.5zM-29.2 154.2L-26.4 155.1L-26.9 158L-29.6 157.1zM-42.7 151.4L-39.9 151.9L-39.9 154.8L-42.8 154.3zM-56.1 147.6L-53.2 147.5L-52.6 150.4L-55.5 150.5zM-68.8 142.7L-66 142.1L-65.1 144.9L-67.9 145.4zM-81 136.4L-78.1 135.9L-77.2 138.6L-80 139.1zM-92.3 128.8L-89.4 128.7L-88.9 131.6L-91.8 131.7zM-103 120.3L-100.1 120.6L-99.9 123.5L-102.8 123.2zM-113.1 111.2L-110.2 111.4L-110 114.3L-112.9 114.1zM-122.6 101.4L-119.7 101.2L-119.1 104.1L-122 104.3zM-131.2 91L-128.4 90.3L-127.2 92.9L-130.1 93.7zM-138.8 80L-136.2 78.7L-134.5 81L-137.1 82.4zM-145.3 68.5L-143.1 66.6L-140.9 68.4L-143 70.4zM-150.6 56.1L-148.6 54L-146.2 55.7L-148.3 57.8zM-154.8 42.6L-152.3 41.1L-150.5 43.4L-153 44.8zM-157.7 28.5L-154.8 28.1L-153.9 30.8L-156.8 31.3zM-159.2 14.5L-156.3 15L-156.4 17.9L-159.2 17.4zM-159.5 0.5L-156.9 1.8L-157.7 4.6L-160.3 3.3zM-158.6 -13.3L-156.3 -11.4L-157.8 -8.9L-160.1 -10.7zM-156.6 -27.5L-154.4 -23L-159 -23.2zM-153.4 -41L-152 -36.3L-156.5 -37.2zM-149.1 -54.1L-148.4 -49.2L-152.7 -50.8zM-143.7 -66.7L-143.7 -61.7L-147.8 -63.8zM-137.4 -78.6L-138 -73.7L-141.8 -76.4zM-130.1 -89.8L-131.5 -85.1L-134.8 -88.3zM-122.3 -100.1L-122.9 -97.3L-125.8 -97.5L-125.2 -100.3zM-113.2 -110.1L-114.2 -107.4L-117.1 -108.1L-116 -110.8zM-103.3 -119.5L-104.5 -116.9L-107.3 -117.7L-106.1 -120.3zM-92.7 -128.1L-93.9 -125.5L-96.7 -126.3L-95.5 -128.9zM-81.5 -135.9L-82.6 -133.2L-85.4 -133.9L-84.3 -136.6zM-69.5 -142.3L-70.9 -139.8L-73.6 -140.8L-72.2 -143.3zM-57.1 -146.2L-60 -145.5L-61.1 -148.2L-58.2 -148.9zM-45.3 -149.7L-47.9 -150.9L-47.2 -153.7L-44.5 -152.6zM-32.4 -153L-34.8 -154.6L-33.7 -157.2L-31.2 -155.7zM-19 -155.3L-21.4 -156.9L-20.2 -159.5L-17.7 -157.9zM-5.3 -156.4L-7.8 -157.9L-6.6 -160.6L-4.2 -159.1zM8.8 -155.9L4.9 -159L9.1 -160.8zM22.9 -154.3L18.7 -157L22.7 -159.3zM37.1 -151.7L32.6 -153.8L36.2 -156.6zM51 -148.1L46.3 -149.5L49.5 -152.8zM64.6 -143.5L59.7 -144.4L62.5 -148zM77.5 -137.9L72.5 -138.4L75 -142.2zM89.6 -131.1L84.6 -131.4L87 -135.4zM100.8 -123.2L95.8 -123.6L98.3 -127.5zM111 -114.2L106.1 -114.9L108.8 -118.6zM120.1 -104.3L115.3 -105.6L118.5 -109zM127.9 -93.7L123.5 -95.9L127.1 -98.6zM134.6 -83.1L130.6 -86.1L134.8 -88zM140.5 -72.4L138.1 -74.1L139.5 -76.7L141.8 -75zM148 -62.6L146.1 -60.4L143.7 -61.9L145.6 -64.1zM151.2 -51.6L152.5 -49L150.1 -47.4L148.8 -50zM155.3 -39.5L156.3 -34.6L151.9 -36zM158.1 -26.9L159.1 -22L154.6 -23.3zM159.4 -13.8L160.6 -9L156.1 -10.1zM159.3 -0.6L160.9 4.1L156.4 3.4zM145.4 4.5L147.6 9L143 8.9zM144.1 18L146.1 22.6L141.5 22.2zM141.9 31.4L143.3 36.1L138.8 35.3zM138.8 44.7L139.3 49.7L135 48zM134.5 57.9L134.1 62.9L130.2 60.3zM128.9 70.7L127.5 75.4L124.2 72.2zM121.8 82.7L119.8 87.2L117 83.5zM113.4 93.7L111 98L108.4 94.2zM103.8 103.9L101.1 108.1L98.8 104.1zM93.1 113.4L90.1 117.3L88.1 113.1zM81.3 122.1L77.7 125.5L76.4 121.1zM68.4 129.8L64.1 132.2L64 127.6zM55.3 136.5L52.5 137.1L51.5 134.4L54.3 133.8zM40.3 142.1L38.6 139.7L40.6 137.7L42.4 140zM25.5 144.4L26 141.6L28.9 141.7L28.4 144.5zM11.6 145.8L13 143.2L15.7 144.2L14.4 146.7zM-2.1 146L-0.3 143.7L2.2 145.2L0.4 147.5zM-16.3 145.1L-12 142.6L-11.8 147.2zM-30.2 142.6L-25.6 140.9L-26.2 145.5zM-43.9 138.9L-39.1 137.9L-40.3 142.3zM-57.2 134.1L-52.3 133.4L-53.8 137.7zM-69.8 128.1L-64.9 127.8L-66.8 132zM-81.7 120.8L-76.7 121L-79.1 125zM-92.7 112.4L-87.8 113.2L-90.6 116.9zM-102.8 103.2L-98 104.5L-101.2 107.9zM-111.8 93.3L-107.2 95.1L-110.7 98.1zM-119.5 82.9L-115.2 85.3L-119 87.9zM-125.9 72.8L-123.2 74L-124 76.8L-126.6 75.6zM-132.2 60.7L-129.6 62.1L-130.6 64.8L-133.1 63.5zM-136.9 52.4L-138.6 50L-136.4 48L-134.8 50.4zM-141.4 39.3L-142.6 36.7L-140.2 35.1L-138.9 37.7zM-144.5 25.8L-145.4 23.1L-142.7 21.8L-141.9 24.6zM-146.3 12.2L-146.9 9.4L-144.2 8.3L-143.6 11.2zM-146.6 -1.4L-147.2 -4.3L-144.5 -5.3L-143.9 -2.5zM-145.6 -15L-146.3 -17.8L-143.7 -19L-142.9 -16.2zM-143.2 -28.4L-144.1 -31.2L-141.5 -32.5L-140.6 -29.7zM-139.7 -41.6L-140.7 -44.3L-138.2 -45.7L-137.1 -43zM-134.9 -54.4L-136 -57L-133.5 -58.6L-132.4 -55.9zM-128.9 -66.7L-130.2 -69.3L-127.8 -70.9L-126.5 -68.3zM-121.8 -78.3L-123.2 -80.9L-120.8 -82.6L-119.5 -80.1zM-113.7 -89.3L-115.1 -91.9L-112.8 -93.7L-111.4 -91.1zM-104.7 -99.6L-106 -102.1L-103.7 -103.8L-102.3 -101.3zM-94.9 -108.9L-96 -111.7L-93.5 -113.1L-92.4 -110.4zM-84.6 -117.5L-85 -120.4L-82.2 -121.2L-81.8 -118.3zM-73.4 -125.1L-73.2 -128L-70.3 -128.2L-70.5 -125.3zM-61 -131L-61.2 -133.9L-58.4 -134.6L-58.2 -131.7zM-47.1 -135.6L-48.9 -137.9L-46.9 -140L-45.1 -137.7zM-32.7 -139.8L-35.5 -140.6L-35.1 -143.5L-32.3 -142.6zM-18.6 -142.9L-21.5 -142.6L-22.3 -145.4L-19.4 -145.7zM-4 -144.3L-9 -143.8L-7.3 -148.1zM10.9 -144.2L6 -143.3L7.3 -147.7zM25.4 -142.7L20.5 -141.7L21.8 -146.1zM39.2 -139.8L34.3 -139L35.8 -143.4zM52.3 -135.6L47.4 -135.1L49.2 -139.4zM64.9 -130.2L60 -130.1L62 -134.2zM76.8 -123.7L71.8 -124L74.2 -127.9zM87.7 -116.1L82.8 -116.9L85.6 -120.6zM97.5 -107.6L92.8 -109.2L96.1 -112.4zM105.7 -98.6L101.7 -101.5L105.8 -103.5zM112.9 -89.4L111.3 -91.8L113.5 -93.8L115.1 -91.3zM119.6 -79.1L120 -82L122.9 -82L122.5 -79.2zM126.1 -68.6L128 -70.8L130.5 -69.2L128.5 -67zM132.3 -57.7L135.2 -58.1L136 -55.4L133.1 -55zM137.8 -46.5L141.5 -43.2L137.2 -41.6zM142 -34.6L144.7 -30.4L140.1 -30zM144.5 -21.9L146.9 -17.6L142.3 -17.5zM145.6 -8.8L147.9 -4.4L143.3 -4.4zM131.2 11L133.7 15.3L129.1 15.5zM129.7 24.6L131.4 29.2L126.9 28.7zM127.1 38.2L127.6 43.2L123.3 41.5zM123.3 51.8L122.1 56.7L118.7 53.7zM117.8 64.9L115.4 69.2L112.9 65.3zM110.7 77L107.5 80.8L105.7 76.5zM102 88.2L98.3 91.5L97.2 87zM92 98.5L87.8 101.1L87.4 96.6zM80.7 108L76 109.4L76.9 104.9zM68.2 116.6L63.4 115.4L66.4 112zM54.2 123.8L51.4 119.7L56 119.2zM39.3 129L39.6 124L43.6 126.3zM24.3 132L26.5 127.6L29.2 131.4zM9.6 133.4L12.9 129.7L14.5 134.1zM-4.7 133.3L-0.7 130.3L0.1 134.9zM-18.6 131.9L-14.2 129.5L-14.1 134.1zM-32.2 129.2L-27.5 127.3L-28 131.9zM-45.3 125.1L-40.5 123.8L-41.5 128.3zM-57.9 119.7L-53 119L-54.6 123.3zM-69.9 113L-64.9 112.8L-67 117zM-81 105L-76.1 105.6L-78.7 109.4zM-91.1 95.8L-86.3 97.2L-89.5 100.5zM-99.9 85.7L-95.5 88L-99.3 90.6zM-107.1 74.9L-103.5 78.4L-107.9 79.8zM-112.6 64.5L-110.7 69.1L-115.3 68.7zM-117.5 55.3L-119.4 59.9L-122.4 56.4zM-123.2 46L-126.1 45.8L-126.3 42.9L-123.4 43.1zM-128 34.9L-131 31L-126.5 30.2zM-131.3 22.3L-133.5 17.8L-128.9 17.9zM-132.9 9L-134.6 4.4L-130.1 4.9zM-132.9 -4.4L-134.4 -9.2L-129.9 -8.4zM-131.5 -17.9L-132.8 -22.7L-128.3 -21.7zM-128.9 -31.2L-129.8 -36.1L-125.4 -34.8zM-124.9 -44.3L-125.4 -49.3L-121.1 -47.5zM-119.5 -57.1L-119.6 -62L-115.5 -59.9zM-112.7 -69.3L-112.4 -74.2L-108.5 -71.8zM-104.6 -81L-103.8 -85.9L-100.1 -83.1zM-95.2 -92L-93.8 -96.7L-90.5 -93.5zM-84.7 -102L-84 -104.8L-81.1 -104.5L-81.8 -101.7zM-74.1 -111L-72.1 -113.1L-69.7 -111.4L-71.7 -109.3zM-59.1 -120L-58.4 -117.1L-61 -116L-61.7 -118.9zM-45.8 -124.8L-46.5 -122L-49.4 -122.3L-48.7 -125.1zM-30.9 -129.3L-34.1 -125.5L-35.9 -129.8zM-16.4 -132L-20.1 -128.6L-21.3 -133.1zM-2.3 -132.9L-6.3 -130L-7 -134.6zM11.5 -132.2L7.1 -130L7.1 -134.6zM24.7 -129.9L20 -128.5L20.8 -133zM36.9 -126.2L31.9 -126.1L34 -130.2zM47.6 -121.5L43.3 -123.9L47.1 -126.5zM57.7 -116.7L56.5 -119.4L58.9 -121L60.2 -118.3zM68.4 -111L69.2 -113.8L72.1 -113.4L71.3 -110.6zM79.3 -103.9L80.9 -106.2L83.5 -105L81.9 -102.6zM89.6 -95.1L91.4 -97.4L93.9 -95.9L92 -93.6zM98.9 -85.1L100.6 -87.4L103.2 -86L101.5 -83.7zM106.6 -74.1L110.3 -77.3L111.4 -72.8zM113.5 -62.9L117.7 -65.5L118.1 -60.9zM119.6 -51.7L124.5 -52.5L123 -48.1zM124.7 -40.3L129.4 -38.6L125.9 -35.5zM128.5 -28.4L132.3 -25.2L128.1 -23.4zM130.8 -15.7L134.1 -12L129.6 -10.8zM131.6 -2.5L134.6 1.5L130 2.2zM117.7 10.3L116.9 7.5L119.5 6.3L120.3 9.1zM116.1 24.3L115.2 19.5L119.6 20.8zM113.2 38L111.5 33.4L116.1 34zM109 51.1L106.6 46.7L111.2 46.6zM103.4 63.3L100.4 59.3L104.9 58.5zM96.1 74.5L92.8 70.8L97.3 69.7zM87.4 84.8L84.1 81.1L88.5 80zM77.4 94.3L74.3 90.4L78.8 89.5zM66.2 102.9L63.5 98.7L68.1 98.3zM53.6 110.4L51.8 105.8L56.4 106.3zM39.6 116.2L39.3 111.2L43.5 113.1zM24.8 119.6L26.1 114.8L29.5 117.9zM10.2 120.9L12.8 116.7L15.1 120.7zM-4 120.6L-0.5 117.2L0.8 121.6zM-17.9 118.9L-13.7 116.2L-13.3 120.8zM-31.3 115.8L-26.8 113.8L-27.1 118.4zM-44.3 111.2L-39.5 109.9L-40.5 114.4zM-56.5 105.1L-51.6 104.7L-53.3 108.9zM-67.9 97.6L-62.9 98.1L-65.5 101.9zM-78 88.7L-73.3 90.4L-76.7 93.5zM-86.5 78.7L-82.6 81.7L-86.8 83.6zM-93.1 68.1L-90.7 72.5L-95.3 72.6zM-98.2 58L-98.2 63L-102.3 60.8zM-102.9 48.8L-105.8 52.9L-107.9 48.8zM-108.5 40.4L-113.5 40.6L-111.5 36.4zM-114.1 30.1L-118 27L-113.8 25.1zM-117.5 17.7L-120.4 13.6L-115.8 13zM-118.9 4.4L-121.2 0L-116.6 0zM-118.7 -9.1L-120.4 -13.8L-115.9 -13.2zM-117 -22.6L-118.1 -27.4L-113.6 -26.2zM-113.9 -35.9L-114.2 -40.9L-110 -39zM-109.3 -49L-108.7 -54L-104.9 -51.4zM-103 -61.9L-101.4 -66.6L-98.2 -63.3zM-94.6 -74.7L-91.7 -78.7L-89.7 -74.6zM-83.8 -87L-81.2 -88.1L-79.7 -85.6L-82.4 -84.5zM-71.5 -97.7L-69 -93.4L-73.6 -93.2zM-58.4 -106L-58.3 -101.1L-62.4 -103.1zM-45.2 -112.1L-46.2 -107.3L-49.8 -110.2zM-32.1 -116.1L-34.1 -111.6L-37 -115.1zM-20.1 -117.8L-21.3 -115.1L-24.1 -115.8L-23 -118.5zM-10.2 -117L-10 -119.9L-7.1 -120.2L-7.3 -117.3zM1.2 -117.1L4.3 -121L6.2 -116.9zM13.5 -116L17.1 -119.4L18.4 -115.1zM26.5 -113.6L30.4 -116.7L31.3 -112.2zM39.7 -109.8L43.9 -112.5L44.3 -107.9zM52.7 -104.5L57.2 -106.7L57.1 -102.1zM65 -97.7L69.7 -99.4L69.1 -94.9zM75.9 -89.5L80.7 -90.8L79.7 -86.3zM85.3 -80L90.1 -81.3L89.1 -76.8zM93.5 -69.4L98.3 -70.8L97.3 -66.2zM100.8 -57.8L105.5 -59.2L104.7 -54.7zM107.3 -45.4L112 -46.9L111.2 -42.3zM112.3 -32.3L114.7 -33.9L116.7 -31.8L114.3 -30.1zM115.3 -18.1L116.8 -20.6L119.5 -19.4L118 -17zM117.4 -3.5L117.3 -6.4L120.2 -7L120.3 -4.1zM103.6 19.5L102 14.8L106.6 15.5zM100.6 32.7L99.3 27.9L103.8 28.9zM96.1 45.4L95 40.5L99.4 41.7zM90.1 57.3L89.1 52.5L93.5 53.7zM82.6 68.3L81.7 63.5L86.1 64.8zM73.8 78.2L73 73.4L77.4 74.8zM64 87.2L63 82.3L67.4 83.5zM53.4 95.3L51.8 90.6L56.3 91.3zM41.2 102.1L39.6 97.4L44.2 98.1zM27.4 106.7L26.7 101.8L31.1 103.4zM12.6 108.9L13.4 104L17.1 106.8zM-2.2 108.8L0.1 104.4L2.7 108.2zM-16.5 106.6L-13 103.1L-11.6 107.5zM-30 102.7L-25.6 100.4L-25.5 104.9zM-42.5 97.2L-37.6 96.1L-38.8 100.6zM-53.8 90.1L-48.8 90.7L-51.5 94.5zM-63.6 81.5L-59.3 84.1L-63.3 86.4zM-71.5 72L-69.1 76.3L-73.7 76.5zM-78.1 62.5L-77.9 67.5L-82.1 65.5zM-84.2 52.9L-85.9 57.6L-89 54.2zM-89.8 42.9L-92.9 46.7L-94.7 42.5zM-94.8 33.3L-99.5 35L-98.9 30.5zM-99.7 23.6L-104.4 22L-101.1 18.8zM-103.3 11.8L-106.9 8.4L-102.5 6.9zM-104.9 -1.2L-107.4 -5.5L-102.8 -5.7zM-104.6 -14.7L-105.9 -19.5L-101.4 -18.5zM-102.8 -28.4L-102.7 -33.4L-98.6 -31.2zM-99.3 -42.5L-97.4 -47L-94.4 -43.5zM-93.4 -56.9L-89.5 -60.1L-88.6 -55.5zM-84.2 -70.7L-79.2 -71L-81.1 -66.8zM-72.8 -81.7L-68.3 -79.5L-72 -76.8zM-61.2 -89.4L-57.1 -86.6L-61.1 -84.4zM-50.3 -94.3L-47.7 -95.6L-46.1 -93.2L-48.7 -91.9zM-39.4 -97.6L-36.2 -101.5L-34.4 -97.2zM-27.2 -100.6L-24.4 -104.7L-22.3 -100.6zM-14.2 -102.6L-11.3 -106.7L-9.2 -102.5zM-0.6 -103.4L2.6 -107.2L4.4 -103zM13.2 -102.5L16.6 -106.1L18.1 -101.7zM26.7 -100L30.5 -103.2L31.5 -98.7zM39.5 -95.9L43.7 -98.5L44 -93.9zM51.5 -90.3L56.1 -92L55.6 -87.4zM62.8 -82.8L67.7 -84L66.6 -79.6zM74 -73.3L76.5 -74.7L78.3 -72.5L75.8 -71zM83.1 -61.2L83.7 -64L86.6 -63.9L86 -61.1zM92.5 -48.3L89.7 -52.4L94.3 -52.9zM99 -34.7L95.7 -38.4L100.2 -39.5zM103.2 -21.1L100 -24.9L104.5 -25.9zM105.2 -7.5L102.4 -11.7L107 -12.1zM105.2 6.1L103.1 1.6L107.7 1.8zM92.2 11.5L90.4 6.9L95 7.4zM89.8 24.9L88.5 20.1L93 21zM85.7 37.8L84.6 32.9L89 34.1zM79.7 49.9L78.9 45L83.3 46.4zM72.1 60.9L71.6 56L75.9 57.6zM63.2 70.7L62.7 65.7L67 67.4zM53.5 79.6L52.1 74.8L56.6 75.7zM43.2 87.6L40.5 83.4L45.1 83.1zM31 93.7L28.2 89.6L32.7 89zM17 97.3L14.8 92.8L19.4 92.9zM2.2 98.2L1.2 93.4L5.6 94.6zM-12.4 96L-11.7 91.1L-8 93.7zM-25.3 90.9L-24 88.3L-21.2 89.2L-22.5 91.8zM-37.1 83.8L-34.4 84.8L-35.1 87.6L-37.8 86.6zM-47.7 77.4L-46.4 80L-48.7 81.7L-50.1 79.1zM-56.2 68L-57.3 72.9L-60.8 69.9zM-64.3 58.8L-66.5 63.2L-69.2 59.5zM-72 48.7L-74.8 52.8L-77 48.7zM-78.6 37.3L-81.6 41.2L-83.5 37zM-83.5 25.3L-87 28.8L-88.4 24.5zM-86.5 13.8L-90.9 16.1L-90.9 11.5zM-88.7 2.9L-93.7 2.6L-91.3 -1.4zM-91.3 -8.9L-94.3 -12.8L-89.8 -13.6zM-92.9 -23.5L-90.9 -28.1L-88 -24.5zM-90 -39.3L-85.5 -41.5L-85.6 -36.9zM-83.1 -53.1L-78.2 -53.7L-79.8 -49.4zM-74.1 -64.4L-69.2 -64.3L-71.4 -60.3zM-63.5 -72.5L-58.6 -73.4L-60 -69zM-51.8 -78.5L-48.1 -81.8L-47 -77.3zM-39.4 -83.7L-36.9 -88L-34.4 -84.2zM-26.1 -87.8L-24.4 -92.5L-21.3 -89.1zM-12.3 -90.2L-11.2 -95.1L-7.7 -92.1zM1.4 -90.8L2.3 -95.6L5.9 -92.8zM14.8 -89.5L16.1 -94.3L19.5 -91.2zM28.2 -86.5L28.4 -89.4L31.3 -89.7L31.1 -86.8zM41.9 -80.7L40.4 -83.1L42.6 -85L44.1 -82.5zM55.5 -74.3L52.6 -74.4L52.3 -77.3L55.2 -77.2zM67.6 -64.5L62.7 -65.5L65.6 -69.1zM76.9 -53.4L72.2 -55L75.5 -58.2zM83.9 -41.3L79.6 -43.7L83.4 -46.3zM88.9 -28.5L85 -31.7L89.3 -33.5zM91.8 -15.4L88.6 -19.2L93.1 -20.2zM92.9 -2L90.5 -6.3L95.1 -6.5zM79.5 15.9L77.9 11.2L82.5 11.9zM76.1 29.3L74.7 24.5L79.2 25.4zM70.4 41.7L69.3 36.9L73.8 38.1zM62.8 52.9L62 48L66.4 49.4zM53.7 62.7L52.6 57.9L57 59zM44.2 71.8L41.1 67.9L45.6 67zM33.8 79.4L29.7 76.6L33.8 74.5zM21.1 84.1L17 81.4L21 79.1zM7.5 86L3.3 83.2L7.4 81zM-6.3 84.6L-10.7 82.3L-6.9 79.6zM-19.8 79.5L-24.7 79.2L-22.3 75.3zM-31.8 72.8L-36.2 75.2L-36.2 70.6zM-41.9 64.8L-45.7 67.9L-46.7 63.4zM-51.8 55.4L-55.5 58.7L-56.6 54.3zM-60.5 44.6L-64.1 48.1L-65.4 43.7zM-68 31.9L-70.9 35.9L-73 31.7zM-73.8 17.6L-75.5 22.3L-78.6 18.9zM-76.7 3.6L-77.8 8.4L-81.3 5.4zM-77.7 -10.7L-78.1 -5.7L-82 -8.1zM-78.1 -24.8L-76.3 -20.2L-80.8 -20.7zM-76.9 -37.3L-72.9 -34.5L-76.9 -32.4zM-71.8 -48.4L-67.1 -46.9L-70.3 -43.6zM-63.4 -58L-58.5 -57.4L-61.1 -53.6zM-52 -65.6L-47.1 -66L-48.9 -61.8zM-39.7 -71.9L-37.5 -73.7L-35.3 -71.7L-37.6 -69.9zM-25.1 -74.9L-26.8 -77.3L-24.6 -79.3L-23 -76.9zM-10.7 -78.1L-13.3 -79.5L-12.3 -82.2L-9.7 -80.9zM3.5 -79.1L0.6 -79.9L1 -82.8L3.8 -82zM18.4 -77.5L13.5 -78.4L16.3 -82zM32.8 -73.8L27.9 -73.6L29.9 -77.8zM45.9 -67.6L40.9 -67.3L42.8 -71.5zM56.9 -59.1L52 -59.3L54.3 -63.3zM65.8 -48.7L60.9 -49.9L64 -53.4zM72.3 -37.1L68 -39.6L71.9 -42.1zM76.9 -24.7L73.5 -28.4L78 -29.5zM79.7 -11.6L77.3 -15.9L81.9 -16.1zM80.7 2.1L78.8 -2.5L83.4 -2.1zM69.1 7L67.4 4.7L69.6 2.7L71.2 5.1zM66.9 20.5L65.2 18.1L67.2 16.1L68.9 18.4zM62 33.2L60.3 30.8L62.4 28.8L64.1 31.2zM54.7 44.7L53.1 42.3L55.2 40.4L56.8 42.8zM45.8 54.7L43.7 52.6L45.4 50.3L47.5 52.3zM36.3 63L31.9 60.7L35.7 58zM25.9 69.8L21.2 68.3L24.5 65.1zM13.2 73L8.4 71.8L11.5 68.3zM0 72.9L-4.9 72.2L-2.2 68.4zM-12.9 69.5L-17.8 69.8L-15.9 65.6zM-25.1 63.4L-29.9 64.8L-29 60.2zM-36.4 55.1L-40.9 57.3L-40.8 52.7zM-46.4 45.2L-50.6 47.8L-50.9 43.2zM-54.9 33L-58.6 36.4L-59.8 31.9zM-62.6 18.3L-63.8 23.1L-67.2 20zM-66.3 3.6L-66.3 8.6L-70.3 6.4zM-66.9 -10.4L-66.6 -5.4L-70.8 -7.3zM-65.5 -24.1L-64.4 -19.2L-68.9 -20.4zM-63 -36.4L-60.1 -32.4L-64.6 -31.8zM-58 -46.2L-53.4 -44.3L-57 -41.4zM-48.8 -54.5L-43.9 -54.1L-46.4 -50.2zM-36.4 -61.5L-33.5 -62L-32.6 -59.2L-35.4 -58.7zM-21.4 -68L-20.2 -65.4L-22.6 -63.8L-23.9 -66.4zM-6.6 -68.4L-9.3 -67.1L-10.9 -69.5L-8.3 -70.8zM7.9 -68.5L3.1 -67.4L4.3 -71.9zM22 -66L17.2 -65L18.4 -69.4zM34.6 -60.9L29.7 -60.2L31.3 -64.5zM45.3 -53.5L40.3 -53.5L42.5 -57.6zM53.9 -44L51.1 -44.3L51 -47.2L53.9 -46.9zM60.8 -32.3L58.5 -34.1L59.9 -36.6L62.2 -34.9zM65.7 -19.9L64 -22.3L66.2 -24.2L67.8 -21.8zM68.6 -6.6L67.1 -9L69.3 -10.9L70.8 -8.5zM57.1 12.9L55.1 10.8L56.9 8.5L58.9 10.7zM53.3 25.8L51.1 23.9L52.6 21.4L54.9 23.3zM46.6 37.3L44.3 35.6L45.6 33L48 34.7zM37.8 46.8L35.1 45.8L35.7 43L38.4 43.9zM27.7 54L22.8 53L25.8 49.4zM17.2 59.6L12.2 59.1L14.8 55.2zM4.6 60.9L-0.4 60.8L1.9 56.8zM-8.3 58.5L-13.3 59.1L-11.6 54.8zM-20.7 52.9L-25.5 54.2L-24.4 49.7zM-31.8 44.6L-36.4 46.4L-35.9 41.9zM-41.7 33.8L-45.9 36.3L-46.2 31.7zM-51 20.4L-53.1 24.9L-55.9 21.3zM-55.4 5.6L-55.2 10.6L-59.4 8.5zM-55.3 -8.6L-55.4 -3.6L-59.4 -5.9zM-52.9 -21.7L-53 -16.8L-57.1 -19zM-49.7 -33.2L-47.6 -28.7L-52.2 -28.9zM-44.2 -42.7L-39.4 -41.3L-42.6 -38zM-33.9 -50.6L-29 -50L-31.6 -46.2zM-20.6 -56.4L-17.7 -56L-17.8 -53.1L-20.6 -53.5zM-4.5 -59.2L-4.7 -56.3L-7.6 -56.1L-7.4 -59zM9.6 -57.3L7.2 -55.6L5.2 -57.7L7.6 -59.4zM22.5 -53.4L19.7 -52.5L18.5 -55.1L21.2 -56zM34 -46.5L31.1 -46.7L30.9 -49.6L33.8 -49.4zM42.7 -37.1L40.8 -39.2L42.6 -41.5L44.6 -39.4zM49.7 -26.4L48.8 -29.1L51.4 -30.4L52.3 -27.7zM55 -13.9L54 -16.6L56.5 -18L57.5 -15.3zM57.6 -0.5L56.1 -3L58.3 -4.9L59.8 -2.4zM46.6 5.5L44.8 3.2L46.8 1.1L48.6 3.4zM44.4 18.4L42 16.7L43.4 14.1L45.7 15.9zM38.4 30L35.8 28.8L36.6 26L39.2 27.2zM29.6 39L26.7 38.7L26.6 35.8L29.5 36.1zM18.3 44.9L15.4 45.5L14.5 42.7L17.4 42.2zM7.7 48.7L2.7 48.9L4.7 44.7zM-4.6 47.6L-9.5 48.3L-8 44zM-16.9 42.3L-21.7 43.6L-20.7 39.1zM-28.6 33.4L-33.1 35.4L-32.8 30.8zM-39 21.6L-40.3 24.2L-43.1 23.4L-41.8 20.7zM-44.5 8.2L-44.1 11.1L-46.9 11.8L-47.3 9zM-44.2 -5.6L-45.8 -0.9L-49 -4.2zM-41.1 -18.6L-43 -14L-45.9 -17.6zM-37 -30.1L-35.7 -27.5L-38 -25.9L-39.4 -28.4zM-29.8 -39.8L-25.3 -37.5L-29.1 -34.9zM-18.2 -45.8L-13.5 -44.1L-17 -41zM-4.8 -48.3L-2 -47.9L-2 -45L-4.8 -45.4zM8.1 -47L11 -47.3L11.7 -44.5L8.8 -44.2zM20.5 -39.9L21.3 -42.7L24.2 -42.3L23.4 -39.5zM31.6 -31.4L31.6 -34.3L34.4 -34.8L34.5 -31.9zM39.9 -20.6L39.4 -23.5L42.2 -24.4L42.7 -21.5zM45 -7.9L43.9 -10.6L46.4 -12.1L47.5 -9.4zM34.5 11.5L32.4 9.6L34 7.2L36.1 9.1zM29 23.8L26.3 22.5L27.2 19.7L29.8 21zM19.3 32.2L16.4 32.3L15.9 29.4L18.8 29.4zM6.5 36L3.8 37L2.4 34.4L5.1 33.4zM-6.7 34.9L-11.5 36.1L-10.4 31.6zM-19.5 28.1L-21.7 30L-23.9 28.1L-21.7 26.2zM-29.2 16.1L-29.5 19L-32.4 19.1L-32.1 16.2zM-33.6 3L-34 5.9L-36.9 5.9L-36.5 3zM-31.7 -10.8L-34.3 -6.6L-36.7 -10.6zM-26.4 -23.8L-27.3 -19L-30.9 -21.8zM-18 -33L-15.7 -31.1L-17.3 -28.7L-19.5 -30.5zM-5.5 -37.2L-2.8 -36.1L-3.4 -33.3L-6.2 -34.3zM7.9 -35.9L10.8 -35.5L10.8 -32.6L7.9 -33zM19.5 -28.1L21.8 -30L23.9 -28L21.7 -26.2zM29.8 -15.7L29.2 -18.5L31.9 -19.5L32.5 -16.7zM34.8 -2.3L33.3 -4.8L35.6 -6.6L37.1 -4.1zM24.5 3.9L22.5 1.8L24.3 -0.5L26.3 1.6zM20.3 16.8L17.8 15.2L19 12.5L21.5 14.1zM10.4 24.2L7.5 24.5L6.8 21.6L9.7 21.4zM-3 23.8L-5 25.8L-7.4 24.1L-5.3 22.1zM-15.8 15.7L-15.9 18.6L-18.8 19L-18.7 16.1zM-22.3 3.8L-22.7 6.7L-25.6 6.7L-25.2 3.8zM-21.2 -9.8L-21.9 -7L-24.8 -7.3L-24 -10.1zM-13.5 -21.4L-13.1 -18.6L-15.9 -17.7L-16.3 -20.6zM-1.5 -26.6L0.1 -24.2L-2.1 -22.3L-3.7 -24.7zM11.7 -23.7L13.6 -21.5L11.7 -19.3L9.8 -21.5zM21.5 -9.6L19.6 -11.8L21.5 -14L23.4 -11.7zM12.2 9.5L9.5 8.4L10.2 5.6L12.9 6.7zM1 12.5L-0.1 15.2L-2.9 14.4L-1.8 11.8zM-10.5 4.4L-10.8 7.3L-13.7 7.4L-13.4 4.5zM-9.5 -9L-10 -6.1L-12.9 -6.1L-12.4 -9zM2.3 -15.2L2.4 -12.3L-0.4 -11.7L-0.5 -14.7zM14.3 -6.1L12.3 -4L9.9 -5.8L12 -7.8z"/><use href="#top"/></g><circle class="oc" r="180.5"/><use href="#lab"/><text class="tt" transform="translate(0 -206.3) scale(1 1.09)" text-anchor="middle">(e) MPI-ESM (AMIP)</text></g><g transform="translate(711.7 714.9)"><g clip-path="url(#cc)"><circle r="181.5" fill="#fafafa"/><path fill="#fff" fill-rule="evenodd" d="M-188 -188l376 0l0 240.3l-4-2.7l-4-4.1l-4-6l-3-5.7l-5-11.6l-11.6-31.2l-6.1-15l-6.8-15l-7.8-15l-7.3-12l-8.3-12l-8.1-10.1l-9-9.7l-12-10.9l-13-9.7l-14-8.4l-7-3.5l-8-3.4l-8-3l-7-2.1l-7-1.6l-7-1.2l-6-0.6l-6 0l-6 0.5l-6 1.2l-10 3.3l-10 5l-7.4 5.2l-2.6 2.9l-1 2.1l0 2l0.8 2l8.2 9.5l3 3.9l3 5.1l2.2 5.5l1.2 6l-0.1 5l-1.5 5l-2.6 4l-4.2 3.4l-6 2.7l-7 1.7l-9 0.7l-8-0.6l-7-1.7l-6-2.3l-11-5.5l-4-1.4l-3-0.3l-2 0.3l-2 0.6l-3 1.7l-6 5.1l-7 8.6l-5.4 9l-4 9l-2.4 8l-1.4 9l-0.2 9l1.1 11l1.8 9l2.2 8l2.3 6l2.9 5l3.3 4l3.8 3.2l4.9 2.8l5.3 2l4.8 1.2l5 0.6l5 0.1l5-0.4l5-0.9l5.7-1.6l14.3-5.4l6-1.7l7-0.8l15-0.1l5-0.9l2-0.8l2-1.5l3-4.2l3-7l2-5.8l3-11.6l1.3-9.2l0.4-9l-0.3-7l-1.8-14l-0.2-5l0.6-4l2.1-4l3.9-3.4l6-2.7l7-1.6l8-0.3l8 1.2l7 2.2l7 3.5l5.9 4.1l4.4 4l4.2 5l3.2 5l2.6 6l1.3 5l0.4 6l-0.5 6l-1.7 7l-2.6 7l-3.2 6.6l-4 6.5l-5 6.7l-5 5.5l-6 5.6l-17.4 13.1l-1.6 2l-1 3l0.2 3l0.7 3l8.7 24l2.5 9l1.7 8l1 8l0.1 7l-0.7 7l-1.5 6l-2.5 6l-3.2 5.2l-5 5.6l-5 4l-5 2.8l-7 2.6l-7 1.4l-8 0.5l-9-0.5l-10-1.4l-11-2.5l-11-3.3l-11-4l-11-4.8l-10-5.2l-10-5.9l-10-6.8l-9-7l-9-7.9l-9-8.7l-11.5-12.1l-9.4-11l-7.5-10l-12.6-18.1l-6-7.5l-4-4l-4-3.1l-4-2.2l-3-0.9z"/><path fill="#fcc8c4" fill-rule="evenodd" d="M112.6 -117l1.4-0.5l2 0l4 0.9l5 2.4l5 3.2l6 5l4.9 5l4.9 6l4.2 6l4.1 7l3.3 7l2.6 7l1.9 7l1.1 6l0.2 6l-0.7 5l-1.5 2.6l-1 0.6l-1 0.1l-2-0.8l-3-2.5l-3-3.5l-6-8.6l-25.2-38.9l-4.8-8l-3.3-7l-0.7-4.1l0.6-1.9zM-127.2 -115l4.2-1l2 0.4l1 0.5l1 1.1l0.9 2l0.5 4l-0.4 5l-1.2 7l-11 49l-1.5 9l-0.9 9l-0.3 7l0.3 8l2.1 21l2.1 11l1.4 4l1.6 3l3.3 4l5.4 4l5.9 3l8.8 3.2l10 2.7l9 1.8l35 4.1l10 1.6l10 2.1l11 3.1l10 3.8l9 4.2l7 4.3l7.5 6.1l5.5 6.5l2.1 3.5l1.8 4l1.3 4l0.7 4l0.2 4l-0.3 4l-1.1 4l-1.3 3l-1.8 3l-2.6 3l-3 2.6l-3 1.9l-7 3.3l-9 2.4l-10 1.1l-10 0.1l-11-1l-11-2l-11-2.9l-12-4.3l-10-4.5l-10-5.5l-9-5.9l-10-7.6l-13-11l-9.3-8.7l-7.1-8l-5.6-8l-2.7-5l-2.2-5l-5.5-16l-9.5-22l-4.1-12l-2.1-9l-1.5-10l-0.5-9l0.3-10l1.5-12l2.6-11l3.8-11l5.1-11l6.8-10.9l7-8.6l7-6.4l3-2.1zM-45.1 -93l3.1-0.1l3 0.6l2 0.9l1.9 1.6l1.2 2l0.1 2l-0.7 2l-0.8 1l-3 2l-4.7 1l-3-0.3l-2-0.5l-2-1l-1.5-1.2l-0.8-1l-0.7-2l0.3-2l0.5-1l1.2-1.4l2-1.4zM26.7 -54l4.3-0.6l5 0.5l5 1.6l4.2 2.5l3.8 3.4l3 4.1l2.2 4.5l1.2 5l0.4 5l-0.7 6l-1.5 5l-2.5 5l-3.1 4l-4 3.5l-4 2.1l-4 1.2l-4 0.2l-4-0.8l-3-1.3l-3-2.1l-2.5-2.8l-1.8-3l-1.6-4l-1.2-5l-0.7-6l-0.2-7l0.4-5l1.1-5l1.8-4l2.4-3l3.3-2.5z"/><path fill="#d6d6e9" fill-rule="evenodd" d="M36.9 -111l9.1-0.2l9 0.8l9 2l9 3l9 4.3l8 4.9l8 6.1l7 6.4l7 7.5l7 9l6.2 9.2l6.2 11l5.3 11l4.4 11l3.6 11l3 12l1.7 10l0.9 10l0 10l-0.8 9l-1.7 9l-2.2 8l-3.5 9l-4 8l-5 8l-5.3 7l-6.8 7.2l-7 6.2l-7 5l-8 4.5l-8 3.4l-8 2.3l-7 0.8l-7-0.5l-5.6-1.9l-4.4-3.2l-3.5-4.8l-2.8-7l-1.7-8l-0.5-9l0.4-5l1-5l1.5-5l2.3-6l7-15l19.3-38.9l5.1-12.1l1.8-6l0.8-5l0.1-6l-0.7-5l-1.1-4l-2-5l-2.8-5l-2.8-4l-4.1-5l-3.9-4l-9.6-8l-7.8-5.1l-9-4.6l-11-4.2l-21-6l-4-2.1l-3-3l-0.9-2l-0.4-2l0.1-2l0.5-2l2.5-4l3.2-2.8l5-3l6-2.4l7-1.8zM-85.3 -53l4.3-0.1l4 0.5l5 1.2l11 3.7l6 1.6l6 0.9l14 1.4l8 1.8l5 2.3l2.3 1.7l2.1 2l2.5 4l0.7 2l0.3 3l-0.4 3l-1.2 3l-1.4 2l-2.9 2.6l-3 1.8l-4 1.6l-17 3.8l-4 1.5l-3 1.6l-3 2.4l-3 3.2l-10 14.2l-4.8 5.3l-3.2 2.4l-3 1.6l-3 0.9l-3 0.4l-5-0.6l-5-2.2l-4-3.2l-4-4.9l-3.3-6.4l-2.5-7l-1.7-8l-0.7-8l0.3-7l1.3-7l2.2-6l2.8-5l3.6-4.5l5-4.1l5-2.4zM-150.1 90l1.1-0.9l1-0.1l3 1l4 2.6l6 5l22 19.9l29.1 25.5l3.8 4l2.2 3l0.8 2l-0.2 2l-1.1 1l-1.6 0.5l-4 0l-6-1.2l-6.4-2.3l-6.6-3.1l-7-4l-7-4.9l-6.2-5l-6.3-6l-5.5-6l-4.6-6l-4.4-6.7l-3.3-6.3l-2.4-6l-0.9-5z"/><path fill="#f99fb5" fill-rule="evenodd" d="M31.9 -35l2.1-0.4l2 0.8l1.5 1.6l0.9 2l0.2 2l-0.6 2.9l-1 1.5l-2 1.4l-2 0.1l-1-0.4l-1.6-1.5l-1-2l-0.3-3l0.4-2l1.2-2zM-120.9 45l5.9-0.2l8 0.7l33 5.4l33 4.7l9 1.8l7 1.8l13 4.5l8 3.8l7.3 4.5l6.2 5l4.5 5l3.1 5l2 6l0.4 3l-0.1 3l-1.2 5l-1.5 3l-2.4 3l-3.3 2.9l-3.4 2.1l-3.6 1.7l-5 1.7l-5 1.1l-6 0.7l-12 0.2l-13-1.6l-13-3.2l-12-4.3l-12-5.9l-12-7.8l-24.3-19.6l-5.6-5l-5-5l-3.2-4l-2.5-4l-1.6-4l-0.4-3l0.3-3l1.3-2.2l2.5-1.8z"/><path fill="#a6bddb" fill-rule="evenodd" d="M54 -96l6 0.1l7 1.1l7 2.1l7 3.1l6.5 3.6l6.5 4.6l6 5.1l6.2 6.3l5.8 7l5 7.1l5 8.2l5 9.8l4 9.2l3.1 8.7l2.9 10l1.9 9l1.1 8l0.5 8l-0.1 8l-0.8 8l-1.5 8l-1.9 7l-2.6 7l-3.3 7l-4.2 7l-4.4 6l-5.3 6l-5.4 5.1l-6 4.5l-6 3.5l-6 2.6l-6 1.5l-5 0.5l-4.9-0.7l-4.1-1.8l-2.7-2.2l-2.3-3.4l-1.6-4.6l-0.4-5l0.4-5l1.2-6l1.8-6l6-15l8.3-17l13.6-25l3.6-8l1.8-6l0.9-5l0.2-5l-0.6-6l-1.7-7l-3.5-8l-4.4-7l-5.6-7l-6-6.1l-7-6.1l-8-6.2l-15.1-10.6l-3.7-3l-1.8-2l-1.1-2l-0.2-1l0.8-2l1.1-1l2-1zM-86.2 -42l4.2-0.3l4 0.5l4 1.3l5 2.7l4 3l3.7 3.8l1.7 3l0.8 4l-0.6 4l-2.2 6l-5 10l-4.4 7.2l-3 3.8l-4 3.5l-3 1.5l-4 0.8l-4-0.6l-3-1.5l-3-2.6l-2.4-3.1l-2.1-4l-1.9-5l-1.1-5l-0.6-6l0.2-5l0.9-5l1.3-4l2.1-4l2.6-3.4l3-2.6l3-1.8z"/><path fill="#f05ea0" fill-rule="evenodd" d="M-102.7 53l5.7 0l7 0.7l48 6.4l15 3.3l12 4.3l7 3.4l6.2 3.9l5 4l4.5 5l2.4 4l1.7 5l0.2 5l-1.2 4l-1.8 3l-1.8 2l-2.3 2l-3.3 2l-3.6 1.6l-4 1.2l-9 1.5l-10 0.1l-11-1.3l-11-2.6l-11-3.9l-11.1-5.6l-10.9-7.4l-20.5-17.6l-5.4-5l-3.6-4l-2.1-3l-1.4-3l-0.4-2l0.4-2.6l1-1.5l3-1.8l3-0.8z"/><path fill="#67a5cf" fill-rule="evenodd" d="M-86.7 -32l2.7-0.6l3 0.2l3 1.1l2 1.2l2 1.9l1.5 2.2l1.2 3l0.4 3l-0.1 3l-0.8 4l-1.4 4l-2.2 4l-2.3 3l-2.3 2.1l-2 1.1l-3 0.7l-2-0.3l-2-0.9l-2-1.5l-1.8-2.2l-2.3-5l-1-6l0.4-6l1.7-5.2l3-4.1l2-1.6zM119.9 1l1.1-0.3l2 0.6l2 2.4l2.3 6.3l1.2 8l0.1 7l-0.9 8l-1.7 7.6l-2.6 7.4l-3.4 6.9l-3.9 6.1l-4.1 5l-5 4.8l-5 3.5l-5 2.3l-5 1l-4-0.7l-2-1.2l-2-2.5l-1-3.1l-0.3-3.1l0.3-4l1-5l3.8-11l6-12l7.2-11.2l14-18.2l3-3.3z"/><path fill="#c51b8a" fill-rule="evenodd" d="M-89.7 60l12.7 0.5l22 2l11 1.3l13 2.6l6 1.8l6 2.2l6 2.8l6 3.7l4 3.1l3.9 4l2.6 4l1.5 4l0.3 4l-1.1 4l-1.2 2l-2 2.3l-2.2 1.7l-2.8 1.6l-6 2.2l-8 1.3l-9 0.1l-9-1.1l-10-2.4l-9-3.3l-10-5.2l-8.9-6.2l-11-10l-10.3-11l-2.1-3l-0.9-2l-0.4-2l0.6-2l0.9-1l1.9-1z"/><path fill="#87057b" fill-rule="evenodd" d="M-78.3 67l5.3-0.7l7-0.2l18 0.9l13 2.1l6 1.6l6 2.1l5 2.2l5.2 3l4.1 3l3.1 3l2.2 3l1.8 4l0.3 3l-0.7 3.6l-2.2 3.4l-4.1 3l-5 2l-6.7 1.2l-7 0.2l-8-0.8l-8-1.8l-7-2.4l-8-3.8l-7.2-4.6l-7-6l-5.5-6l-4.1-6l-1.5-4l0.3-2l0.7-1l1.3-1z"/><path fill="#49006a" fill-rule="evenodd" d="M-60.3 71l10.3-0.2l10 1l9 2l8.4 3.2l6.8 4l2.8 2.3l2.5 2.7l1.5 2.5l0.9 2.5l0 3l-0.6 2l-2.3 3l-3 2l-5 1.7l-6 0.8l-6-0.1l-7-1.1l-7-2l-6-2.5l-6.7-3.8l-5.2-4l-4.6-5l-2.9-5l-0.5-3l0.6-2l0.8-1l1.4-1l2.1-0.9z"/><path class="z0" d="M188 52.3l-4-2.7l-4-4.1l-4-6l-3-5.7l-5-11.6l-17.3-45.2l-6.2-14l-7.2-14l-5.7-10l-6.6-10.1l-7-9.6l-7-8.5l-10-10.5l-10-9l-12-9l-11-6.9l-13-6.6l-13-5.1l-14-3.9l-11-1.7l-7-0.3l-7 0.4l-7 1.3l-6 1.8l-8 3.3l-7 3.8l-6 4.3l-3.1 3.3l-1 3l0.9 3l8.2 9.5l4 5.5l3 5.6l1.8 5.4l0.7 6l-0.6 5l-1.9 4.6l-3 3.6l-5 3.3l-6 2.2l-8 1.5l-8 0.2l-7-0.7l-7-1.9l-6-2.4l-10-5l-4-1.4l-4-0.2l-5 1.8l-5 3.9l-6 6.5l-5 7l-4.5 8l-3.3 8l-2.2 8l-1.2 8l-0.2 8l1.3 13l3.2 14l3.9 10l2.6 4l2.4 2.8l3 2.7l3.9 2.5l4.4 2l4.7 1.5l10 1.4l11-0.9l7.7-2l18.3-6.7l7-1.1l15-0.1l5-0.5l4-1.3l3-2.6l3-5.2l3-7.7l2.4-7.8l1.8-8l1.2-9l0.3-9l-0.5-8l-1.7-13l0-5l0.5-3l1.4-3l4-4l5.6-2.8l7-1.7l8-0.5l8 1l7 2l7 3.3l6.9 4.7l5.3 5l4 5l3 5l2.1 5l1.3 5l0.4 5l-0.3 6l-1.3 6l-2.3 7l-6.1 12l-4 5.9l-5 6.2l-10 9.6l-15.3 11.3l-2 2l-1.5 3l-0.2 3l0.9 4l7.7 21l3.7 13l2.1 11l0.5 9l-0.9 10l-2.8 9l-4.8 8l-6.4 6.5l-8 5.1l-9 3.1l-11 1.3l-13-0.6l-15-2.7l-15-4.3l-16-6.1l-16-7.9l-11-6.5l-11-7.7l-10-8l-10-9.1l-13-13.3l-11.3-12.8l-8.4-11l-13.3-19.1l-6-7.5l-4-4l-4-3.1l-4-2.2l-3-0.9"/><use href="#base"/><path fill="url(#g13)" d="M-84.9 76.6L0 76.6L18.8 83.7L22 91.6L22 107.3L11 121.5L0 130.9L-34.6 135.6L-55.1 121.5L-70.8 121.5L-84.9 107.3L-92.8 91.6z"/><path fill="url(#d13)" d="M-84.9 76.6L0 76.6L18.8 83.7L22 91.6L22 107.3L11 121.5L0 130.9L-34.6 135.6L-55.1 121.5L-70.8 121.5L-84.9 107.3L-92.8 91.6z"/><path fill="url(#g14)" d="M-88 6L-64 6L-64 30L-88 30z"/><path fill="url(#d14)" d="M-88 6L-64 6L-64 30L-88 30z"/><path fill="url(#g15)" d="M-35 -116.7L-26.2 -131.4L-12.4 -138.3L48.5 -138.3L56.4 -131.4L56.4 -116.7L59.3 -101.9L59.3 -86.7L46.5 -76.4L19 -76.4L3.3 -86.7L-11.4 -91.1L-26.2 -101.9z"/><path fill="url(#d15)" d="M-35 -116.7L-26.2 -131.4L-12.4 -138.3L48.5 -138.3L56.4 -131.4L56.4 -116.7L59.3 -101.9L59.3 -86.7L46.5 -76.4L19 -76.4L3.3 -86.7L-11.4 -91.1L-26.2 -101.9z"/><path fill="url(#g16)" d="M77.6 62.1L84.7 47.2L108.3 47.2L108.3 77.1L99.6 92L93.3 107L63.5 107L61.9 77.1L68.2 62.1z"/><path fill="url(#d16)" d="M77.6 62.1L84.7 47.2L108.3 47.2L108.3 77.1L99.6 92L93.3 107L63.5 107L61.9 77.1L68.2 62.1z"/><path class="sh" d="M169.9 27.7L168.7 25.9M166.9 41.7L165.9 38.9M162.8 55L162.3 51.8M157.8 67.7L157.6 64.6M151.6 79.7L151.9 77.3M-101.7 138.4L-102.3 136.6M-112.5 130L-112.9 128M-122.4 120.8L-122.8 118.5M-131.3 110.8L-131.8 108.2M-139 100.1L-139.9 97.2M-145.5 88.7L-147.3 85.4M-151.2 77L-154 73M-156.4 65L-159.6 60.2M-161.2 52.6L-163.9 47.2M-164.8 39.6L-167.1 34M-167.2 26.4L-169.4 20.5M-168.6 13.2L-170.6 6.9M-169.1 -0.1L-170.6 -6.8M-168.5 -13.5L-169.6 -20.5M-166.7 -26.7L-167.5 -34M-163.6 -39.9L-164.4 -47.2M-159.5 -52.8L-160.3 -60.1M-154.5 -65.5L-155.1 -72.4M-148.8 -78L-148.9 -84.1M-142.3 -90.3L-141.7 -94.9M-135 -102.4L-134 -105M58.7 -157.4L60.9 -158.7M70.5 -152.7L73.6 -153.5M82.1 -147.4L85.9 -147.2M93.2 -141.1L97.8 -139.7M103.9 -133.7L108.9 -131.3M114 -125.4L119.2 -122M123.5 -116.2L128.7 -111.9M132.5 -106.4L137.2 -101.2M141 -95.8L144.7 -89.8M148.7 -84.5L151.2 -78M155.6 -72.5L156.6 -65.8M161.5 -59.6L161.1 -53.4M166.3 -46L164.8 -40.9M169.9 -31.7L167.7 -28.3M172 -16.8L170 -15.4M158.7 23.2L157.2 15.9M155.8 36.8L155.3 29.4M151.8 49.9L152.3 42.7M146.8 62.6L148.1 55.8M140.5 74.6L142.8 68.6M133.2 85.8L136.4 81.1M125 96L128.8 92.9M116.1 105.5L120.2 103.9M106.6 114.3L110.6 113.9M96.8 122.5L100.1 123M86.6 130.3L88.5 130.9M-25.3 155.6L-27.4 156M-37.9 153.1L-41.4 153.1M-50.3 149.9L-55 148.9M-62.7 145.7L-68.1 143.2M-74.8 140.4L-80.5 136.5M-86.5 133.8L-92.2 128.8M-97.6 126.1L-103 120.2M-108.1 117.3L-113 110.9M-117.6 107.6L-122.2 100.7M-126.1 97L-130.5 89.8M-133.4 85.6L-138 78.4M-139.9 73.6L-144.4 66.2M-145.9 61.3L-149.5 53.6M-151 48.4L-153.3 40.7M-154.4 34.9L-156.3 27.7M-156.3 21.1L-158.3 14.5M-157.4 7.3L-159 1.1M-157.3 -6.6L-158.5 -12.3M-155.8 -20.5L-156.8 -25.5M-152.9 -34.3L-154.1 -38.5M-148.8 -48L-150.1 -51.1M-143.6 -61.5L-144.8 -63.3M-93.9 -129.8L-94.5 -127.8M-82.6 -137.5L-83.3 -135.5M-70.8 -144.1L-71.3 -142.3M59.4 -144.2L60.3 -145.9M134.9 -84L133.3 -86M142.7 -72.1L139.8 -74.8M149.2 -59.5L145.1 -62.9M154.3 -46.3L149.6 -50.4M158 -32.7L153.2 -37.6M160.2 -18.8L155.8 -24.4M161 -4.7L157.4 -11.1M160.4 9.4L157.8 2.4M146.1 16.1L144.9 7.6M143.7 29.7L143.6 21.2M140 42.9L141.1 34.7M135.1 55.6L137.4 47.9M128.9 67.7L132.4 60.7M121.6 79L126.2 73.1M113.3 89.3L118.9 85M104.2 98.7L110.4 96.1M94.5 107.2L100.7 106.3M84.5 115.1L89.9 115.4M74.1 122.4L78 123.2M-10.7 144.2L-13.2 144.9M-23.8 142.1L-27.1 143.1M-36.6 139.3L-40.8 140M-49.1 135.7L-54.1 135.5M-61.3 131.3L-66.9 129.6M-73.2 125.6L-79.1 122.4M-84.6 118.8L-90.4 114.1M-95.4 110.6L-100.7 104.9M-105.3 101.3L-110.2 94.9M-113.8 90.9L-118.9 84.2M-121.3 79.6L-126.5 72.7M-128.6 68.1L-132.6 60.5M-136.2 55.6L-136.9 48.1M-141.7 41.1L-140.6 36.5M-136.8 -46L-138.7 -43.8M-131.6 -59L-134.4 -56.3M-125.6 -71.6L-128.7 -68.4M-118.7 -83.5L-121.7 -80.1M-110.9 -94.5L-113.5 -91.1M-102.1 -104.7L-104.3 -101.5M-92.4 -113.8L-94.2 -111.1M-81.9 -122L-83.2 -119.7M-70.7 -129L-71.5 -127.3M60.9 -130.2L59.8 -132.5M74.2 -123.9L71.6 -126.9M86.7 -116.4L82.5 -120.1M98.1 -107.7L92.8 -112.3M108.2 -97.8L102.4 -103.4M117.3 -87.2L111.4 -93.5M125.2 -75.9L119.5 -82.7M132 -63.9L126.6 -71.1M137.6 -51.4L132.6 -58.8M142 -38.4L137.5 -46.1M145.1 -25L141.1 -33M146.8 -11.4L143.6 -19.6M147.1 2.4L144.9 -6M132.1 21.1L131.2 14.4M128.8 34.6L129.2 27.8M124.1 47.6L125.8 40.9M117.9 59.8L121.1 53.7M110.4 71L115.2 66.1M102 81.2L108 77.9M92.8 90.3L99.5 88.9M83.1 98.7L89.7 98.9M72.9 106.2L78.8 107.7M62.5 112.9L66.6 115M52.3 118.8L53.5 120.4M31.2 128L27.9 129.4M19.1 130.6L13.4 131.9M6.1 131.7L-0.9 132.7M-7.1 131.3L-14.8 132M-20.4 129.6L-28.5 129.9M-33.5 126.8L-41.8 126.3M-46.3 122.9L-54.7 121.2M-58.7 117.9L-66.9 114.7M-70.7 111.6L-78.2 107.1M-82.1 104.1L-88.7 98.3M-92.4 95.1L-98.3 88.7M-101.2 84.7L-107.1 78.2M-109.6 73.9L-114.5 66.8M-120.4 62.2L-119.2 55.1M-129.6 46.1L-123.1 43.8M-132.3 29.9L-128.2 31.5M-132.5 14.9L-131.2 17.9M-132.8 0.6L-132.3 4.8M-132.1 -13.5L-132.1 -8.4M-129.6 -27.3L-130.6 -21.6M-125.4 -40.4L-128 -34.9M-120.2 -52.8L-123.8 -47.9M-114.3 -64.7L-118 -60.6M-107.5 -75.9L-110.8 -72.7M-99.8 -86.5L-102.3 -84M-91.2 -96.1L-92.6 -94.6M49 -122.3L45.5 -124.4M62.5 -116.7L57.2 -119.5M75.1 -109.8L68.5 -113.1M86.5 -101.7L79.3 -105.5M96.7 -92.2L89.6 -96.9M105.7 -81.7L99 -87.2M113.6 -70.4L107.4 -76.6M120.3 -58.4L114.7 -65.1M125.7 -45.8L120.8 -52.9M129.8 -32.9L125.6 -40.1M132.6 -19.6L129.1 -26.7M133.9 -6.2L131.2 -13M133.7 7.4L131.9 0.7M120.9 6.9L119.2 8M92.2 70L95.2 71.1M83 79.4L87.2 81.9M73.2 88L77.6 91.6M62.8 95.6L66.6 99.9M52.3 101.9L54.5 106.7M42.1 107L41.6 112.3M32 111.5L27.7 116.7M20.6 115.1L13.2 119.1M7.8 117.2L-0.8 119.6M-5.5 117.6L-14.5 118.7M-18.9 116.3L-28 116.2M-32 113.6L-41 112.1M-44.9 109.5L-53.5 106.6M-57.3 104.1L-65.2 99.6M-69.2 97.4L-75.9 91.3M-80 88.9L-85.7 82.1M-89.8 79.2L-94.4 71.9M-103.1 67.6L-100.1 61.4M-113.4 51.7L-104.7 50.8M-118.2 37L-110.1 39.2M-119.5 21.8L-115.1 26.6M-119.9 7.3L-117.8 13.5M-119.7 -6.8L-118.6 0.4M-117.7 -20.6L-118 -12.9M-113.7 -33.7L-116.1 -26.3M-108.2 -45.8L-112.7 -39.7M-102.1 -57L-107.3 -52.8M-95.6 -67.5L-99.8 -65.2M-88.3 -77.5L-90.6 -76.6M21.7 -117.6L18.6 -117.5M35.9 -114.1L30.9 -114.7M49.4 -109.2L43 -110.6M62 -103L54.9 -105M73.5 -95.5L66.4 -98M83.9 -86.7L77.3 -89.6M92.8 -76.9L87.4 -79.9M100.1 -66.6L96.9 -68.8M118.6 -21.2L117.7 -19.4M120.7 -7.5L119.1 -5.7M107.2 9.8L103.5 15.5M104.6 23.2L100.9 28.7M99.8 35.8L96.8 41.5M93 47.6L91.1 53.7M84.7 58.7L83.9 65M75.2 68.9L75.3 75.3M64.7 78L65.4 84.2M53.2 85.7L54.4 91.8M41.4 91.6L42.3 98.3M29.9 95.7L29.2 103.3M18.9 98.9L15.1 106.4M7.4 101.3L0.7 107.2M-5 102.5L-13.3 105.9M-17.9 101.9L-26.9 102.9M-30.8 99.8L-39.8 98.2M-44 96.4L-51.7 91.7M-57.7 91.3L-62.2 83.8M-72 83.2L-71 75.4M-85.9 70.1L-78.5 66.9M-94.9 56.7L-85.9 57.1M-101.3 44.1L-92.5 45.6M-105.5 30.2L-98 33.6M-107 15.3L-102.2 21.2M-107.4 0.7L-104.3 8.4M-105.9 -13.4L-104.8 -4.7M-102.1 -26.7L-103.9 -18.1M-96.1 -38.5L-101.4 -31.8M-89.6 -48.9L-96.8 -45.2M-83.1 -58.9L-89.6 -57.7M-76.2 -68.6L-80.1 -68.8M-67.5 -76.8L-70.3 -78.4M-59.3 -83.7L-59.7 -86.5M-52 -92.8L-47.7 -93.9M-40 -100.9L-34.7 -98.7M-24.7 -105.6L-22.9 -103M6.4 -107.1L4.4 -105.6M20.5 -105.2L17.5 -104M33.8 -101.6L30.7 -100.9M45.9 -96.5L44 -96.2M73.6 -75.4L76.3 -72.7M81.7 -66L85.7 -61.6M89.3 -55.5L93.1 -49.7M96 -43.9L98.6 -37.3M101.6 -31.3L102.3 -24.3M105.6 -18L104.3 -11.1M107.6 -4.1L104.7 2.2M95.1 1.7L91.9 8.2M93.4 15L89.8 21.8M89.5 27.9L86 35M83.5 40.1L80.3 47.3M75.7 51.4L73 58.6M66.2 61.8L64.2 68.5M55.1 70.8L54.1 76.7M42.2 78L42.9 83.8M28.4 82.9L31 89.8M15.2 85.8L18 93.8M2.5 87L4.2 95.6M-10.3 86.5L-9.7 95.1M-24.1 84.8L-22.9 91.9M-40.5 84.3L-34.9 86.1M-54.2 80.5L-45.6 79.1M-65.5 72.2L-56.5 71.4M-75.3 61.8L-66.2 62.5M-83.6 50.7L-74.6 51.9M-90.1 39L-81.5 40.1M-94.3 25.9L-87 27.5M-96.8 11.1L-90.1 14.9M-96.5 -4.2L-91.6 2.1M-92.2 -18.7L-92 -11.3M-84.6 -29.7L-90.9 -25.3M-78.5 -39.6L-86.8 -39.1M-72.3 -50.3L-79.8 -51.4M-65.3 -61.1L-70.2 -62M-55.5 -70.2L-60.7 -71.6M-44.3 -78.2L-49.8 -79.5M-35.5 -88.1L-36.4 -86M-24.9 -94.3L-23.5 -88.9M-10.9 -96.1L-10.4 -92.1M27 -89.4L29.5 -88.2M38.1 -84.5L43.3 -82.4M49.2 -78.2L55.5 -74.9M59.8 -70.3L66.1 -65.9M69.5 -60.9L74.9 -55.6M78.1 -50.2L82 -44.2M85.4 -38.3L87.2 -32M91 -25.3L90.6 -19M94.3 -11.9L92.2 -5.5M82.1 8L79.4 13.9M79 21.1L76 27.5M73.5 33.7L70.5 40.1M65.9 45.4L63.1 51.4M56.2 56.1L54 60.8M44 65.1L43.5 68.2M29.2 71.3L31.6 75.2M14.1 74.9L19.9 80.5M0 76.8L6.7 82.7M-14.2 76.9L-6.8 82.1M-28.2 75.2L-20 79M-41.5 71.4L-32.6 73.5M-53.4 65L-44.4 66.2M-63.8 56.1L-54.8 57.3M-72.4 45.7L-63.8 46.6M-78.3 35.2L-71.7 34.2M-82.7 23.7L-76.5 20.9M-85.4 10.7L-78.8 7.1M-84.1 -2.2L-79.8 -6.7M-76.9 -15L-79.2 -20.3M-69.6 -29.1L-76.2 -33.5M-62.7 -42.4L-69.7 -45.1M-55.1 -54.5L-60.1 -55.3M-44.9 -64.4L-50 -64.4M-32.7 -72.7L-39 -71.5M-21.7 -80.1L-25.6 -76.4M-11.4 -83.2L-11.5 -80.6M-0.1 -82.2L1.6 -81.3M11.8 -79.7L16.6 -79.4M24 -76.2L30.8 -75.4M36.2 -71.1L43.4 -69M47.9 -64.4L54.4 -60.5M58.8 -55.6L63.4 -50.5M68.3 -44.7L70.6 -39.5M75.8 -32.2L76 -27.4M80.6 -18.9L79.5 -14.2M82.6 -5.4L80.6 -0.2M70.9 1.3L69.2 5.3M68.7 14.7L66.8 18.8M64 27.5L62 31.5M56.7 39.6L54.9 42.6M19 64.4L22.1 65.9M3.5 66.5L10.9 69.9M-10.5 66.8L-2.3 70.5M-24.2 65L-15.6 68M-37.1 60.7L-28.3 62.9M-48.6 53.8L-39.8 55.5M-58.1 44.7L-50.2 45.9M-64 35.1L-60.1 34.4M-68.8 25.1L-65.4 21.5M-72 13.4L-67.8 7M-71.6 0.5L-68.4 -7.1M-67.1 -12.8L-67 -20.4M-59 -27.4L-63.1 -32.1M-50.6 -41.4L-56 -42.8M-41.8 -52.3L-46 -52.5M-31.1 -60.5L-34.4 -60.3M1.8 -68.3L4.7 -69.3M13.8 -65.9L19.5 -67.4M26 -62.1L32.7 -62.2M38 -56.9L44 -54.3M49.7 -49.4L53.2 -44.5M59.6 -38.8L60.5 -33.5M66.6 -26.1L65.8 -21.4M70.2 -12.4L68.8 -8.4M58.7 8.4L57.3 10.3M9.8 56.7L12.2 56.6M-5.7 57L1 58.3M-19.7 54.8L-11.7 56.9M-32.2 50.1L-24.4 52.1M-42.4 42.9L-36.5 44.3M-59.2 12.8L-57 8.9M-60.4 0.1L-57.1 -5.3M-57 -13.7L-55.1 -17.8M-38 -39.7L-42.1 -40.4M-27.9 -48.1L-31.4 -48.8M5.4 -54.5L7.5 -57.7M17 -51.5L21.3 -54.9M28.5 -47.5L33.1 -48.2M40.3 -42.1L42.8 -39.1M50.8 -32.7L50.5 -27.5M57.3 -19.9L55.4 -15.2M59.9 -5.8L57.8 -2.5M49.4 1.7L46.9 3.2M-12.7 45.8L-10.5 45.8M-49.4 -1.5L-46.8 -3.2M-46.3 -14.9L-44.4 -16M-25.1 -35.9L-28 -37.4M-13.8 -41.5L-16.5 -43.9M-2.3 -43.1L-3.5 -47M9.2 -41.2L10.1 -46.9M20.5 -37.1L22.8 -42M42.8 -24.9L41.3 -22.8M48.6 -12.6L45.3 -9.7M37.1 10L34.7 9.5M-37.1 -8.3L-34.6 -9.2M-16.3 -28L-17.5 -30.6M-3.2 -31L-4.8 -36.2M9.6 -29.1L9.3 -36M22.2 -23.4L21.6 -29.3M33.6 -15.9L30.9 -17.5M38.9 -4.3L34.9 -4.5M27.5 4L24.1 1.5M21.5 16.7L20 15.1M-25.3 -6.9L-23.4 -8.2M-15.7 -16.6L-14.8 -19.4M-1.6 -19.8L-1.8 -25.7M12.4 -16.4L11.5 -23.3M23.9 -8L20.9 -12.7M12.8 10.3L11.3 7.7M-12.6 -4.9L-11.4 -7.2M0.8 -9.1L1 -14.4M13.6 -1.9L11.8 -6.8"/><path class="hd" d="M168 10.7L170.9 10.3L171.7 13.1L168.8 13.5zM166.9 23L171.2 25.5L167.3 28zM164.8 35.7L168.4 39.1L164.1 40.6zM161.7 48.5L164.7 52.4L160.2 53.2zM157.5 61.2L160 65.5L155.4 65.7zM152.4 73.9L154.1 78.6L149.5 77.9zM146.4 86.6L147.1 89.4L144.5 90.6L143.7 87.8zM139.7 98.6L139.1 101.4L136.2 101.2L136.8 98.4zM131.7 110.2L129.8 112.4L127.4 110.8L129.3 108.6zM122.5 120.9L120 122.3L118.2 120L120.8 118.6zM112.4 130.7L109.5 131.3L108.5 128.6L111.3 128zM101.4 139.5L98.5 139.4L98.1 136.5L101 136.6zM89.6 147.4L86.8 146.4L87.4 143.6L90.2 144.6zM75.8 154.1L74.9 151.3L77.5 150L78.4 152.8zM62.2 157.1L64.8 155.8L66.4 158.3L63.8 159.5zM49.9 160.9L52.8 160.8L53.3 163.7L50.4 163.8zM37.2 164.2L40 164.7L39.9 167.6L37 167.1zM24.1 166.5L26.9 167.5L26.3 170.3L23.6 169.4zM10.7 168L13.4 169L12.8 171.8L10.1 170.8zM-3.7 169.2L-0.9 168.6L0.2 171.3L-2.7 172zM-17 170.9L-16.4 168.1L-13.5 168.3L-14.1 171.1zM-30.5 169.1L-29.8 166.3L-26.9 166.6L-27.7 169.4zM-44.1 165.4L-42.3 163.2L-39.8 164.7L-41.6 166.9zM-57 160.5L-54.3 159.4L-52.9 161.9L-55.6 163zM-69.2 154.9L-66.3 154.9L-65.9 157.8L-68.8 157.8zM-81.1 148.7L-78.2 149.3L-78.5 152.2L-81.3 151.6zM-92.5 141.7L-89.8 142.8L-90.5 145.6L-93.2 144.5zM-103.5 133.4L-99.8 136.8L-104.2 138.3zM-113.7 124.7L-110.5 128.5L-114.9 129.5zM-123.3 115.1L-120.3 119.1L-124.9 119.8zM-132.3 104.8L-129.3 108.8L-133.8 109.6zM-141 93.9L-137.4 97.4L-141.8 98.8zM-149 82.4L-144.8 85.2L-148.9 87.4zM-155.9 70.2L-151.5 72.5L-155.3 75.1zM-161.4 57.3L-157.1 59.8L-161 62.3zM-165.4 44.1L-161.4 47L-165.5 49.1zM-168.4 30.9L-164.6 34.1L-168.9 35.8zM-170.6 17.4L-166.9 20.7L-171.2 22.3zM-171.6 3.6L-168.1 7.1L-172.5 8.5zM-171.4 -10.2L-168.1 -6.4L-172.6 -5.4zM-170.1 -23.8L-167.1 -19.8L-171.7 -19.1zM-167.9 -37.4L-165.1 -33.2L-169.6 -32.7zM-164.7 -50.6L-162 -46.5L-166.6 -46zM-160.6 -63.5L-157.9 -59.3L-162.5 -58.8zM-155.4 -75.8L-152.7 -71.6L-157.3 -71.2zM-148.9 -87.5L-146.5 -83.1L-151.1 -83.1zM-141.3 -98.3L-139.6 -93.7L-144.1 -94.3zM-132.7 -108.2L-132.2 -103.3L-136.5 -104.9zM-123.6 -117.2L-123.7 -114.3L-126.5 -114L-126.5 -116.9zM-113.4 -125.8L-115 -123.3L-117.6 -124.5L-116 -127zM-103.1 -133.1L-105.9 -132.2L-107.2 -134.8L-104.5 -135.7zM-92.8 -140.2L-95.7 -140.7L-95.6 -143.6L-92.7 -143.1zM-81.7 -146.9L-84.4 -148.1L-83.5 -150.9L-80.9 -149.7zM-70 -152.9L-72.4 -154.5L-71.1 -157.1L-68.7 -155.5zM-57.6 -158L-59.9 -159.8L-58.4 -162.3L-56.1 -160.5zM-44.9 -162L-47 -164L-45.3 -166.4L-43.2 -164.4zM-31.8 -165.1L-33.8 -167.2L-32 -169.5L-30 -167.4zM-18.5 -167.1L-20.4 -169.3L-18.5 -171.5L-16.6 -169.3zM-5 -168L-6.9 -170.2L-5 -172.4L-3.1 -170.2zM10.7 -169.8L8.3 -168.2L6.3 -170.4L8.8 -172zM23.3 -170.6L23.5 -167.7L20.7 -167.1L20.5 -170zM36.8 -168.3L36.8 -165.4L34 -164.9L33.9 -167.8zM50.1 -164.7L49.8 -161.8L46.8 -161.8L47.2 -164.7zM63.9 -160.3L61.2 -156.2L58.9 -160.2zM77 -154.3L73.2 -151L72.1 -155.5zM89.3 -146.9L84.8 -144.9L85.1 -149.5zM101 -138.7L96.1 -137.8L97.5 -142.2zM111.9 -129.7L107 -129.6L109 -133.8zM122.1 -120.1L117.2 -120.6L119.7 -124.4zM131.3 -109.7L126.5 -110.8L129.4 -114.3zM139.5 -98.6L134.8 -100.4L138.3 -103.4zM146.5 -86.9L142.2 -89.4L146.1 -91.9zM152.3 -74.8L148.7 -78.1L153 -79.7zM157.1 -62.4L154.2 -66.4L158.8 -67.1zM160.9 -50L158.9 -54.5L163.5 -54.2zM163.8 -37.6L162.9 -42.5L167.3 -41.2zM165.9 -25.5L166.3 -30.4L170.2 -27.9zM167.3 -13.5L169.5 -17.9L172.2 -14.1zM168.1 -1.5L170.2 -3.5L172.5 -1.7L170.4 0.3zM156.5 12.6L159.6 16.4L155.1 17.3zM155.1 26L157.7 30.2L153.1 30.5zM152.6 39.3L154.6 43.8L150 43.5zM148.8 52.5L150.2 57.3L145.7 56.3zM144.1 65.5L144.6 70.4L140.3 68.8zM138.3 78.2L137.7 83.2L133.9 80.6zM131.4 90.7L129.5 95.3L126.5 91.8zM123.3 102.6L120.1 106.4L118.4 102.1zM114 113.6L109.8 116.3L109.4 111.7zM103.4 123.5L98.7 125.1L99.4 120.6zM91.7 132L86.8 132.8L88.2 128.4zM79.6 139.3L76.8 140.1L75.6 137.4L78.4 136.6zM67.4 145.3L64.7 146.3L63.3 143.7L66 142.7zM51.2 148L54.1 148.2L54.3 151.1L51.4 150.9zM38 152.1L40.9 152.2L41.3 155L38.4 155zM24.6 155.1L27.5 154.9L28.1 157.7L25.2 157.9zM10.7 157.3L13.5 156.3L14.8 158.9L12.1 159.9zM-3.1 158.6L-0.9 156.7L1.3 158.5L-0.8 160.5zM-16.6 158.4L-14.9 156.1L-12.4 157.4L-14.1 159.8zM-30.7 156.6L-26.8 153.5L-26 158.1zM-44.8 153.2L-40.4 150.8L-40.3 155.4zM-58.3 148.1L-53.6 146.8L-54.5 151.3zM-71.2 141.8L-66.3 141.6L-68.2 145.7zM-83.4 134.6L-78.4 135.1L-81 139zM-94.7 126.6L-89.9 127.7L-92.9 131.2zM-105.3 117.7L-100.6 119.4L-104 122.5zM-115 108.1L-110.5 110.3L-114.2 113zM-124 97.9L-119.7 100.3L-123.5 102.8zM-132.3 87L-128 89.5L-132 91.9zM-139.8 75.5L-135.5 78L-139.4 80.4zM-146.2 63.3L-141.9 65.9L-145.9 68.3zM-150.9 50.5L-147 53.5L-151.2 55.5zM-154.3 37.5L-150.9 41L-155.3 42.3zM-157.2 24.5L-153.8 28.1L-158.3 29.3zM-159.2 11.2L-155.8 14.8L-160.2 16.1zM-159.8 -2.2L-156.5 1.5L-160.9 2.6zM-159.2 -15.6L-156 -11.8L-160.5 -10.8zM-157.5 -28.8L-154.4 -25L-158.9 -24zM-155 -41.8L-151.6 -38.1L-156 -36.9zM-151.5 -54.3L-147.6 -51.1L-151.9 -49.3zM-146.8 -66.1L-142.4 -63.8L-146.2 -61.2zM-140.9 -77.4L-138 -77.6L-137.4 -74.8L-140.3 -74.6zM-134.3 -87.7L-132.2 -89.7L-129.9 -87.9L-132 -85.9zM-125.6 -97.2L-125.4 -100.1L-122.5 -100.4L-122.7 -97.5zM-116.1 -107.1L-116.8 -109.9L-114.1 -111.1L-113.4 -108.3zM-106.1 -116.5L-107.1 -119.2L-104.6 -120.7L-103.5 -117.9zM-95.6 -124.6L-96.4 -129.5L-92 -128.1zM-84.2 -132.2L-85.2 -137.1L-80.8 -135.8zM-72.2 -139L-73.3 -143.8L-68.9 -142.6zM-59.6 -145L-61 -147.6L-58.6 -149.3L-57.3 -146.7zM-46.7 -149.6L-48.1 -152.1L-45.8 -153.9L-44.4 -151.3zM-33.4 -153L-34.9 -155.5L-32.6 -157.3L-31.2 -154.8zM-20 -155.2L-21.4 -157.7L-19.2 -159.6L-17.7 -157zM-6.3 -156.3L-7.8 -158.8L-5.6 -160.7L-4.1 -158.2zM8.8 -160.3L9.3 -157.5L6.6 -156.5L6 -159.4zM22 -159.2L23.1 -156.5L20.5 -155.1L19.5 -157.8zM35.5 -156.8L36.5 -154L33.9 -152.7L33 -155.5zM48.8 -153.2L49.6 -150.4L46.9 -149.2L46.2 -152zM62 -148.8L61.9 -143.9L57.8 -146.1zM74.3 -142.6L74.7 -139.7L71.9 -138.9L71.5 -141.8zM86.1 -135.8L86.5 -132.9L83.7 -132.1L83.3 -135zM97.1 -128.1L97.8 -125.3L95.1 -124.2L94.4 -127zM107 -119.6L108.5 -117.1L106.2 -115.3L104.7 -117.8zM116 -110L118.2 -108.1L116.5 -105.7L114.4 -107.6zM124.2 -99.5L126.9 -98.2L126 -95.4L123.4 -96.7zM131.2 -88.6L135.8 -86.6L132.1 -83.8zM137.3 -77.1L142 -75.8L138.9 -72.4zM142.5 -65L147.4 -64L144.4 -60.5zM147 -52.6L151.9 -51.5L148.9 -48zM150.8 -40L155.5 -38.5L152.2 -35.2zM153.7 -27.1L158.2 -25L154.6 -22.2zM155.7 -14L159.9 -11.3L155.8 -9.1zM156.6 -0.8L160.3 2.5L156 4.1zM144.4 4.2L147.3 8.3L142.7 8.9zM143.6 17.8L145.9 22.2L141.3 22.2zM141.6 31.3L143.3 36L138.7 35.3zM138.3 44.6L139.3 49.5L134.9 48.2zM133.9 57.7L134 62.6L129.9 60.6zM128.3 70.5L127.4 75.3L123.8 72.5zM121.6 82.9L119.5 87.4L116.7 83.8zM113.5 94.8L110.3 98.6L108.6 94.3zM104.1 105.7L100.1 108.7L99.4 104.1zM93.3 115.5L88.8 117.6L89 113zM81.3 123.8L76.6 125.2L77.5 120.7zM67.9 130.5L65.3 131.7L63.7 129.2L66.4 128.1zM55.3 136.5L52.5 137.1L51.4 134.4L54.3 133.8zM38.3 139.5L40.8 138L42.6 140.2L40.1 141.7zM25 142.6L27.5 141.2L29.4 143.4L26.8 144.9zM11.5 144.8L13.8 143.1L15.9 145.1L13.6 146.9zM-2.1 145.9L-0.2 143.7L2.2 145.3L0.3 147.5zM-16.5 145.7L-12.8 142.4L-11.6 146.8zM-30.4 144L-26.8 140.6L-25.5 145zM-44.1 140.5L-40.1 137.5L-39.4 142.1zM-57.5 135.3L-53 133.2L-53.2 137.8zM-70.2 128.6L-65.3 127.6L-66.6 132zM-82 120.7L-77.1 120.9L-79.3 124.9zM-93 112L-88.1 113L-91 116.5zM-103 102.5L-98.4 104.1L-101.7 107.2zM-112.3 92.2L-107.8 94.3L-111.4 97.1zM-120.9 81.5L-116.4 83.6L-120.1 86.4zM-128.6 70L-124.1 72.1L-127.7 74.9zM-134.2 57.5L-130.1 60.3L-134.1 62.5zM-137.2 44.8L-134.5 48.9L-139.1 49.3zM-139.9 33.2L-138.6 38L-143.1 37zM-143.7 21.6L-141.7 23.8L-143.6 26L-145.5 23.9zM-146.2 8.3L-143.5 9.4L-144.3 12.3L-146.9 11.1zM-147.8 -3.4L-145.5 -5.3L-143.4 -3.3L-145.6 -1.5zM-145.9 -15.2L-146.2 -18.1L-143.3 -18.8L-143.1 -15.9zM-143.7 -28.7L-143.9 -31.6L-141.1 -32.2L-140.9 -29.3zM-141.1 -41.3L-139.7 -46.1L-136.4 -43zM-136.8 -53.9L-135.3 -58.6L-132 -55.4zM-131 -66L-129.6 -70.8L-126.3 -67.6zM-123.9 -77.5L-122.8 -82.4L-119.3 -79.3zM-115.6 -88.5L-114.7 -93.3L-111.1 -90.5zM-106.3 -98.7L-105.6 -103.6L-101.9 -101zM-96 -108.2L-95.6 -113.1L-91.7 -110.7zM-84.9 -116.7L-84.7 -121.7L-80.7 -119.4zM-73 -124.3L-73.1 -129.2L-69 -127.2zM-60.5 -130.8L-61.4 -133.6L-58.8 -134.8L-57.9 -132.1zM-47.7 -135.7L-48.8 -138.4L-46.3 -139.9L-45.2 -137.2zM-34.4 -139.5L-35.7 -142.1L-33.3 -143.7L-32 -141.1zM-20.8 -142L-22.3 -144.5L-20.1 -146.3L-18.6 -143.8zM-7.1 -143.3L-8.8 -145.7L-6.6 -147.6L-5 -145.2zM6.8 -147.6L8.7 -145.5L6.8 -143.2L4.9 -145.4zM20.3 -146.4L22.3 -144.2L20.4 -142L18.5 -144.1zM33.6 -143.8L35.7 -141.8L34 -139.4L31.9 -141.5zM46.4 -140L48.7 -138.3L47.4 -135.7L45 -137.4zM58.2 -135.5L62.3 -132.6L58.2 -130.6zM69.4 -129.4L74 -127.6L70.5 -124.6zM80 -122.4L84.8 -121.2L81.7 -117.7zM90.2 -114.5L95 -113.4L92 -109.9zM100 -105.7L104.8 -104.3L101.6 -101zM109.1 -96L113.8 -94.3L110.4 -91.2zM117.4 -85.3L122 -83.4L118.4 -80.4zM124.6 -73.8L129.1 -71.6L125.4 -68.9zM130.7 -61.7L135.1 -59.3L131.3 -56.7zM135.7 -49.1L140 -46.4L136 -44.1zM139.7 -36.1L143.7 -33.1L139.5 -31.1zM142.4 -22.8L146.1 -19.5L141.8 -17.9zM144 -9.3L147.4 -5.7L142.9 -4.5zM130.8 11L133.6 15.1L129.1 15.7zM129.3 24.4L131.4 28.9L126.8 28.7zM126.6 37.6L127.8 42.5L123.3 41.3zM122.8 50.7L122.7 55.7L118.6 53.5zM117.6 63.7L116.2 68.4L112.9 65.2zM111 76.2L108.2 80.4L106 76.3zM102.8 88.1L99 91.3L98 86.8zM93.1 99L88.7 101.1L88.8 96.5zM82.1 108.5L77.2 109.7L78.4 105.2zM69.6 116.6L64.6 116.6L66.7 112.5zM55.5 123.1L51 121L54.7 118.2zM40.2 127.8L39.5 125L42.2 123.9L42.9 126.7zM24.8 130.8L27.9 126.9L29.8 131.1zM10 132.6L13.9 129.4L14.8 133.9zM-4.2 133.1L-0.2 130.2L0.4 134.8zM-18.2 132.3L-14 129.6L-13.6 134.2zM-31.9 130L-27.6 127.5L-27.4 132.1zM-45.2 126.1L-40.7 124L-41 128.6zM-58 120.5L-53.2 119.1L-54.2 123.6zM-70 113.5L-65.1 113L-66.7 117.2zM-81.1 105.3L-76.2 105.6L-78.6 109.6zM-91.2 96.1L-86.4 97.2L-89.5 100.7zM-100.6 86.2L-96 87.8L-99.3 91zM-109.4 75.7L-104.8 77.4L-108.2 80.5zM-116.4 64L-112 66.3L-115.8 68.9zM-118.6 51.8L-117.1 56.5L-121.6 55.7zM-119.9 42.7L-123.3 46.3L-124.8 42zM-125 32.8L-129.9 33.3L-128.2 29zM-129.9 21L-133.7 17.8L-129.5 16zM-131.8 8.1L-134.7 4.1L-130.1 3.5zM-132.1 -5L-134.4 -9.4L-129.8 -9.4zM-131.3 -18.3L-132.7 -23L-128.2 -22.2zM-129.4 -31.8L-129.6 -36.7L-125.4 -34.8zM-125.8 -45.2L-125 -50.1L-121.3 -47.4zM-120.3 -58.1L-119 -62.9L-115.7 -59.8zM-113.2 -70.3L-111.7 -75L-108.5 -71.7zM-104.8 -81.7L-103.2 -86.4L-100 -83.1zM-95 -92.2L-93.6 -96.9L-90.3 -93.7zM-84.2 -101.4L-84.5 -104.3L-81.6 -105L-81.4 -102.1zM-72.7 -109.2L-73.6 -111.9L-71.1 -113.2L-70.1 -110.5zM-60.6 -115.9L-61.9 -118.5L-59.5 -120.1L-58.2 -117.5zM-48.2 -121.4L-49.4 -124L-47.1 -125.7L-45.8 -123.1zM-35.2 -125.7L-36.5 -128.3L-34.1 -129.9L-32.8 -127.3zM-22 -128.6L-23.1 -131.3L-20.6 -132.8L-19.5 -130.1zM-9.1 -130.4L-9.3 -133.3L-6.4 -133.9L-6.3 -131zM3.7 -132.3L5.9 -134.2L8.1 -132.2L5.8 -130.4zM17.5 -132L20.3 -132.6L21.4 -129.9L18.5 -129.3zM31 -129.5L33.8 -129.9L34.6 -127.1L31.7 -126.7zM42.6 -126.2L47.6 -125.8L45.2 -121.9zM54.2 -121.1L59.1 -121L57 -117zM65.4 -114.6L70.4 -114.7L68.3 -110.6zM76.3 -107.2L81.3 -107.1L79.1 -103zM86.7 -98.8L91.7 -98.3L89.1 -94.4zM96.4 -89.4L101.2 -88.4L98.3 -84.8zM105 -79L109.7 -77.5L106.5 -74.3zM112.5 -67.7L117.1 -65.8L113.6 -62.9zM118.8 -55.7L123.2 -53.4L119.5 -50.8zM123.9 -43L128.1 -40.4L124.1 -38zM127.6 -29.8L131.6 -26.8L127.5 -24.8zM130 -16.2L133.7 -12.9L129.4 -11.2zM131 -2.5L134.4 1.1L130 2.3zM116.3 9.7L118.9 5.5L121.2 9.4zM114.7 22.1L116.6 19.9L119.1 21.4L117.2 23.7zM111.6 34.2L114.3 33.2L115.7 35.7L113 36.8zM109.8 45.7L110.6 48.5L108 49.7L107.2 46.9zM105 59.9L102.7 61.7L100.6 59.7L102.8 57.9zM98.4 72.3L93.4 72.9L95 68.6zM90.1 83.6L85.2 83.4L87.5 79.4zM80.2 93.7L75.3 92.7L78.2 89.1zM68.9 102.4L64.2 100.6L67.7 97.6zM56 109.8L52 106.8L56.2 104.8zM41.3 115.6L39.4 111.1L44 111.5zM25.5 119.3L26.5 114.4L30.1 117.4zM10.2 120.7L13 116.6L15.2 120.6zM-4.1 120.5L-0.4 117.1L0.8 121.6zM-17.9 119.1L-13.8 116.3L-13.2 120.8zM-31.4 116.1L-26.9 113.9L-27 118.5zM-44.4 111.6L-39.7 110L-40.4 114.6zM-56.7 105.5L-51.8 104.7L-53.3 109.1zM-68.1 97.9L-63.2 98.1L-65.4 102.1zM-78.4 89.1L-73.6 90.3L-76.7 93.7zM-87.9 79.4L-83.3 81.3L-86.9 84.3zM-96.2 69L-91.9 71.5L-95.8 73.9zM-98.6 58.4L-98.5 63.3L-102.6 61.3zM-101.3 50.5L-105.5 53.2L-106 48.6zM-106.8 40L-111.6 41.1L-110.4 36.7zM-112.8 29.1L-117.4 27.4L-114.1 24.3zM-116.7 16.8L-120.3 13.3L-115.9 11.9zM-118.1 3.7L-121 -0.3L-116.5 -1zM-118.1 -9.5L-120.3 -14L-115.7 -13.8zM-117.2 -23.1L-118 -28L-113.6 -26.6zM-114.7 -37L-114 -41.9L-110.2 -39.2zM-109.9 -50.6L-108 -55.2L-105.1 -51.6zM-102.8 -63.6L-100.1 -67.7L-97.8 -63.7zM-93.8 -75.4L-90.5 -79.1L-88.9 -74.8zM-84 -86.5L-81.6 -88.2L-79.6 -86.2L-81.9 -84.4zM-70.5 -97.1L-69.6 -94.3L-72.3 -93.1L-73.1 -95.8zM-57.9 -103L-59.7 -100.7L-62.2 -102.2L-60.4 -104.5zM-45.9 -108.2L-48.5 -107L-50.1 -109.4L-47.5 -110.6zM-33.9 -111.8L-36.8 -112.4L-36.7 -115.3L-33.8 -114.7zM-22.7 -114.7L-23.9 -117.3L-21.5 -118.9L-20.3 -116.3zM-10.4 -117.2L-9.8 -120.1L-6.9 -119.9L-7.5 -117.1zM2.8 -118.1L4.4 -120.6L7 -119.5L5.5 -117zM15.2 -117.3L19.5 -119.8L19.7 -115.2zM27.5 -115.1L32.1 -116.9L31.6 -112.3zM39.7 -111.3L44.5 -112.6L43.5 -108.1zM51.7 -105.9L56.5 -106.9L55.3 -102.5zM63.2 -99.1L68.1 -99.8L66.6 -95.5zM74.1 -91L79.1 -91.3L77.2 -87.1zM84.5 -81.6L89.4 -81.5L87.2 -77.5zM94.1 -70.7L99 -70.1L96.4 -66.3zM102.4 -58.2L105.2 -58.8L106.2 -56L103.3 -55.5zM108.4 -43.5L108.9 -46.4L111.9 -46.2L111.3 -43.4zM113.8 -29.9L112.7 -32.6L115.2 -34.1L116.3 -31.4zM116.3 -16.3L116.1 -21.3L120.2 -19.3zM116.9 -3.1L118 -7.9L121.5 -4.9zM101.7 18.4L102.1 13.5L106 16zM99 31.5L99.5 26.6L103.3 29.1zM95.2 44.5L95.2 39.5L99.3 41.7zM90.1 56.9L89.2 52L93.6 53.4zM83.5 68.4L81.8 63.8L86.3 64.3zM75.4 78.7L73 74.3L77.6 74.2zM65.8 87.6L63 83.5L67.6 82.9zM55 95.2L51.9 91.3L56.4 90.4zM42.8 101.7L39.9 97.6L44.5 97zM28.9 106.7L27 102.1L31.6 102.6zM13.5 109.4L13.5 104.4L17.6 106.6zM-1.9 109.4L-0.1 104.8L2.9 108.2zM-16.5 107.2L-13.3 103.4L-11.5 107.7zM-30.3 103.3L-26.1 100.5L-25.6 105.1zM-43.1 97.6L-38.4 96.1L-39.2 100.6zM-54.6 90L-49.7 90.3L-52 94.2zM-63.9 80.9L-59.7 83.5L-63.6 85.8zM-70.6 72.1L-68.9 76.7L-73.4 76.1zM-75.4 65.6L-78.5 69.4L-80.3 65.2zM-82.5 57.2L-87 59.3L-86.8 54.8zM-89.1 46.2L-93.9 47.7L-93.1 43.2zM-94.9 35L-99.9 35.3L-98 31.1zM-100.1 23.8L-104.7 21.9L-101.1 19zM-103 11.6L-106.8 8.4L-102.5 6.6zM-104.3 -1.4L-107.2 -5.4L-102.6 -6zM-104.6 -14.8L-105.9 -19.6L-101.4 -18.6zM-103.5 -29.1L-102.6 -34L-99 -31.1zM-99.8 -43.6L-97 -47.7L-94.9 -43.6zM-92.9 -57.1L-89 -60.2L-88.2 -55.6zM-83.5 -69L-79 -71.1L-79.2 -66.5zM-73.3 -80.1L-68.3 -79.9L-70.6 -75.9zM-60.3 -89.8L-57.3 -85.9L-61.8 -85.1zM-44.4 -94.6L-48.1 -91.4L-49.2 -95.9zM-31.6 -97.3L-36.6 -96.9L-34.8 -101.2zM-21 -100.1L-25.4 -102.5L-21.6 -105.1zM-10.3 -102.9L-11.3 -105.6L-8.7 -107L-7.7 -104.3zM1.6 -103.6L3.8 -108L6.5 -104.3zM14.4 -102.7L17.6 -106.5L19.3 -102.2zM27.4 -100.2L31.2 -103.4L32.2 -98.9zM40.6 -95.7L44.6 -98.7L45.3 -94.1zM53.2 -88.8L54.3 -91.5L57.1 -90.9L56.1 -88.1zM67.3 -80.1L64.6 -81.1L65.1 -83.9L67.8 -83zM78.7 -70.3L74 -71.8L77.2 -75.1zM88 -59L83.3 -60.8L86.8 -63.9zM95 -46.9L90.6 -49.3L94.5 -51.8zM99.9 -34.1L96.1 -37.3L100.4 -39zM102.7 -20.9L99.9 -25.1L104.5 -25.6zM103.7 -7.8L102.2 -12.5L106.7 -11.7zM103.2 5.3L103 0.4L107.2 2.3zM90.4 11.3L90.3 6.3L94.4 8.3zM88.3 24.8L88.3 19.9L92.3 22zM84.5 38L84.4 33L88.5 35.1zM79 50.4L78.6 45.5L82.9 47.3zM71.9 61.8L71.2 56.9L75.6 58.5zM63.3 71.7L62.3 66.9L66.7 68.2zM53.6 80.1L52 75.4L56.6 76.1zM43.4 87.1L40.5 83.1L45.1 82.5zM32.2 93L28.5 89.6L32.8 88zM19.1 97L15.5 93.6L19.8 92.1zM4.9 98.9L1.8 95L6.3 94.1zM-9.4 98.5L-12.1 94.2L-7.5 93.9zM-22.3 95.3L-25.4 91.3L-20.8 90.6zM-31.7 87.1L-36.6 88L-35.2 83.6zM-42.3 78.5L-46.2 81.5L-47 77zM-53.1 71.1L-57.3 73.8L-57.7 69.2zM-62.9 62.7L-67.4 64.7L-67.1 60.1zM-71.2 52.4L-75.9 54.1L-75.3 49.5zM-78.1 40.5L-82.8 42.2L-82.2 37.7zM-83.7 28.2L-88.5 29.5L-87.5 25zM-87.2 16.6L-92.1 16.4L-89.8 12.4zM-89.5 4.8L-94 2.7L-90.4 -0.1zM-91.9 -7.9L-94.3 -12.2L-89.7 -12.3zM-93.7 -23.3L-91.4 -27.8L-88.7 -24zM-90.2 -38.8L-85.9 -41.4L-85.6 -36.8zM-83.1 -51.9L-78.5 -53.5L-79.1 -49zM-73.6 -62.6L-68.9 -64.1L-69.7 -59.5zM-63.9 -72.4L-59.1 -73.5L-60.3 -69.1zM-53.1 -80.3L-48.3 -81.5L-49.3 -77zM-37.8 -82.9L-38.1 -87.9L-33.9 -86zM-22.7 -85.6L-26 -89.3L-21.5 -90.4zM-10 -88.8L-12.8 -92.8L-8.3 -93.4zM3.2 -90.8L1.2 -92.9L3 -95.1L5 -93zM17.9 -89.7L15.1 -90.4L15.3 -93.3L18.2 -92.6zM32.5 -86.8L27.6 -86.6L29.6 -90.8zM46.4 -81.1L41.5 -80.7L43.2 -84.9zM58.6 -73.4L53.6 -73.4L55.7 -77.4zM68.9 -64L64 -64.6L66.6 -68.4zM77.4 -53.2L72.6 -54.6L75.8 -57.9zM83.8 -41.3L79.5 -43.8L83.4 -46.3zM88.1 -28.7L84.7 -32.3L89.1 -33.6zM90.4 -15.7L88.4 -20.2L93 -19.9zM91.1 -2.3L90.3 -7.2L94.7 -5.7zM78 17L77.7 12.1L81.9 14zM74.6 30.6L74.3 25.6L78.5 27.6zM69.1 43.2L68.8 38.2L73 40.2zM61.6 54.5L61.4 49.5L65.6 51.5zM52.7 63.9L52.4 59L56.6 60.9zM43 71.6L41.4 66.9L45.9 67.6zM33.4 78.1L29.1 75.5L33 73.1zM22.4 82.9L17.6 81.5L20.8 78.2zM9.3 84.9L4.5 83.8L7.5 80.3zM-4 84.1L-8.9 83.4L-6.3 79.7zM-16.9 80.4L-21.8 80.7L-19.9 76.5zM-29.3 74.3L-34.1 75.5L-33.1 71zM-41 66.7L-45.7 68.4L-45 63.8zM-51.5 57.8L-56.1 59.4L-55.5 54.9zM-60.4 47L-65 48.8L-64.5 44.2zM-68.3 33.7L-72.3 36.6L-73 32.1zM-73.4 19.4L-76.5 23.4L-78.4 19.2zM-75.8 5.5L-78.6 9.6L-80.8 5.6zM-77.5 -9.1L-78.9 -4.4L-82.2 -7.6zM-80.5 -23.5L-76.6 -20.3L-80.9 -18.5zM-79 -35.4L-74.1 -34.9L-76.6 -31zM-72.8 -46.3L-67.9 -46.9L-69.6 -42.6zM-63.5 -55.8L-58.8 -57.4L-59.5 -52.9zM-53.4 -64.4L-49 -66.7L-49 -62.1zM-42.4 -70.8L-38.5 -73.9L-37.6 -69.4zM-28 -74L-26.5 -78.8L-23.2 -75.5zM-11.6 -77.2L-13.7 -81.6L-9.1 -81.5zM4.6 -79.8L-0.4 -79.7L1.7 -83.8zM20 -79.1L15.5 -77.2L15.8 -81.7zM34.2 -75L29.6 -73.2L30.1 -77.8zM46.7 -68.1L41.8 -67.1L43.1 -71.5zM57.3 -58.8L52.4 -59.1L54.7 -63zM65.7 -48L61.1 -49.7L64.5 -52.8zM71.9 -36.4L68.1 -39.5L72.3 -41.3zM76.2 -24L73.6 -28.3L78.2 -28.6zM78.7 -10.9L77.4 -15.7L81.9 -14.6zM79.3 3L78.8 -1.9L83.1 -0.2zM67.8 8.4L67.4 3.4L71.7 5.3zM65.4 21.9L65.2 16.9L69.3 18.9zM60.4 34.5L60.4 29.5L64.5 31.6zM53.2 45.5L53.4 40.6L57.4 42.9zM44.4 54.3L44 51.4L46.8 50.6L47.2 53.5zM34.8 62.5L32.6 60.6L34.2 58.2L36.4 60.1zM25.1 67.4L20.2 67.6L22.2 63.4zM14 71.4L9 71.6L10.9 67.4zM0.8 71.8L-4.1 72.2L-2.3 67.9zM-12.4 69.1L-17.3 69.8L-15.8 65.5zM-25 63.7L-29.8 64.9L-28.7 60.4zM-36.5 56.1L-41.2 57.5L-40.4 53zM-46.9 46.5L-51.6 48.1L-50.9 43.5zM-56.7 33.9L-60.7 36.9L-61.4 32.3zM-63.1 19L-64.4 23.8L-67.7 20.6zM-65.9 4.1L-66.4 9.1L-70.2 6.5zM-67 -10.2L-66.7 -5.2L-70.9 -7.1zM-67 -23.8L-64.7 -19.3L-69.3 -19.4zM-65.4 -34.6L-60.8 -32.9L-64.2 -29.8zM-59.3 -43.7L-54.5 -44.8L-55.6 -40.4zM-49.4 -52.6L-44.9 -54.7L-45.1 -50.1zM-37.8 -60.2L-33.6 -62.7L-33.3 -58.1zM-24.2 -65.3L-22.5 -67.7L-19.9 -66.5L-21.5 -64.1zM-6.6 -68.7L-9 -67.1L-10.9 -69.2L-8.5 -70.8zM7.9 -70.4L4.5 -66.8L3 -71.1zM22.7 -68.2L19.1 -64.9L17.9 -69.3zM36.1 -62.3L31.7 -59.9L31.6 -64.5zM47.1 -53L42.2 -52.6L44 -56.8zM55.3 -41.8L50.8 -44L54.5 -46.7zM61.1 -30.1L58.1 -34.1L62.6 -34.8zM65.3 -18L63.7 -22.7L68.2 -22zM67.7 -5.2L67 -10.1L71.3 -8.5zM55.3 13.1L56.1 8.2L59.7 10.9zM51.6 25.3L51.5 22.4L54.4 21.9L54.4 24.8zM44.4 36.6L44.9 33.7L47.8 33.8L47.3 36.7zM34.6 44.6L37 43L38.9 45.1L36.5 46.8zM26.7 50.4L26.9 53.3L24.1 53.9L23.9 51zM15.6 56.4L11.4 59L11.1 54.4zM4.3 59L-0.4 60.4L0.5 55.9zM-8.4 57.7L-13.2 58.9L-12.1 54.4zM-21.1 52.9L-25.9 54.1L-24.8 49.6zM-33.2 45.1L-38 46.3L-37 41.8zM-44.7 34.4L-47.2 36L-49.1 33.8L-46.7 32.2zM-52.1 20.7L-52.1 23.6L-54.9 24L-55 21.1zM-55.2 6L-55.5 10.9L-59.4 8.6zM-55.3 -8.2L-55.6 -3.3L-59.5 -5.7zM-53.8 -20.9L-53.4 -16L-57.6 -17.8zM-51.5 -31L-48.6 -31L-48.2 -28.1L-51.1 -28.2zM-45.4 -40.9L-40.7 -42.5L-41.5 -37.9zM-34.7 -49.6L-29.9 -50.9L-30.9 -46.4zM-21.1 -55.9L-18.2 -56.4L-17.3 -53.6L-20.2 -53.1zM-6.1 -59.9L-4.2 -57.7L-6 -55.5L-8 -57.7zM9.4 -60.6L8.9 -55.6L5.1 -58.2zM24 -57L21.9 -52.5L19.1 -56.1zM36.4 -48.6L32.4 -45.7L31.8 -50.3zM45 -36.5L40.4 -38.4L44 -41.3zM50.4 -24.1L48.3 -28.6L52.9 -28.4zM54.2 -12L53.7 -17L57.9 -15.3zM56 0.4L56.4 -4.6L60.3 -2.1zM43.9 4.9L46.6 0.7L48.9 4.7zM41.7 16.8L43.4 14.5L46 15.7L44.3 18.1zM35.5 27.2L38.2 26.2L39.5 28.8L36.8 29.8zM27.2 35.4L29.8 36.7L29 39.5L26.3 38.2zM16.8 41.7L18.3 44.2L16 46L14.5 43.5zM5.3 45.5L4.4 48.3L1.5 47.8L2.4 45.1zM-7.1 45.6L-11.4 48.1L-11.6 43.5zM-20.2 41.5L-22.7 43L-24.5 40.7L-22.1 39.2zM-31 33.8L-33.6 34.9L-35.1 32.4L-32.4 31.3zM-39.3 21.2L-39.9 24L-42.8 23.8L-42.2 20.9zM-44.2 8.4L-44.4 11.3L-47.3 11.6L-47.1 8.7zM-44 -5L-46.4 -0.7L-48.9 -4.6zM-41.5 -17.7L-44.1 -13.5L-46.4 -17.4zM-38.9 -29.7L-36 -29.2L-36.2 -26.3L-39 -26.8zM-31.1 -38.9L-26.1 -39L-28.2 -34.9zM-19 -46.1L-14.2 -45L-17.2 -41.5zM-4.5 -50.3L-1 -46.7L-5.4 -45.4zM10.6 -50.3L12.2 -45.6L7.6 -46.3zM24.2 -45.1L24.5 -40.1L20.3 -42.1zM34.7 -34.6L34.3 -31.7L31.4 -31.7L31.8 -34.5zM39.3 -20.1L40 -25L43.7 -22.3zM42.8 -7.4L44.6 -12.1L47.6 -8.6zM31.4 8.7L36.2 7.4L35.2 11.9zM26.4 20.3L29.3 20.3L29.7 23.2L26.8 23.2zM16.8 28.8L19.4 30.1L18.4 32.9L15.8 31.5zM4.2 33L6.4 35L4.7 37.4L2.6 35.4zM-9.1 32.1L-7.5 34.4L-9.6 36.4L-11.2 34.1zM-22.7 26.1L-20 27.3L-20.8 30.1L-23.5 28.9zM-31.3 15.5L-29 17.2L-30.4 19.8L-32.7 18zM-33.2 3.5L-34.4 6.2L-37.2 5.4L-36 2.8zM-31.4 -10.4L-34.7 -6.7L-36.4 -11zM-26.9 -23.6L-26.4 -20.8L-29.2 -19.8L-29.7 -22.7zM-19 -33.7L-15 -30.7L-19.1 -28.7zM-5.7 -39.4L-2.3 -35.9L-6.7 -34.6zM9.1 -39.4L11.6 -35.1L7 -34.9zM21.3 -32.7L24 -28.6L19.4 -28.1zM28.1 -19.4L33 -19L30.6 -15.1zM31.5 -4.6L36.1 -6.7L35.8 -2.1zM21.4 -0.6L26.3 0.3L23.6 3.9zM17.7 12.6L22.4 14.3L19 17.4zM7.6 21L10.3 22.1L9.6 24.9L6.9 23.8zM-6.2 22L-3.5 23.1L-4.2 25.9L-6.9 24.8zM-18.3 15.4L-15.6 16.5L-16.3 19.3L-19 18.2zM-22.3 3.7L-22.6 6.6L-25.5 6.8L-25.2 3.9zM-20.6 -10.1L-23 -5.8L-25.5 -9.6zM-13.7 -22.6L-12.9 -17.7L-17.3 -19.2zM-2 -29.1L0.5 -24.8L-4.1 -24.6zM11 -26.7L13.9 -22.6L9.3 -22zM19.1 -15.6L23.4 -13.1L19.5 -10.6zM9.6 4.8L13.8 7.4L9.8 9.8zM-1.8 11.4L0.8 12.7L-0.1 15.5L-2.7 14.2zM-11.7 3.8L-10.3 6.3L-12.6 8.1L-14 5.6zM-9.7 -10.2L-9.9 -5.2L-13.9 -7.4zM1.1 -17.8L3.2 -13.3L-1.4 -13.5zM10.6 -10L14.3 -6.6L10 -5z"/><use href="#top"/></g><circle class="oc" r="180.5"/><use href="#lab"/><text class="tt" transform="translate(0 -206.3) scale(1 1.09)" text-anchor="middle">(f) GFDL-CM3 (AMIP)</text></g><g transform="translate(1177.6 714.9)"><g clip-path="url(#cc)"><circle r="181.5" fill="#fafafa"/><path fill="#fff" fill-rule="evenodd" d="M-10.9 -153l12.9-0.9l14 0.2l15 1.4l13 2.2l12.7 3.1l12.5 4l12.5 5l11.3 5.5l11.5 6.5l11.9 8l10.3 8l10.1 9l9.7 10l9.2 11l8 11l6.9 11l5 9l4.8 10l4.2 10l3.4 9.9l0 207.1l-264.1 0l-13.9-16.5l-10-12.9l-9.5-13.6l-8.1-13l-6-11l-5-11l-2.9-8l-2.4-9l-1.2-9l0.1-7l1.4-8l2.3-6l3.5-6l4.3-5l5.7-5l7.4-5l9.3-5l11.5-5l14.6-5.4l11-3.2l6-1l5 0l5 0.8l5 1.6l8 3.5l25 12.4l21 11.8l9 5.9l7 6.3l5.1 6.3l10.9 15.8l6 6.6l4 3.2l4 2.5l5 2.2l4 1.3l5 1l6 0.5l11-0.5l7-1.2l7-1.8l11-4.1l6.6-3.5l4.8-4l2.2-3l1.7-3l4.3-10l3-9l1.8-7l2-10l1-7l0.9-17l-0.2-8l-0.8-10l-1.1-8l-2-10l-2.6-10l-2.9-9l-3.5-9l-3.6-8l-4.2-8l-4.4-7.5l-5-7.5l-6-7.9l-6-7l-7-7.1l-7-6.3l-7-5.5l-7-4.9l-8-4.9l-7-3.6l-7-3.2l-8-3.1l-7-2.2l-8-2l-8-1.5l-23-2.6l-4-1.3l-4-2.2l-3.4-2.7l-2.7-3l-1.7-3l-0.4-2l0.9-2l1.4-1l2.7-1zM13.8 -52l2.2-0.7l3-0.2l5 1l5 2.4l5 4.1l4.7 5.4l3.7 6l3 7l1.9 7l1.3 8l0.1 8l-0.9 8l-1.8 6.8l-2.9 6.2l-3.1 4.1l-4 3.2l-5 2l-5 0.6l-6-0.9l-6-2.3l-5-3.4l-4.3-4.3l-4.1-6l-2.7-6l-2.1-7l-0.9-7l0-8l1.1-7l2-7l3.2-7l3.8-5.8l4-4.2l2-1.5z"/><path fill="#fcc8c4" fill-rule="evenodd" d="M100.5 -106l1.5-0.4l3 1l4 2.4l3 2.3l7 6.7l7 9l5.3 9l3.8 9l1.3 5l0.6 4l-0.2 3l-0.8 1.2l-1 0.1l-1-0.5l-4-4.3l-23-33.5l-3.9-6l-2.2-4l-0.8-3zM22.3 -36l3.7-0.3l3 0.7l3 1.7l3 2.8l2.8 4.1l1.9 4l1.5 5l0.7 5l0.1 5l-0.5 5l-1.1 4l-1.7 4l-2 3l-2.7 2.6l-3 1.8l-4 1l-3-0.2l-3-0.9l-3-1.7l-3-2.7l-2.1-2.9l-2.1-4l-1.3-4l-0.9-5l-0.1-5l0.4-4l1.2-5l1.6-4l1.7-3l2.6-3.2l3-2.4zM-63.7 31l6.7-0.9l7 0.3l7 1.5l8 2.9l15 7l16 8.5l14 8.5l8.3 6.2l5.7 6l4.9 7l11.6 21l3.3 7l1.2 5l-0.1 4l-1.8 5l-2.8 4l-3.3 3.1l-5 3.3l-6 2.6l-6 1.6l-7 1.1l-8 0.3l-8-0.5l-8-1.2l-9-2l-9-2.7l-8-3l-9-4.1l-8-4.3l-8-5l-8-5.8l-6.5-5.4l-5.5-5.3l-5.1-5.7l-4.5-6l-3.6-6l-2.3-5l-1.9-6l-0.6-5l0.3-5l1.4-5l2.2-4l3.4-4l3.5-3l5.2-3.4l6-3l7-2.7z"/><path fill="#d6d6e9" fill-rule="evenodd" d="M44.2 -174l3.8-0.5l6.3 0.5l6.7 1.6l6.7 2.4l6.1 3l6 4l3 3l1.1 2l-0.2 1l-0.7 0.5l-2 0.3l-5.3-0.8l-9.6-3l-10.3-4l-6.4-3l-4.8-3l-1.7-2l0-1zM44.5 -95l6.5-0.2l6 0.7l7 1.6l7 2.5l7 3.4l7 4.4l6 4.5l6 5.5l5.1 5.6l5.4 7l4.5 7l3.7 7l3.1 7l2.7 8l2.1 8l1.4 8l0.8 8l0.2 8l-0.5 8l-1.1 8l-1.7 8l-2.5 8l-3.2 8l-3.5 7l-4.2 7l-5.2 7l-5.1 5.8l-6 5.6l-6 4.6l-6 3.6l-6 2.7l-6 1.5l-5 0.1l-5-1l-5-2.4l-4-3.1l-6-6.4l-9.1-12l-5.4-8l-1.6-3l-0.6-2l0.2-2l1.5-2l8-5.7l3-2.5l4-4.1l3-4.1l3-5.4l2.1-5.2l1.7-6l1-6l0.5-9l-0.5-10l-1.6-9l-2.8-10l-3.3-8l-4.1-7.8l-15-22.2l-1.8-4l-0.6-3l0-3l0.8-3l1.7-3l1.9-2.1l3-2.3l3.2-1.6l3.8-1.2zM-102 -75l6-0.9l7 0.2l7 1.5l6 2.5l5 3l5.7 4.7l4.3 4.5l9 10.6l4 3.6l5 2.6l9.7 2.7l3.3 2.3l1.7 2.7l1.3 4l3.4 25l2.1 9l4.7 15l0.3 2l-0.5 2.1l-1 0.9l-2 0.3l-3-0.4l-2.9-0.9l-6.1-2.7l-13-7.1l-4-1.5l-3-0.4l-4 0.2l-4 1l-15.9 6.5l-10.1 3.4l-8 1.9l-8 1l-7.3-0.3l-6.7-1.8l-3-1.5l-3-1.9l-5-4.7l-3.7-5.1l-3-6l-2.2-6l-1.7-7l-0.8-7l0-8l0.8-7l1.6-7l2.4-7l2.9-6l3.7-5.7l4-4.8l5-4.6l5-3.5l5-2.5z"/><path fill="#f99fb5" fill-rule="evenodd" d="M22.8 -22l1.2-0.6l2-0.4l3.1 1l1.9 1.7l1 1.5l1 2.2l0.7 2.6l0 5l-1.1 4l-1.1 2l-1.5 1.6l-3 1.5l-3-0.3l-2-1.2l-2.2-2.6l-1.5-4l-0.3-4l0.6-4l1.4-3.1zM-60.9 37l6.9-0.7l7 0.5l7 1.6l9 3.2l12 5.5l13 7.1l11 6.9l8 6.1l5.6 5.8l4.1 6l4.6 9l3.3 9l1.6 7l-0.1 5l-1.6 5l-2.5 3.5l-3 2.7l-4 2.4l-5 2l-5 1.2l-6 0.8l-6 0.2l-7-0.5l-7-1.1l-7-1.7l-7-2.1l-7-2.7l-7-3.2l-7-3.8l-7-4.3l-6-4.4l-5.9-5l-4.2-4l-4.5-5l-3.8-5l-3.1-5l-2.3-5l-1.6-5l-0.6-5l0.1-4l1-4l1.8-4l2.2-3l3-3l4.1-3l4.8-2.5l5-2z"/><path fill="#a6bddb" fill-rule="evenodd" d="M57.6 -75l3.4-0.7l5 0.2l5 1.2l6 2.3l5 2.7l5 3.5l5 4.3l4 4.2l4 5l4 5.9l3 5.4l2.8 6l2.2 6l2 7l1.2 6l0.9 7l0.3 7l-0.3 7l-0.7 7l-1.2 6l-1.6 6l-2.1 6l-2.5 5.9l-3 5.6l-3 4.7l-4 5.3l-4.1 4.5l-4.9 4.4l-5 3.5l-5 2.7l-5 1.7l-4 0.7l-4 0.1l-4-0.8l-4-1.5l-3-1.8l-3.8-3l-2.6-3l-1.9-3l-1.1-4l0.1-3l1.1-4l8.5-16l3.7-9l2.3-8l1.4-9l0.4-6l-0.1-7l-0.5-7l-1-7l-3.1-14l-6.2-21l-1-6l0.2-3l1-3l1.6-2zM-99.6 -57l3.6-0.6l3-0.2l6 0.9l6 2.5l3 1.9l3 2.5l5.2 6l3.9 7l3 8l1.2 7l-0.1 6l-1.4 6l-2.9 6l-3.9 5l-4.5 4l-5.5 3.3l-6 2.4l-7 1.4l-6-0.1l-5-1l-5-2.3l-4.8-3.7l-4-5l-2.6-5l-2-6l-1-6l-0.1-7l0.8-6l1.7-6l3-6.3l4-5.6l4-3.8l5-3.3z"/><path fill="#f05ea0" fill-rule="evenodd" d="M-53.4 42l6.4 0.1l7 1.2l7 2.2l8 3.2l10 4.9l10 5.8l8.2 5.6l6 5l4.5 5l3.9 6l2.8 6l2.2 7l0.8 6l-0.4 5l-1.5 4l-2.5 3.5l-3 2.5l-3.7 2l-4.3 1.5l-5 1l-5 0.4l-6-0.1l-6-0.7l-6-1.2l-12-3.7l-12-5.5l-6-3.5l-6-4.1l-9.5-8.1l-7-8l-3.3-5l-2.1-4l-1.5-4l-0.9-4l-0.3-4l0.5-4l1.5-4l1.8-3l2.7-3l3.1-2.4l4-2.2l4-1.6l5-1.3z"/><path fill="#67a5cf" fill-rule="evenodd" d="M-96.2 -40l3.2-0.3l3 0.5l3 1.2l3 2.2l2.2 2.4l1.9 3l1.2 3l0.9 4l0.2 4l-0.6 4l-1 3l-1.8 3.4l-2.2 2.6l-2.8 2.2l-3 1.4l-3 0.7l-3 0.1l-3-0.7l-3-1.4l-2-1.4l-2-2.1l-2-3.2l-1.1-2.6l-0.9-4l-0.2-4l0.3-3l0.9-3.6l1.5-3.4l2.2-3l2.3-2.3l3-1.8zM81.7 7l1.3-0.4l2 0.6l1.5 1.8l1 3l0.4 3l-0.1 3l-0.7 4l-1.1 3.5l-3.3 6.5l-2.2 3l-2.5 2.6l-3 2.3l-2 0.9l-2 0.6l-2-0.1l-1.8-1.3l-0.6-2l0.2-3l1.2-4.4l4-9.4l4-7.7l3-4.3z"/><path fill="#c51b8a" fill-rule="evenodd" d="M-55 48l6-0.6l6 0.3l7 1.5l7 2.3l8.1 3.5l9.3 5l7.7 5l6.3 5l4 4l3.8 5l2.7 5l1.8 5l0.9 5l0 5l-1 4l-2.5 4l-2.1 2l-3 1.9l-3 1.2l-4 1.1l-8 0.7l-10-1.1l-10-2.6l-10-4l-10-5.7l-8.6-6.5l-7-7l-5-7l-3.1-7l-0.9-4l-0.2-3l0.3-3l0.9-3l1.6-3l2-2.5l3-2.5l3-1.7l3.2-1.3z"/><path fill="#87057b" fill-rule="evenodd" d="M-52.6 54l4.6-0.8l5-0.1l6 0.8l6 1.6l7 2.8l7 3.5l6.9 4.2l5.4 4l4.3 4l3.3 4l2.4 4l1.7 4l1.1 5l-0.1 4l-1.1 4l-1.9 3l-2 1.8l-2 1.3l-3 1.3l-3 0.8l-7 0.6l-7.7-0.8l-8.3-2.2l-8-3.2l-8-4.5l-6.9-5.1l-6.1-6l-4-5.4l-2.7-5.6l-0.9-3l-0.3-3l0.6-5l2.3-4.2l1.7-1.8l2.3-1.7z"/><path fill="#49006a" fill-rule="evenodd" d="M-45.2 60l4.2-0.4l4 0.3l5 1l4 1.3l5 2.1l5 2.7l8 5.7l3.4 3.3l2.4 3l1.7 3l1.2 3l0.7 3l-0.1 3l-0.8 3l-1.5 2.4l-3.4 2.6l-4.6 1.5l-5 0.4l-6-0.6l-6-1.6l-6.6-2.7l-5.4-3l-5.3-4l-4.2-4l-3.7-5l-2.2-5l-0.5-4l0.8-4l1.9-3l3.2-2.4z"/><path class="z0" d="M13.8 -52l5.2-0.9l5 1l5 2.4l5 4.1l4.7 5.4l3.7 6l3 7l1.9 7l1.3 8l0.1 8l-0.9 8l-1.8 6.8l-2.9 6.2l-3.1 4.1l-4 3.2l-5 2l-5 0.6l-6-0.9l-6-2.3l-5-3.4l-4.3-4.3l-4.1-6l-2.7-6l-2.1-7l-0.9-7l0-8l1.1-7l2-7l3.2-7l3.8-5.8l4-4.2zM-76.1 188l-9.9-11.6l-11-13.8l-16-23l-7.5-12.6l-5.1-10l-3.8-9l-3.3-10l-1.9-9l-0.6-8l0.7-8l1.9-7l2.9-6l4.3-6l5.1-5l6.7-5l8.5-5l10.6-5l12.5-4.9l12-4.1l7-1.8l6-0.8l5 0.1l6 1.3l10 4l28 14l16 8.9l11 7l5.3 4.3l4.7 5l13 18.4l4 5l4 3.9l4 3l5 2.8l6 2.2l7 1.4l7 0.5l11-0.9l13-3l12-4.7l4.6-2.6l3.9-3l4.3-6l4.8-11l4.1-13l2.7-13l1.8-17l-0.1-15l-1.7-17l-3.9-18l-5.3-16l-7.1-16l-8.1-14.1l-10-13.8l-10-11.2l-10-9.2l-11-8.4l-11-6.9l-15-7.2l-16-5.5l-12-2.6l-23-2.6l-5.8-1.5l-5.2-3l-5.1-5l-2-4l0.2-2l0.9-1.2l3.8-1.8l5.3-1l17.9-1l18.2 1l18.8 2.9l16.1 4.1l16.9 6l15.1 7l14 8l14.4 10l13.1 11l12 12l10.9 13l9.2 13l8.8 15l8.1 17l5.4 14.9"/><use href="#base"/><path fill="url(#g17)" d="M-75.4 68L-61.3 60.1L-44 60.1L-29 68L-14.1 76.6L1.6 76.6L31.5 91.6L31.5 121.5L-58.1 121.5L-75.4 107.3z"/><path fill="url(#d17)" d="M-75.4 68L-61.3 60.1L-44 60.1L-29 68L-14.1 76.6L1.6 76.6L31.5 91.6L31.5 121.5L-58.1 121.5L-75.4 107.3z"/><path fill="url(#g18)" d="M-136.2 -27.9L-115.7 -27.9L-115.7 -12.9L-103.1 -12.9L-103.1 5.2L-107.9 17L-115.7 31.9L-123.6 31.9L-133.8 17L-137.7 2L-137.7 -12.9z"/><path fill="url(#d18)" d="M-136.2 -27.9L-115.7 -27.9L-115.7 -12.9L-103.1 -12.9L-103.1 5.2L-107.9 17L-115.7 31.9L-123.6 31.9L-133.8 17L-137.7 2L-137.7 -12.9z"/><path fill="url(#g19)" d="M-144 -89.2L-128.3 -89.2L-128.3 -71.9L-136.2 -65.6L-137.7 -53L-150.3 -53L-150.3 -65.6L-144 -71.9z"/><path fill="url(#d19)" d="M-144 -89.2L-128.3 -89.2L-128.3 -71.9L-136.2 -65.6L-137.7 -53L-150.3 -53L-150.3 -65.6L-144 -71.9z"/><path fill="url(#g20)" d="M65.4 46.6L76.9 31.9L107.5 31.9L112 46.6L107.5 61.3L93.5 75.3L85.8 74.1L74.3 61.3L65.4 61.3z"/><path fill="url(#d20)" d="M65.4 46.6L76.9 31.9L107.5 31.9L112 46.6L107.5 61.3L93.5 75.3L85.8 74.1L74.3 61.3L65.4 61.3z"/><path fill="url(#g21)" d="M149 61.9L157.3 47.2L165.6 47.2L175 47.2L175 76.6L165.6 91.9L157 106.6L145 121.3L125.4 121.3L131.8 107.3L133.7 91.9L149 91.9z"/><path fill="url(#d21)" d="M149 61.9L157.3 47.2L165.6 47.2L175 47.2L175 76.6L165.6 91.9L157 106.6L145 121.3L125.4 121.3L131.8 107.3L133.7 91.9L149 91.9z"/><path class="sh" d="M166.9 9.9L170.1 12M165.5 23.4L168.5 25.4M163.3 36.7L165.7 38.6M160.3 49.8L161.8 51.3M100.1 135.3L99.9 137.3M89.5 142.8L88.7 145.1M78.5 149.6L76.8 151.9M67.1 155.7L64.3 157.7M55 161.1L51.4 162.4M42.3 165.6L38.1 165.9M29.1 168.9L24.7 168.4M15.5 170.9L11.4 169.8M1.5 171.5L-1.9 170.3M-12.6 170.9L-14.9 169.8M-20.3 -171.9L-18.7 -169.5M-7.9 -173.1L-4.5 -169.7M4.4 -173.1L9.9 -169.1M16.9 -171.7L24.2 -167.7M29.8 -169.2L37.9 -165.4M42.8 -165.7L51.1 -162.1M55.6 -161.4L63.9 -157.7M68.1 -156.2L76.3 -152.3M80.3 -150.3L88.1 -145.8M92.3 -143.5L99.2 -138.3M104 -135.9L109.5 -130M115.1 -127.2L119.1 -121.1M124.9 -117.2L128.2 -111.7M133.3 -106.1L136.7 -101.6M140.5 -94.2L144.4 -90.8M147 -81.9L151.2 -79.2M153.1 -69.6L156.8 -67.1M158.4 -57.1L161.4 -54.7M162.7 -44.2L165.1 -41.8M165.6 -31L167.8 -28.7M167.1 -17.4L169.6 -15.2M167.5 -3.8L170.4 -1.5M155.1 15.1L157.8 18.1M153.2 28.8L155.5 31.4M150.4 42.2L152 44.3M100 120.3L100.1 122.3M89.5 128.2L89.2 130.8M78.7 135.3L77.6 138.2M67.6 141.7L65.3 144.6M56 147.6L52.3 149.8M43.7 152.7L38.9 153.7M30.7 156.6L25.4 156.4M17 159.1L11.9 157.9M2.9 160.2L-1.5 158.3M-11.3 159.8L-14.7 157.8M-25.7 158.1L-27.8 156.3M-7.8 -160.4L-6.5 -159M4.9 -160.2L7.6 -158.5M17.6 -158.8L21.9 -156.9M30.2 -156.3L36 -154.3M43 -153L49.6 -150.6M55.7 -148.9L62.6 -145.6M68.3 -143.8L75 -139.5M80.6 -137.8L86.7 -132.4M92.1 -130.5L97.8 -124.3M102.9 -122.2L108.2 -115.4M112.7 -112.7L117.9 -105.7M121.5 -102.4L126.7 -95.2M129.4 -91.3L134.7 -84.1M136.5 -79.6L141.5 -72.4M142.8 -67.3L147.2 -60.1M148.2 -54.5L151.7 -47.5M152.4 -41.1L155.1 -34.7M155 -27.1L157.4 -21.8M156.2 -13L158.7 -8.7M156.1 1.2L158.9 4.7M143.2 7.8L145.1 10M141.5 21.4L143.5 23.6M139 34.7L140.5 36.7M88.6 112.4L88.8 114.8M77.8 119.7L77.7 123.1M67 126.2L65.7 130.3M56.1 132.2L52.8 136.1M44.7 137.8L39.3 140.5M32.3 142.4L25.4 143.3M19 145.6L11.7 144.7M5.2 147.2L-1.8 145M-8.9 147.3L-15.2 144.2M-23.1 145.8L-28.3 142.2M-37.2 142.9L-41.1 139.2M-50.8 138.5L-53.6 135.1M-63.7 132.7L-65.8 129.9M-75.9 125.4L-77.3 123.6M-145.6 7.5L-145.3 9.7M-145.5 -6.8L-145.6 -3.4M-144.1 -20.7L-144.7 -16.6M-141.5 -34.3L-142.5 -29.9M-137.7 -47.3L-139.1 -43.2M-132.9 -59.8L-134.3 -56.3M-127 -71.6L-128.2 -69M17.7 -144.8L19.8 -144.3M30.6 -142.1L33.6 -141.7M43.5 -138.5L46.9 -137.8M56.3 -134L59.7 -132.8M68.8 -128.4L71.8 -126.7M80.7 -121.5L83.3 -119.4M91.8 -113.4L94.1 -111.1M101.9 -104.1L104 -101.9M111.2 -93.9L113 -91.8M119.6 -82.8L120.9 -81M144 -5.8L145.2 -3.9M128.7 19.7L132.1 15.1M126 32.6L129.8 28.8M122.3 45.2L125.8 42.2M117.5 57.3L120.4 55.2M111.5 68.7L113.5 67.6M75.8 104.7L77.4 107.1M65.2 110.9L66.2 115.3M54.8 116.4L53.7 122.1M44.4 121.9L40.1 127.1M33.2 127.2L26 130.3M20.5 131.2L12 131.8M7 133.4L-1.7 131.9M-6.9 133.8L-15.2 130.9M-20.7 132.6L-28.5 128.6M-34.3 129.8L-41.5 125M-47.5 125.4L-54.1 120.1M-60.1 119.6L-66.1 114.1M-72 112.3L-77.4 107M-83.3 103.9L-87.8 98.8M-94.1 94.5L-97.1 89.6M-104.2 84.1L-105.5 79.7M-113.2 72.3L-113 69M-120.8 59.3L-119.9 57.7M-130.9 29.9L-129.2 31M-133 14.8L-131.1 18.2M-133.4 0.1L-132.1 5.3M-132.2 -14.1L-132 -7.8M-129.6 -27.8L-130.7 -21.1M-125.8 -40.9L-127.9 -34.5M-120.7 -53.3L-123.7 -47.7M-114.7 -64.8L-117.9 -60.6M-107.9 -75.6L-110.5 -73M84.6 -104.6L81.6 -104.4M95.8 -94.1L90.9 -95.8M105.1 -82.6L99.8 -86.5M112.6 -70.5L108.1 -76.3M118.9 -58.1L115.4 -65M124 -45.5L121.6 -52.8M127.7 -32.7L126.5 -39.8M130 -19.7L130.1 -26.3M130.8 -6.6L132.2 -12.5M130.3 6.6L132.9 1.4M116.3 13.3L119.5 6.4M114 26.5L118 20M110.3 39.4L114.9 33.2M105.3 51.9L110.3 46.1M98.7 63.5L104.3 58.4M90.8 74.2L96.9 70M81.7 83.5L88.3 80.8M71.6 91.3L78.4 90.7M61.1 97.3L67.4 99.6M50.8 101.8L55.3 107.3M41 106L42 113.4M31.6 110.5L27.6 117.3M20.8 115.4L13.1 119M8 118.8L-0.9 118.9M-5.7 119.8L-14.4 117.7M-19.4 118.7L-27.7 115.1M-32.9 115.8L-40.6 111.1M-45.8 111.3L-53 105.8M-58.2 105.3L-64.8 99.1M-69.8 97.9L-75.6 91.1M-80.8 89.4L-85.3 81.9M-91.3 79.6L-93.7 71.8M-101.1 68.3L-100.8 61.1M-109.7 55L-106.7 50.1M-116.3 39.9L-111.9 38.3M-120.1 24L-115.4 25.7M-121.3 8.5L-117.5 13M-120.5 -6.3L-118.4 0M-118 -20.3L-117.9 -13.3M-113.9 -33.4L-116 -26.7M-108.7 -45.6L-112.4 -40M-102.5 -56.9L-107 -53M-95.7 -67.5L-99.7 -65.3M-88.2 -77.5L-90.7 -76.6M47.2 -110.5L45.3 -110.3M60.8 -104.7L56.3 -104.4M73.1 -97.2L67 -97.3M84 -88L77.4 -89.1M93.3 -77.2L87 -79.9M101 -65.3L95.8 -69.8M107 -52.7L103.3 -58.6M111.8 -39.9L109.5 -46.6M115.1 -26.7L114.3 -33.9M117 -13.4L117.5 -20.7M117.4 -0.1L119.3 -7.2M101.7 16L104.4 14.1M98.8 29.5L102 27.2M94.3 42.5L97.9 39.8M88 54.6L92.3 51.8M79.9 65.5L85.2 63M70.4 74.7L76.8 73.5M59.9 82.1L67.2 83M49.1 87.6L56.2 91.6M38.3 92L43.8 98.6M27.6 95.5L30.2 103.7M17.7 98.5L15.6 106.5M7.8 102.5L0.7 106.6M-4.7 105.3L-13.4 104.7M-18.3 105L-26.6 101.6M-31.9 102.2L-39.3 97.1M-44.8 97.5L-51.3 91.2M-57.2 91.1L-62.5 83.8M-68.9 83.3L-72.4 75.1M-80.1 73.9L-80.9 65.2M-90.5 62.6L-87.9 54.6M-99.2 49.2L-93.6 43.5M-105.3 34.3L-98.3 32M-108.6 18.8L-101.9 19.8M-109 3.4L-104.2 6.9M-106.9 -11.3L-104.8 -6.5M-102.6 -24.8L-103.5 -20.1M-96.9 -36.8L-100.4 -33.2M-90.7 -47.9L-95.5 -46M-84 -58.5L-88.6 -57.9M-76.6 -68.7L-79.7 -68.8M33.9 -101.8L30.5 -100.9M47.5 -97L42.3 -95.9M59.8 -90.5L53.9 -89.6M70.8 -82.4L65 -81.9M80.1 -72.7L75.6 -72.9M87.6 -61.7L85.4 -62.4M103.1 2.4L105 0.9M88.5 21.6L90.4 20.3M84.3 35L86.9 33M78.1 47.2L81.5 45.1M70 57.8L74.3 56.5M60.3 66.4L65.9 66.8M49.5 73L56.1 76.4M38.4 78.4L44.7 84.4M26.9 82.8L31.8 90.2M14.9 85.7L18.2 93.9M3.2 87.3L3.9 95.2M-7.5 89.9L-10 92.6M-19.9 91.9L-23.6 89.8M-33 89.8L-37.2 84.3M-46.2 84.9L-49 77.3M-59 77.6L-59.4 69.1M-71.1 67.9L-68.2 59.8M-81.4 56.1L-75.7 49.5M-89.2 42.8L-81.8 38.4M-94.6 28.7L-86.7 26.4M-97.2 14.1L-90.1 13.7M-96.8 -0.4L-92.5 0.4M-80.9 -38.5L-84.5 -39.2M-74.1 -49.9L-78.1 -51.2M-66.5 -60.8L-69.2 -61.8M32.3 -90.2L29.8 -88.2M45.1 -85.1L42.1 -82.7M56.6 -77.9L53.9 -75.8M66.3 -68.9L64.9 -67.7M60.3 49.9L63.9 49.9M50.1 58.2L55.5 60.5M39.1 64.7L45.3 69.8M27.2 70.1L33.2 76.7M14.4 74.1L20 81.1M0.8 76L6.4 83M-13.1 76.5L-7.5 82M-26.2 77L-22.3 77.9M-39 74.6L-34.9 72.6M-51.6 69L-45.5 64.6M-62.7 60.1L-55.4 55.5M-72 49L-63.9 45.2M-79.1 36.4L-70.7 33.6M-83.7 23.1L-75.7 20.9M-85.4 9.6L-79.1 7.6M-83.5 -3.7L-80.9 -5.6M-72.1 -29.7L-74.3 -32.2M-65 -42.3L-67.8 -44.4M-56.8 -54L-58.7 -54.9M29.1 -78.7L29.1 -75.9M41.4 -73.3L41.4 -69.3M52.5 -65.2L52.6 -61.4M62 -54.9L62.2 -52.1M68.6 1.1L69.4 5.3M67.2 14.4L67 18.8M62.8 27.2L62.1 31.5M54.8 38.9L55 42.8M43.4 48.8L46.1 53.2M30.2 56.5L36.2 61.9M17.2 62.1L24.2 67.6M3.8 65.2L11 70.7M-10 65.9L-2.5 70.9M-23.9 64.5L-15.8 68.2M-37 61L-28.3 62.7M-48.7 54.9L-39.8 55M-58.6 46.1L-49.7 45.3M-66.4 35.3L-57.6 34.1M-71.7 23.1L-63.5 21.6M-73.6 10.5L-67.5 8.2M-71.8 -2.3L-69.2 -5M-67.1 -15.4L-67.1 -17.8M-60.5 -28.8L-61.8 -30.5M-32 -61.2L-33.7 -60.6M28.6 -65.7L31.5 -61.5M40.3 -59.5L43.3 -53.4M50.6 -50.4L53.1 -43.9M58.8 -39L60.8 -33.1M64.4 -26.1L66.2 -21.2M67.6 -12.5L69.1 -8.2M57.2 5.1L56.9 13M54.6 18.3L52.4 25.7M48.6 30.8L45.3 36.7M37.5 41.6L36.8 44.8M21.1 49.4L26.8 53.1M7.3 53.7L15.2 57.9M-6.2 55L1.8 59.3M-19.7 53.6L-11.5 57.5M-32.5 49.4L-24 52.5M-43.9 42.5L-35.1 44.7M-53 33.1L-44.2 34.5M-59.4 21.8L-51.1 22.6M-61.8 9.5L-56 9.4M17.8 -54.4L19.7 -54.3M28.8 -51.3L33.5 -47.1M39.8 -44.3L43.8 -37.2M48.5 -34L51.4 -26M54.3 -21.7L56.4 -13.6M57.1 -8.4L58.3 -0.4M47 -2.3L46.6 5.4M45.5 11.8L43.4 17.6M40.5 25.7L37.2 28.2M13.3 42.6L16.4 43.8M-2.1 44.2L5.8 47.7M-15.6 43.2L-7.3 46.9M-28.1 38.7L-19.8 42.2M-38.8 30.9L-30.4 34.1M-46.5 20.3L-38.7 23.4M-49.9 8L-44.6 10.5M8.4 -43.1L9.7 -45.5M18.6 -39.9L22.9 -41.3M28.9 -36.3L34.5 -32.1M38.8 -27.9L42 -20.2M44.9 -15.8L46.1 -7.6M37.2 6.6L33.8 9.8M31.3 22L28.3 21.8M-14.4 33L-7.5 34.7M-27.1 26.4L-19.6 28.7M-35.3 16.1L-29.6 18M-17.7 -28L-17.6 -30.2M-5 -32.4L-4.6 -34.7M7.4 -30.3L9.8 -35.2M17.7 -25.3L22.9 -28.9M28.1 -20.7L31.3 -17.1M36.2 -9.2L34.9 -3M27.6 3.6L24.1 1.5M22.6 17.4L19.2 14.2M9.9 25.8L8.7 23.2M-19 19.5L-17.7 17.8M-24.8 7.9L-24.1 5.8M-23.2 -5.2L-23 -8.5M-15.1 -16.5L-14.7 -19.3M-2.5 -20.9L-1.7 -24.7M10 -16.3L12.4 -23.5M20.7 -7.5L21.6 -12.7M12.5 12.1L10.8 6.2M-0.8 16.9L-0.9 13.4M-12.4 9.4L-12.1 5.9M-11.6 -4.3L-11.2 -7.4M0.3 -9.1L1.1 -14.5M12.4 -0.4L12 -8"/><path class="hd" d="M172.9 14L168 13.4L170.6 9.6zM171.3 27.4L166.4 26.8L169 23zM168.4 40.7L163.5 39.7L166.3 36.1zM164.2 53.7L159.5 52.2L162.7 48.9zM158.9 66.2L156.1 65.6L156.4 62.7L159.2 63.4zM153 78.8L150.3 77.6L151.1 74.8L153.7 76zM146.1 90.7L143.6 89.2L144.8 86.5L147.2 88zM138.5 102L136.1 100.3L137.4 97.7L139.8 99.4zM130 112.7L127.7 110.9L129.1 108.4L131.4 110.1zM120.7 122.6L118.5 120.7L120 118.3L122.3 120.2zM110.5 131.8L108.5 129.7L110.3 127.5L112.3 129.6zM99.4 140.7L97.7 136.1L102.3 136.6zM87.5 148.2L86.8 143.3L91.2 144.9zM74.8 154.6L75.6 149.7L79.2 152.4zM61.6 159.7L63.8 155.2L66.5 159zM48.2 163.5L51.6 159.9L53.1 164.2zM34.7 166.2L38.9 163.5L39.3 168.1zM21.4 168L26 166.2L25.5 170.8zM8.1 168.9L12.9 167.8L11.7 172.3zM-5.1 169.1L-0.1 168.4L-1.7 172.8zM-18 168.3L-13 168.1L-15 172.3zM-30.6 166.7L-27.7 166.3L-26.9 169.1L-29.8 169.4zM-43.3 163.3L-40.5 163.9L-40.6 166.8L-43.4 166.2zM-55.5 159.1L-53.1 160.7L-54.4 163.3L-56.8 161.7zM-67.7 154.1L-65.7 156.2L-67.5 158.5L-69.5 156.4zM-79.9 148.3L-77.9 150.3L-79.6 152.7L-81.7 150.6zM-92.6 141.7L-89.8 142.7L-90.4 145.6L-93.1 144.6zM-104.8 135.8L-102.5 134L-100.4 136.1L-102.7 137.8zM-115.2 127.9L-113.6 125.5L-111 126.8L-112.6 129.2zM-125 118L-122.8 116.1L-120.6 117.9L-122.8 119.9zM-130.6 106L-130.2 108.8L-133 109.7L-133.4 106.8zM-138.3 95.6L-138.7 98.4L-141.6 98.4L-141.2 95.6zM-145.4 84.3L-146.2 87.1L-149.1 86.8L-148.3 84zM-151.6 72.6L-152.7 75.3L-155.5 74.6L-154.4 71.9zM-156.8 60.7L-158.5 63L-161.1 61.7L-159.3 59.3zM-161.5 49.6L-164.4 49.9L-165.1 47.1L-162.2 46.8zM-167.1 37.4L-168.5 34.8L-166.1 33.1L-164.8 35.7zM-170.3 23.6L-170.4 20.7L-167.5 20.2L-167.4 23.1zM-171.8 9.8L-171.3 6.9L-168.4 7L-168.9 9.9zM-172.1 -4.1L-171.2 -6.8L-168.3 -6.2L-169.3 -3.5zM-171.3 -17.7L-170.1 -20.4L-167.3 -19.6L-168.5 -16.9zM-169.1 -30.9L-168.3 -33.7L-165.4 -33.2L-166.2 -30.4zM-164.8 -43.1L-166 -45.8L-163.6 -47.3L-162.4 -44.7zM-158.9 -56.3L-161.7 -57.1L-161.2 -60L-158.5 -59.1zM-153.5 -69L-156.4 -69.4L-156.4 -72.3L-153.5 -71.9zM-147.4 -81.1L-150.3 -81.5L-150.3 -84.4L-147.4 -84zM-140.6 -92.5L-143.4 -93.2L-143 -96.1L-140.2 -95.4zM-132.9 -103.3L-135.6 -104.5L-134.8 -107.3L-132.1 -106.1zM-124.6 -113.4L-126.9 -115.2L-125.6 -117.7L-123.2 -116zM-115.6 -123L-117.4 -125.3L-115.3 -127.4L-113.6 -125zM-106 -131.9L-106.9 -134.7L-104.3 -136L-103.4 -133.2zM-95.5 -140.1L-95.7 -143L-92.9 -143.6L-92.7 -140.7zM-84 -147.2L-84.1 -150.1L-81.3 -150.7L-81.1 -147.8zM-71.3 -152.9L-72.3 -155.7L-69.8 -157.1L-68.8 -154.3zM-58 -157.9L-59.9 -160.1L-58 -162.3L-56.1 -160.1zM-44.5 -162.1L-46.9 -163.7L-45.7 -166.3L-43.3 -164.7zM-31 -165.3L-33.6 -166.5L-32.8 -169.3L-30.2 -168.1zM-16.8 -166.7L-21.1 -169.1L-17.4 -171.7zM-2.1 -167.3L-6.9 -168.8L-3.6 -172.1zM12.7 -167.1L7.8 -167.8L10.5 -171.5zM27.1 -166L22.2 -166.1L24.4 -170.2zM40.9 -164L36 -163.8L37.9 -167.9zM54.2 -160.8L49.2 -160.4L51.1 -164.6zM67 -156.4L62.1 -156L63.9 -160.3zM79.3 -150.8L74.4 -150.6L76.4 -154.8zM91.1 -144.1L86.1 -144.3L88.4 -148.3zM102 -136.2L97.1 -137.1L99.8 -140.7zM111.9 -127.5L107.2 -129.2L110.5 -132.3zM121 -118.3L116.7 -120.7L120.5 -123.3zM130 -108.8L125.7 -111.4L129.7 -113.7zM138.8 -98.9L134.2 -101L137.9 -103.8zM147 -88.6L142.1 -89.7L145.1 -93.2zM154 -77.4L149.1 -77.8L151.6 -81.7zM159.7 -65.3L154.7 -65.8L157.3 -69.6zM164 -52.5L159.2 -53.5L162.1 -57.1zM167.4 -39.4L162.7 -41L166 -44.2zM170.1 -26.2L165.5 -27.8L168.8 -31zM172.1 -12.9L167.3 -14.1L170.4 -17.5zM173.1 0.5L168.2 -0.3L171 -4zM160.1 20.7L155.4 18.9L158.8 15.8zM157.7 34L153.1 32.2L156.6 29.1zM154 47.1L149.5 44.9L153.2 42.2zM148.8 59.5L146.1 58.4L146.8 55.6L149.5 56.7zM142.9 72.1L140.5 70.6L141.7 67.9L144.1 69.5zM136.1 84.2L133.9 82.3L135.4 79.8L137.6 81.7zM128.5 95.6L126.3 93.6L127.9 91.2L130.1 93.1zM120 106.2L117.8 104.3L119.4 101.9L121.6 103.8zM110.6 116.1L108.4 114.2L110.1 111.8L112.2 113.7zM100.2 125.7L97.7 121.4L102.3 121.2zM88.8 134.1L87 129.5L91.6 130zM76.4 141.4L75.8 136.5L80.1 138.1zM63.2 147.3L64.1 142.4L67.7 145.3zM49.4 151.6L52 147.3L54.4 151.3zM35.6 154.5L39.4 151.3L40.4 155.8zM22 156.2L26.5 154.1L26.3 158.7zM8.6 157.1L13.4 155.9L12.3 160.3zM-4.7 157L0.3 156.6L-1.5 160.8zM-17.7 156.1L-12.7 156.3L-15 160.3zM-30.4 154.1L-25.5 155.2L-28.5 158.7zM-42.6 151.3L-39.8 152L-40.1 154.9L-42.9 154.2zM-55.1 146.9L-52.6 148.3L-53.6 151.1L-56.1 149.7zM-67.4 141.6L-65.1 143.4L-66.5 145.9L-68.8 144.2zM-79.7 135.4L-77.3 136.9L-78.4 139.6L-80.9 138.1zM-92.2 128.7L-89.3 128.8L-89 131.7L-91.9 131.6zM-103.6 122.2L-101.7 120L-99.3 121.6L-101.2 123.8zM-113 114.4L-113 111.5L-110.1 111.1L-110.1 114zM-118.7 102.4L-120.5 104.6L-123 103.1L-121.1 100.9zM-127.2 91.1L-128.5 93.7L-131.3 92.8L-129.9 90.2zM-134.6 79.7L-135.9 82.3L-138.7 81.4L-137.4 78.8zM-140.9 67.9L-142.5 70.3L-145.2 69.1L-143.6 66.7zM-146.2 56.1L-148.6 57.8L-150.6 55.7L-148.2 54zM-151.3 44.7L-154.2 44.1L-154 41.2L-151.2 41.8zM-155.5 31.9L-157.7 29.9L-156.1 27.5L-153.9 29.4zM-158 18.4L-159.7 16L-157.6 14L-155.9 16.4zM-159.1 4.7L-160.4 2.1L-158.1 0.4L-156.7 3zM-158.9 -9L-160 -11.7L-157.5 -13.2L-156.4 -10.5zM-157.4 -22.6L-158.5 -25.3L-156 -26.7L-154.9 -24zM-154.6 -35.9L-155.8 -38.6L-153.3 -40.1L-152.2 -37.5zM-150.6 -49L-152 -51.5L-149.6 -53.3L-148.3 -50.7zM-145.5 -61.7L-147.1 -64.1L-144.9 -66L-143.3 -63.6zM-139.3 -73.9L-141.1 -76.2L-139 -78.3L-137.3 -76zM-132.2 -85.6L-134 -87.8L-132 -90L-130.2 -87.7zM-124.2 -96.6L-126 -98.9L-124 -101L-122.2 -98.7zM-115.4 -106.9L-117 -109.4L-114.8 -111.3L-113.2 -108.8zM-106 -116.5L-107.1 -119.2L-104.6 -120.7L-103.5 -118zM-95.9 -125.4L-96.3 -128.2L-93.5 -129L-93.1 -126.2zM-84.9 -133.3L-84.8 -136.2L-82 -136.5L-82 -133.6zM-72.9 -139.8L-73 -142.7L-70.2 -143.3L-70.1 -140.4zM-59.9 -145.1L-60.9 -147.8L-58.4 -149.2L-57.3 -146.5zM-46.1 -149.5L-48.1 -151.6L-46.4 -153.9L-44.3 -151.8zM-32.3 -153.1L-34.8 -154.5L-33.8 -157.2L-31.2 -155.8zM-18.4 -155.5L-21.2 -156.4L-20.8 -159.2L-18 -158.4zM-4.1 -156.6L-8.8 -158.1L-5.6 -161.3zM10.5 -156.6L5.5 -157.1L8 -160.9zM25 -155.6L20 -155.2L21.9 -159.4zM39.2 -153.2L34.3 -152.5L35.8 -156.8zM52.8 -149.4L47.9 -148.8L49.4 -153.1zM65.7 -144.2L60.7 -144L62.7 -148.1zM77.8 -137.7L72.9 -138.2L75.4 -142zM89.2 -130.1L84.4 -131.3L87.5 -134.8zM100.1 -121.8L95.4 -123.5L98.8 -126.6zM110.3 -112.7L105.8 -114.7L109.4 -117.6zM119.9 -102.9L115.5 -105.1L119.2 -107.8zM128.8 -92.5L124.3 -94.7L128 -97.4zM136.7 -81.4L132.2 -83.6L135.9 -86.3zM143.4 -69.6L139 -71.9L142.8 -74.5zM149 -57.2L144.7 -59.8L148.6 -62.1zM153.2 -44.5L149.2 -47.4L153.3 -49.4zM156.4 -31.6L152.6 -34.8L156.8 -36.6zM158.8 -18.7L154.9 -21.8L159.1 -23.7zM160.4 -5.8L156.2 -8.4L160.2 -10.7zM160.9 7.4L156.4 5.3L160.1 2.5zM147.3 12.5L142.7 10.8L146.1 7.7zM145.8 26.1L141.1 24.4L144.6 21.3zM142.6 39.5L138.1 37.3L141.8 34.6zM137.7 52.1L135 51L135.7 48.1L138.4 49.3zM132 64.8L129.6 63.2L130.8 60.6L133.2 62.2zM125.2 76.9L123.1 74.9L124.7 72.5L126.9 74.5zM117.6 88.3L115.5 86.2L117.3 83.9L119.3 86zM109.1 98.9L107 96.9L108.6 94.5L110.7 96.5zM99.6 108.7L97.4 106.8L99 104.3L101.2 106.2zM89.2 118.2L86.4 114.1L91 113.6zM77.6 126.5L75.4 122L80 122.2zM64.7 133.5L63.8 128.6L68.2 130zM50.6 138.7L51.7 133.9L55.2 136.8zM36.2 142L39.1 137.9L41.2 142.1zM22.1 143.7L26.2 140.8L26.7 145.4zM8.4 144.3L13 142.6L12.4 147.1zM-5.1 144L-0.2 143.1L-1.6 147.5zM-18.2 142.7L-13.3 142.6L-15.3 146.7zM-31.1 140.3L-26.1 140.9L-28.8 144.7zM-43.6 136.9L-38.8 138.2L-42 141.6zM-55.8 132.4L-51.2 134.4L-54.8 137.3zM-67.8 127.1L-63.3 129.3L-67 132.1zM-79.4 121L-74.8 123L-78.4 125.9zM-90.4 113.8L-87.5 114L-87.2 116.9L-90.1 116.7zM-100.8 105L-97.9 105.2L-97.7 108.1L-100.6 107.9zM-109.3 94.6L-106.9 96.3L-108.2 98.9L-110.6 97.2zM-116.5 84.2L-115.6 86.9L-118.2 88.2L-119.1 85.4zM-123.5 73.1L-123.5 76L-126.3 76.5L-126.4 73.6zM-129.5 61.6L-130.3 64.4L-133.2 64L-132.4 61.2zM-134.5 50.3L-136.7 52.1L-138.9 50.1L-136.6 48.3zM-139.2 38.7L-142.1 38.5L-142.3 35.6L-139.4 35.8zM-142.8 25.9L-145.4 24.5L-144.4 21.8L-141.9 23.1zM-144.8 13.1L-147.7 9L-143.2 8.4zM-145.6 0L-147.8 -4.4L-143.2 -4.3zM-145.1 -13.2L-146.8 -17.9L-142.2 -17.3zM-143.3 -26.6L-144.5 -31.4L-140 -30.3zM-140.1 -40L-140.9 -44.8L-136.6 -43.4zM-135.5 -53.1L-136 -58.1L-131.8 -56.4zM-129.6 -66L-129.9 -70.9L-125.7 -69zM-122.3 -78.5L-123 -81.4L-120.3 -82.4L-119.6 -79.6zM-114.3 -89.6L-114.9 -92.4L-112.2 -93.4L-111.6 -90.6zM-105.4 -99.8L-105.8 -102.7L-103 -103.6L-102.6 -100.7zM-95.5 -109.3L-95.7 -112.2L-92.9 -112.8L-92.7 -109.9zM-84.9 -117.8L-84.8 -120.7L-81.9 -120.9L-82 -118zM-73.5 -125.2L-73.1 -128L-70.2 -128.1L-70.6 -125.2zM-61.1 -131.2L-61.1 -134.1L-58.2 -134.5L-58.3 -131.6zM-47.7 -135.7L-48.8 -138.4L-46.3 -139.9L-45.2 -137.2zM-33.4 -139.4L-35.7 -141.2L-34.3 -143.8L-32 -142zM-19.2 -142.3L-22 -143.1L-21.7 -146L-18.9 -145.2zM-5.2 -144.1L-8.1 -144L-8.6 -146.8L-5.7 -146.9zM8.8 -144.5L6 -143.7L4.8 -146.4L7.6 -147.2zM23.1 -143.5L18.2 -142.3L19.3 -146.8zM36.9 -141.1L32.2 -139.5L32.9 -144.1zM50.3 -137.2L45.5 -135.8L46.4 -140.3zM62.9 -131.7L58 -131L59.5 -135.3zM74.8 -125L69.8 -125.1L72.1 -129.1zM86 -117.3L81.1 -118.2L84 -121.8zM96.5 -108.8L91.7 -110.2L95 -113.5zM106.3 -99.4L101.6 -101.1L105 -104.2zM115.2 -89.3L110.6 -91.1L114.1 -94.1zM123 -78.3L118.5 -80.5L122.2 -83.2zM129.2 -66.9L126.6 -68L127.3 -70.8L130 -69.7zM134.5 -54.4L132.3 -56.3L133.8 -58.7L136 -56.9zM138.8 -41.5L137 -43.8L138.9 -45.9L140.8 -43.7zM142.5 -28.3L140.5 -30.4L142.3 -32.7L144.3 -30.6zM145.3 -15L142.8 -16.5L143.9 -19.2L146.4 -17.7zM147.1 -1.1L142.8 -3.5L146.6 -6zM134.2 12.4L133.3 17.3L129.7 14.5zM132.1 26.4L130.7 31.1L127.4 27.9zM128.4 40L126.6 44.6L123.6 41.1zM123.1 53.2L121 57.6L118.2 54zM116.5 65.9L113.8 70.1L111.6 66.1zM108.6 78.2L106.9 80.5L104.3 79.2L106 76.9zM100 89.6L97.5 91.1L95.7 88.8L98.2 87.4zM89.9 100.1L87 100.3L86.3 97.5L89.2 97.3zM79.2 110L74.9 107.5L78.8 105.1zM66.9 118.6L63.7 114.8L68.2 113.8zM53 125.4L51.6 120.7L56.1 121.5zM37.9 129.8L39 124.9L42.5 127.8zM22.9 131.6L26 127.8L27.8 132zM8.6 132L12.9 129.4L13.2 134zM-5 131.4L-0.3 129.8L-1.1 134.4zM-18.4 129.8L-13.5 129.1L-15 133.4zM-31.6 127L-26.6 127L-28.7 131.1zM-44.4 123.1L-39.4 123.6L-42 127.4zM-56.7 118L-51.9 119L-54.8 122.5zM-68.6 111.8L-63.8 113.1L-66.9 116.5zM-79.8 104.6L-75.1 106.1L-78.3 109.3zM-90 96.2L-85.4 98L-88.9 101.1zM-98.9 86.8L-94.6 89.3L-98.6 91.7zM-106.5 76.4L-103 80L-107.4 81.3zM-112.8 65.6L-110.8 70.1L-115.4 69.9zM-118.2 54.7L-118.4 59.7L-122.4 57.4zM-122.6 43.8L-124.2 46.2L-126.9 45L-125.2 42.6zM-126.4 32.8L-131.3 32.4L-128.9 28.5zM-129.3 21.1L-133.5 18.5L-129.6 16.1zM-131.2 8.6L-134.6 4.9L-130.1 3.8zM-131.9 -4.4L-134.4 -8.7L-129.8 -8.9zM-131.2 -17.8L-132.8 -22.5L-128.3 -21.8zM-129 -31.3L-129.8 -36.2L-125.4 -34.7zM-125.3 -44.7L-125.2 -49.7L-121.2 -47.5zM-119.9 -57.9L-119.1 -62.8L-115.4 -60.1zM-112.8 -70.6L-111.4 -75.4L-108.1 -72.1zM-104 -82.7L-103.5 -85.5L-100.6 -85.5L-101.1 -82.6zM-94.9 -92.8L-94.2 -95.7L-91.3 -95.4L-92 -92.6zM-84.7 -102L-84 -104.8L-81.1 -104.5L-81.8 -101.7zM-73.7 -110L-72.9 -112.8L-70 -112.4L-70.8 -109.6zM-61.9 -116.8L-61.1 -119.6L-58.2 -119.2L-59 -116.4zM-49.2 -122.1L-48.9 -124.9L-46 -125L-46.3 -122.2zM-35.3 -125.7L-36.5 -128.3L-34 -129.9L-32.8 -127.2zM-20.1 -128.8L-22.9 -129.6L-22.5 -132.5L-19.7 -131.7zM-5.8 -131.1L-8.7 -130.5L-9.7 -133.2L-6.9 -133.8zM8 -131.8L5.5 -130.4L3.7 -132.7L6.3 -134.1zM21.6 -130.8L19.3 -129.1L17.2 -131.1L19.6 -132.9zM35 -128.1L32.7 -126.4L30.6 -128.4L32.9 -130.2zM47.9 -123.5L45.2 -122.4L43.7 -125L46.4 -126zM58.5 -116.7L56.4 -118.7L58.2 -121L60.2 -119zM68.4 -111.1L69.3 -113.9L72.1 -113.4L71.2 -110.6zM78.2 -104.2L82.4 -106.8L82.7 -102.2zM87.6 -96.8L92.5 -97.6L91.1 -93.3zM97 -88.5L101.9 -87.8L99.2 -84.1zM106 -79L110.5 -76.9L106.9 -74.1zM113.9 -68L118 -65.1L113.8 -63.1zM120.6 -56L124.1 -52.5L119.7 -51.1zM126 -43.2L129 -39.2L124.4 -38.5zM130.1 -29.7L132.4 -25.3L127.8 -25.3zM133 -15.8L134.2 -11L129.8 -12.1zM134.5 -1.7L134.5 3.3L130.4 1.2zM120.9 3.4L121.1 8.3L117 6.4zM119.8 17.1L119.4 22L115.5 19.6zM117 30.5L116.2 35.4L112.5 32.7zM112.6 43.5L111.4 48.3L107.9 45.3zM106.8 56L105.1 60.7L102 57.4zM99.7 68.1L97.4 72.5L94.8 68.7zM91.4 79.5L88.2 83.3L86.5 79.1zM81.8 90.4L77.6 93.1L77.2 88.5zM70.6 100.8L65.7 101.4L67.3 97.1zM57.5 109.9L52.9 108L56.4 105zM42.4 116.7L39.6 112.7L44.1 112.1zM25.9 120.2L26.1 115.3L30.1 117.6zM10 120.4L13 116.5L14.9 120.6zM-4.3 119L0.1 116.6L0.2 121.2zM-17.7 116.9L-12.9 115.7L-14 120.1zM-30.8 113.7L-25.9 113.4L-27.7 117.6zM-43.5 109.4L-38.6 109.7L-41 113.6zM-55.7 103.7L-50.8 104.6L-53.6 108.2zM-67.2 96.8L-62.4 98.1L-65.6 101.5zM-77.8 88.5L-73.2 90.4L-76.7 93.3zM-87.1 79L-82.8 81.6L-86.8 83.9zM-94.7 68.5L-91.2 72L-95.6 73.4zM-100.6 57.7L-98.5 62.2L-103.1 61.9zM-105 47.1L-105.3 52.1L-109.2 49.7zM-108.7 37.1L-112 40.8L-113.6 36.5zM-112.2 26.8L-117.2 27.5L-115.6 23.2zM-115.3 15.6L-119.9 13.7L-116.4 10.7zM-117.3 3.2L-120.9 -0.2L-116.5 -1.7zM-117.9 -9.9L-120.2 -14.3L-115.6 -14.3zM-117 -23.4L-117.9 -28.3L-113.5 -27zM-114.3 -37.2L-113.8 -42.1L-109.9 -39.6zM-109.5 -50.7L-107.8 -55.4L-104.7 -51.9zM-102.7 -63.6L-100 -67.8L-97.7 -63.7zM-93.9 -75.4L-90.6 -79.1L-89 -74.7zM-83.9 -85.7L-82.3 -88.2L-79.6 -86.9L-81.2 -84.5zM-73.5 -94.4L-71.9 -96.9L-69.3 -95.7L-70.8 -93.3zM-62.2 -101.9L-60.7 -104.4L-58 -103.4L-59.4 -100.8zM-50.1 -108L-48.7 -110.6L-45.9 -109.6L-47.3 -107zM-37.3 -112.7L-36 -115.3L-33.2 -114.4L-34.6 -111.8zM-23.7 -115.3L-23.4 -118.2L-20.5 -118.3L-20.8 -115.4zM-6.6 -117.9L-9.2 -116.8L-10.7 -119.3L-8.1 -120.4zM7.1 -118.8L4.9 -116.9L2.7 -118.8L4.9 -120.7zM16.3 -117.9L18.8 -119.3L20.6 -117L18 -115.6zM29.5 -114.4L31.6 -116.5L33.9 -114.8L31.8 -112.7zM42 -110L46.1 -112.7L46.6 -108.1zM52.9 -104.1L57.1 -106.8L57.4 -102.2zM63.6 -97.3L68 -99.6L68 -95zM74 -89.7L78.7 -91.2L78 -86.7zM83.9 -81.3L88.9 -81.7L87.1 -77.4zM93.2 -72L98 -70.9L95 -67.4zM101.5 -61.5L105.8 -59L101.9 -56.6zM108.5 -49.9L112 -46.4L107.7 -45zM113.9 -37.3L116.7 -33.2L112.1 -32.7zM117.8 -24.1L119.8 -19.5L115.2 -19.9zM120.2 -10.5L121.3 -5.6L116.8 -6.8zM107.2 12.2L104.9 16.6L102.3 12.8zM104.8 25.2L102.6 29.6L99.8 25.9zM100.6 37.7L98.5 42.2L95.7 38.6zM95.1 49.9L92.7 54.3L90.1 50.4zM88.3 61.6L85.2 65.5L83.3 61.4zM80.1 72.8L76.3 75.9L75.4 71.4zM70.5 83.5L65.9 85.2L66.5 80.6zM59.1 93.3L54.2 93.1L56.4 89.1zM45.9 101.3L41.3 99.3L44.9 96.4zM31.2 107L27.7 103.4L32.1 102.1zM14.7 109.8L13.6 104.9L18.1 106.1zM-2.2 108.3L0.4 104.1L2.7 108zM-16.8 104.5L-12.2 102.4L-12.5 107zM-29.8 100.3L-24.8 99.8L-26.6 104.1zM-42.1 95.2L-37.2 95.8L-39.8 99.6zM-53.8 88.8L-49 90.2L-52.2 93.6zM-64.5 81.1L-60 83.3L-63.7 86zM-73.8 71.9L-69.9 75.1L-74.1 76.9zM-81.2 61.8L-78.5 66L-83.1 66.4zM-86.9 51.3L-86 56.2L-90.4 54.8zM-91.3 41.1L-92.7 45.9L-96 42.6zM-95.1 30.9L-98.6 34.5L-100 30.1zM-98.6 20.3L-103.3 21.9L-102.6 17.4zM-101.4 8.9L-106.3 8.2L-103.6 4.4zM-103.4 -3.4L-107.3 -6.5L-103.1 -8.4zM-104.1 -16.7L-105.5 -21.5L-101 -20.7zM-102.7 -30.8L-101.3 -35.6L-98 -32.4zM-98.7 -44.7L-95.4 -48.5L-93.7 -44.2zM-92 -57.5L-87.9 -60.4L-87.3 -55.8zM-83.1 -68.9L-78.6 -71.1L-78.7 -66.5zM-72.6 -78.6L-70.3 -80.3L-68.2 -78.3L-70.5 -76.5zM-62 -86.7L-59.8 -88.7L-57.6 -86.9L-59.7 -84.9zM-50.4 -93.5L-48.4 -95.6L-46 -94L-48 -91.8zM-38 -99L-35.9 -101L-33.6 -99.3L-35.7 -97.2zM-25 -102.8L-22.9 -104.8L-20.6 -102.9L-22.8 -101zM-11.7 -104.5L-9.9 -106.8L-7.3 -105.4L-9.1 -103.1zM1.9 -104.6L3.3 -107.1L6.1 -106.1L4.7 -103.5zM15.4 -103.2L16.8 -105.7L19.5 -104.7L18.1 -102.2zM27.3 -100L30.9 -103.3L32.1 -98.9zM39 -95.2L42.8 -98.4L43.8 -93.9zM50.5 -89.1L54.5 -92L55.2 -87.5zM61.6 -81.7L65.8 -84.3L66.2 -79.7zM72.2 -73L76.7 -75.2L76.5 -70.6zM82.1 -63.4L87 -64.3L85.6 -59.9zM90.7 -52.9L93.6 -52.4L93.5 -49.5L90.7 -50zM98.1 -41.2L99.8 -38.8L97.8 -36.8L96 -39.1zM103.3 -28L103.7 -25.1L100.9 -24.3L100.5 -27.1zM106.2 -14.4L105.9 -11.5L103 -11.3L103.3 -14.2zM107.7 -1.1L105.6 3.3L102.8 -0.3zM94.8 5.5L93.6 8.2L90.8 7.5L91.9 4.8zM93.2 18.3L90.9 22.7L88.2 18.9zM89.6 30.9L87.5 35.4L84.7 31.8zM84.4 43.4L81.8 47.6L79.4 43.7zM77.6 55.5L74 58.9L72.7 54.5zM69.2 67.1L64.7 69.1L65 64.5zM59.2 77.9L54.2 78L56.3 73.9zM47.1 86.8L42.3 85.4L45.5 82zM33.7 93.1L29.4 90.7L33.2 88.1zM19.5 97.1L15.7 93.9L20 92.2zM4.2 98.6L1.5 94.4L6.1 94zM-12.3 95.1L-11 90.3L-7.6 93.4zM-26.6 88.2L-21.7 88.3L-23.9 92.3zM-39.2 81.6L-34.7 83.7L-38.4 86.5zM-50.3 74.2L-46.5 77.5L-50.8 79.1zM-59.5 65.7L-57 70L-61.6 70.2zM-67.1 56.6L-66.4 61.5L-70.7 60zM-73.4 47L-74.6 51.8L-78.1 48.8zM-78.9 36.6L-81.5 40.9L-83.9 36.9zM-83.4 25.4L-87 28.9L-88.3 24.5zM-86.7 13.6L-91 16.1L-91.2 11.5zM-89.2 1L-93.9 2.5L-93.1 -2.1zM-90.4 -11.9L-93.3 -11.8L-93.7 -14.7L-90.8 -14.7zM-91.3 -26.3L-89.3 -28.4L-86.9 -26.7L-89 -24.6zM-87.8 -39.9L-83 -41.3L-84 -36.8zM-81.3 -52.2L-76.4 -53.1L-77.8 -48.7zM-72.4 -62.9L-67.5 -63.6L-69 -59.3zM-61.8 -71.9L-59.2 -73.1L-57.6 -70.7L-60.2 -69.5zM-50.9 -79.4L-48.6 -81.1L-46.5 -79.1L-48.8 -77.3zM-38.8 -85.3L-36.8 -87.4L-34.4 -85.6L-36.5 -83.6zM-26 -89.7L-24 -91.8L-21.6 -90.1L-23.6 -88zM-12.6 -91.7L-11 -94.2L-8.4 -93.1L-9.9 -90.6zM1.3 -91.7L2 -94.5L4.9 -94.2L4.2 -91.4zM14.9 -90.1L15.4 -92.9L18.3 -92.9L17.8 -90.1zM27.2 -86L29.1 -90.6L32.1 -87.1zM39.4 -80.6L41.4 -85.1L44.3 -81.5zM51.2 -73.7L53.2 -78.2L56.1 -74.6zM62.4 -65.4L64.1 -70L67.2 -66.7zM72.2 -55.2L71.8 -58.1L74.6 -58.9L75 -56zM81.6 -43.7L79.2 -45.2L80.3 -47.9L82.8 -46.3zM88.9 -32.8L86.2 -31.7L84.7 -34.2L87.3 -35.3zM92.9 -20.5L90.7 -18.6L88.5 -20.5L90.7 -22.4zM94.9 -7.6L93.2 -5.2L90.6 -6.6L92.3 -8.9zM82.2 12.3L80.2 14.4L77.8 12.7L79.9 10.6zM78.8 24.9L77.5 27.6L74.8 26.7L76 24.1zM73.4 37.7L71.9 40.2L69.2 39.2L70.7 36.6zM67.3 50L62.9 52.2L62.9 47.6zM58.7 61.8L53.7 62.2L55.5 58zM47.9 71.9L43.1 70.9L46 67.4zM35.5 79.3L30.8 77.5L34.2 74.4zM22.1 83.8L17.6 81.8L21.2 78.9zM8.5 85.7L3.9 83.7L7.5 80.8zM-5.1 84.4L-9.8 83L-6.6 79.7zM-19 78.6L-23.8 79.9L-22.8 75.4zM-31.8 71.2L-34.8 75.1L-36.8 71zM-42.8 62.6L-45 67.1L-47.7 63.3zM-52.5 53.7L-55 58L-57.5 54.1zM-60.9 43.7L-63.9 47.7L-65.8 43.5zM-67.5 32.5L-70.9 36.1L-72.4 31.7zM-72.4 20L-76.1 23.4L-77.3 19zM-75.8 6.6L-79.3 10.1L-80.7 5.7zM-78.1 -7.6L-80.3 -3.2L-83 -6.9zM-78.8 -21.4L-76.8 -19.4L-78.5 -17L-80.6 -19.1zM-76.5 -34.8L-71.9 -33L-75.3 -30zM-70.6 -46.5L-65.7 -45.6L-68.4 -42zM-61.8 -56.4L-56.8 -56.5L-58.8 -52.4zM-51.3 -64.6L-48.9 -66.3L-46.9 -64.2L-49.3 -62.5zM-39.7 -71.4L-37.9 -73.6L-35.4 -72.2L-37.2 -69.9zM-27 -76.6L-25.3 -78.9L-22.7 -77.5L-24.5 -75.2zM-13.6 -79.8L-11.9 -82L-9.3 -80.6L-11.1 -78.3zM0.4 -79.8L1.2 -82.6L4.1 -82.2L3.3 -79.4zM15.3 -77.3L14.1 -79.9L16.5 -81.5L17.7 -78.9zM29 -72.5L26.8 -77L31.4 -76.9zM41.5 -65.9L39.1 -70.3L43.7 -70.4zM52.7 -58L50.3 -62.3L54.9 -62.5zM62.5 -48.7L59.9 -52.9L64.5 -53.3zM70.8 -38.5L68.3 -39.9L69.4 -42.6L71.9 -41.2zM77.4 -26.4L74.5 -26.9L74.6 -29.8L77.4 -29.3zM81.4 -13.7L78.6 -13.3L77.8 -16.1L80.7 -16.5zM83.1 -0.5L80.3 0.6L78.9 -2L81.6 -3zM70.1 8.6L67 4.7L71.5 3.9zM66.9 22.2L64.8 17.7L69.4 17.8zM61.6 34.8L60 30.1L64.6 30.8zM55.1 46.2L52.6 41.9L57.2 41.7zM47.8 56.1L43.6 53.6L47.5 51.2zM38.7 64.2L33.9 62.9L37 59.5zM26.9 69.8L22 68.8L24.9 65.2zM13.7 72.7L8.8 71.9L11.6 68.2zM0.3 72.8L-4.6 72.3L-2.1 68.4zM-12.7 69.6L-17.6 69.9L-15.7 65.7zM-25 63.4L-29.8 64.8L-28.9 60.3zM-36.4 55L-40.8 57.3L-40.8 52.7zM-46.3 45L-50.5 47.7L-50.9 43.1zM-54.2 33.7L-58.3 36.5L-58.9 32zM-60.1 21L-64 24L-64.9 19.5zM-64.3 7L-67.6 10.7L-69.3 6.4zM-66.8 -7.5L-68.2 -2.7L-71.5 -5.9zM-67 -21.2L-64.8 -16.7L-69.4 -16.8zM-63.9 -33.3L-59.4 -31.1L-63.1 -28.4zM-57 -43.4L-54.2 -44.3L-52.9 -41.7L-55.7 -40.8zM-47.8 -52.2L-45.8 -54.3L-43.4 -52.8L-45.3 -50.6zM-36.9 -59.5L-33.5 -63.1L-32 -58.8zM-24.2 -65.5L-22.4 -67.8L-19.9 -66.3L-21.7 -64zM-10.9 -69.2L-8.5 -70.8L-6.6 -68.7L-9 -67.1zM2.8 -70.1L5.5 -71.1L6.9 -68.5L4.2 -67.6zM19.9 -65.5L17 -65.7L16.7 -68.6L19.6 -68.4zM33.5 -58.7L29.1 -61L32.8 -63.6zM44.8 -50.4L40.8 -53.3L44.9 -55.3zM54.3 -40.8L50.6 -44.1L54.9 -45.7zM61.9 -29.9L58.3 -33.3L62.7 -34.8zM67.4 -18L63.7 -21.3L68 -22.9zM70.3 -5L66.6 -8.4L71 -10zM56.8 16.4L54.6 11.9L59.2 12.1zM51.4 28.9L50.4 24L54.8 25.4zM43.6 39.6L43.8 34.6L47.8 36.9zM36 48.1L34.7 43.4L39.2 44.3zM29.7 54.9L24.8 54.5L27.3 50.6zM18.2 59.5L13.2 59.5L15.4 55.4zM4.8 61L-0.2 60.9L2 56.8zM-8.4 58.9L-13.4 59.1L-11.4 55zM-20.8 53.6L-25.7 54.3L-24.1 50zM-31.7 45.5L-36.6 46.7L-35.5 42.2zM-40.8 35.1L-45.5 36.6L-44.8 32.1zM-47.7 22.9L-52.3 24.8L-51.8 20.2zM-52.6 9.3L-57 11.7L-57.1 7.1zM-55.8 -4.8L-57.2 -2.3L-59.9 -3.3L-58.5 -5.9zM-55.4 -19.5L-53.5 -17.3L-55.3 -15.1L-57.3 -17.3zM-52.1 -29.4L-50 -31.5L-47.7 -29.8L-49.7 -27.7zM-43.8 -39.5L-42.4 -42.1L-39.6 -41.1L-41.1 -38.5zM-33.4 -48.2L-31.8 -50.7L-29.2 -49.4L-30.8 -47zM-21.3 -55.2L-18.8 -56.6L-17 -54.3L-19.6 -52.9zM-7.1 -59.6L-4.4 -58.6L-5 -55.8L-7.7 -56.8zM8.2 -59.6L9.2 -56.8L6.6 -55.5L5.6 -58.2zM23.1 -54.1L18.6 -52.1L18.9 -56.7zM36.1 -44.8L31.3 -46L34.3 -49.5zM45.5 -34.3L41.4 -37L45.3 -39.3zM52.6 -22.8L48.9 -26.2L53.3 -27.8zM57.2 -10.3L53.9 -14L58.3 -15.1zM58.7 3L55.8 -1L60.4 -1.7zM46.4 8.8L44.3 4.3L48.9 4.6zM42.2 20.8L41.6 15.9L45.9 17.5zM34.5 30.3L36.6 25.8L39.4 29.4zM25.9 37.8L27.7 35.6L30.3 37L28.5 39.3zM19.5 45.1L14.6 45.6L16.3 41.3zM8.9 49.1L3.9 49.4L5.8 45.2zM-4.2 48.3L-9.2 48.6L-7.3 44.4zM-16.6 43.5L-21.6 43.9L-19.8 39.7zM-27.3 35.4L-32.2 35.9L-30.5 31.6zM-35.6 24.7L-40.5 25.2L-38.8 20.9zM-41.5 12L-46.5 12.2L-44.5 8zM-44.9 -2L-47.8 -1.7L-48.5 -4.6L-45.6 -4.8zM-44.4 -14.2L-45.7 -16.8L-43.3 -18.4L-42 -15.8zM-39.7 -27.6L-37.8 -29.9L-35.3 -28.4L-37.2 -26.1zM-30 -38.6L-27.1 -39L-26.2 -36.3L-29.1 -35.8zM-17 -45.9L-14.6 -44.3L-15.8 -41.7L-18.2 -43.3zM-3.1 -48.9L-1.5 -46.5L-3.7 -44.5L-5.3 -46.9zM11.4 -48.4L11.2 -43.5L7.2 -45.7zM26.1 -42.3L22.7 -38.8L21.2 -43.2zM37.2 -30L32.3 -30.8L35.1 -34.5zM43.3 -17.1L39.5 -20.3L43.7 -22zM46.5 -4.2L43.6 -8.2L48.2 -8.9zM31.3 12.1L33 7.4L36.1 10.8zM24.9 21.5L29.4 19.5L29.1 24.1zM15.8 29.6L18.7 29.3L19.4 32.1L16.5 32.4zM6.7 34.9L4.7 37.1L2.3 35.5L4.2 33.3zM-4.2 35.5L-9.1 36.7L-8 32.2zM-16.4 29.7L-21.3 30.6L-19.9 26.2zM-26.4 19.2L-31.3 19.9L-29.8 15.5zM-33.1 5L-35.7 6.3L-37.3 3.9L-34.7 2.6zM-33.5 -11.4L-32.5 -8.7L-35 -7.3L-36 -10zM-28.4 -23.9L-26.2 -22L-27.8 -19.6L-29.9 -21.5zM-17.5 -33.6L-15.4 -29.1L-20 -29.3zM-3.9 -38.1L-2.5 -33.3L-7 -34.2zM11.3 -38.2L11.4 -33.3L7.3 -35.3zM25.7 -30.8L23.4 -26.4L20.8 -30.2zM33.6 -14.6L28.9 -16.3L32.3 -19.4zM34.2 0.3L32.9 -4.5L37.4 -3.5zM21.2 -0.2L26.2 0.1L23.8 4zM16.7 11.9L21.5 13.2L18.3 16.6zM7.3 20.1L11.2 23.2L7 25zM-4.5 21.9L-3.4 24.6L-5.9 26L-7 23.3zM-15.6 15.2L-16.5 20.1L-20.1 17.2zM-23.1 2.5L-22.2 7.4L-26.6 6.1zM-22.8 -11.9L-20.7 -7.3L-25.3 -7.6zM-14.3 -22.7L-12.6 -18.1L-17.1 -18.6zM-1 -28L0.3 -23.2L-4.2 -24.2zM13.4 -26.7L14.2 -21.8L9.9 -23.2zM22.2 -16L23.7 -11.3L19.2 -12.1zM9.8 3L13.3 6.6L8.9 7.9zM-1.1 10.1L1.4 14.3L-3.2 14.6zM-11.9 2.5L-9.9 7L-14.5 6.7zM-10.7 -10.8L-9.1 -6.1L-13.6 -6.7zM1.6 -17.8L3.2 -13.2L-1.3 -13.8zM11.8 -11.4L14.4 -7.2L9.8 -6.9z"/><use href="#top"/></g><circle class="oc" r="180.5"/><use href="#lab"/><text class="tt" transform="translate(0 -206.3) scale(1 1.09)" text-anchor="middle">(g) CNRM-CM5 (AMIP)</text></g><g transform="translate(1643.5 714.9)"><g clip-path="url(#cc)"><circle r="181.5" fill="#fafafa"/><path fill="#fff" fill-rule="evenodd" d="M-30.3 -136l8.3-0.7l8-0.1l7 0.4l7 1.1l5.2 1.3l5.2 2l3.6 2.2l3 3l2.6 4.8l4.9 15l4.7 12l5.8 13.1l4.6 8.9l6.7 10l16.7 19.8l8 10.4l7 10.7l4.8 9.1l2.1 5l1.5 5l0.9 4l0.3 4l-0.4 4l-1 3l-1.2 2l-2 2l-3 1.5l-4 0.7l-5-0.1l-6-0.9l-12-2.8l-31-8l-7-2.2l-5-2.4l-3-2.2l-3-3.4l-3-4.6l-7.5-13.6l-4.3-7l-5.3-7l-5.6-6l-5.7-5l-8-6l-29.9-20l-14.2-10l-7.7-6l-3.8-4l-1.5-3l-0.4-2l0.4-3l1.3-3l1.9-3l3.5-4l4.3-4l5.2-4l10-6l11.4-5l11.9-3.6zM-21.2 19l7.2-0.3l5 1l2 1.1l2 1.7l3 4.7l2.4 5.8l6.4 19l4.2 11.4l15.2 35.6l1.5 5l0.8 4l0.9 13l1.1 3l1.8 2l2.7 1.5l3 1l9.9 1.5l12.1 0.4l30 0l8 0.4l7 0.8l6.1 1.4l5.3 2l4.8 3l3.1 3l2.5 4l1.6 5l0.6 5l-0.5 6l-1.3 6l-2.6 7l-4.1 8l-3.9 6l-304.6 0l0-155.5l2 2.3l3 5.1l12.4 28.1l5 10l5 9l4.9 8l6.2 9l6.9 9l7 8l6.6 6.5l7 5.9l7 4.8l8 4.4l7 2.8l8 2.3l7 1l7 0l6-1.1l4-2l1-1.1l0.8-1.5l0-2l-0.7-2l-2-3l-2.9-3l-18.2-16.1l-10-9.9l-9.4-11l-7.7-11l-4.2-7l-3.6-7l-3.1-7l-2.9-8l-1.9-7l-1-6l-0.1-5l0.8-3l1.1-1.7l1-0.8l2-1l2-0.4l28-1.1l22-1.9l21-3z"/><path fill="#fcc8c4" fill-rule="evenodd" d="M-30.3 -119l6.3-0.6l6 0.1l6 0.9l5 1.5l5 2.2l4 2.4l4 3.3l4 4.3l4.1 5.9l3.6 7l2.5 7l3.9 15l1.6 4l2.2 4l2.8 4l3.3 3.7l14.6 14.3l6.4 7l5.5 7l4.4 7l2.6 6l0.9 3l0.3 3l-0.6 4l-1.1 1.8l-1.2 1.2l-2.8 1.4l-4 0.7l-5-0.2l-5-0.9l-6-1.7l-6-2.3l-6-2.9l-5-3l-7-5l-6-5.3l-17.5-18.8l-6.4-6l-8-6l-17.1-11l-7.2-5l-7.2-6l-4.7-5l-3.9-6l-1.2-3l-0.7-3l-0.2-3l0.5-4l0.9-3l1.5-3l2-3l2.7-3l3.5-3l3-2l4-2.1l4-1.7zM-51.5 30l12.5-0.6l10 0.8l4 0.9l4 1.4l4 2l3 2.1l3 2.6l3 3.4l3 4.1l3 5.1l5.7 12.2l2.6 7l2.1 7l1.7 9l0.3 4l-0.2 4l-0.8 4l-1 3l-3.2 6l-2.4 3l-3 3l-3.8 3.1l-4 2.7l-9 4.5l-9 3l-6 1.3l-7 0.7l-6 0l-7-0.9l-7-1.7l-6-2.1l-7-3.2l-6-3.4l-7-4.8l-6-4.9l-5.6-5.3l-5.3-6l-5.1-6.8l-3.8-6.2l-2.8-6l-2.1-6l-0.7-4l-0.3-4l0.4-4l1.1-4l2-4l2.2-3l2.9-3l3.9-3l3.4-2l4.8-2.2l11-3.4l16-3.2zM3.4 151l22.6-0.6l9 0.3l6 0.7l5 1.2l2.9 1.4l1.9 2l0.3 1l0 2l-1.5 3l-3 3l-4.2 3l-5.4 2.7l-6 2.3l-6 1.6l-6 1.2l-7 0.7l-7 0.1l-7-0.5l-6-0.9l-6-1.5l-5-1.9l-5.1-2.8l-2.3-2l-2-3l-0.1-3l1-2l2.1-2l3.8-2l4.6-1.5l5-1z"/><path fill="#d6d6e9" fill-rule="evenodd" d="M-13.3 -181l13.3-0.9l14 0.5l13 2l13 3.5l12 4.9l5.6 3l6 4l4.6 4l2.5 3l1.4 3l0 2l-1.1 1.6l-2 1l-3 0.6l-5 0.1l-9-0.8l-29-3.4l-19-1.3l-18-0.3l-29 0.9l-8-0.1l-4-0.4l-3-0.9l-1.6-1l-0.7-1l-0.2-1l0.5-2l2-3l4.7-4l6.5-4l6.8-3.2l9-3.1l9-2.3zM51.3 -114l6.7-0.8l7 0.5l8 1.9l7 2.6l8 4.1l8 5.4l7 5.8l6.5 6.5l6 7l5 7l5 8l5.3 10l4.9 11l4.6 12l4 12l3 11l1.8 9l0.9 8l0.2 8l-0.3 8l-1.1 8l-1.8 8l-2.5 8l-3.4 8l-3.6 7l-4.5 6.9l-5 6.4l-5 5.1l-6 5l-6 3.8l-6 2.8l-6 1.8l-8 1.1l-10-0.6l-27-3.6l-7-1.7l-6-2.4l-4-2.2l-4-2.9l-4-3.9l-3-3.6l-3-4.6l-2.7-5.4l-2-5l-1.4-5l-0.8-5l-0.2-4l0.5-4l1.1-4l1.6-3l2.9-3.4l3-2.2l4-2l5-1.3l5-0.4l5 0.2l6 0.9l11.4 3.2l19.6 8l4 1l4 0.2l3-0.6l2-0.9l4-3l3.2-4.7l2.1-6l0.6-4l0.1-4l-1.1-8l-2.5-8l-4.6-10l-6.3-11l-8.5-13l-29.8-41l-4.8-8l-3.2-7l-1.4-4l-0.8-4l-0.1-4l0.6-3l1.5-2.9l2-2.1l3-1.9zM-86.7 -67l7.7 0.1l7 1.4l8 2.8l8 3.8l9.9 5.9l8.1 6l6.5 6l4.8 6l3.4 6l2.2 6l1 7l-0.4 6l-1.6 6l-3.2 6l-4.2 5l-5.1 4l-4.4 2.5l-5.6 2.5l-6.4 2.2l-7.2 1.8l-7.8 1.4l-8 0.9l-7 0.4l-7-0.2l-6-0.7l-5-1l-5-1.5l-4-1.8l-4.3-2.5l-3.7-3l-2.9-3l-3.1-4l-2.8-5l-2-5l-1.5-6l-0.6-6l0.1-6l0.9-6l1.7-6l2.1-5l3.4-6l3.7-4.8l4.1-4.2l4.9-4l5-3l5-2.4l6-1.8zM-143.4 66l0.4-0.5l1-0.4l2 0.7l3 2.6l4 4.8l14.5 19.8l18.4 24l2.7 5l0 2l-0.6 0.6l-2 0.4l-4-1l-4-2l-5-3.2l-4.8-3.8l-4.2-3.8l-8-9.2l-6.6-10l-2.6-5l-2.6-6l-1.2-4l-1.1-5l0-4z"/><path fill="#f99fb5" fill-rule="evenodd" d="M-26.5 -108l4.5-0.3l4 0.2l4 0.8l4 1.2l4 1.9l3 2l3 2.6l2.4 2.6l3.6 5.7l2.3 6.3l1.1 6l1.7 15l0.9 4l1.6 4l2.4 3.9l2.9 3.1l14.4 12l6.6 7l2.6 4l1.2 3l0.2 2l-0.9 2.1l-2 0.8l-4-0.4l-4-1.5l-4-2.3l-4-2.9l-4.2-3.8l-12.2-14l-4.6-4.2l-7-4.4l-18-8.6l-8.8-4.8l-7.2-5l-3.3-3l-2.8-3l-3.2-5l-1.6-5l0-5l1.8-5l3.1-4.2l4.8-3.8l5.2-2.4zM-60.3 36l9.3-0.7l9 0.1l7 1l7 2l6 2.8l5.3 3.8l5 5l4.3 6l4.2 8l3.2 9l1.5 8l0 7l-0.7 4l-1 3l-3.2 6l-4.6 5.2l-6 4.6l-5 2.7l-5 2l-6 1.8l-6 1.1l-6 0.5l-7 0l-6-0.7l-6-1.2l-6-1.8l-5-2l-6-3.1l-5-3.2l-5-3.9l-5-4.7l-3.7-4.3l-3.4-5l-2.7-5l-1.9-5l-1-5l-0.2-4l0.5-5l1.1-4l1.8-4l2.5-3.8l2.8-3.2l3.6-3l3.6-2.4l5-2.5l5-1.8l6-1.8z"/><path fill="#a6bddb" fill-rule="evenodd" d="M63.9 -103l6.1 0.3l6 1.4l7 2.9l7 4.2l6.8 5.2l6.2 6l5.8 7l4.7 7l4.2 8l3.7 9l2.4 8l1.6 9l0.7 9l-0.6 8l-1.6 6l-1 2l-1.9 2l-1 0.5l-2 0.3l-2-0.5l-2-0.9l-5-3.8l-6-6.1l-9-10.9l-12-16l-14.3-19.6l-7.2-11l-3.3-6l-2.1-5l-1-4l-0.1-4l0.9-3l2.1-2.6l3-1.6zM-82.3 -58l7.3 0l7 1.2l7 2.3l7 3.5l7 4.6l6 5.2l4.4 5.2l3.4 6l2 6l0.6 6l-0.7 7l-2 6l-2.9 5l-4.5 5l-5.3 4l-5.7 3l-9.3 3.1l-5 1l-6 0.8l-10 0l-9-1.5l-4-1.3l-4-1.7l-6-3.9l-5.4-5.5l-2.1-3l-2.1-4l-1.6-4l-1.2-5l-0.4-4l0-5l0.6-4l1.3-5l1.5-4l2.2-4l2.8-4l2.6-3l3.8-3.5l4-2.8l4-2.2l4-1.6l4-1.1zM44.2 39l3.8 0.2l3 0.6l6 2.3l3.2 1.9l2.4 2l1.9 2l2.2 3l0.9 2l0.9 3l0.1 3l-0.3 2l-1.3 2.9l-1.5 2.1l-2.2 2l-2.3 1.5l-4 1.6l-4 0.9l-5 0l-4-0.8l-4-1.6l-3-2l-3-2.9l-2.5-3.7l-1.6-4l-0.6-4l0.5-4l1.2-3l2.5-3l2.8-2l3.7-1.4z"/><path fill="#f05ea0" fill-rule="evenodd" d="M-25.9 -97l2.9-0.5l3 0l5 1.1l5 2.7l3.6 3.7l2.5 5l0.7 3l0.2 3l-0.3 3l-0.7 2.3l-1 2l-2 2l-2 1l-3 0.5l-4-0.3l-4-1.1l-4-1.7l-4-2.5l-2.7-2.2l-2.5-3l-1.7-3l-0.7-3l0.1-3l0.6-2l1.1-2l1.9-2l2.9-1.9zM-61.4 41l7.4-0.7l8 0.1l7 1l6 1.6l6 2.7l5 3.2l5 4.4l4 5l3.4 5.7l2.7 7l1.4 7l0.1 6l-1.3 6l-2.3 5l-3.9 5l-5.1 4.2l-4 2.4l-4 1.8l-5 1.7l-5 1.1l-10 0.9l-6-0.3l-5-0.8l-5-1.1l-5-1.7l-5-2.1l-5-2.8l-4-2.7l-4-3.4l-3.2-3.2l-3.1-4l-2.4-4l-1.8-4l-1.2-4l-0.6-4l0-4l0.6-4l1.2-4l2.1-4l2.2-3l2.9-3l3.3-2.6l4-2.4l4.3-2l4.7-1.7z"/><path fill="#67a5cf" fill-rule="evenodd" d="M68.7 -92l3.3-0.9l4 0.2l5 1.5l5 2.4l5 3.3l5 4.2l4.1 4.3l3.9 5l3.8 6l2.9 6l2.1 6l1.4 6l0.5 5l-0.3 5l-1.3 4l-2.1 2.3l-2 0.7l-3-0.3l-3-1.4l-4-3l-5-4.8l-5-5.7l-11.3-14.8l-7.7-12l-2.5-5l-1.4-4l-0.6-3l0.2-3l0.8-2zM-81.2 -51l6.2-0.3l6 0.7l7 2.1l6 2.9l6 4.3l4.4 4.3l3.5 5l2.2 5l1.2 5l0.1 6l-1.2 6l-2.2 5l-3 4.2l-4 3.9l-5 3.4l-6 2.6l-7 1.9l-8 0.7l-8-0.6l-7-2l-6-3l-5.1-4.1l-4-5l-3-6l-1.6-7l0.1-7l1.8-7l3-6l4.8-5.8l5.3-4.2l6.7-3.3z"/><path fill="#c51b8a" fill-rule="evenodd" d="M-62.4 46l6.4-0.8l7-0.1l6 0.7l6 1.5l5 2l5 2.8l4 3.2l4 4.2l3.6 5.5l2.2 5l1.4 6l0.1 5l-0.8 5l-1.6 4l-2.9 4.4l-4 3.9l-6 3.8l-4 1.7l-4 1.2l-9 1.3l-9-0.4l-9-1.9l-8-3.3l-7.2-4.7l-3.4-3l-2.8-3l-3.8-6l-1.3-3l-1.1-4l-0.5-4l0.2-3l0.7-4l1.2-3l1.6-3l2.3-3l3.1-2.9l2.8-2.1l7.2-3.6z"/><path fill="#2080b8" fill-rule="evenodd" d="M79.9 -80l1.1-0.4l2 0.1l2 0.5l3 1.4l5 3.9l4 4.5l3.7 6l2.3 6l0.5 5l-0.5 2.1l-1 1.3l-1 0.5l-2 0l-4-2.2l-5-4.6l-5-6.1l-4-6.4l-2.3-5.6l-0.4-2l0.1-2l0.6-1.2zM-78.2 -45l5.2-0.1l5 0.8l5 1.6l5 2.7l4 3l3.6 4l2.5 4l1.8 5l0.7 5l-0.5 5l-1.8 5l-2.3 3.9l-3 3.3l-4 3.1l-5 2.6l-5 1.5l-6 0.8l-6-0.2l-6-1.4l-5-2.2l-4.6-3.4l-3.4-3.7l-2.5-4.3l-1.7-5l-0.5-5l0.7-6l1.8-5l3.2-5l4-4l4-2.6l5-2.2z"/><path fill="#87057b" fill-rule="evenodd" d="M-56.6 50l5.6-0.2l5 0.4l5 1.1l5 1.8l5 2.7l4 3.1l3 3.1l2.8 4l1.9 4l1.3 5l0.2 4l-0.5 4l-1.5 4l-2.2 3.5l-3 3.2l-4 2.8l-6 2.7l-7 1.6l-7 0.2l-8-1.1l-7-2.3l-6.6-3.6l-5.4-4.6l-4.2-5.4l-2.2-5l-0.7-3l-0.2-3l0.2-3l0.7-3l2.5-5l3.9-4.4l5.4-3.6l6.6-2.6z"/><path fill="#0a6299" fill-rule="evenodd" d="M-80.8 -38l3.8-0.8l4 0l4 0.6l4 1.3l4 2.3l3 2.6l2.5 3l1.5 2.8l1.1 3.2l0.5 4l-0.5 4l-0.9 3l-1.7 3l-2.5 3l-3 2.5l-3 1.6l-4 1.5l-5 0.7l-5-0.2l-4-1l-4-1.8l-3.2-2.3l-2.8-3l-2-3.3l-1.3-3.7l-0.4-4l0.4-4l1.3-4l2.5-4l3-3l3.5-2.3z"/><path fill="#49006a" fill-rule="evenodd" d="M-56.2 55l4.2-0.2l4 0.2l4 0.7l4 1.3l4 1.9l3.1 2.1l3.2 3l2.4 3l1.6 3l1 3l0.6 4l-0.3 3l-0.8 3l-1.5 3l-2.4 3l-2.9 2.3l-5 2.6l-5 1.4l-6 0.5l-6-0.6l-6-1.7l-5.1-2.5l-4.9-3.8l-3.5-4.2l-2-4l-1-5l0.6-5l1.8-4l3.1-3.7l4-2.9l5-2.1z"/><path fill="#023858" fill-rule="evenodd" d="M-77.8 -31l4.8-0.4l2.3 0.4l2.7 0.9l2 1.2l2.2 1.9l1.5 2l1 2l0.5 2l0.2 3l-1.2 4l-1.2 2l-2 2l-4 2.3l-5 0.9l-3-0.3l-2.9-0.9l-2.1-1.2l-2.2-1.8l-1.6-2l-1-2l-0.6-2l-0.1-3l0.5-2.6l1.1-2.4l1.4-2l2.3-2z"/><path class="z0" d="M-30.3 -136l8.3-0.7l8-0.1l14 1.5l5.2 1.3l5.2 2l3.6 2.2l3 3l2.6 4.8l4.9 15l4.7 12l5.8 13.1l4.6 8.9l6.7 10l16.7 19.8l8 10.4l7 10.7l4.8 9.1l3.6 10l1.2 8l-0.4 4l-1 3l-1.2 2l-2 2l-3 1.5l-4 0.7l-5-0.1l-6-0.9l-43-10.8l-7-2.2l-5-2.4l-3-2.2l-3-3.4l-14.8-25.2l-5.3-7l-5.6-6l-5.7-5l-8-6l-44.1-30l-7.7-6l-3.8-4l-1.5-3l-0.4-2l0.4-3l1.3-3l5.4-7l9.5-8l10-6l11.4-5l11.9-3.6zM-188 32.5l2 2.3l3 5.1l12.4 28.1l10 19l11.1 17l6.9 9l7 8l6.6 6.5l7 5.9l7 4.8l8 4.4l7 2.8l8 2.3l7 1l7 0l6-1.1l4-2l1.8-2.6l0-2l-0.7-2l-2-3l-2.9-3l-18.2-16.1l-10-9.9l-9.4-11l-7.7-11l-7.8-14l-6-15l-1.9-7l-1-6l-0.1-5l0.9-3.2l1-1.5l1.8-1.3l4-1l26.2-1l22-1.8l20-2.8l39-6.6l6-0.1l5 1.5l2 1.3l2 2.2l2.8 5.3l12.2 34.4l14.4 33.6l2.9 10l1.1 14l1.1 3l1.5 1.7l2 1.4l4 1.4l9.9 1.5l12.1 0.4l31 0l15 1.4l7 1.8l5.3 2.4l4.1 3l2.6 3l2.2 4l1.4 5l0.4 5l-0.6 6l-1.9 7l-1.9 5l-4.1 8l-3.9 6"/><use href="#base"/><path fill="url(#g22)" d="M-124.4 43.6L-78 44.4L-63.9 52.3L-48.9 52.3L-34 60.1L-19.1 68L-4.9 75.9L-4.9 121.5L-85.9 121.5L-101.6 105.7L-117.3 105.7L-129.9 90.8L-133 52.3z"/><path fill="url(#d22)" d="M-124.4 43.6L-78 44.4L-63.9 52.3L-48.9 52.3L-34 60.1L-19.1 68L-4.9 75.9L-4.9 121.5L-85.9 121.5L-101.6 105.7L-117.3 105.7L-129.9 90.8L-133 52.3z"/><path fill="url(#g23)" d="M48 -25L72 -25L72 0L48 0z"/><path fill="url(#d23)" d="M48 -25L72 -25L72 0L48 0z"/><path fill="url(#g24)" d="M11.1 -117.1L63.5 -117.1L71.1 -102.5L90.6 -102.5L100.3 -87.3L100.3 -57.6L83 -57.6L70.5 -65.7L61.4 -72.7L40.8 -78.7L39.7 -87.3L25.7 -102.5L11.1 -102.5z"/><path fill="url(#d24)" d="M11.1 -117.1L63.5 -117.1L71.1 -102.5L90.6 -102.5L100.3 -87.3L100.3 -57.6L83 -57.6L70.5 -65.7L61.4 -72.7L40.8 -78.7L39.7 -87.3L25.7 -102.5L11.1 -102.5z"/><path fill="url(#g25)" d="M56 46L78 46L78 69L56 69z"/><path fill="url(#d25)" d="M56 46L78 46L78 69L56 69z"/><path class="sh" d="M169.7 15.4L169.9 11.8M167.4 28.8L168.5 25.2M164.2 41.9L166 38.4M160.1 54.7L162.4 51.5M155.3 67.1L157.7 64.3M149.6 79.2L152 76.8M143.2 90.7L145.2 88.8M135.8 101.6L137.4 100.3M65.8 155L64.5 157.4M54.2 159.7L51.4 162.5M42.1 163.9L37.9 166.2M29.5 167.4L24.3 168.6M16.3 170.1L10.7 169.8M2.5 171.7L-2.8 170M-11.7 172L-16 169.1M-26.2 171L-29.1 167.4M-40.9 168.5L-42 164.9M-55.4 164.3L-55 161.4M-69.5 158.5L-67.9 156.6M-83 151.2L-79.9 150.5M-95.5 142.5L-90.8 143.9M-106.7 133L-101.3 136.8M-116.8 123.3L-111.6 128.9M-126.1 113.2L-121.5 119.9M-134.5 102.6L-130.7 110M-142 91.6L-139.1 99.2M-148.5 80.3L-146.8 87.6M-154 68.8L-153.5 75M-158.6 57.7L-158.9 61.3M-82.7 -151.6L-82.7 -149.7M-70.3 -158.3L-70.5 -155.1M-57.2 -163.6L-58 -159.9M-43.6 -167.3L-45.1 -164.2M-29.7 -169.2L-31.6 -167.6M-15.9 -169.7L-17.8 -169.4M-2.5 -169.2L-4.3 -170M10.6 -168.2L8.9 -169.7M23.6 -166.6L22.4 -168.3M162.9 -52.6L161.6 -54.3M166.6 -39.3L165.3 -41.4M169.2 -25.7L168 -28.4M170.6 -12L169.6 -15.1M170.8 1.8L170.3 -1.7M157 22L157.7 17.1M154 35.4L155.8 30.6M150 48.3L152.7 43.8M145.2 61L148.4 56.8M139.5 73.1L142.9 69.4M132.8 84.7L136.2 81.6M125.3 95.6L128.4 93.2M116.8 105.8L119.7 104.1M107.5 115.1L110 114.1M97.3 123.6L99.6 123.1M86.2 131.1L88.7 131.2M74.5 137.8L77.3 138.3M62.1 143.7L65.4 144.5M49.2 148.7L53 149.6M35.9 153L40 153.6M22.5 156.3L26.7 156.4M9 158.7L13.2 158M-4.4 160L-0.5 158.5M-17.7 160L-14.2 157.7M-30.7 158.6L-27.8 155.9M-43.5 156L-41.2 153M-55.9 152.1L-54.3 148.9M-68 147L-67 143.8M-79.8 140.5L-79.1 137.8M-127.4 89.7L-128.9 91.6M-134 78.1L-136.7 80.6M-140 66.5L-143.3 68.6M-145.4 54.9L-148.2 55.9M-74.4 -142.9L-71.7 -141.6M-62.4 -148.9L-58.8 -147M-49.9 -153.2L-45.8 -151.5M-36.9 -155.8L-32.5 -155M-23.6 -157.1L-18.9 -157.4M-10.1 -157.3L-5.1 -158.7M3.4 -157L8.7 -158.8M16.9 -156L22.3 -157.5M30.5 -154.3L35.5 -154.8M44.1 -151.9L48.3 -151.1M57.7 -148.2L60.7 -146.5M71.1 -143L72.8 -141.1M134.6 -84.2L133.5 -85.7M142 -72.2L140.2 -74.3M148 -59.6L145.9 -62.2M152.7 -46.6L150.6 -49.6M156.2 -33.1L154.2 -36.7M158.4 -19.3L156.7 -23.4M159.3 -5.5L158.2 -10M158.9 8.3L158.5 3.6M145.2 14L145.3 9.7M142.6 27.4L143.7 23.4M138.9 40.4L141 36.7M134.2 53.2L137 49.7M128.6 65.5L131.8 62.3M121.9 77.1L125.3 74.4M114.3 88L117.7 85.9M105.7 98.1L108.9 96.7M96.2 107.4L99.2 106.5M85.8 115.8L88.6 115.4M74.5 123.4L77.5 123.1M62.3 130L66 129.9M49.4 135.7L54 135.4M36.1 140.2L41.5 139.8M22.5 143.4L28.5 142.9M9 145.4L15 144.8M-4.3 146.2L1 145.5M-17 145.7L-13.5 144.9M-48.9 137.8L-54.6 134.8M-60.5 132.7L-68 128.7M-72.3 126.3L-80 121.8M-83.7 119L-91.1 113.7M-94.5 110.6L-101.4 104.7M-104.5 101.3L-110.7 94.7M-113.5 91.1L-119.1 83.9M-121.4 80L-126.5 72.5M-128.3 68.1L-132.8 60.4M-134.2 55.4L-137.7 48.1M-139.5 41.6L-141.1 36.1M-144.1 26.8L-143.7 24.3M-62.8 -133.6L-59.8 -132.8M-50.7 -138.6L-46.6 -137.7M-38 -141.8L-33.2 -141.6M-24.7 -143.6L-19.6 -144.3M-11 -144.3L-6 -145.7M2.8 -144.1L7.5 -145.7M16.7 -143.2L20.7 -144.3M30.9 -141.6L33.3 -141.6M86.4 -119.8L83.6 -119.4M97.9 -109.9L93.6 -111.2M107.9 -99.1L103.1 -102.5M116.8 -87.9L112 -92.8M124.6 -76.4L120.1 -82.1M131.3 -64.5L127.2 -70.5M136.8 -52.1L133.3 -58.1M141.1 -39.3L138.2 -45.1M144.1 -26.2L141.9 -31.7M145.9 -12.9L144.3 -18M146.3 0.5L145.4 -4.1M95.2 89.5L97.1 89.3M85.5 98.8L87.3 98.8M-21.8 129.2L-27.1 129.9M-33.7 126.4L-41.6 126.4M-46.1 122.3L-54.8 121.4M-58.4 117.1L-67.1 115M-70.2 110.9L-78.5 107.4M-81.5 103.5L-89 98.5M-92.3 95.2L-98.4 88.6M-102.3 85.6L-106.7 77.8M-111.4 74.7L-113.7 66.5M-119.2 62.4L-119.6 55M-125.7 48.4L-124.6 43.7M-130.8 33.2L-129 31.7M-134.3 17.7L-131.4 17.9M-135.7 2.2L-131.8 4.7M-134.7 -12.8L-131.4 -8.4M-131.4 -27.2L-130.2 -21.7M-126.1 -40.3L-127.7 -35.1M-120.1 -52.2L-123.6 -48.3M-113.7 -63.4L-118 -61M-107 -74.2L-110.5 -73.1M-99.7 -84.7L-101.5 -84.2M-51 -123.5L-47.6 -123.5M-38.5 -127.8L-34.2 -127.8M-25 -130.5L-21 -130.7M-10.8 -131.7L-8.1 -132.1M49.9 -125L45 -124.1M63.6 -119.3L56.4 -118.7M76.1 -111.6L67.8 -112.5M87.2 -102.5L78.9 -105.3M97 -92.2L89.4 -96.9M105.6 -81.3L99 -87.5M113 -69.7L107.6 -77M119.3 -57.6L115.1 -65.5M124.3 -45L121.4 -53.3M128.1 -32.3L126.3 -40.3M130.6 -19.6L129.9 -26.4M131.9 -7.3L131.9 -11.7M117 5.9L118.3 7.9M116.1 18.6L116.9 21.6M113.6 32L113.6 34.5M17.3 116L15.9 117.4M5.4 116.8L1.2 119.3M-6.7 116.3L-13.5 119.1M-19.3 114.7L-27.6 116.9M-32.1 111.8L-41 112.9M-44.6 107.8L-53.6 107.4M-56.7 102.6L-65.5 100.3M-68.4 96.3L-76.3 91.8M-80 89L-85.7 82M-91.4 80L-93.7 71.4M-101.6 68.9L-100.5 60.4M-109.9 56L-106.4 49.2M-116.3 41.2L-111.4 37.8M-120.7 25.2L-114.9 25.5M-122.8 9.3L-116.7 13M-122.5 -6L-117.4 0.3M-119.7 -20.6L-117.2 -12.8M-114.5 -34.2L-115.8 -26M-108.2 -46.1L-112.8 -39.4M-101.4 -57.1L-107.8 -52.5M-94.4 -67.5L-100.8 -64.9M-87 -77.2L-91.8 -76.3M-79.1 -85.9L-81.1 -86.2M-61.8 -100L-60.2 -102.4M-51.9 -106.7L-47.1 -109.3M-40.3 -112.5L-33.6 -113.9M-27.2 -116.8L-20.4 -116.8M-13.1 -119.4L-7.5 -118.4M2.1 -120.3L4.7 -118.9M34.3 -117.2L31.5 -114.4M48.9 -112.9L43.1 -109.3M62.2 -106.5L54.7 -103.6M74.2 -98.1L65.9 -96.9M84.9 -87.9L76.5 -89.3M93.8 -76.2L86.4 -80.6M100.6 -63.9L95.6 -70.7M105.7 -51.5L103.7 -59.4M109.5 -39.4L110.3 -46.9M112.2 -27.8L115.2 -33.3M114.4 -16.8L117.6 -18.9M116.2 -5.8L118.1 -5.4M103.7 9.4L104.7 15.4M102.7 23.5L101.7 27.9M99.3 38L97.8 39.7M72.9 74.9L74.6 74.1M61.8 83.1L65.3 82.8M50.6 89.7L54.3 90.5M39.4 94.8L42 96.5M28.4 98.4L29.3 100.8M17.5 100.5L16.1 104.6M6.2 101.4L1.6 106.7M-6 101.3L-12.8 106.4M-18.6 99.8L-26.5 103.9M-31 97L-39.7 99.5M-43.1 92.9L-52.1 93.3M-55.1 88.3L-63.4 85.1M-68.2 82.7L-72.7 75.4M-81.5 73.8L-80.3 65.2M-92 62L-87.2 54.8M-100 48.7L-93.2 43.7M-105.8 33.8L-97.9 32.1M-109.2 18.1L-101.2 20.2M-110.1 2.6L-103.1 7.7M-108.4 -12.5L-103.7 -5.1M-103.6 -26.8L-103.2 -18.1M-96.7 -39L-101.2 -31.5M-89.6 -49.6L-96.9 -44.9M-82.3 -59.6L-90.4 -57.3M-74.5 -68.8L-81.8 -68.8M-66.4 -76.3L-71.3 -78.9M-58.3 -82.7L-60.1 -87.7M-49.9 -89.3L-47.7 -95M-40.3 -96.4L-34.3 -100.1M-28.3 -102.7L-20.8 -103M-14.6 -106.8L-7.6 -104.3M0.2 -108.6L5.2 -104.3M15.5 -108.1L17.9 -102.9M30.2 -105.6L30.7 -99.5M43.3 -101.4L43.2 -94.3M55 -95.5L55.2 -87.5M65.3 -87.8L66.6 -79.6M74.1 -78.4L77 -70.5M81.6 -67.4L86.2 -60.5M88 -55.3L93.9 -49.4M93.4 -42.7L99.8 -37.4M97.8 -29.9L103.9 -24.6M101.1 -17L105.9 -11.3M103.1 -4L106.2 2.2M92 1.8L93 7.9M92.4 16.6L90.7 20.2M90 32.2L87.2 32.9M83.8 46.7L81.6 45.5M74.2 59.2L73.9 57.4M62.4 68.8L64.5 66.9M50.3 75.7L55 75.4M38.6 80.9L43.8 83M27.4 84.5L31 88.8M16.5 86.6L17.4 92.9M5.4 87.6L3 95M-6.7 87.4L-11.3 94.7M-19.1 85.5L-25.1 92.1M-31.3 82L-38.2 87.4M-43.4 77.6L-49.8 80.2M-60 74.9L-59.3 71.8M-73.5 66.2L-67.2 60.6M-82.7 54.6L-75 50.2M-89.9 41.6L-81.5 38.9M-95.1 27.2L-86.3 27M-97.9 12.1L-89.3 14.6M-98.2 -3.1L-90.7 1.8M-94.9 -18.5L-90.8 -11M-86.7 -31.7L-90.1 -24.4M-78.8 -41.7L-86.7 -38.2M-71.7 -51.5L-80.4 -50.9M-63.7 -60.6L-71.9 -62.4M-55.1 -68.2L-61.5 -72.5M-45.9 -74.6L-49.7 -80.9M-36.6 -80.9L-36.7 -86.7M-27.2 -88.8L-23.6 -90M-14.3 -95.3L-9.3 -91.6M0.4 -97.4L4.1 -91.4M15 -96.3L17.1 -89.9M28.4 -92.9L30.2 -86.6M40.3 -87.8L43 -81M51.1 -81L55.1 -73.6M61.1 -72.3L65.8 -64.9M69.9 -62.1L75 -54.8M77.3 -50.7L82.6 -43.6M83.2 -38.4L88.3 -31.3M87.5 -25.4L92.1 -18.4M90.4 -12L93.6 -5.2M82.2 10L80.1 12.4M80.7 26.2L76.2 25.8M74.9 40.5L70.6 38.1M65.6 52.6L63.9 50.1M39.8 66.9L44 68.5M27.8 71.1L32.5 75.9M16.1 73.8L19.1 80.9M4.2 75L4.8 83.3M-8.5 74.4L-9.3 83.1M-21.9 71.8L-22.9 80.5M-36.3 67.1L-35 75.2M-52 63.1L-45.3 66.9M-63.7 57.2L-54.9 56.8M-72.5 47.3L-63.7 45.9M-79.4 35.1L-70.5 34.2M-84.3 21.5L-75.3 21.6M-86.7 7L-77.9 8.5M-86.4 -7.8L-78.4 -4.8M-79.7 -22.2L-78.8 -19.5M-68.8 -32.3L-76.4 -32.2M-61.9 -42.9L-70.4 -45M-53.8 -52.8L-61.7 -56.2M-44.2 -61L-51.2 -65.8M-33.3 -67.9L-39.3 -73.3M-21.8 -74.6L-25.3 -77.5M-11.2 -82.9L-11.4 -80.8M1.5 -85.9L2.5 -79.4M15.1 -84.3L16.1 -77.9M27.9 -79.9L29.4 -74.5M39.3 -73.6L42 -68.6M49.7 -65.8L53.6 -60.2M59 -56.2L63.5 -50.2M66.8 -45L71.4 -38.8M72.8 -32.6L77.2 -26.4M77.1 -19.5L80.5 -13.3M80.1 -5.5L81.2 -0.2M71.8 2.9L69.5 4.7M71.5 18.9L66 18.2M66.6 32.6L61 30.6M58.4 44L54.6 42.4M32.6 56.8L34.7 60.9M19.8 60.9L22.9 67.8M6.9 63.3L9.5 71.3M-6.5 63.5L-4.2 71.9M-20.6 61.4L-17.3 69.6M-35 57.6L-29.2 64.2M-48.2 52.5L-40 56M-58.6 44.9L-49.7 45.9M-66.5 34.5L-57.6 34.5M-72.1 22.3L-63.1 21.9M-75.1 9.2L-66.2 8.6M-75.2 -3.8L-66.8 -5.3M-68.4 -14.7L-66.9 -18.7M-57.9 -27.2L-63.9 -32.6M-50 -39.1L-57.1 -44.1M-40.6 -49L-47.7 -53.9M-29.6 -57L-36.6 -61.8M-17.1 -63.6L-23.9 -66.8M-5.6 -70.4L-8.9 -68.9M4.9 -73.7L4.8 -68.3M16.8 -71.5L18.7 -65.8M28.6 -66.1L31.6 -61.2M39.5 -58.5L43.4 -54M49.1 -49.2L53.5 -44.5M57 -38.4L61.5 -33.2M63.1 -26.2L66.8 -20.7M67.9 -12.8L69.1 -8M61.6 11.4L55.8 10.6M57.7 24.5L51.6 23.3M50.4 35.1L45.2 35.2M39.3 42.5L36.7 44.9M25.3 47.5L25.4 53.4M11.2 51.2L13.3 58.7M-3.1 52.5L0.3 60.4M-17.5 51.3L-12.5 58.5M-31.5 47.7L-24.5 53.2M-43.6 41.8L-35.2 45M-53 33.3L-44.2 34.4M-59.6 22.7L-50.8 22.2M-63.2 10.9L-54.6 8.7M-62.8 -0.7L-55.7 -5.5M-56.4 -11.7L-54.9 -19.5M-47.2 -24.4L-51 -31.8M-37.7 -35.9L-43.4 -42.2M-26.7 -45.2L-33.2 -50.4M-14.4 -51.9L-21.1 -55.9M-2.2 -56.8L-6.6 -57.8M17.6 -57.7L21.2 -53.5M28.8 -51.6L33.7 -46.9M39 -43L43.9 -38M47.5 -32.3L51.5 -27.2M54.7 -19.6L55.9 -15.6M60.7 -4.1L58.2 -2.8M51.2 4.3L45.5 3M48.4 16.9L42.7 16.1M41.7 27.1L36.7 28.2M30.9 34.4L27.6 38M16.8 39.1L16.3 45.2M1.6 41.6L4.1 48.6M-13.5 41.2L-8.4 47.6M-27.3 37.9L-20.3 42.5M-38.8 31.5L-30.6 33.8M-46.9 22.7L-38.5 22.4M-51.2 12.2L-43.4 9.1M-50.7 1L-45 -5.1M-44.7 -10.6L-43.5 -18.7M-35.7 -22.6L-38.3 -30.2M-24.8 -33L-29.4 -39.1M-12.4 -40.3L-17.9 -45.1M0.1 -43.8L-4.3 -47.4M30.8 -35.4L32.9 -33.3M48.8 -10.2L46 -10M38.2 10.1L33.6 9.2M31.4 20.5L27.9 21.8M19.5 27.7L17.5 31M3.7 31.2L4.6 35.9M-12.7 30.8L-8.4 35.2M-26.5 26.4L-20.2 28.6M-35.9 18.3L-29.1 17.4M-39.4 7.8L-33.7 3.3M-36.1 -4.2L-33.6 -11.2M-27.4 -16.6L-28.3 -23.5M-15.2 -26.7L-18.3 -32M-1.2 -31.5L-5.5 -36.4M12.1 -31L8.8 -34.9M24.1 -25.8L21.8 -28M34.2 -15.7L30.4 -17.8M39.4 -2.7L34.1 -4.9M27.7 3L24.4 1.7M-7 22L-5.7 23.4M-20.7 17.3L-17.3 17.3M-27 7.9L-23.4 4.8M-24.2 -4.4L-22.7 -9.4M-13.8 -15.8L-14.8 -20.1M0.8 -20.9L-2.3 -25.2M15 -18.2L10.8 -22.4M25.1 -9.1L20.6 -12.4M-11.6 -4.8L-11.3 -6.9M2.6 -10.9L1.1 -13.2M14.4 -4L12.5 -5.6"/><path class="hd" d="M170 8.4L172.1 12.9L167.5 12.7zM169.4 21.9L170.4 26.8L166 25.5zM167.5 35.4L167.6 40.4L163.5 38.3zM164.4 48.8L163.7 53.7L160 51zM160 61.8L158.8 66.6L155.4 63.5zM154.4 74.4L152.9 79.1L149.6 75.9zM147.7 86.5L146 91.2L142.9 87.8zM140.1 98.2L138.1 102.7L135.2 99.1zM131.4 109.4L130.6 112.1L127.7 111.7L128.6 108.9zM122.4 119.7L121 122.2L118.3 121.2L119.7 118.7zM112.6 129.7L110.4 131.6L108.2 129.6L110.4 127.8zM101.6 139.3L98.7 139.6L98 136.7L100.9 136.5zM89.1 147.6L86.7 146.1L87.8 143.4L90.3 144.9zM76.3 154.2L74.8 151.8L77 149.9L78.5 152.4zM62.9 160.3L63 155.4L67 157.6zM49 164.9L50.5 160.1L53.7 163.4zM34.9 167.9L37.7 163.7L39.9 167.8zM21 169.4L24.7 166.2L25.8 170.7zM7.3 169.7L11.8 167.6L11.6 172.2zM-6 168.9L-1.1 168.1L-2.6 172.4zM-18.9 167.2L-13.9 167.8L-16.5 171.6zM-31.2 164.7L-26.7 166.8L-30.3 169.6zM-43.1 161.6L-39.5 165.1L-43.9 166.5zM-54.5 158.1L-52.8 162.7L-57.4 162.1zM-65.6 154.1L-66.8 158.9L-70.2 155.9zM-76.5 149.8L-80.4 152.9L-81.3 148.4zM-87.5 144.8L-92.4 145.8L-91.1 141.4zM-98.5 138.8L-103.4 138.1L-100.8 134.4zM-109.3 131.4L-114 129.7L-110.6 126.6zM-119.6 122.7L-124 120.4L-120.2 117.8zM-129.2 113L-133.2 110.2L-129.1 108.1zM-137.9 102.4L-141.6 99.1L-137.3 97.5zM-146 90.9L-149.2 87.1L-144.8 86.1zM-153.2 78.4L-155.8 74.2L-151.2 73.8zM-159.2 64.7L-161.1 60.1L-156.6 60.5zM-163.9 50.5L-165.1 47.8L-162.7 46.2L-161.5 48.9zM-164.8 34L-165.5 36.8L-168.4 36.5L-167.7 33.7zM-167.5 20.2L-167.4 23.1L-170.3 23.6L-170.3 20.6zM-168.5 6.9L-168.8 9.8L-171.7 9.9L-171.4 7zM-168.5 -6.5L-169.1 -3.6L-172 -3.8L-171.4 -6.7zM-167.5 -20L-168.1 -17.1L-171 -17.3L-170.4 -20.2zM-165.8 -33.7L-165.8 -30.8L-168.7 -30.4L-168.7 -33.3zM-164.3 -47.4L-162.3 -45.4L-164 -43L-166.1 -45.1zM-161.5 -59.8L-158.7 -59.4L-158.6 -56.5L-161.5 -56.9zM-156.7 -72L-153.8 -72.2L-153.2 -69.3L-156.1 -69.2zM-150.6 -84.1L-147.7 -84.3L-147.1 -81.4L-150 -81.2zM-143.5 -95.7L-140.6 -95.8L-140.1 -93L-143 -92.8zM-135.6 -106.6L-132.7 -106.8L-132.1 -103.9L-135 -103.8zM-127.2 -116.2L-124.5 -117.4L-123 -115L-125.6 -113.8zM-115.4 -123L-117.4 -125.1L-115.6 -127.4L-113.6 -125.2zM-104.8 -131.8L-107.1 -133.7L-105.5 -136.1L-103.3 -134.2zM-94 -139.7L-96.1 -141.7L-94.4 -144.1L-92.3 -142.1zM-82.5 -146.3L-85 -150.6L-80.4 -150.7zM-70.7 -151.7L-72.8 -156.2L-68.2 -155.9zM-58.8 -156.6L-60.1 -161.4L-55.6 -160.4zM-46.6 -161.2L-46.7 -166.1L-42.6 -164.1zM-34.1 -165.3L-32.4 -170L-29.3 -166.5zM-21.1 -168.8L-17.2 -171.9L-16.4 -167.3zM-7.5 -171.2L-2.6 -171.7L-4.3 -167.5zM6.4 -172L11.2 -170.7L8.1 -167.3zM20.5 -171.1L24.9 -168.8L21.1 -166.2zM34.3 -168.5L37 -167.5L36.5 -164.7L33.7 -165.6zM47.2 -165L50 -164.4L49.8 -161.5L47 -162.1zM59.3 -159.7L62 -160.6L63.3 -158L60.6 -157.1zM71.6 -153.2L73.4 -155.4L75.9 -153.8L74 -151.6zM83.5 -146.8L85.4 -149L87.9 -147.5L86 -145.3zM95 -140.3L97.5 -141.8L99.3 -139.5L96.8 -138zM106.3 -133.2L109.2 -133.1L109.5 -130.2L106.6 -130.3zM117.2 -124.8L119.8 -123.5L118.9 -120.7L116.3 -122zM126.8 -115.1L129.3 -113.5L128 -110.9L125.6 -112.5zM135.3 -104.6L137.8 -103.1L136.7 -100.4L134.2 -101.9zM142.6 -93.3L145.4 -92.3L144.8 -89.5L142.1 -90.4zM149.1 -81.4L152 -80.9L151.9 -77.9L149 -78.5zM154.9 -69.1L157.8 -68.7L157.8 -65.8L154.9 -66.2zM159.6 -57L164.1 -54.9L160.4 -52.1zM163.6 -44.4L167.8 -41.7L163.8 -39.4zM166.6 -31.5L170.5 -28.4L166.3 -26.5zM168.6 -18.3L172.1 -14.8L167.7 -13.5zM169.8 -5L172.7 -1L168.2 -0.3zM158.2 13.8L159.8 18.4L155.3 17.8zM156.9 27.4L157.6 32.3L153.3 30.7zM154.4 40.9L154.1 45.8L150.2 43.5zM150.4 54.1L149.6 59L145.9 56.2zM145.1 66.9L143.9 71.7L140.5 68.6zM138.7 79.3L137 84L133.9 80.6zM131.1 91.1L129.1 95.6L126.2 92zM122.6 102.3L120 106.5L117.6 102.6zM113.2 112.8L109.9 116.6L108.2 112.3zM103 122.5L99.1 125.6L98.2 121zM92.1 131.2L87.7 133.4L87.7 128.8zM80.7 138.8L76 140.4L76.7 135.9zM68.7 145.3L63.9 146.5L65 142zM56.3 150.4L51.5 151.6L52.5 147.2zM43.4 154.2L38.7 155.7L39.4 151.2zM30.1 156.5L25.7 158.7L25.8 154.1zM16.5 157.4L12.6 160.5L11.8 155.9zM2.7 157.2L-0.6 161L-2.3 156.7zM-11.3 155.9L-13.8 160.2L-16.3 156.3zM-25.3 153.6L-27 158.3L-30.1 154.9zM-39.2 150.2L-40 155.1L-43.7 152.4zM-52.8 145.9L-52.7 150.8L-56.8 148.8zM-65.9 140.6L-65.1 145.5L-69.5 144zM-78.3 134.5L-77.1 139.3L-81.6 138.2zM-90.2 128L-88.7 130.5L-91 132.3L-92.5 129.8zM-101.1 119.7L-99.6 122.2L-101.7 124.1L-103.3 121.7zM-113.6 113.5L-112.2 111L-109.5 111.9L-110.9 114.5zM-122.1 104.5L-122.4 101.7L-119.6 100.9L-119.3 103.8zM-131.1 94.3L-130.1 89.4L-126.5 92.3zM-139.3 82.9L-137.6 78.3L-134.5 81.6zM-146.1 70.4L-143.6 66.1L-141.2 70zM-151.5 57L-148 53.4L-146.5 57.7zM-154.9 42.9L-152.6 41.1L-150.5 43L-152.7 44.9zM-157.2 28L-154.3 28.5L-154.4 31.4L-157.3 30.9zM-156.7 14.2L-156.1 17.1L-158.8 18.1L-159.4 15.3zM-156.8 1.2L-157.4 4.1L-160.3 3.9L-159.7 1zM-156.2 -12.1L-157.4 -9.4L-160.2 -10.1L-159 -12.8zM-154.7 -25.5L-155.9 -22.9L-158.7 -23.8L-157.4 -26.4zM-152.6 -39.8L-152.5 -36.9L-155.3 -36.3L-155.5 -39.2zM-151.8 -52.6L-148.9 -52.6L-148.5 -49.7L-151.4 -49.7zM-147 -65L-144.2 -65.4L-143.3 -62.7L-146.2 -62.2zM-140.9 -77.4L-138 -77.6L-137.4 -74.8L-140.3 -74.5zM-133.7 -89.3L-130.8 -89.1L-130.5 -86.2L-133.4 -86.4zM-125.1 -100.8L-122.4 -99.7L-123.1 -96.8L-125.8 -97.9zM-114.2 -111.1L-113.4 -108.3L-116 -107.1L-116.9 -109.9zM-103.2 -119.2L-104.8 -116.8L-107.4 -118L-105.8 -120.4zM-92.5 -127L-94.9 -125.3L-96.9 -127.4L-94.6 -129.1zM-81.3 -134.2L-84 -133.1L-85.5 -135.5L-82.9 -136.7zM-68.6 -140.2L-73.6 -140L-71.6 -144.1zM-55.8 -145.5L-60.7 -145.4L-58.6 -149.5zM-42.6 -150.2L-47.5 -149.8L-45.8 -154zM-29.2 -154.4L-33.9 -153L-33.1 -157.5zM-15.5 -157.7L-19.7 -155.1L-20.1 -159.7zM-1.8 -159.6L-5.4 -156.2L-6.7 -160.7zM11.9 -159.9L8.5 -156.3L7 -160.6zM25.6 -158.4L22 -155L20.8 -159.4zM38.9 -155.2L34.8 -152.5L34.3 -157zM51.7 -150.5L46.9 -149L47.7 -153.6zM63.7 -144.8L58.7 -145L61 -149zM75.1 -138.6L70.4 -140.3L73.8 -143.4zM85.9 -132L83.2 -133.1L83.9 -135.9L86.6 -134.8zM96.7 -124L94.3 -125.7L95.5 -128.3L97.9 -126.7zM104.5 -116.8L106.1 -119.3L108.7 -118L107.1 -115.6zM115.1 -109.7L117.9 -108.8L117.5 -106L114.7 -106.8zM124 -99.3L126.7 -98.5L126.3 -95.6L123.5 -96.4zM131.5 -88.5L135.9 -86.3L132.2 -83.6zM138 -76.9L142.6 -75L139.1 -72.1zM143.7 -64.9L148.3 -62.9L144.7 -60zM148.6 -52.4L153 -50.1L149.3 -47.5zM152.6 -39.6L156.7 -36.9L152.7 -34.7zM155.5 -26.6L159.2 -23.4L155 -21.6zM157.3 -13.3L160.6 -9.6L156.2 -8.4zM158.2 0.2L160.9 4.4L156.3 4.8zM145.3 6.3L147.5 10.8L142.9 10.7zM144.7 20.1L145.7 25L141.3 23.7zM142.7 33.8L142.5 38.7L138.5 36.5zM139.2 47.1L138.2 51.9L134.6 49zM134.2 59.9L132.7 64.6L129.5 61.4zM128 72.3L126 76.8L123.1 73.2zM120.6 84.1L118 88.4L115.6 84.5zM112 95.3L108.9 99.2L107.1 95zM102.4 105.6L98.8 109L97.6 104.6zM92 114.8L88 117.8L87.3 113.2zM80.9 122.9L76.7 125.5L76.3 120.9zM69.4 129.7L65.1 132.2L64.9 127.6zM57.4 135.2L53.1 137.8L52.8 133.2zM44.9 139.6L40.7 142.2L40.3 137.6zM31.9 142.6L27.7 145.3L27.3 140.7zM18.4 144.5L14.2 147.2L13.8 142.6zM4.4 145L0.3 147.9L-0.3 143.3zM-10.1 144.3L-14 147.4L-14.9 142.9zM-25.3 141.8L-26 144.6L-28.9 144.3L-28.2 141.5zM-42 138.4L-39.1 138.5L-38.8 141.4L-41.7 141.3zM-57.6 133.2L-52.7 133.2L-54.8 137.3zM-71 127.2L-66.1 127.1L-68.2 131.2zM-83 120L-78 120.3L-80.4 124.2zM-93.9 111.8L-89 112.4L-91.7 116.2zM-104 102.5L-99.1 103.6L-102.1 107.1zM-113.1 92.3L-108.4 93.9L-111.7 97zM-121.3 81.3L-116.7 83.3L-120.3 86.2zM-128.4 69.6L-124 72L-127.8 74.6zM-134.5 57.5L-130.3 60.1L-134.2 62.4zM-139.2 45L-135.2 48L-139.3 50zM-142.1 32.8L-138.6 36.4L-143 37.7zM-143.1 20.9L-141.6 25.6L-146.1 24.9zM-143.4 9.1L-144.2 11.9L-147.1 11.5L-146.3 8.7zM-143.4 -3.3L-145.6 -1.5L-147.8 -3.4L-145.5 -5.3zM-142.7 -15.9L-145.5 -15.3L-146.5 -18L-143.7 -18.6zM-141.5 -28.4L-144.1 -29.7L-143.2 -32.5L-140.6 -31.2zM-140.1 -41.8L-140.5 -44.7L-137.7 -45.5L-137.3 -42.6zM-136.3 -55.7L-134.8 -58.3L-132.1 -57.2L-133.6 -54.7zM-130.5 -68.7L-128.4 -70.7L-126.1 -68.8L-128.3 -66.9zM-123.5 -80.9L-121 -82.4L-119.2 -80.1L-121.7 -78.6zM-115.3 -92.2L-112.7 -93.3L-111.2 -90.8L-113.8 -89.7zM-106 -103L-103.1 -103.3L-102.4 -100.4L-105.3 -100.2zM-92.1 -111.5L-93.8 -109.2L-96.4 -110.5L-94.6 -112.9zM-81.2 -119.1L-83.6 -117.5L-85.6 -119.6L-83.2 -121.2zM-69.7 -126.2L-72.3 -124.8L-74 -127.1L-71.4 -128.5zM-56.6 -132L-61.4 -130.9L-60.2 -135.3zM-43.2 -137.1L-48 -135.7L-47.1 -140.2zM-29.8 -141.4L-34.3 -139.3L-34 -143.9zM-16.2 -144.7L-20.3 -141.9L-20.9 -146.4zM-2.7 -146.6L-6.3 -143.2L-7.6 -147.6zM10.8 -146.8L7.3 -143.2L5.9 -147.6zM24 -145.1L20.3 -141.8L19.2 -146.2zM36.7 -141.7L32.3 -139.3L32.2 -143.9zM48.7 -136.6L45.8 -136.3L45.1 -139.1L48 -139.4zM59.4 -130.7L57.7 -133L59.8 -135L61.5 -132.7zM70.1 -125.2L70.5 -128.1L73.4 -128.1L73 -125.2zM80.2 -119L84.3 -121.9L84.9 -117.3zM90.4 -112.3L95.3 -113.1L93.9 -108.7zM100.3 -104.5L105.2 -103.8L102.6 -100zM109.6 -95.2L114.3 -93.7L111 -90.5zM118 -84.8L122.5 -82.7L118.9 -79.9zM125.3 -73.3L129.7 -70.9L125.9 -68.3zM131.5 -61L135.7 -58.4L131.8 -56.1zM136.7 -48.2L140.7 -45.3L136.6 -43.2zM140.6 -34.8L144.4 -31.7L140.1 -29.9zM143.3 -21.2L146.8 -17.7L142.4 -16.3zM144.8 -7.5L147.9 -3.5L143.4 -2.7zM132.6 14.2L133 17.1L130.3 17.9L129.8 15zM131.1 28.6L129.9 31.2L127.1 30.4L128.3 27.8zM127.5 42.1L125.8 44.4L123.2 43.1L124.9 40.7zM122.4 54.6L120.9 57.1L118.2 55.9L119.8 53.4zM116.1 66.7L114.6 69.2L111.9 68L113.4 65.5zM108.6 78.2L106.9 80.5L104.3 79.2L106 76.8zM100.5 88.9L96.4 91.7L95.8 87.1zM90.7 98.9L86.3 101.1L86.4 96.5zM79.7 107.7L77.2 109.2L75.3 107L77.8 105.5zM68.2 115.2L65.6 116.6L63.9 114.3L66.5 112.9zM56 121.5L53.4 122.8L51.8 120.4L54.4 119.1zM43.3 126.4L40.7 127.7L39 125.3L41.7 124zM30.1 130L27.5 131.2L25.9 128.8L28.5 127.6zM16.5 132.7L13.6 133.2L12.7 130.5L15.5 130zM-0.5 134L-0.5 131.1L2.4 130.8L2.4 133.7zM-14.8 132.4L-13.2 130L-10.5 131.2L-12.1 133.6zM-30.5 130.3L-26.4 127.5L-25.8 132.1zM-45 126.5L-40.6 124.1L-40.5 128.7zM-58.2 121.1L-53.6 119.2L-54 123.8zM-70.4 114.2L-65.6 113L-66.7 117.5zM-81.7 106.1L-76.7 105.6L-78.5 109.9zM-91.9 96.6L-86.9 97.2L-89.5 101zM-100.8 86.1L-96.1 87.7L-99.4 90.9zM-108.3 74.9L-104.2 77.6L-108.2 79.8zM-114.6 63.2L-111.2 66.8L-115.7 68.1zM-119.8 51.6L-117.3 55.9L-121.9 56.1zM-123.8 40.4L-122.6 45.2L-127 44.1zM-126.5 29.4L-128.3 34.1L-131.3 30.6zM-128 18.2L-132.6 20.1L-132.2 15.5zM-128.9 6.5L-133.9 6.1L-131.4 2.2zM-129.4 -5.7L-133.9 -7.8L-130.2 -10.6zM-129.5 -18.4L-132.7 -22.2L-128.2 -23.2zM-128.6 -31.8L-129.6 -36.7L-125.2 -35.4zM-125.9 -45.7L-124.7 -50.6L-121.3 -47.5zM-120.9 -59.4L-118.2 -63.5L-116 -59.5zM-113.8 -72L-110.3 -75.6L-108.9 -71.2zM-104.8 -83.5L-101.1 -86.7L-100.1 -82.2zM-95.3 -93.8L-93.4 -96L-90.9 -94.5L-92.8 -92.3zM-85.1 -103.5L-82.6 -105.1L-80.7 -102.9L-83.2 -101.3zM-69.8 -111.9L-71.2 -109.4L-73.9 -110.4L-72.5 -113zM-57.9 -118.2L-59.9 -116.1L-62.2 -117.8L-60.2 -119.9zM-44.2 -123.6L-48.6 -121.2L-48.6 -125.8zM-30.8 -127.7L-35.2 -125.5L-35.2 -130.1zM-17.6 -130.9L-21.9 -128.3L-22.1 -132.9zM-4.8 -132.7L-8.7 -129.7L-9.5 -134.2zM7.9 -133L6.5 -130.5L3.8 -131.5L5.2 -134.1zM19.3 -133.2L21.3 -131.1L19.6 -128.8L17.5 -130.8zM30.6 -127.9L32.5 -130.1L35 -128.7L33.1 -126.4zM41.7 -123.4L45.6 -126.5L46.5 -122zM53 -118.4L57.2 -121.1L57.6 -116.5zM64.4 -112.8L69 -114.7L68.6 -110.1zM75.7 -106.4L80.6 -107.1L79.1 -102.8zM86.5 -98.7L91.4 -98.4L89 -94.5zM96.5 -89.8L101.3 -88.5L98.2 -85.1zM105.6 -79.7L110.1 -77.5L106.4 -74.8zM113.6 -68.5L117.6 -65.7L113.6 -63.6zM120.3 -56.5L123.9 -53.1L119.6 -51.6zM125.6 -43.6L128.8 -39.8L124.3 -38.8zM129.6 -29.8L132.3 -25.6L127.7 -25.2zM131.9 -15.1L134.2 -10.7L129.6 -10.7zM132.7 0.3L134.3 2.7L132 4.6L130.5 2.2zM120.3 10.7L115.9 8.4L119.7 5.8zM117.6 24.9L114.4 21.2L118.9 20.1zM113.6 37.9L111.3 33.5L115.9 33.5zM108.6 49.9L107 47.5L109.2 45.5L110.8 47.9zM103.4 61.9L100.9 60.3L102.2 57.7L104.6 59.3zM97.5 71.5L95 73L93.1 70.7L95.6 69.2zM88.8 81.6L86.5 83.4L84.4 81.5L86.6 79.6zM78.9 91.1L76.5 92.7L74.5 90.6L76.9 89zM67.9 99.6L65.3 100.8L63.7 98.4L66.4 97.2zM56 107L53.1 107.5L52.2 104.7L55.1 104.2zM42.9 113.2L40.1 112.4L40.5 109.5L43.3 110.3zM28.3 117.5L26.9 115L29.2 113.2L30.6 115.8zM13.5 119.8L15 115L18.3 118.3zM-1.7 121L0.9 116.8L3.3 120.7zM-16.7 120.4L-13.5 116.6L-11.7 120.8zM-30.9 117.8L-27.3 114.4L-26.1 118.9zM-44.3 113.4L-40.3 110.5L-39.7 115.1zM-57 107.3L-52.5 105.1L-52.7 109.7zM-68.8 99.5L-63.9 98.3L-65.1 102.8zM-79.2 90.1L-74.2 90.3L-76.5 94.3zM-87.9 79.4L-83.3 81.3L-86.9 84.2zM-94.6 68.2L-91.2 71.8L-95.7 73zM-100.1 57.1L-98.4 61.7L-102.9 61.1zM-104.8 46.2L-104.8 51.1L-108.9 49zM-108.6 35.8L-110.9 40.2L-113.6 36.4zM-111.5 25.6L-116 27.7L-115.8 23.1zM-113.7 14.7L-118.7 14.5L-116.4 10.5zM-115.3 2.9L-119.9 0.9L-116.3 -2zM-116.2 -9.5L-119.7 -13L-115.3 -14.4zM-116.4 -22.7L-117.9 -27.4L-113.4 -26.7zM-114.7 -36.7L-114.1 -41.6L-110.4 -39zM-110.6 -50.6L-108.3 -55L-105.7 -51.2zM-104 -63.6L-100.8 -67.4L-99 -63.1zM-95.2 -75.7L-91.3 -78.7L-90.4 -74.2zM-84.5 -86.8L-79.7 -88.3L-80.5 -83.8zM-72.2 -97.1L-69.6 -95.8L-70.6 -93L-73.2 -94.4zM-58.3 -105.2L-58.9 -100.3L-62.7 -102.8zM-44.1 -110.9L-46.9 -106.8L-49 -110.8zM-30.3 -114.6L-34.1 -111.4L-35.1 -115.9zM-17 -116.8L-21.4 -114.5L-21.4 -119.1zM-4.2 -117.8L-8.9 -116.3L-8.1 -120.8zM7.7 -117.3L2.8 -117.4L4.9 -121.4zM18.5 -115.3L16.5 -117.4L18.4 -119.7L20.3 -117.5zM29.1 -111.9L30.5 -116.7L33.8 -113.4zM40.2 -107.6L42.8 -111.8L45.2 -107.9zM51.5 -102.4L54.8 -106.1L56.4 -101.8zM62.5 -96.4L66.6 -99.3L67.2 -94.8zM73.1 -89.8L77.8 -91.4L77.1 -86.8zM83.5 -82.3L88.4 -82L86.1 -78.1zM93.5 -73.4L98 -71.2L94.3 -68.5zM102.8 -62.7L106.1 -59.1L101.7 -57.9zM110.7 -50.3L112.5 -45.7L107.9 -46.2zM116.8 -36.2L116.7 -31.3L112.7 -33.5zM120.4 -20.7L118 -16.4L115.5 -20.2zM121.4 -4.7L116.6 -3.4L117.6 -7.9zM105.2 18.8L102.2 14.8L106.8 14.1zM100.9 31.2L99.6 26.4L104.1 27.4zM95.6 42.2L96.8 37.4L100.2 40.5zM89.4 52.6L91.3 50.4L93.7 52L91.8 54.1zM84.9 61.5L85.9 64.3L83.3 65.6L82.3 62.8zM77.6 72.6L74.7 76.6L72.7 72.5zM68.7 82.4L64.5 85.2L64.1 80.6zM57.6 91.2L52.9 92.5L53.8 88zM44.8 98.4L39.8 97.9L42.4 94.1zM30.4 104L26.8 100.6L31.1 99.1zM14.9 107.8L14.2 102.9L18.6 104.4zM-0.7 109.3L0.5 104.5L4 107.5zM-15.5 108.4L-13.3 103.9L-10.6 107.6zM-29.6 105.4L-26.7 101.4L-24.6 105.5zM-43 100.4L-39.4 97L-38.1 101.4zM-55.5 93.4L-51.2 90.9L-51 95.5zM-66.6 83.9L-61.6 83.3L-63.3 87.6zM-74.4 72.5L-70.2 75L-74.1 77.4zM-79.8 61.9L-78.2 66.5L-82.7 65.9zM-85.4 51.9L-85.8 56.9L-89.7 54.3zM-90.5 41.6L-92.6 46.1L-95.4 42.4zM-94.6 31.4L-98.5 34.6L-99.4 30.1zM-97.9 21L-102.7 22.1L-101.6 17.7zM-100.3 9.7L-105.2 9L-102.5 5.2zM-101.8 -2.3L-106.2 -4.7L-102.3 -7.2zM-103 -14.7L-105.5 -19L-101 -19.2zM-103 -28.6L-102.6 -33.6L-98.7 -31.2zM-99.8 -43L-97.3 -47.3L-94.8 -43.5zM-93.7 -56.4L-90 -59.8L-88.8 -55.4zM-85.2 -68.8L-80.8 -71.1L-80.8 -66.5zM-74.4 -80.5L-69.4 -80.5L-71.5 -76.4zM-61.2 -90.9L-57.6 -87.5L-61.9 -85.9zM-46.5 -98.2L-45.9 -93.2L-50.2 -94.9zM-31.4 -101.8L-33.9 -97.6L-36.3 -101.5zM-17.4 -103.1L-21.7 -100.6L-21.9 -105.2zM-4.4 -103.1L-9.3 -102.5L-7.8 -106.8zM7.8 -102L2.9 -103.2L6 -106.6zM19.3 -99.8L15.4 -102.8L19.6 -104.7zM31 -96.2L28.3 -100.3L32.9 -100.7zM43.1 -90.9L40.9 -95.3L45.5 -95.2zM55.3 -84.1L52.9 -88.5L57.5 -88.6zM67.1 -76.2L64.1 -80.3L68.7 -80.9zM78.1 -67.3L74.5 -70.7L78.8 -72.3zM88.1 -57.6L83.7 -60L87.6 -62.6zM96.3 -47L91.6 -48.5L94.8 -51.7zM102.5 -35.2L97.6 -36.3L100.5 -39.8zM106.4 -22.3L101.6 -23.5L104.6 -27zM108.1 -8.7L103.5 -10.6L107.1 -13.5zM107.7 5.2L103.7 2.3L107.8 0.3zM93.6 11.3L90.6 7.3L95.1 6.5zM89.3 23.3L89.1 18.3L93.2 20.3zM83.9 33.7L87.6 30.4L88.7 34.9zM78.7 43.8L83.7 44L81.4 48zM73.4 54L76.3 58L71.8 58.7zM67.1 64.7L65.3 69.3L62.3 65.8zM58.4 75.2L54.1 77.8L53.9 73.2zM46.9 84.3L42 84.7L43.7 80.5zM33.2 91.4L28.6 89.5L32.1 86.5zM17.8 96.2L15 92.2L19.5 91.6zM2 98.3L1.1 93.4L5.5 94.8zM-13.1 97.6L-12.7 92.6L-8.8 95.1zM-27.4 94.6L-26.1 89.8L-22.7 92.9zM-40.9 89.5L-38.9 84.9L-36 88.6zM-53 81.4L-49.7 77.7L-48 81.9zM-58.6 68.5L-57.3 73.2L-61.8 72.3zM-64.6 58.4L-66.4 63L-69.5 59.6zM-72.1 48.5L-74.8 52.7L-77 48.7zM-78.3 37.9L-81.8 41.4L-83.2 37zM-82.9 26.9L-87.2 29.3L-87.3 24.7zM-86.1 15.5L-90.9 16.5L-89.7 12.1zM-87.8 3.6L-92.8 3.2L-90.3 -0.7zM-89.2 -8L-93.3 -10.8L-89.3 -13zM-91.5 -21.3L-91.8 -26.3L-87.6 -24.3zM-89.8 -36.8L-86.7 -40.7L-84.9 -36.5zM-83.8 -50.7L-79.5 -53.3L-79.2 -48.7zM-75.2 -63.1L-70.4 -64.4L-71.4 -59.9zM-64.3 -74.4L-59.4 -73.9L-62 -70zM-51.5 -83.8L-47.2 -81.3L-51.2 -78.9zM-36.7 -90.1L-34.3 -85.7L-38.9 -85.6zM-20.4 -91L-23.9 -87.5L-25.3 -91.8zM-6.6 -89.6L-11.5 -90.3L-8.8 -94zM5.8 -88.5L1.6 -91.1L5.5 -93.4zM18.2 -86.7L14.6 -90.1L19 -91.6zM31.1 -83.3L27.7 -86.9L32.1 -88.2zM44.3 -77.9L40.5 -81.1L44.8 -82.8zM56.7 -70.6L52.6 -73.4L56.6 -75.6zM67.6 -62L63.3 -64.5L67.2 -67zM77 -52L72.6 -54.3L76.3 -56.9zM84.6 -40.8L80.1 -43L83.8 -45.7zM90.3 -28.6L85.9 -30.8L89.6 -33.5zM93.9 -15.6L89.6 -18L93.4 -20.5zM95.1 -2.1L91.1 -5.1L95.3 -7.1zM77.9 14.9L79.1 10.1L82.5 13.2zM72.8 25.5L77.4 23.6L77 28.2zM67.7 36.4L72.7 36.6L70.4 40.6zM62 47.3L66.3 49.6L62.6 52.2zM56 58.5L55.7 61.4L52.8 61.5L53.1 58.6zM47.1 69.8L42.2 70.3L43.9 66zM34.8 78.3L30.1 76.8L33.4 73.6zM20.4 84L16.6 80.8L20.8 79.1zM5.1 86.7L2.5 82.5L7.1 82.2zM-9.7 86.5L-11.5 81.9L-7 82.4zM-23.3 83.8L-25 79.2L-20.5 79.7zM-34.5 78.6L-37.5 74.6L-32.9 73.9zM-42.4 68.6L-47.3 68.4L-45.1 64.4zM-51.5 56.6L-55.8 59.1L-56.1 54.5zM-60.3 45.4L-64.3 48.3L-65 43.8zM-67.2 33.8L-71.3 36.5L-71.8 32zM-71.9 21.7L-76.3 23.9L-76.2 19.3zM-74.5 9.1L-79.2 10.6L-78.4 6.1zM-75.2 -3.6L-80.1 -2.9L-78.5 -7.3zM-77.6 -16.2L-81.3 -19.6L-76.9 -21.2zM-79.8 -32.2L-75.5 -34.5L-75.4 -29.9zM-73.7 -45.8L-68.9 -47L-69.9 -42.5zM-64.8 -57.6L-59.9 -57.9L-61.7 -53.7zM-54 -67.8L-49.1 -67.2L-51.7 -63.4zM-41.8 -75.7L-37 -74.4L-40.1 -71zM-28 -79.6L-23.1 -78.6L-26 -75zM-11.7 -77.4L-13.6 -82L-9 -81.6zM3 -76.1L0 -80.1L4.6 -80.8zM16.7 -74.5L13.7 -78.5L18.2 -79.2zM30.3 -71.3L26.9 -74.9L31.3 -76.1zM43.5 -65.6L39.5 -68.4L43.5 -70.5zM55.5 -57.4L51.1 -59.7L54.9 -62.3zM65.6 -47.4L61.1 -49.6L64.7 -52.3zM73.5 -36.1L69 -38.2L72.7 -41zM79.1 -23.6L74.7 -25.9L78.5 -28.5zM82.2 -10.3L78 -13L82 -15.3zM81.9 3.1L78.7 -0.7L83.2 -1.7zM66.8 6.8L68.9 2.3L71.7 5.9zM62.6 17.7L67.3 16L66.7 20.6zM57.8 29.5L62.7 28.8L61.2 33.1zM51.4 41.2L56.4 40.7L54.7 44.9zM43.8 53.7L44.5 50.9L47.4 51.2L46.7 54zM36.3 63.9L32.2 61L36.3 58.9zM24.3 70.9L20.4 67.8L24.6 65.9zM10.6 74.6L7 71.1L11.4 69.7zM-3.2 75.2L-6.6 71.6L-2.2 70.3zM-16 72.7L-19.8 69.5L-15.5 67.8zM-27 66.8L-31.6 65L-28.2 62zM-36.9 57.4L-41.8 57.8L-40 53.5zM-46.3 46.3L-50.9 48.1L-50.4 43.5zM-54.2 34.4L-58.5 36.8L-58.6 32.2zM-59.7 21.8L-64 24.3L-64.2 19.7zM-62.8 8.4L-67 10.9L-67.3 6.3zM-63.5 -5.9L-67.4 -2.9L-68.2 -7.4zM-65.7 -21.9L-65.1 -17L-69.4 -18.6zM-66.5 -34.8L-61.7 -33.6L-64.7 -30.2zM-59.9 -46L-55 -45.4L-57.6 -41.6zM-50.5 -55.9L-45.6 -55.3L-48.2 -51.5zM-39.4 -63.7L-34.5 -63.1L-37 -59.3zM-26.9 -68.2L-22 -68.4L-24 -64.3zM-11.9 -67.5L-8.9 -71.4L-7 -67.2zM4.8 -65L2.6 -69.4L7.2 -69.3zM19.8 -62.6L16.2 -66L20.6 -67.5zM33.5 -58.3L29.2 -60.8L33.1 -63.3zM45.6 -51.4L41 -53.2L44.5 -56.2zM55.8 -41.9L51.1 -43.6L54.5 -46.7zM63.7 -30.6L59.1 -32.4L62.6 -35.4zM68.7 -17.9L64.4 -20.2L68.2 -22.8zM70 -4.8L66.7 -8.4L71.1 -9.6zM52.4 10.1L57.1 8.4L56.5 13zM48.3 22.7L53 21.3L52.2 25.8zM41.8 35.2L46.2 32.9L46.2 37.5zM34.2 47.2L35.9 42.6L39 45.9zM25.5 56.8L23.1 52.5L27.7 52.3zM14.2 62L10.8 58.4L15.3 57.2zM1.7 63.5L-2.2 60.4L2 58.5zM-10.6 61.3L-15 59L-11.2 56.4zM-21.8 55.3L-26.7 54.4L-23.8 50.8zM-32 46.2L-37 46.8L-35.3 42.5zM-40.8 34.9L-45.5 36.6L-44.9 32zM-47.4 22L-51.7 24.5L-51.9 19.9zM-51.3 7.9L-55 11.2L-56.1 6.7zM-52.9 -7.4L-55.3 -3L-57.8 -6.8zM-54.3 -22.8L-52.9 -18.1L-57.4 -18.9zM-52.6 -34.8L-48.5 -32L-52.6 -29.9zM-45.7 -44.7L-41 -43L-44.4 -39.9zM-35.9 -52.5L-31 -51.5L-33.9 -47.9zM-24 -57.6L-19.1 -57.3L-21.4 -53.4zM-9.9 -58.6L-5.1 -59.8L-6.1 -55.3zM7.6 -55.3L5.5 -57.4L7.2 -59.7L9.3 -57.7zM23.4 -50.9L18.8 -52.7L22.3 -55.7zM36.1 -44.6L31.3 -45.9L34.5 -49.3zM46.4 -35.6L41.6 -37.1L44.8 -40.4zM53.6 -24.5L49.1 -26.5L52.7 -29.4zM56.8 -12.4L53.4 -15.9L57.8 -17.2zM55.2 -1.3L58.1 -5.3L60.2 -1.2zM42.2 2.2L47 1L46 5.5zM39.4 15.7L44 14L43.4 18.6zM33.4 28.9L37.2 25.7L38.1 30.2zM25.3 40.4L26.6 35.7L30 38.8zM16 48.6L14.1 44L18.7 44.4zM5.2 51.8L1.6 48.4L5.9 46.9zM-6.3 50.3L-10.8 48.3L-7.2 45.4zM-17.4 44.4L-22.3 43.9L-19.8 40zM-27.3 34.8L-32.2 35.8L-30.9 31.4zM-35.1 22.3L-39.5 24.7L-39.6 20.1zM-40.2 7.8L-43.5 11.6L-45.2 7.3zM-42.7 -7.6L-44 -2.8L-47.4 -5.9zM-43 -22L-41.4 -17.3L-45.9 -18zM-39.4 -33.4L-35.8 -30L-40.1 -28.5zM-31.4 -41.8L-26.9 -39.7L-30.6 -36.9zM-20.5 -47.4L-15.6 -46.2L-18.7 -42.8zM-7 -49.5L-2.1 -48.6L-5 -45zM8.6 -47.5L11.4 -46.9L11.2 -44L8.4 -44.6zM24.2 -39.9L21.4 -39.5L20.5 -42.3L23.4 -42.7zM35.3 -30.9L30.5 -32.4L33.8 -35.6zM41.3 -20.3L39.2 -22.3L40.8 -24.7L42.9 -22.7zM42.6 -9.8L46.9 -12.4L47.2 -7.8zM30.3 8.6L35.1 7.2L34.2 11.7zM24.8 23L28.1 19.3L29.7 23.6zM15.7 33.9L16 29L20 31.4zM5.2 39.3L2.2 35.4L6.7 34.5zM-6 37.7L-10.7 36.1L-7.4 32.9zM-17 29.8L-21.9 30.5L-20.3 26.1zM-25.8 16.9L-29.8 19.8L-30.4 15.2zM-31.1 1.1L-33 5.7L-35.9 2.1zM-32.4 -14.4L-31.7 -9.5L-36.1 -11.1zM-28.7 -26.9L-25.9 -22.8L-30.4 -22.2zM-20.1 -35L-15.8 -32.4L-19.8 -30zM-7.7 -38.9L-3.1 -37.1L-6.5 -34.1zM6.6 -37.5L11.2 -35.7L7.7 -32.7zM19.4 -30.4L24.1 -29L20.9 -25.7zM27.4 -19.5L32.4 -19.4L30.2 -15.3zM31 -6.3L36 -6.7L34.1 -2.4zM21.2 0.4L26.2 -0.1L24.4 4.2zM17.6 15.4L19 12.9L21.7 13.9L20.3 16.4zM8 25.1L6.8 22.4L9.2 20.8L10.4 23.5zM-3.3 25.9L-8 24.3L-4.7 21.1zM-13.9 17.3L-18.3 19.6L-18.3 15zM-20.9 2.6L-22.7 7.2L-25.7 3.7zM-21.7 -12.7L-20.8 -7.8L-25.2 -9.1zM-15.6 -23.4L-12.4 -19.6L-16.8 -18.6zM-4.3 -27.9L0.1 -25.7L-3.6 -23zM8.4 -24.8L13.2 -23.3L9.9 -20.1zM17.8 -14.4L22.8 -13.7L20 -10zM9 7.6L11.2 5.7L13.4 7.5L11.2 9.5zM0.8 14.8L-2.1 15L-2.7 12.2L0.2 11.9zM-10.5 4.5L-10.9 7.4L-13.8 7.3L-13.4 4.5zM-10.8 -10.3L-9.1 -5.6L-13.7 -6.2zM-0.7 -16.1L3.6 -13.6L-0.3 -11.1zM9.9 -7.8L14.7 -6.7L11.8 -3.2z"/><use href="#top"/></g><circle class="oc" r="180.5"/><use href="#lab"/><text class="tt" transform="translate(0 -206.3) scale(1 1.09)" text-anchor="middle">(h) MIROC5 (AMIP)</text></g><rect x="111.8" y="932.3" width="111.7" height="28.1" fill="#023858"/><rect x="223.2" y="932.3" width="111.7" height="28.1" fill="#0a6299"/><rect x="334.6" y="932.3" width="111.7" height="28.1" fill="#2080b8"/><rect x="445.9" y="932.3" width="111.7" height="28.1" fill="#67a5cf"/><rect x="557.3" y="932.3" width="111.7" height="28.1" fill="#a6bddb"/><rect x="668.7" y="932.3" width="111.7" height="28.1" fill="#d6d6e9"/><rect x="780.1" y="932.3" width="111.7" height="28.1" fill="#fff"/><rect x="891.4" y="932.3" width="111.7" height="28.1" fill="#fff"/><rect x="1002.8" y="932.3" width="111.7" height="28.1" fill="#fcc8c4"/><rect x="1114.2" y="932.3" width="111.7" height="28.1" fill="#f99fb5"/><rect x="1225.5" y="932.3" width="111.7" height="28.1" fill="#f05ea0"/><rect x="1336.9" y="932.3" width="111.7" height="28.1" fill="#c51b8a"/><rect x="1448.3" y="932.3" width="111.7" height="28.1" fill="#87057b"/><rect x="1559.6" y="932.3" width="111.7" height="28.1" fill="#49006a"/><rect x="111.8" y="932.3" width="1559.2" height="28.1" fill="none" stroke="#000" stroke-width="1.3"/><text class="cb" x="223.2" y="998" text-anchor="middle">-120</text><text class="cb" x="334.6" y="998" text-anchor="middle">-100</text><text class="cb" x="445.9" y="998" text-anchor="middle">-80</text><text class="cb" x="557.3" y="998" text-anchor="middle">-60</text><text class="cb" x="668.7" y="998" text-anchor="middle">-40</text><text class="cb" x="780.1" y="998" text-anchor="middle">-20</text><text class="cb" x="891.4" y="998" text-anchor="middle">0</text><text class="cb" x="1002.8" y="998" text-anchor="middle">20</text><text class="cb" x="1114.2" y="998" text-anchor="middle">40</text><text class="cb" x="1225.5" y="998" text-anchor="middle">60</text><text class="cb" x="1336.9" y="998" text-anchor="middle">80</text><text class="cb" x="1448.3" y="998" text-anchor="middle">100</text><text class="cb" x="1559.6" y="998" text-anchor="middle">120</text><text class="gp" x="1696" y="972.9">gpm</text></svg></body></html>
